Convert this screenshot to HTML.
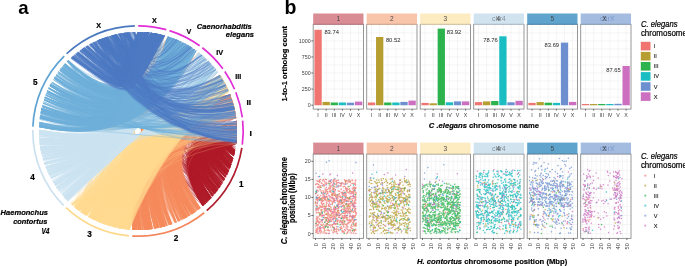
<!DOCTYPE html>
<html><head><meta charset="utf-8"><style>
html,body{margin:0;padding:0;background:#fff;width:685px;height:266px;overflow:hidden}
svg{display:block;font-family:"Liberation Sans", sans-serif;will-change:transform}
</style></head><body>
<svg xmlns="http://www.w3.org/2000/svg" width="685" height="266" viewBox="0 0 685 266" font-family='"Liberation Sans", sans-serif'><g fill="none" stroke-linecap="butt">
<path d="M231.2 164.4Q211.3 147.4 236.6 140.4M219.6 187Q175.7 141.2 236.7 123.7M234.1 154.8Q215 141.2 237 133M228.1 172Q196.9 144.1 237 132.2M233 158.8Q210 141.7 237 132M217.6 189.9Q181.4 146.6 236.9 136.2M234.9 151.1Q228.1 146.1 236.2 143.5M202.9 205.7Q159.9 140.6 237 128.4M209.9 199.1Q162.4 139.4 236.5 121.4M217.4 190.1Q137.9 131 216.9 71.2M219.4 187.4Q187.3 149.1 236.5 140.8M214.3 194.1Q125.3 132.3 199.3 53.3M234.7 152Q218.3 140.7 237 133.6M227.8 172.7Q199.7 146.5 236.8 136.7M222 183.5Q177.7 140.4 236.6 121.7M230 167.5Q201.1 143.3 237 131.7M223.7 180.5Q190.7 146.4 236.9 135.5M231.8 162.6Q211.8 146.1 236.7 138.7M234.4 153.7Q211.6 138.4 237 128M217 190.7Q178.3 145 237 132.9M228.6 171Q197.7 143.8 237 131.8M233.8 155.9Q188.5 130.5 233.3 104M208.7 200.3Q161.4 139.3 236.6 121.8M226.1 176.2Q194.8 145.9 236.9 135M206.9 202.1Q170.3 146.3 236.7 139.2M210.3 198.6Q139.2 131.1 224.4 82.6M203.3 205.4Q164.6 143.8 236.9 135.8M222.8 182.1Q190.8 147.7 236.8 137.9M216.6 191.2Q179.3 146 236.9 135.2M210.9 198Q163.9 139.7 236.6 122M231.8 162.6Q206.2 142.5 237 132M216.9 190.8Q184.7 149.7 236.3 142.3M230.6 166Q209.5 147.5 236.6 140.2M233.1 158.4Q212.7 142.9 236.9 134.6M215.3 192.9Q180.1 147.7 236.7 138.9M233 158.9Q131.4 134.1 177.3 40.1M222.1 183.2Q191.8 149.2 236.5 140.7M234.7 152.3Q166.6 125.6 220.2 75.8M211 197.9Q177.6 149.3 236.2 143.4M234.3 153.8Q218.3 142.3 236.9 135.6M220.1 186.3Q189.5 150 236.4 142.3M226.9 174.5Q191.9 142.9 237 129M231.1 164.6Q212.7 148.5 236.4 142.3M207.2 201.8Q168.6 144.8 236.9 135.9M235.1 150.2Q153.2 126.2 206.4 59.4M229.8 168.1Q206.3 147.2 236.7 139M214.2 194.2Q173.2 143.6 237 130.6M208.2 200.8Q169.6 144.9 236.9 135.7M221.4 184.3Q183 144 237 130.3M223.2 181.5Q190 146.7 236.9 135.9M210.2 198.8Q174.7 147.6 236.6 140.4M231.4 163.9Q205.1 142.9 237 132.3M213.1 195.5Q173.6 144.7 237 133.4M206.3 202.7Q123.3 131.2 203.9 57.1M234.8 151.9Q159.7 125.7 214.1 67.7M231.7 163.1Q145.9 129.1 206.6 59.6M212.3 196.4Q174.8 146.1 236.8 136.5M230.3 166.9Q206.4 146.2 236.8 137.5M219.5 187.2Q174 140.4 236.6 121.6M230.9 165.2Q198.3 140 236.8 125.5M232.7 160Q200.3 137.4 236.6 121.9M215.5 192.7Q179.4 147 236.8 137.5M203.5 205.2Q157 138.6 236.6 122.4M206.5 202.5Q166.7 143.7 237 133.9M233.8 156.2Q219 144.9 236.7 139.2M234.4 153.5Q217.3 141.4 237 134.1M219.3 187.4Q187.8 149.6 236.4 141.6M228 172.2Q199.5 145.9 236.9 135.7M212.8 195.8Q176.6 147.1 236.7 138.4M212.3 196.4Q169.6 142.4 237 128.4M220.1 186.3Q124.2 134.2 187.8 45.4M231.2 164.4Q203 142.1 237 130.3M234.1 154.7Q212.6 139.8 237 130.3M228.3 171.6Q202.2 147.3 236.7 138.4M208.4 200.6Q168.1 143.7 237 133M205.6 203.4Q115.5 136.7 162.7 35.1M234.6 152.6Q218.2 141.2 236.9 134.2M221.4 184.4Q189 148.1 236.7 138.7M224.7 178.8Q191.2 145.5 237 133.9M230.8 165.4Q122.3 140.3 152.1 33M229.8 168.1Q196.8 141.3 236.9 127.2M202.8 205.8Q162.4 142.4 237 132.8M213 195.6Q177.1 147.3 236.7 138.8M232.3 161.1Q214 146.1 236.6 139.4M227.4 173.5Q187 139.6 236.5 121.5M219.1 187.8Q179.2 143.7 237 129.9M233.8 155.9Q215.9 142.7 236.9 135.3M218.2 189.1Q184 147.9 236.7 138.7M216.5 191.4Q181.6 147.8 236.7 138.8M217.3 190.3Q178.6 144.9 237 132.7M226.9 174.6Q123 137.3 169.3 37.1M203.4 205.3Q167.6 146.2 236.5 140.7M231.2 164.3Q121.9 141.2 147.5 32.5M204.7 204.2Q158.7 139.2 236.7 123.6M221.2 184.6Q188.1 147.7 236.8 137.9M214.7 193.6Q176.4 145.5 236.9 134.6M206.6 202.4Q148 133.6 232.9 102.7M234.8 152Q162.7 125.5 216.9 71.2M207.2 201.8Q165.2 142.3 237 130.3M219.4 187.4Q176.2 141.7 236.8 125M206.6 202.4Q149.8 134.3 233.7 105.7M219.5 187.3Q177.9 142.6 236.9 127.2M222.1 183.2Q191.6 149.2 236.5 140.6M210.7 198.2Q174.9 147.3 236.6 139.7M212.8 195.9Q179.3 149.3 236.3 142.7M213.5 195.1Q176.3 146.4 236.8 136.8M229.6 168.7Q201 144.2 237 133.1M224.4 179.3Q189.8 145 237 132.7M233.1 158.7Q218.5 146.9 236.4 141.6M229.6 168.6Q200 143.5 237 131.8M214.9 193.4Q168 140 236.5 121.5M230 167.6Q201.4 143.6 237 132.3M212.9 195.7Q169.4 142 236.9 127.1M228.8 170.5Q206.7 149.6 236.3 142.6M222.7 182.2Q119.2 138.9 160.3 34.5M233.8 155.9Q212.1 140.4 237 131M228.1 172.1Q198.8 145.4 236.9 134.6M234.5 153Q221 143.2 236.8 137.8M230 167.6Q207.6 147.6 236.6 139.9M234.6 152.9Q147 127.9 200.5 54.2M223.8 180.5Q194.1 148.8 236.6 140M219.9 186.6Q188.1 149.2 236.5 140.8M204.7 204.1Q161.7 141.1 237 128.5M232.8 159.7Q208 141.2 237 130.6M215 193.3Q181 148.7 236.5 140.8M209.7 199.2Q162.4 139.4 236.6 121.7M224.7 178.8Q188.1 143.6 237 129.7M216.8 191Q178.9 145.5 237 134.1M206.8 202.1Q171.6 147.4 236.4 141.5M223.2 181.5Q140.6 130.8 213.6 67.1M234.3 154.1Q217.7 142.2 236.9 135.4M219.9 186.7Q184.7 146.7 236.9 136.1M220.7 185.4Q179.8 142.7 236.9 127.3M209.1 199.9Q170.6 145.1 236.9 135.8M220.5 185.7Q183.8 145.4 237 133.4M210.5 198.5Q177.1 149.3 236.2 143.6M221.9 183.6Q162.6 134.1 232.3 100.8M231 165Q206.7 144.8 236.9 135.5M219.8 186.7Q187.7 148.9 236.6 140.4M229.9 167.8Q201.2 143.6 237 132.3M213 195.6Q168.3 141.3 236.8 125.3M227.1 174.1Q199.8 147.7 236.7 138.7M230.1 167.3Q206.9 146.9 236.7 138.7M230.1 167.4Q204.4 145.2 236.9 135.6M232.7 159.8Q214.1 145 236.8 137.9M207.6 201.4Q173.1 148.1 236.3 142.4M228.4 171.5Q194.4 142.3 237 128.3M230.3 166.8Q207.7 147 236.7 139M228.6 170.9Q194 141.7 236.9 127.2M228.4 171.4Q197.1 143.8 237 131.6M216.1 191.8Q178 145.5 236.9 134.2M234.8 151.7Q219.6 141.2 236.9 134.7M220.5 185.8Q186 147 236.8 136.5M228 172.3Q139.4 130.7 204.9 58M228.4 171.3Q195.7 142.9 237 129.7M217.1 190.5Q161.6 135.9 234.3 107.9M231.9 162.2Q206.4 142.4 237 131.8M227.1 174.2Q195.3 144.8 237 133M228.4 171.3Q202.8 147.5 236.7 138.8M233.1 158.4Q216.7 145.5 236.6 139.4M217 190.6Q175.3 142.9 237 128.3M234.7 152.2Q227 146.4 236.2 143.5M234.8 151.9Q195.6 130.4 234.3 108.1M204 204.8Q157.2 138.5 236.6 122M214.6 193.7Q172.6 143 237 129M216.3 191.6Q180.4 147 236.8 137.4M212.9 195.7Q167.9 141.1 236.8 125M209.1 199.9Q174.7 148.4 236.3 142.5M210.5 198.4Q168.1 142.6 237 129.4M202.9 205.8Q162.6 142.5 237 133M229.7 168.4Q202.8 145.1 236.9 135M228.9 170.2Q199 144.1 237 132.7M227.7 172.9Q201.5 147.9 236.7 139.3M232.3 161.2Q208.9 143 237 133.5M229.5 168.8Q207.2 148.4 236.5 140.9M230.4 166.7Q198 140.9 236.9 127M207.6 201.4Q169.8 145.5 236.8 137.2M226.8 174.9Q196.7 146.2 236.9 135.7M227.2 174Q154.5 130.2 222.6 79.7M217.3 190.3Q116.9 140.4 146.8 32.4M212.6 196.1Q120.3 134 186.9 44.9M205.1 203.8Q168.8 146.1 236.6 139.7M203.7 205Q159.6 140.2 236.9 126.6M232.5 160.6Q203.7 139.6 236.9 126.6M216 192Q174.8 143.4 237 129.7M234.1 154.6Q220.9 144.7 236.6 139.6M230.2 167.2Q174.9 131.8 231.7 99M235 151Q221 141.4 236.9 135.5M208 201Q162.2 140 236.8 124.1M219.7 186.9Q174.1 140.3 236.5 121.4M204.7 204.1Q115.5 136.4 164.3 35.6M206.5 202.5Q164 141.9 237 129.5M231.3 164.1Q205.3 143.2 237 132.7M234.2 154.4Q213.4 140 237 130.8M228.4 171.3Q199 145 237 134.1M225.7 176.9Q195.9 147.3 236.8 137.5M204.8 204.1Q115.9 138.2 148.9 32.6M232.2 161.4Q210.3 144.1 236.9 135.5M206.6 202.4Q172.7 148.5 236.2 143.7M219 187.9Q124.6 133.7 190.8 47.3M230.8 165.6Q199.2 140.8 236.9 127.1M230.9 165.3Q181.8 133.1 233.7 105.6M230 167.5Q209.2 148.6 236.4 141.7M233.2 158.3Q209.4 140.9 237 130.6M222.7 182.2Q189.6 146.9 236.9 136.4M217.7 189.7Q175 142.2 236.9 126.5M230.5 166.2Q206.1 145.4 236.9 136.3M214.3 194Q176.9 146.1 236.9 135.9M235.4 148.5Q222.4 139.9 237 134.1M216 192Q179.4 146.6 236.8 136.5M217.4 190.1Q179.8 145.5 237 134M217.2 190.3Q142.7 131.2 222.2 79M213.1 195.5Q165.8 139.8 236.5 121.3M235 150.8Q217.9 139.4 237 131.8M209.3 199.7Q173.4 147.2 236.6 139.9M214.7 193.5Q179.3 147.6 236.7 138.8M208 201Q169 144.6 236.9 135.1M219.1 187.7Q175.8 141.6 236.8 124.9M209.8 199.1Q171.9 145.7 236.8 136.6M203.7 205.1Q163.7 142.9 237 133.6M213.5 195.1Q175.9 146 236.9 136.1M206.1 202.8Q169.4 146 236.7 139M230.8 165.5Q194.4 138.3 236.5 121.2M234.6 152.5Q224.4 145 236.5 141M216.9 190.8Q183.5 148.8 236.5 140.7M230.4 166.7Q204.6 144.8 236.9 135M217.9 189.5Q180.2 145.5 237 133.9M227.1 174.2Q188.2 140.6 236.7 123.8M223.7 180.5Q195.3 149.7 236.4 141.7M219 187.9Q183.8 146.9 236.8 136.6M221.1 184.7Q184 144.9 237 132.3M226.2 175.9Q119.7 140.4 152.5 33.1M203.1 205.6Q164.1 143.5 236.9 135.2M233.2 158.2Q218.2 146.3 236.5 140.7M212.5 196.2Q171.9 143.9 237 131.8M204.6 204.2Q157.4 138.5 236.5 121.5M226.2 176Q200.7 150 236.3 142.4M221.1 184.8Q184 144.9 237 132.3M202.9 205.7Q161.1 141.4 237 130.4M214.4 194Q172.7 143.2 237 129.6M210.7 198.2Q167.6 142.1 237 128.3M234.3 153.8Q207.8 136.6 236.7 123.8M231.3 164.2Q201.9 141.3 237 128.8M233.8 155.9Q213 141 237 132.1M226.2 176Q194.6 145.7 236.9 134.5M208.2 200.8Q171.4 146.3 236.7 138.6M235 150.8Q209 134.9 236.6 121.9M205.1 203.8Q165.1 143.3 237 133.7M214.4 194Q178.2 147 236.8 137.8M234.2 154.3Q141.7 129.6 193.7 49.2M232.1 161.8Q204.2 140.7 237 128.6M226.6 175.2Q193.4 144.3 237 131.9M225.5 177.3Q163.6 132.5 230.3 95.1M228.9 170.2Q205.5 148.4 236.5 140.7M233.9 155.4Q217.2 143.1 236.9 136.3M216.9 190.8Q116.9 140.9 142.8 32.1M203.5 205.3Q166.7 145.4 236.7 139M233.2 158.3Q213.2 143.1 236.9 135M209.3 199.7Q171 145.3 236.9 136.1M210.2 198.7Q116.5 139.8 142.2 32.1M227.2 173.9Q188 140.3 236.7 123.2M225.6 177.2Q194.6 146.6 236.9 136.1M209.4 199.6Q161.8 139.3 236.5 121.3M231.4 163.9Q160.9 128.5 222 78.7M220.6 185.5Q184.8 146 236.9 134.5M230.6 166.1Q133.6 132.5 189.5 46.4M218.4 188.8Q176.2 142.4 236.9 127M224.5 179.1Q181.8 140.2 236.6 121.6M235 151Q227.5 145.5 236.3 142.7M216 192Q137.1 131 217.3 71.7M210.8 198.1Q173.8 146.4 236.8 137.8M234.5 153.1Q223.1 144.7 236.6 140.2M228.3 171.5Q197.2 144 237 132M233.9 155.5Q209.3 138.6 236.9 127.3M230.7 165.8Q183.1 133.8 234.2 107.8M232.8 159.4Q205.1 139.4 236.9 126.9M215.3 192.9Q173.8 143.3 237 129.5M217.7 189.7Q149.7 132.2 227.7 89M209.4 199.5Q167 142.4 237 129.5M227.2 174Q191.5 142.4 237 127.9M221.9 183.5Q187.8 146.6 236.9 135.8M221.1 184.9Q192 150.8 236.2 143.6M232.9 159.3Q210.1 142.2 237 132.8M234.1 154.7Q214.5 140.8 237 132.3M231.7 163Q197.2 137.9 236.6 121.6M222.2 183.1Q193.7 150.7 236.2 143.4M208.5 200.5Q168.8 144.2 237 134.1M235.5 148.4Q224.7 141.2 236.8 136.6M216.4 191.5Q183 148.9 236.5 140.9M223.9 180.3Q190.3 146 236.9 134.6M228.4 171.3Q191.8 140.7 236.8 124.9M208.6 200.4Q174.2 148.4 236.3 142.5M215.4 192.7Q154.5 134 232 100M234.9 151.4Q185.8 127.5 230.8 96.6M228.8 170.3Q120.9 140.7 150.8 32.8M215.7 192.4Q119.5 135.6 178.3 40.6M215.3 192.8Q173.6 143.1 237 129M210.7 198.2Q167.8 142.3 237 128.7M234.8 151.8Q226.5 145.7 236.3 142.5M210.7 198.2Q168.1 142.5 237 129.1M222.3 183Q148.5 131.1 222.9 80M224.5 179.2Q198.2 150.9 236.2 143.7M231.3 164.1Q201.7 141.1 237 128.3M219.3 187.4Q187.3 149.2 236.5 140.9M228.9 170.3Q197.2 143.1 237 130.4M216.5 191.3Q183.5 149.2 236.4 141.4M232 162Q202.2 139.9 236.9 126.6M221.1 184.9Q187.9 147.7 236.8 137.9M207.7 201.3Q172.3 147.4 236.5 141M235.2 149.9Q209.6 134.4 236.5 121.5M216.8 191Q182.9 148.5 236.6 140.1M224.6 179Q195.1 148.4 236.6 139.3M231.7 163Q206 142.7 237 132.2M215.2 192.9Q169.9 140.9 236.7 123.7M226.2 175.9Q196.2 146.7 236.8 136.5M232.5 160.4Q200.7 137.9 236.7 122.9M231.3 164.1Q205.6 143.4 237 133.1M234.3 154.1Q201.6 134 236 117M206.7 202.3Q168.4 145 236.8 136.5M234.2 154.6Q219 143.4 236.8 137.3M233.2 158.2Q208.7 140.4 237 129.7M230.4 166.6Q198.9 141.4 237 128M217.3 190.2Q176 143.1 237 128.8M217.9 189.5Q177.4 143.6 237 129.7M234.1 154.8Q206.1 136.5 236.7 122.9M221.1 184.8Q177.8 141.2 236.7 123.7M230.6 165.9Q209.2 147.2 236.6 139.7M225.2 177.9Q197.3 149.1 236.5 140.7M223.7 180.5Q193.7 148.6 236.6 139.6M229.8 168.2Q205 146.4 236.8 137.5M228.1 172Q202 147.6 236.7 138.8M232.6 160.3Q215.4 146.3 236.6 140M228.8 170.6Q197.9 143.7 237 131.7M235.2 150Q215.8 137.6 237 128.6M222.3 182.9Q189.8 147.6 236.8 137.6M203 205.6Q160.7 141.1 237 129.5M207 202Q168.5 144.8 236.9 136.1M216.5 191.4Q173.6 142.3 236.9 127M219.5 187.3Q118.2 138.5 161.6 34.9M229.9 167.8Q158.5 129.3 222.4 79.2M207.7 201.3Q171.8 147 236.6 140.2M234.7 152.2Q223.1 143.8 236.7 139.1M213.5 195.1Q178.4 147.9 236.6 139.9M232.7 160Q205.5 140.1 237 128.1M227.4 173.6Q193.7 143.4 237 130.3M210.6 198.3Q140.7 131.4 225.5 84.7M228.5 171.1Q182.7 136.3 235.4 113.1M205.6 203.4Q159.1 139.2 236.7 123M202.8 205.8Q168.1 146.9 236.3 142.4M230.9 165.1Q208.4 146 236.8 137.7M206.4 202.6Q167.2 144.2 236.9 135M204.8 204.1Q168.5 146.1 236.6 139.8M215.9 192.1Q170.2 140.7 236.7 122.9M222.6 182.4Q186.6 145 237 132.6M234.8 151.8Q223.1 143.5 236.7 138.8M202.7 205.9Q168.1 147 236.3 142.6M233 158.9Q219.7 148.1 236.2 143.4M210.7 198.2Q163.6 139.7 236.6 121.9M234.4 153.6Q125.7 139.3 152.3 33M216.2 191.7Q182.7 148.8 236.5 140.9M221.4 184.3Q117.8 140.7 149 32.6M224.4 179.4Q195.9 149.2 236.5 140.8M203.9 204.9Q159 139.7 236.8 125.4M231 165Q121.5 141.6 145.6 32.3M227.8 172.7Q194.7 143.3 237 130.3M234.7 152.3Q223.4 144.1 236.6 139.6M215.6 192.5Q178.2 146 236.9 135.4M221.9 183.6Q187.6 146.5 236.9 135.6M227.6 173.1Q198.7 146.2 236.9 136M219.2 187.7Q120.2 136.3 174.8 39.1M232.7 159.8Q209.5 142.2 237 132.6M234.8 151.8Q215.7 139 237 130.4M229.9 167.9Q209.6 149.3 236.3 142.7M224.6 178.9Q192.3 146.3 236.9 135.4M217 190.6Q178.7 145.2 237 133.3M225.6 177.1Q189.8 143.5 237 129.7M234.2 154.4Q127.5 137.4 160.7 34.6M229.6 168.6Q200.8 144 237 132.8M204.8 204.1Q165.3 143.6 236.9 134.6M228.4 171.4Q194.2 142.1 237 128M221 185Q169.9 137.3 235.3 112.9M233 158.8Q203.8 138.3 236.8 124.8M225.7 176.9Q196.8 147.8 236.7 138.5M228.6 170.8Q177.6 134.2 233.9 106.4M234.7 152.1Q179.2 126.6 228 89.9M226.9 174.6Q187.1 140.3 236.7 122.9M214.8 193.5Q167.7 139.9 236.5 121.3M221.8 183.8Q182.5 143.4 237 128.9M215.1 193.1Q171.6 142 236.9 126.5M226.1 176.2Q154.9 130.7 224.1 82.2M233.8 156Q221.1 146.1 236.4 141.4M234.2 154.4Q208.6 137.4 236.8 125.3M233.2 158.2Q204.9 138.4 236.8 125.4M219.6 187Q165 136.1 234.4 108.4M209.2 199.7Q150 133.9 232.7 102.3M234.8 151.9Q212.8 137.6 236.9 127.3M224.1 179.9Q192.2 147 236.8 136.6M228.8 170.4Q127.6 135 179.6 41.2M234 155Q211.2 139.2 237 128.9M226.1 176.2Q189.4 142.5 237 127.9M227.1 174.1Q198.8 147 236.8 137.3M202.8 205.8Q156 138.2 236.6 121.7M224.1 179.8Q131.7 132.3 198.6 52.7M216.2 191.7Q176.7 144.5 237 132.1M219.8 186.8Q178.1 142.5 236.9 126.9M208.3 200.7Q115.7 137.8 157.5 33.9M209.4 199.6Q170.4 144.8 236.9 134.9M218.4 188.8Q175.9 142.3 236.9 126.6M219.5 187.2Q182.4 145.5 237 133.6M224.6 179Q121.6 137.4 169.1 37M231.1 164.7Q123 139.7 155 33.5M203.8 205Q161.5 141.4 237 129.8M214.5 193.8Q179.1 147.6 236.7 138.9M234.9 151.2Q218 139.8 237 132.3M234.2 154.4Q221.2 144.7 236.6 139.7M229.7 168.3Q203.3 145.3 236.9 135.4M222 183.4Q190.1 148.2 236.7 138.8M215.6 192.5Q116.7 139 155.6 33.6M234.8 152Q212.5 137.5 236.9 127M234.5 153.2Q225.8 146.6 236.2 143.4M219.5 187.2Q170.1 138.4 235.9 116.1M210.8 198.1Q126.7 131.3 206.5 59.5M233.8 155.9Q217.6 143.8 236.8 137.3M203.8 205Q161.6 141.4 237 129.9M228.2 171.8Q202.1 147.4 236.7 138.5M233.9 155.4Q214.3 141.3 237 133M228.3 171.5Q202.3 147.3 236.7 138.4M226.7 175Q128.7 133.8 187.6 45.3M233.2 158.3Q218.8 146.8 236.4 141.6M234.8 151.5Q224.7 144.2 236.6 140.2M232.3 161.2Q217.4 148.7 236.2 143.6M204.9 203.9Q168.8 146.3 236.6 140.1M230 167.7Q203.8 145.1 236.9 135.2M215.6 192.5Q169.1 140.2 236.6 121.9M223.2 181.4Q163 133.6 231.7 98.9M226.9 174.6Q186.2 139.9 236.6 121.9M233.9 155.5Q217.5 143.4 236.8 136.8M203.2 205.5Q160.8 141.1 237 129.5M234.1 154.7Q216.9 142.2 236.9 135.1M218.4 188.8Q127.4 132.5 198.7 52.8M217.5 190.1Q177.4 144 237 130.6M232.7 160Q135.1 132.1 187 45M228.2 171.8Q121.6 139.4 158.2 34.1M223.1 181.5Q189.7 146.5 236.9 135.6M210.9 198Q175.7 147.9 236.5 140.7M228.5 171.2Q196.3 143.1 237 130.3M230.1 167.2Q202.7 144 237 133.3M232.2 161.4Q122.7 141 147.8 32.5M213.1 195.5Q177.2 147.3 236.7 138.8M206 202.9Q147.3 133.5 232.7 102.3M234.9 151.2Q221 141.5 236.9 135.7M203 205.7Q164.2 143.7 236.9 135.6M219 187.9Q186.8 149.1 236.5 140.9M221.3 184.5Q186.4 146.3 236.9 135.2M233.2 158.3Q180.3 129.5 230.9 96.8M222.1 183.3Q185.9 145.2 237 132.8M233.1 158.4Q151.8 127.7 210.4 63.4M220.1 186.3Q187.7 148.6 236.6 139.8M203.4 205.3Q162.3 142.1 237 131.8M228.2 171.8Q200.2 146 236.9 136M204.8 204.1Q162.3 141.5 237 129.6M206.7 202.2Q171.4 147.3 236.5 141.3M234.7 152.1Q220.5 142.1 236.9 136.2M219.2 187.6Q175 141.1 236.7 123.6M212.7 195.9Q171.4 143.4 237 130.7M218.3 188.9Q183.3 147.3 236.8 137.4M207.2 201.8Q170.4 146.2 236.7 138.9M234.4 153.6Q199.4 132.8 235.5 114.1M233.1 158.6Q126.9 137.3 163.5 35.3M230.8 165.4Q206 144.7 236.9 135.2M217.3 190.3Q172.1 140.9 236.7 123.2M234.4 153.4Q212.4 138.6 237 128.5M219.4 187.4Q118.4 138.2 163.6 35.4M226.9 174.6Q194.3 144.4 237 132.2M232.8 159.6Q206.4 140.3 237 128.7M220.9 185.1Q186.5 146.8 236.9 136.2M233 158.8Q217.2 146.2 236.6 140.4M232.2 161.4Q211.8 145 236.8 137.1M209.5 199.5Q166.1 141.8 237 128M234.3 153.9Q213 139.3 237 129.8M216.6 191.2Q180.3 146.7 236.8 136.6M212.4 196.4Q176.3 147.2 236.7 138.8M220.1 186.3Q177.2 141.6 236.8 124.9M232.7 160Q212.7 144.3 236.8 136.5M228.8 170.4Q195.4 142.1 237 128.3M226.7 174.9Q186 139.9 236.6 121.9M223.6 180.8Q190.5 146.5 236.9 135.6M218.2 189Q186.6 149.9 236.3 142.4M219.5 187.2Q186.6 148.5 236.6 139.6M230.8 165.6Q210.9 148.1 236.5 141.4M207 202Q168.9 145.1 236.8 136.7M232 162.1Q198.1 137.8 236.6 121.7M230.6 166Q203.9 143.8 237 133.3M225.6 177.1Q185.2 140.8 236.7 123.6M221.3 184.6Q182.3 143.7 237 129.7M221.8 183.8Q178.8 141.2 236.7 123.7M233.1 158.6Q206.8 139.8 237 128.1M227.5 173.3Q196.9 145.1 237 133.9M227 174.4Q200.2 148.2 236.6 139.6M225.6 177.1Q189.4 143.1 237 129M228.7 170.7Q196.3 142.9 237 129.9M217.4 190.2Q124.7 133.2 193.6 49.1M218.2 189Q178.7 144.1 237 130.9M231.8 162.8Q207.5 143.4 237 133.7M208.7 200.3Q165.4 141.7 237 128.2M209.1 199.9Q163.2 140.2 236.7 123.9M204.7 204.1Q164.8 143.2 237 133.7M228.1 172.1Q203.1 148.4 236.6 140.2M221.9 183.5Q125.4 134.1 188.3 45.7M207.2 201.8Q163.9 141.5 237 128.3M216.4 191.5Q123.5 133.5 191.8 47.9M212.6 196.1Q169.8 142.5 237 128.4M224.3 179.5Q189.3 144.7 237 132.2M234.4 153.5Q224.5 146 236.4 142.3M217.6 189.8Q121 135.2 181.3 42M213 195.6Q179.4 149.1 236.4 142.3M229.9 167.9Q207.1 147.6 236.6 139.7M224.6 178.9Q188.7 144 237 130.7M235.2 150Q168.8 124.9 220.6 76.4M230 167.6Q202.3 144.1 237 133.4M223.7 180.5Q190.7 146.4 236.9 135.5M219.3 187.5Q186.4 148.6 236.6 139.7M212.5 196.2Q172 144 237 132M212.6 196.1Q174.1 145.3 236.9 134.9M202.9 205.7Q160.6 141.1 237 129.5M234.1 154.9Q214.9 141.3 237 133.1M232.5 160.6Q211.8 144.3 236.9 136.3M219.6 187.1Q187.6 149.2 236.5 140.8M228.1 172.1Q169.2 132.2 231 97M228.8 170.3Q203 146.8 236.8 137.7M210 198.9Q174.5 147.6 236.6 140.4M230 167.6Q195.3 140.1 236.8 124.8M223.7 180.6Q195 149.6 236.4 141.5M231.9 162.3Q121.4 142.9 138.3 32M230.6 166Q199.5 141.3 237 128M209.2 199.8Q172.4 146.5 236.7 138.6M209.8 199.2Q171.8 145.6 236.9 136.4M234.6 152.5Q222.2 143.5 236.7 138.5M229.9 167.9Q146.6 129.4 211 64.2M211.3 197.6Q171.9 144.7 237 134M234.6 152.8Q123.7 142.3 139 32M234.2 154.4Q208.5 137.4 236.8 125.2M225.6 177Q197.1 148.2 236.7 139.2M231.2 164.3Q148.8 128.8 211 64.1M204.2 204.7Q160.4 140.5 236.9 127.2M204.1 204.7Q158.4 139.3 236.8 124.1M230.4 166.6Q195.5 139.5 236.7 123.8M228.7 170.8Q202.4 146.7 236.8 137.5M229.5 168.9Q203.5 145.9 236.8 136.4M203.8 205Q162 141.7 237 130.6M215.8 192.2Q178.5 146.1 236.9 135.6M234.9 151.4Q135.7 132.2 179.9 41.3M220 186.5Q138.8 131 215.3 69.1M210.8 198.1Q176 148.2 236.5 141.3M206.6 202.4Q162.6 140.9 236.9 127.2M210.2 198.7Q163.4 139.8 236.6 122.4M233.1 158.6Q207 139.8 237 128.2M225.2 177.9Q119.3 140.4 152.4 33.1M231.8 162.7Q202 140.2 236.9 127M227.1 174.1Q199.2 147.3 236.8 137.9M230.6 166Q195.9 139.4 236.7 123.7M207.1 201.9Q170.9 146.7 236.6 139.9M207.9 201.1Q170.1 145.6 236.8 137.2M219.1 187.8Q186.1 148.6 236.6 139.8M219.3 187.5Q185.6 147.9 236.7 138.6M221 184.9Q190.1 149.4 236.5 141.1M233.8 155.8Q208.7 138.5 236.9 127M234 155.4Q210.1 139 237 128.1M234.3 153.9Q212.3 138.9 237 128.9M221.2 184.6Q183.8 144.7 237 131.8M209.1 199.9Q172.3 146.5 236.7 138.6M207.9 201.1Q165.9 142.4 237 130.3M209.5 199.5Q171.1 145.3 236.9 136M233.9 155.6Q204.3 136.3 236.6 121.8M230 167.7Q209.8 149.2 236.3 142.7M206.8 202.2Q163.7 141.6 237 128.6M234.1 154.6Q125.9 139 154.4 33.4M227.5 173.2Q197.1 145.2 237 134.1M212.6 196.1Q169.9 142.5 237 128.6M216.6 191.2Q174.5 142.8 237 128M228.6 170.9Q192.6 140.9 236.8 125.4M232.7 160Q208.9 142 237 132M234.2 154.3Q210.1 138.1 236.9 126.9M220.5 185.8Q190.3 150.2 236.3 142.6M234.5 153.3Q208.5 136.5 236.8 124M233.1 158.4Q186.4 131.1 233.2 104M205.4 203.5Q162.4 141.3 237 128.7M204.2 204.6Q138.8 131.2 227.9 89.5M229.9 167.8Q201 143.5 237 132M227.5 173.3Q200.8 147.8 236.7 139M209.1 199.9Q167.5 142.9 237 130.8M229.7 168.3Q204.7 146.2 236.8 137.2M231 164.9Q213.3 149.3 236.2 143.4M209.3 199.7Q163.9 140.5 236.8 124.8M204.1 204.7Q161.8 141.4 237 129.7M230.1 167.3Q201.6 143.4 237 132.1M227.6 173.1Q192.6 142.3 237 128.1M233.2 158.3Q214.3 143.9 236.9 136.4M234.5 153.3Q221.7 144 236.7 139M232.1 161.8Q214.3 147 236.5 140.7M228.1 171.9Q191.2 140.8 236.8 124.9M227 174.4Q187.4 140.3 236.7 123M234.4 153.6Q212 138.5 237 128.3M227.2 174Q195.4 144.7 237 132.9M231.8 162.7Q166.1 128.6 225.1 84M225.5 177.3Q188.7 142.9 237 128.5M233.9 155.8Q206.2 137.2 236.8 124.1M209.5 199.4Q165.3 141.3 236.9 126.6M217.7 189.8Q176.7 143.3 237 129.1M233.2 158.3Q219.5 147.2 236.4 142.3M223.6 180.7Q180.1 140.1 236.5 121.3M234.9 151.5Q134.7 132.7 177.8 40.3M206.6 202.4Q168.5 145.1 236.8 136.8M232.3 161Q211.2 144.3 236.9 136M235.1 150.2Q224.8 143 236.7 138.8M222 183.4Q191.9 149.5 236.5 141.3M209.9 199.1Q116.8 140.1 138.3 32M234.6 152.6Q219.5 141.9 236.9 135.5M211.4 197.4Q171.4 144.3 237 133M215.5 192.5Q179.8 147.2 236.8 137.9M235.5 148.4Q216 136.4 236.9 127.1M232.3 161.2Q125.5 138 161.5 34.8M214.3 194Q173.3 143.6 237 130.6M235.3 149.3Q218.2 138.3 237 130.5M209.1 199.9Q166.9 142.5 237 129.9M203.1 205.6Q162.6 142.4 237 132.7M227 174.3Q190.8 142.1 236.9 127.3M234.8 151.8Q224.3 144.2 236.6 140.1M218.4 188.7Q183.7 147.5 236.8 137.8M224.2 179.7Q181 140.1 236.5 121.4M230.8 165.6Q210.6 147.9 236.5 141M234.1 154.7Q209.9 138.3 236.9 127.1M219.3 187.6Q176 141.7 236.8 124.9M207.8 201.2Q115.7 138 154.7 33.4M234.9 151.5Q221.3 142 236.9 136.3M213 195.6Q174.6 145.4 236.9 135M210.6 198.3Q176.6 148.8 236.3 142.5M228.2 171.7Q205.4 149.7 236.3 142.5M224.2 179.7Q190.5 145.7 236.9 134.2M204.9 203.9Q168.2 145.8 236.7 139.1M219.9 186.6Q183.4 145.7 237 134.1M231 164.9Q210.3 147.1 236.6 139.8M206.3 202.7Q164.5 142.3 237 130.6M234.5 153Q213 138.6 237 128.8M231.3 164.1Q209.2 145.7 236.8 137.5M228.5 171.2Q204.2 148.4 236.6 140.4M204.1 204.7Q157.8 138.9 236.7 122.9M224.7 178.8Q195.2 148.2 236.7 139.1M205.2 203.7Q167 144.7 236.8 136.7M225.8 176.8Q193.2 145.4 237 133.8M232 161.9Q207.5 142.8 237 132.7M227.3 173.8Q201.2 148.4 236.6 140.1M216.2 191.8Q145.4 131.7 225.6 84.9M234.7 152.4Q223.9 144.6 236.6 140.4M209.6 199.4Q171.9 145.9 236.8 137.2M235.7 146.9Q194.7 127.2 232.7 102.2M215.5 192.6Q146.9 132 227.2 88.1M216.2 191.7Q135.8 131 215.5 69.4M210.1 198.9Q173.9 147 236.7 139.3M229.8 168.1Q199.6 142.8 237 130.6M230.5 166.2Q210.4 148.4 236.4 141.6M233.1 158.5Q206.3 139.4 236.9 127.3M232.7 159.8Q151.2 128 210.6 63.7M221.5 184.2Q177.9 140.9 236.7 123M215.5 192.5Q174.2 143.3 237 129.6M229.9 167.8Q196.7 141 236.9 126.7M225.5 177.3Q196.6 148 236.7 138.9M203.5 205.2Q167.8 146.3 236.5 140.9M231 164.9Q147 129.1 209.4 62.4M202.9 205.8Q155.8 138.1 236.5 121.4M226.7 175Q187.2 140.6 236.7 123.6M204.2 204.6Q168.5 146.5 236.5 140.8M217 190.7Q181.5 147.2 236.8 137.6M228.4 171.4Q204.7 148.9 236.5 141.3M226.7 175Q200.7 149.1 236.5 141M227.3 173.8Q178.2 135.8 234.8 110.4M210 198.9Q162.8 139.5 236.6 121.8M211 197.9Q133.5 130.8 217.3 71.8M219.5 187.2Q118.3 138.4 162.3 35M210.3 198.6Q174.2 147 236.7 139.3M233.2 158.2Q201.7 136.8 236.6 121.6M211 197.9Q116.5 139.9 142.2 32.1M232.1 161.8Q206 141.8 237 130.8M228.9 170.3Q125.2 136.5 172.2 38.1M227.1 174.3Q137.6 131.1 203.9 57.1M203.8 205Q164.9 143.8 236.9 135.4M209.1 199.9Q123.8 131.7 202.1 55.6M215.4 192.7Q170.2 141 236.7 123.9M204.7 204.2Q160.6 140.4 236.9 126.8M208.7 200.3Q171.4 146 236.8 137.9M219.7 186.9Q182.3 145.2 237 133M207.9 201.1Q164.8 141.7 237 128.5M211.2 197.6Q174.9 146.9 236.7 138.7M227.1 174.1Q200.6 148.3 236.6 139.7M230.9 165.1Q212.4 148.8 236.3 142.6M232 162Q200.8 139.1 236.8 124.9M216.5 191.3Q180.5 146.9 236.8 137.1M234.5 153.1Q211.1 137.7 236.9 126.7M225.8 176.7Q192.7 145 237 133M205.1 203.8Q162.4 141.4 237 129.1M224.5 179.2Q189.5 144.7 237 132M221.2 184.6Q181 143 237 128M219 187.9Q184.3 147.3 236.8 137.4M204.8 204.1Q161.7 141.1 237 128.6M224.5 179.1Q188.5 144 237 130.7M227.8 172.6Q201.6 147.8 236.7 139M209.3 199.6Q175.2 148.6 236.3 142.7M230.2 167.2Q203.3 144.4 237 134.1M235.1 150.2Q227.3 144.6 236.4 141.6M212.7 195.9Q172.4 144 237 132M210.6 198.3Q176.7 148.9 236.3 142.7M230.5 166.2Q194.4 138.7 236.6 121.9M232.8 159.4Q212.4 143.6 236.9 135.5M230.4 166.4Q202.9 143.5 237 132.6M231.8 162.6Q154.5 128.1 215.8 69.8M227.2 174Q190.7 141.9 236.9 126.8M219.2 187.6Q187.2 149.2 236.5 141M230.7 165.8Q203.1 143.2 237 132.1M234.4 153.3Q224.7 146 236.3 142.4M224.3 179.6Q193.5 147.6 236.8 137.9M234.3 153.8Q221.4 144.2 236.7 139.1M219.1 187.8Q188.9 150.7 236.2 143.7M217.1 190.5Q173.3 141.7 236.8 125.3M234.4 153.5Q202.6 134 236.1 117.6M217.9 189.4Q182.6 147.1 236.8 137.2M232.8 159.4Q210.2 142.3 237 132.9M234.1 154.7Q210.9 138.8 237 128.3M210.3 198.7Q165.1 140.8 236.8 125.1M228.5 171Q140.9 130.4 206.1 59.1M219 187.9Q117.1 140.9 144.8 32.2M225.6 177.2Q196.4 147.8 236.7 138.5M231.3 164Q207.6 144.5 236.9 135.3M219 187.9Q180.7 144.8 237 132.2M232.8 159.4Q204.9 139.3 236.9 126.6M225.7 176.8Q200 150.2 236.3 142.7M233.8 155.8Q208.4 138.4 236.9 126.7M232.3 161Q216.5 147.8 236.4 142.3M227.4 173.6Q201.9 148.8 236.5 140.7M230 167.6Q203.6 145 236.9 135M216.4 191.5Q178.9 145.9 236.9 135M220.6 185.5Q185.6 146.5 236.9 135.6M214.3 194Q180.7 149 236.4 141.8M215.5 192.6Q177.1 145.3 237 134M228.3 171.6Q188.7 139.3 236.5 121.3M210.6 198.4Q172.8 145.9 236.8 136.7M208.3 200.7Q171.9 146.7 236.7 139.3M210.3 198.6Q174 147 236.7 139.1M214.4 193.9Q173.7 143.8 237 130.9M209.4 199.5Q143.3 131.9 228.4 90.7M232.4 160.7Q202.2 138.9 236.8 125M217.5 190Q176 143 237 128.4M204.6 204.2Q133.3 130.3 222.1 78.8M209.6 199.4Q176 149.1 236.2 143.5M234.9 151.4Q213.8 137.7 237 127.9M231.9 162.3Q214.7 147.7 236.4 141.7M225.7 177Q192.4 145 237 133M214.9 193.3Q169.5 140.9 236.7 123.8M230.4 166.5Q203.6 144 237 133.6M205.1 203.8Q164.6 143 237 132.9M225.7 176.9Q198.5 149.1 236.5 140.9M231.8 162.8Q123 140.3 151.7 33M228.7 170.7Q158.8 129.9 224.1 82.1M203.9 204.9Q160.7 140.8 237 128.2M230.2 167.1Q200.8 142.8 237 130.9M205.5 203.5Q166.8 144.4 236.9 135.9M226.1 176.1Q194.5 145.7 236.9 134.5M205.4 203.5Q160.4 140 236.8 125.4M233.8 156Q217.2 143.6 236.8 137M228 172.2Q189.6 140.1 236.7 123.2M234.3 153.8Q219.5 143 236.8 137M205.4 203.5Q169.4 146.5 236.6 140.3M217.6 189.9Q181.4 146.6 236.9 136.1M228.8 170.5Q203.6 147.3 236.7 138.7M233 158.8Q211.6 142.6 237 133.8M224 180Q182.8 141.2 236.8 124.1M227.3 173.8Q119.8 141.1 148.6 32.6M224.5 179.1Q188.8 144.2 237 131M227 174.4Q186.2 139.7 236.5 121.5M203.9 204.9Q167.2 145.6 236.7 139.2M227 174.4Q190.6 142.1 236.9 127.2M231.3 164.2Q150.8 128.6 213.1 66.5M218.9 188Q185 147.9 236.7 138.5M215.6 192.5Q181.6 148.5 236.6 140.4M214.2 194.2Q177.1 146.4 236.8 136.5M205.6 203.4Q171 147.7 236.3 142.6M229.9 167.7Q203.1 144.7 236.9 134.5M232.6 160.3Q211.5 143.8 236.9 135.5M207.9 201.1Q171.3 146.4 236.7 139.1M221.2 184.7Q191.5 150.3 236.3 142.7M230.1 167.4Q125.1 137.1 168 36.7M231.3 164.1Q148.8 128.8 210.9 64M219.2 187.6Q184.5 147.3 236.8 137.2M207.2 201.8Q166.9 143.5 237 133M227.4 173.5Q198.4 146.2 236.9 136M216 192Q169.7 140.3 236.6 122M221.1 184.8Q180.3 142.6 236.9 127.2M213.5 195Q173.9 144.6 237 133M207.2 201.8Q164.2 141.7 237 128.8M234 155Q222.3 146 236.4 141.6M230.7 165.9Q204.2 144 237 133.6M206.7 202.3Q163.4 141.4 237 128.2M216.3 191.6Q174 142.7 237 127.9M205.6 203.3Q164.7 142.8 237 132.2M225.8 176.8Q198.2 148.8 236.6 140.3M206.4 202.6Q167.3 144.3 236.9 135.1M209.9 199.1Q172.3 145.9 236.8 137.1M223.8 180.4Q185.8 143.2 237 128.7M225.5 177.3Q190.4 143.9 237 130.7M226.8 174.8Q190.9 142.5 237 128M210 198.9Q175.9 148.7 236.3 142.6M222.8 182.1Q195 150.8 236.2 143.5M233.9 155.7Q219.7 145 236.6 139.5M234.1 154.6Q219.3 143.7 236.8 137.8M205.3 203.6Q158.8 139.1 236.7 123M221 184.9Q183.6 144.7 237 131.9M203 205.7Q160.3 140.8 237 128.9M209 200Q171.7 146 236.8 137.8M234.9 151.5Q213 137.3 236.9 127M232.2 161.5Q165.9 128.3 224.4 82.7M229.6 168.6Q201.4 144.4 237 133.6M230 167.4Q201.4 143.4 237 132M234.8 151.9Q223.2 143.5 236.7 138.9M210.9 197.9Q170 143.6 237 131.7M221.1 184.8Q117.9 140.1 152.7 33.1M220.6 185.5Q181.4 143.8 237 129.8M227.1 174.1Q197.5 146.1 236.9 135.7M228.7 170.7Q203.3 147.3 236.7 138.6M224.3 179.6Q182 140.5 236.6 122.5M230.8 165.6Q197.8 140.1 236.8 125.4M232.3 161.3Q204.3 140.4 237 128.1M214.3 194Q175.7 145.2 236.9 134.1M231.3 164Q212.7 148 236.4 141.6M212.7 196Q171.3 143.4 237 130.5M232.9 159.4Q215.9 145.8 236.6 139.5M229.7 168.4Q194.8 140.4 236.8 125.1M234.9 151.3Q214.2 137.9 237 128.3M211.4 197.4Q118.1 135.2 178.4 40.6M223.6 180.7Q188.4 145 237 132.7M206.5 202.5Q162.3 140.7 236.9 126.7M204 204.8Q159.8 140.2 236.9 126.6M233.1 158.6Q204 138.3 236.8 124.7M231.8 162.7Q180.2 131.4 232.3 101M213.4 195.1Q179.9 149.2 236.4 142.3M205.2 203.7Q167 144.7 236.8 136.7M234.1 154.8Q206.2 136.5 236.7 122.9M217.9 189.5Q175.5 142.4 236.9 126.9M205.1 203.8Q162 141.2 237 128.5M206.9 202.1Q115.7 138.1 152.8 33.1M212.3 196.4Q176.2 147.1 236.7 138.7M235.1 150.1Q216.5 138 237 129.5M226.1 176.1Q191 143.5 237 129.9M222.7 182.3Q188.7 146.4 236.9 135.4M211.1 197.7Q173.1 145.7 236.9 136.2M219.4 187.4Q185.9 148.1 236.7 138.8M206.9 202Q128 130.6 212.7 66.1M207.8 201.2Q161.3 139.6 236.7 123.1M227.4 173.6Q195 144.1 237 131.8M230.5 166.3Q196 139.6 236.8 124M230.9 165.2Q154.3 128.6 217.3 71.7M230.6 166Q205.8 145 236.9 135.6M229.5 168.7Q197.6 142.2 237 129M234.4 153.7Q218.2 142.2 236.9 135.5M235.7 146.8Q224.4 139.5 236.9 134.6M210.4 198.5Q168.6 142.9 237 130.3M207.6 201.4Q120.2 132.7 193.3 48.9M215.1 193.1Q158.9 135.6 234.1 107.2M208.2 200.8Q151.7 134.7 233.9 106.6M230.2 167.1Q201.9 143.5 237 132.3M203.3 205.4Q165.8 144.7 236.8 137.7M228.3 171.5Q188.8 139.3 236.5 121.4M230.1 167.3Q203.5 144.7 236.9 134.6M211.2 197.7Q169.8 143.3 237 130.9M228.3 171.5Q195.9 143.2 237 130.3M203.2 205.5Q116 134.4 177.3 40.1M232.4 160.9Q216.7 147.9 236.3 142.4M226.7 175Q196.4 146.1 236.9 135.6M216.1 191.9Q116.9 139 156.5 33.7M232 162Q210.5 144.7 236.9 136.4M229.4 169Q202.7 145.5 236.9 135.7M217.6 189.8Q184.7 149 236.5 140.9M234.4 153.6Q218.2 142 236.9 135.3M205.3 203.6Q165.3 143.3 237 133.6M224.2 179.7Q195 148.8 236.6 140.1M227.1 174.1Q202.6 149.8 236.4 142.3M203.7 205.1Q159.6 140.2 236.9 126.7M219.9 186.7Q176 141.2 236.7 123.8M228.8 170.4Q121.3 140.1 154 33.3M219.9 186.6Q183 145.5 237 133.5M224.2 179.7Q181 140.1 236.5 121.5M215.3 192.8Q181.6 148.8 236.5 141M209.1 199.9Q169.4 144.2 237 133.9M214.9 193.3Q179.6 147.6 236.7 138.9M227.8 172.6Q160.1 130.5 226 85.7M224.6 179Q165.5 133.5 231.9 99.6M212.8 195.8Q169.3 142 236.9 127.1M207.7 201.3Q115.7 137.9 155.4 33.5M232.6 160.3Q202.6 138.8 236.8 125M226.1 176.2Q156.9 130.9 225.6 84.9M221.1 184.9Q178.6 141.7 236.8 124.9M231.1 164.6Q198.4 139.7 236.8 125M234.4 153.6Q222.6 144.9 236.6 140.3M207.1 201.9Q164.7 142.1 237 129.7M218.4 188.8Q187 150 236.3 142.6M235 151Q216.5 138.8 237 130.5M231.3 164.1Q165.3 128.9 225.3 84.3M221.9 183.5Q183.2 143.6 237 129.4M221.9 183.5Q190.6 148.6 236.6 139.6M213.4 195.1Q170 142.1 236.9 127.2M218.3 188.9Q187 150 236.3 142.6M217.5 190Q180.8 146.2 236.9 135.4M210.6 198.3Q165.4 140.8 236.8 124.9M228.1 171.9Q195.5 143.2 237 130.3M211.2 197.6Q174.1 146.4 236.8 137.6M230.8 165.6Q208.8 146.7 236.7 138.8M231.8 162.7Q179.3 131.2 232 100M208.8 200.2Q155.1 136 235 111.2M227.3 173.7Q198.5 146.5 236.8 136.5M205.4 203.5Q146.1 133.1 232.4 101.1M230.3 166.9Q204.8 145.1 236.9 135.5M214.5 193.9Q168.6 140.6 236.7 123.1M234.3 154.1Q126.2 138.7 155.1 33.5M205 203.8Q169.1 146.4 236.6 140.4M215.4 192.7Q177.1 145.4 237 134.1M234 155Q212.5 140 237 130.5M206.8 202.2Q167.5 144.2 236.9 134.9M219.3 187.5Q176.1 141.7 236.8 125.1M234.8 151.6Q222.3 142.7 236.8 137.6M219.5 187.3Q186.7 148.6 236.6 139.7M208.1 200.9Q140.3 131.4 226.8 87.3M203.6 205.1Q167.5 145.9 236.6 140.1M219.6 187Q186.1 147.9 236.7 138.5M224.4 179.4Q186.9 143.2 237 128.9M215.4 192.7Q176.6 145 237 133.5M229.4 169.1Q195.7 141.4 236.9 127.1M230.4 166.6Q122.1 140.3 152.7 33.1M227.2 174Q196.1 145.1 237 133.7M229.7 168.3Q156.8 129.2 221.3 77.4M205.2 203.7Q164.1 142.6 237 131.9M230 167.7Q208.3 148.2 236.5 140.9M232.5 160.6Q209.5 142.9 237 133.6M223.6 180.7Q149 130.8 221.9 78.5M203 205.6Q117.3 133.1 186.9 44.9M224.1 179.8Q195 148.9 236.6 140.2M228.9 170.3Q197.3 143.2 237 130.6M224.3 179.5Q186.8 143.2 237 128.8M202.8 205.9Q163.5 143.2 236.9 134.6M228.3 171.5Q201.6 146.8 236.8 137.5M213.5 195Q169.8 141.9 236.9 126.8M206.4 202.6Q122.3 131.6 201.2 54.8M222 183.4Q189 147.4 236.8 137.3M231.7 163Q200 139.4 236.8 125M212.9 195.8Q176 146.6 236.8 137.4M234.3 154.1Q222.5 145.2 236.5 140.7M230.3 166.8Q204.5 144.9 236.9 135.2M226.6 175.2Q189.9 142.2 236.9 127.3M231.4 163.9Q209.1 145.4 236.8 137.1M221 184.9Q186.3 146.5 236.9 135.7M234.5 153Q223.1 144.6 236.6 140.2M205 203.8Q161.8 141 237 128.2M224 180Q190.2 145.7 237 134.1M231.7 163.1Q205.7 142.6 237 132M230.9 165.1Q122.3 140.5 151.2 32.9M215.8 192.2Q181.8 148.5 236.6 140.3M203.9 204.9Q136.1 130.7 225.6 85M203.4 205.3Q163.7 143.1 237 134.1M207.6 201.4Q167.6 143.9 237 133.7M232 162Q209.5 144.1 236.9 135.3M209.8 199.1Q174.5 147.6 236.5 140.6M217.8 189.6Q175.2 142.3 236.9 126.7M231.9 162.2Q202.2 140 236.9 126.8M210.3 198.6Q174.4 147.3 236.6 139.7M223.7 180.6Q148.3 130.8 221.2 77.4M232.8 159.7Q135.3 132.1 187 44.9M225.2 177.9Q191.4 145 237 132.9M234.7 152.1Q218.2 140.7 237 133.6M221.4 184.3Q192.6 150.8 236.2 143.6M207.9 201.1Q161.5 139.7 236.7 123.1M233.1 158.5Q216.4 145.4 236.7 139M230.2 167.1Q207.2 146.9 236.7 138.8M233.1 158.4Q219.3 147.2 236.4 142.3M228.4 171.4Q205.8 149.7 236.3 142.7M223.6 180.7Q189.4 145.7 237 134M230.3 166.9Q205 145.3 236.9 135.9M224.1 179.8Q182 140.7 236.7 122.9M233.1 158.4Q206.9 139.6 237 127.9M227.6 173.1Q130.6 133.2 189.9 46.7M215.6 192.4Q180.6 147.8 236.7 139M210.7 198.2Q167.5 142 237 128.1M227.1 174.1Q197 145.8 236.9 135.1M213.5 195Q179.1 148.4 236.5 140.8M206.7 202.3Q168.3 144.9 236.9 136.3M210.6 198.3Q174.9 147.4 236.6 139.9M205.2 203.7Q171.2 148.1 236.2 143.6M219.9 186.6Q175.6 140.9 236.7 123M209.7 199.3Q174.3 147.6 236.5 140.7M205.2 203.7Q166.6 144.3 236.9 135.9M232.1 161.8Q214.9 147.4 236.5 141.3M208.2 200.8Q171.4 146.3 236.7 138.7M230.1 167.4Q194.1 139.3 236.7 123M229.8 168.1Q204.1 145.6 236.9 136.1M228.5 171.1Q196.8 143.4 237 130.9M230.5 166.2Q206.9 145.9 236.8 137.3M229.3 169.2Q201.2 144.7 237 134.1M232.4 160.7Q168.7 128.3 225.8 85.3M232.6 160.3Q211.3 143.7 236.9 135.2M230.5 166.3Q207 146.1 236.8 137.6M234.8 151.6Q208.1 135 236.6 121.7M230.7 165.9Q210 147.7 236.5 140.6M230.6 165.9Q207 145.8 236.8 137M232.6 160.3Q205.3 140.2 237 128.1M226.8 174.7Q199.4 147.9 236.7 139M204.7 204.2Q169.9 147.4 236.3 142.4M230.1 167.4Q201.2 143.3 237 131.8M213 195.6Q174.1 145 237 134.1M213 195.7Q174.2 145.2 236.9 134.5M214.8 193.5Q181.7 149.4 236.3 142.4M215.4 192.8Q138.9 131 220 75.5M206.4 202.6Q163.3 141.5 237 128.6M227.3 173.7Q186.6 139.5 236.5 121.2M220.6 185.6Q183.6 145.2 237 132.9M209.5 199.5Q174.1 147.6 236.5 140.7M210.1 198.8Q173.8 146.9 236.7 139M223.9 180.3Q185.6 143 237 128.2M226.1 176.1Q185.8 140.5 236.7 123.1M231.3 164.2Q211.9 147.6 236.5 140.9M221.3 184.4Q182.4 143.7 237 129.6M226.8 174.8Q195.5 145.3 237 134.1M224.6 179Q194.1 147.6 236.8 137.9M230.5 166.3Q200.4 142 237 129.5M212.6 196.1Q171.4 143.5 237 130.9M235.1 150.1Q222.8 141.5 236.9 136.3M220.1 186.3Q187.5 148.4 236.6 139.4M231.2 164.4Q135 132 190.7 47.2M219.5 187.2Q183.4 146.1 236.9 134.9M205.6 203.4Q158.2 138.7 236.5 121.4M227.5 173.2Q193.5 143 237 129.4M227.3 173.6Q126.3 135.2 179.4 41.1M212.4 196.3Q173.4 145 236.9 134.2M230.8 165.4Q206.5 145 236.9 135.7M205.2 203.7Q165.4 143.5 237 134M233.1 158.5Q201.7 137 236.6 121.9M208.6 200.4Q115.9 136.9 164.5 35.6M230.5 166.3Q209.7 147.9 236.5 140.8M220.1 186.3Q181.4 144.2 237 130.8M217.3 190.2Q182.9 148 236.7 138.9M203.8 204.9Q163.2 142.6 237 132.6M204.6 204.2Q164.2 142.9 237 132.9M231.9 162.3Q198.1 137.9 236.6 121.9M233.2 158.2Q189.6 132 234.2 107.5M224.4 179.3Q193.4 147.3 236.8 137.3M228.9 170.3Q187 137.7 236.1 117.5M220.6 185.6Q181.7 144 237 130.3M216.3 191.6Q181.8 148.1 236.6 139.3M230.6 166.1Q197 140 236.8 125M220.6 185.5Q183.7 145.2 237 133M208.8 200.2Q170.5 145.2 236.9 136.2M206.4 202.6Q163.5 141.6 237 128.9M230.7 165.8Q194.4 138.5 236.5 121.5M210.8 198.1Q120.5 133.4 190.2 46.9M234.3 153.8Q224.4 146.3 236.3 142.6M232.1 161.7Q205.1 141.2 237 129.6M227.8 172.8Q120.3 140.7 151 32.9M224.3 179.6Q183 141.1 236.7 123.9M233 158.8Q211.5 142.6 237 133.7M230.8 165.4Q208.7 146.4 236.7 138.4M231.3 164Q210.4 146.4 236.7 138.7M226.6 175.1Q191.8 143.3 237 129.7M207.7 201.3Q168.1 144.1 237 134.1M208.1 200.9Q171.1 146.1 236.7 138.4M216.6 191.2Q173.8 142.3 236.9 126.9M210 199Q172.4 145.9 236.8 137.1M234.9 151.2Q227 145.4 236.3 142.4M229.3 169.3Q202.7 145.7 236.9 136M227.3 173.7Q198 146.1 236.9 135.7M212.7 195.9Q173.4 144.8 237 133.6M206.3 202.7Q164.4 142.2 237 130.4M211 197.9Q166.2 141.1 236.9 125.6M232.9 159.3Q211.7 143.1 236.9 134.6M229.9 167.7Q206.9 147.2 236.7 139.1M223.7 180.5Q187.3 144.2 237 131M225.6 177.1Q192.1 144.8 237 132.6M229.5 168.7Q191.3 138.8 236.5 121.2M203.7 205Q158 139.1 236.7 123.8M235 150.9Q128.6 137 160.3 34.6M231.3 164Q201.8 141.1 237 128.4M229.5 168.8Q197.7 142.2 237 129.1M230.9 165.3Q208.4 146.1 236.8 137.9M228.6 170.8Q196.2 142.8 237 129.8M226.7 174.9Q129.7 133.4 189.7 46.6M234.5 152.9Q193.5 130.3 234 106.7M218.4 188.7Q176.4 142.5 236.9 127.1M234.7 152.2Q147.6 127.7 200.9 54.5M220.5 185.7Q179.3 142.5 236.9 127M208.7 200.3Q163.5 140.6 236.8 125.2M235 150.9Q224.8 143.6 236.6 139.6M227.7 172.9Q201.7 148 236.6 139.5M231 165Q197.2 139.3 236.7 124M224.1 179.8Q119.8 139 160.3 34.5M216.1 191.8Q116.8 140.8 142.3 32.1M224.6 179Q192.9 146.8 236.9 136.3M207.7 201.3Q164.6 141.7 237 128.5M220.6 185.5Q185.6 146.5 236.9 135.7M203.6 205.1Q162.5 142.1 237 131.7M214.6 193.7Q165.1 138.7 236.1 117.7M232.7 160Q205.9 140.3 237 128.6M227.8 172.7Q198.7 145.8 236.9 135.3M214.9 193.3Q177.2 145.9 236.9 135.3M234.6 152.8Q210.3 137 236.8 125.5M224.1 179.9Q191 146.2 236.9 135.1M208.5 200.5Q170.1 145.1 236.9 136.1M230.4 166.7Q210.9 149.1 236.3 142.7M203.6 205.2Q159.8 140.3 236.9 127.2M231.2 164.5Q207.7 145 236.9 136.1M227.3 173.8Q186.9 139.7 236.6 121.6M215.2 193Q116.6 139.2 153.8 33.3M230 167.7Q139.2 130.7 200.8 54.5M214.2 194.2Q180.1 148.6 236.5 141M234.5 153.1Q138.9 130.6 187.9 45.5M220.5 185.7Q189.3 149.3 236.5 141M222.1 183.2Q191.8 149.3 236.5 140.8M228.3 171.6Q121.9 139.1 159.4 34.3M226.6 175.3Q196.8 146.6 236.9 136.4M217 190.7Q179.9 146.1 236.9 135.2M205.5 203.4Q165.6 143.4 237 133.8M227 174.4Q195.6 145.1 237 133.7M216.6 191.1Q179.9 146.4 236.9 135.9M228.1 172Q199.9 146 236.9 135.9M219.1 187.7Q173.4 140.3 236.5 121.4M225.8 176.8Q184.2 140.1 236.6 121.9M207 202Q166.6 143.4 237 132.9M219.4 187.4Q180.1 144 237 130.5M221 185Q184.1 145.2 237 132.8M206.8 202.2Q166.2 143.3 237 132.7M217.4 190.2Q175.6 142.9 237 128.1M230.8 165.4Q176.3 131.5 231.7 99M222.3 183Q193.5 150.3 236.3 142.7M213.5 195.1Q174.3 144.9 237 133.6M232 162.2Q207.9 143.2 237 133.5M217 190.6Q172.1 141 236.7 123.6M209.9 199Q166.1 141.6 236.9 127.2M227.8 172.7Q196.2 144.2 237 132.2M211.4 197.5Q169.8 143.1 237 130.5M231 165Q164.6 129.1 225.3 84.2M230.9 165.2Q203.8 143.2 237 132.3M225.6 177.2Q195.7 147.4 236.8 137.6M205.4 203.6Q169.3 146.5 236.6 140.3M228.6 171Q195 142.2 237 128.5M231.1 164.6Q205.9 144 237 134.1M220.4 185.9Q184.2 145.8 236.9 134.2M234.9 151.1Q210.6 135.9 236.8 124M235.7 146.9Q151.8 126 202.4 55.8M230.5 166.4Q209.3 147.7 236.6 140.3M231.1 164.6Q212.7 148.5 236.4 142.2M227.3 173.6Q195.7 144.6 237 132.8M234.8 151.5Q147.6 127.6 200.4 54.1M212.4 196.3Q131.8 130.9 213.7 67.2M231.2 164.3Q189.6 135.4 235.5 114.1M217.7 189.7Q174.3 141.8 236.9 125.6M219.8 186.8Q185.1 147.1 236.8 136.8M220.5 185.7Q162.4 134.7 233 103.1M219.4 187.3Q184.6 147.1 236.8 136.8M223.9 180.2Q183.2 141.5 236.8 124.8M214.7 193.6Q168.9 140.6 236.7 123.1M234.7 152.3Q214.6 138.8 237 129.8M202.9 205.8Q164.5 144 236.9 136.3M213.5 195.1Q166.4 139.9 236.5 121.5M233.8 155.9Q216.5 143.1 236.9 136.1M205.2 203.7Q162.5 141.4 237 129.1M230.6 165.9Q209.2 147.3 236.6 139.7M232.6 160.1Q205.8 140.3 237 128.5M234.7 152.1Q216.6 139.8 237 131.8M209 200Q161.7 139.3 236.6 121.7M217.6 189.9Q181.4 146.6 236.9 136.2M219.1 187.7Q183.1 146.3 236.9 135.3M205.3 203.6Q162 141.1 237 128.2M233.9 155.4Q213.3 140.7 237 131.8M214.7 193.6Q180.3 148.4 236.5 140.4M217.4 190.1Q117.4 138.5 160.4 34.6M234.7 152Q148.4 127.5 201.8 55.3M219.3 187.5Q178.8 143.3 237 128.8M234.8 151.8Q214 138.1 237 128.5M215.2 193Q172.2 142.3 236.9 127.2M211.1 197.8Q171.3 144.4 237 133.4M210.9 198Q165 140.4 236.7 123.9M231 165Q151.6 128.7 214.5 68.1M230 167.5Q207.4 147.3 236.6 139.4M234.3 154.1Q206.9 136.4 236.7 123.1M211.4 197.4Q164.3 139.8 236.6 121.9M234.8 151.6Q212.7 137.3 236.9 127M229.9 167.9Q202.3 144.4 237 133.9M220.1 186.3Q188.6 149.2 236.5 140.9M203.5 205.3Q148.3 134.2 234.2 107.4M220.3 186Q188.5 149 236.6 140.4M228.2 171.8Q188.4 139.3 236.5 121.2M228.2 171.9Q192.7 141.6 236.9 126.7M209.8 199.1Q174.2 147.4 236.6 140.2M227.3 173.7Q191.3 142 236.9 127.2M233 158.8Q167.8 127.6 224.3 82.5M206.9 202.1Q157.2 137.6 236.1 117.7M215.9 192.1Q145.5 131.7 225.8 85.3M225.8 176.8Q196.1 147.3 236.8 137.6M217.3 190.3Q173.2 141.5 236.8 124.8M229.9 167.8Q121.9 140.1 153.6 33.2M230.9 165.3Q205.9 144.5 236.9 134.9M203.7 205.1Q162.7 142.3 237 132M233.9 155.7Q215 142 237 134.1M233.8 155.9Q210.7 139.7 237 129.5M204.1 204.7Q161.3 141.1 237 129M224.6 179Q195.4 148.5 236.6 139.6M217.4 190.2Q183.2 148.1 236.7 139.2M205.6 203.4Q159.1 139.2 236.7 122.9M226.8 174.7Q171.4 133.8 232.9 102.7M215.7 192.4Q179.4 146.8 236.8 137.1M206.8 202.2Q160.8 139.7 236.7 123.7M219.5 187.2Q181 144.6 237 131.7M222.6 182.3Q191.8 148.6 236.6 139.6M217.7 189.7Q171.9 140.4 236.6 122M205 203.9Q169.8 147.1 236.4 141.6M218.9 188.1Q181.6 145.5 237 133.7M234.7 152.4Q209.2 136.2 236.7 123.9M217.9 189.4Q177.5 143.6 237 129.7M234.5 152.9Q215 139.6 237 130.9M229.3 169.3Q202.4 145.5 236.9 135.6M233.9 155.4Q217.6 143.3 236.8 136.7M229.8 168Q206 146.8 236.7 138.4M232.7 159.9Q216.3 146.6 236.5 140.6M227 174.3Q199.4 147.6 236.7 138.5M230.1 167.4Q209.3 148.6 236.4 141.6M234.5 153.3Q220.3 143 236.8 137.3M215 193.2Q121.8 133.9 188.7 45.9M229.9 167.8Q206.5 147 236.7 138.8M222.3 183Q186.4 145.3 237 133.1M206.5 202.5Q171.9 147.9 236.3 142.6M219.4 187.4Q185 147.5 236.8 137.6M232.2 161.4Q212.1 145.1 236.8 137.5M203.9 204.9Q121.5 131.2 201.7 55.2M217 190.6Q183.9 149 236.5 140.9M216.2 191.7Q182 148.3 236.6 139.9M216.6 191.2Q174 142.4 236.9 127.3M213.5 195.1Q173.1 144 237 131.8M222.1 183.3Q180.1 141.6 236.8 124.8M220.6 185.6Q185.1 146.2 236.9 134.9M235.2 150Q224.2 142.4 236.8 137.9M227.3 173.8Q186.7 139.6 236.5 121.4M229.4 169Q202.2 145.2 236.9 135M226.2 176Q189.5 142.5 237 127.9M217.8 189.6Q177.9 144 237 130.7M216 191.9Q181.1 147.8 236.7 138.9M230.5 166.4Q185.6 135 235 111.4M203.8 204.9Q125 130.4 209.9 63M227.1 174.2Q193.4 143.6 237 130.5M220.1 186.3Q117.4 141.7 140.3 32M214.3 194.1Q175.7 145.2 236.9 134.2M219.5 187.1Q173.9 140.3 236.5 121.4M223.7 180.6Q187 144 237 130.5M203.9 204.8Q166.2 144.7 236.8 137.3M213.5 195.1Q175.8 146 236.9 136M205.3 203.7Q149.3 134.4 234 106.7M226.9 174.6Q192.8 143.6 237 130.4M234.7 152.3Q213.8 138.4 237 128.9M218.9 188Q178.4 143.4 237 129.1M203.5 205.2Q168.2 146.5 236.5 141.4M216.3 191.6Q182.6 148.7 236.5 140.6M217.4 190.2Q168.2 138.7 236 117.2M230.5 166.2Q210.3 148.2 236.5 141.4M232.3 161.2Q204.4 140.4 237 128.2M235.2 149.9Q222.2 141 236.9 135.5M216.5 191.4Q173.7 142.4 236.9 127.1M217.4 190.1Q185.6 149.9 236.3 142.5M217.4 190.2Q176.2 143.3 237 129.1M225.7 177Q188 142.3 236.9 127.2M232.6 160.1Q206.7 140.8 237 129.6M212.4 196.3Q121.3 133.4 190.9 47.3M235.4 148.6Q182.7 125.6 228.4 90.6M216.1 191.8Q174.9 143.4 237 129.5M231.8 162.6Q212.3 146.4 236.7 139.2M209.9 199Q175.2 148.2 236.4 141.7M219.9 186.5Q187 148.3 236.7 139.1M209.5 199.5Q174.8 148.2 236.4 141.8M227.2 174Q158.7 130.7 225.7 85.1M204.8 204.1Q131.7 130.3 220 75.5M233.8 155.9Q218.8 144.5 236.7 138.7M210.4 198.5Q167.4 142.1 237 128.4M224.3 179.5Q191.6 146.3 236.9 135.2M234.5 153Q193.2 130.3 233.9 106.4M222.2 183Q178.2 140.4 236.6 121.8M227.2 173.9Q190.8 141.9 236.9 126.8M214.6 193.8Q180.5 148.7 236.5 141M231.2 164.5Q200.4 140.7 236.9 127.3M216.6 191.2Q181.8 147.8 236.7 138.8M204 204.8Q164.1 143.1 237 133.8M231 165.1Q185.5 134.2 234.7 109.9M230.7 165.8Q206 145 236.9 135.6M226.7 175Q189.7 142 236.9 126.8M229.8 168Q195.3 140.4 236.8 125.3M233.9 155.7Q214.8 141.9 237 133.9M207.6 201.4Q171.6 146.9 236.6 140M231.1 164.8Q207.9 145.4 236.8 136.7M228.2 171.9Q198.2 144.8 237 133.6M232.3 161.2Q135.3 132 188.4 45.8M222.7 182.3Q192.5 149 236.6 140.4M211.4 197.4Q168.8 142.5 237 128.9M219.2 187.7Q120.8 135.9 177.5 40.2M210.6 198.3Q176.1 148.4 236.4 141.7M216.8 190.9Q182.2 147.8 236.7 138.8M235.2 149.9Q227.7 144.5 236.4 141.6M225.7 177Q189 142.9 237 128.5M228.5 171.2Q204.1 148.3 236.6 140.3M214.1 194.3Q178.8 147.7 236.7 139.2M206.5 202.5Q160.5 139.6 236.7 123.8M234.5 153.2Q206.2 135.4 236.5 121.3M227.4 173.6Q196.8 145.3 236.9 134.1M202.9 205.7Q165.5 144.7 236.8 137.9M231.2 164.5Q210.3 146.7 236.7 139.2M225.7 176.9Q197.7 148.5 236.6 139.8M227.9 172.5Q193.7 142.6 237 128.8M212.9 195.7Q170.1 142.5 237 128.3M227.5 173.2Q201.2 147.9 236.7 139.2M229.9 167.8Q207.2 147.6 236.6 139.8M225.6 177.2Q194.9 146.8 236.8 136.5M229.3 169.2Q162.1 130 225.7 85M232 162.1Q162.2 128.1 222 78.7M224.3 179.5Q186.2 142.8 237 128M219.9 186.6Q181.1 144.2 237 130.8M227.1 174.2Q198.9 147.2 236.8 137.7M218.9 188.1Q183.6 146.9 236.8 136.6M234.9 151.4Q226.6 145.4 236.4 142.2M222 183.4Q184.4 144.3 237 130.9M203.7 205.1Q132.1 130.2 221.3 77.5M225.7 177Q186.7 141.6 236.8 125.5M231.7 163Q197 137.9 236.5 121.6M222.1 183.3Q181.9 142.7 236.9 127.3M226.1 176.2Q197.9 148.1 236.7 139M219.7 186.9Q187.4 148.9 236.6 140.3M222.2 183.1Q181.8 142.5 236.9 126.9M232.7 159.7Q204.5 139.4 236.9 126.6M227.2 174Q202.8 149.9 236.3 142.5M211.1 197.8Q175.4 147.4 236.6 139.7M211.1 197.8Q165.9 140.9 236.8 125M225.6 177.1Q192.2 144.9 237 132.8M209.4 199.6Q167.8 143 237 130.9M216.6 191.2Q183.1 148.8 236.5 140.7M225.6 177.1Q194.6 146.5 236.9 135.9M203.7 205Q158 139.2 236.7 123.9M229.6 168.5Q196 141.1 236.9 126.7M203 205.7Q163.1 142.9 237 133.7M203.4 205.3Q160.3 140.7 237 128.2M234.7 152.3Q220.4 142.2 236.9 136.2M231.3 164.1Q121.4 142.2 142.1 32.1M214.5 193.9Q163.9 138.1 235.9 116M203.5 205.2Q115.5 137.2 156.3 33.7M208.2 200.8Q164.9 141.7 237 128.3M231.7 163Q203.7 141.4 237 129.5M209.7 199.3Q117.9 134.8 180.2 41.5M209.9 199Q170 144.2 237 133.4M230 167.6Q193.5 139.2 236.6 122.5M227.6 173.1Q194.7 143.6 237 130.9M233.2 158.3Q172.8 128 227.1 87.9M234.6 152.7Q223 144.2 236.6 139.7M234.9 151.2Q222.9 142.7 236.8 137.8M218.9 188.1Q119.4 136.8 171.9 38M232.6 160.2Q207.7 141.5 237 130.9M208.5 200.5Q171.8 146.4 236.7 138.8M202.8 205.8Q158.9 140 236.9 126.8M211.3 197.6Q168.5 142.4 237 128.7M208.2 200.8Q165.4 142 237 129M219.4 187.3Q178.8 143.2 237 128.6M216.8 190.9Q179 145.5 236.9 134.2M215.5 192.5Q170.5 141.1 236.8 124.1M227.1 174.1Q190.7 142 236.9 127M227.6 173Q199.3 146.5 236.8 136.6M212.4 196.3Q171.8 143.9 237 131.8M225.5 177.4Q197.6 148.8 236.6 140.3M210.8 198.1Q176.7 148.7 236.3 142.4M224.7 178.8Q183.6 140.9 236.7 123.6M219.7 187Q175.2 140.9 236.7 123M206.1 202.9Q166.6 143.9 236.9 134.5M228.5 171Q191.1 140.2 236.7 123.7M230.5 166.2Q207.4 146.3 236.8 137.9M226.7 175Q200 148.6 236.6 140.2M227.8 172.7Q122.3 138.4 163.4 35.3M208.2 200.8Q164.9 141.6 237 128.1M222.1 183.2Q188.2 146.7 236.9 135.9M231.4 163.9Q200.8 140.5 236.9 127.1M203.5 205.3Q166 144.8 236.8 137.9M216.1 191.9Q176.5 144.4 237 131.9M215.1 193.1Q134.4 131 214.7 68.4M221.7 183.8Q188.1 147 236.8 136.5M234.6 152.8Q223 144.3 236.6 139.7M211 197.8Q142.8 131.7 227.1 87.8M204.1 204.7Q166.4 144.8 236.8 137.6M232.1 161.8Q199.6 138.3 236.7 123.2M235.2 150Q219 139.3 237 132.1M215 193.2Q172.9 142.9 237 128.7M209.1 199.8Q174.2 147.9 236.4 141.5M232.2 161.6Q206.1 141.7 237 130.6M234.9 151.1Q224.9 143.9 236.6 139.9M234.8 152Q141.8 129.4 192 48M231.7 162.8Q148.4 128.7 209.5 62.6M222.3 183Q155.8 132.2 228.3 90.5M228.2 171.7Q200.7 146.4 236.8 136.7M223.2 181.4Q193.4 149 236.6 140.4M224.2 179.6Q181.4 140.3 236.6 121.8" stroke="#B11A2C" stroke-width="0.22" stroke-opacity="1.00"/>
<path d="M184.7 218.3Q136.7 130.4 234.2 107.8M192.5 213.6Q136.5 130.5 231.6 98.8M194.5 212.3Q116 136.1 152.8 33.1M186.1 217.5Q132.5 128.9 231 97M135 230Q125.1 119.5 236 116.9M150.5 229.2Q121.6 121.3 230.1 94.7M132.8 229.9Q124.8 119 236 116.8M150.4 229.2Q125.8 122.4 234.7 109.9M141.1 230Q121.9 119.6 232.3 100.9M193.8 212.8Q139.2 131.4 232.8 102.6M195.6 211.5Q143.7 133.2 234.6 109.4M158.6 227.8Q123 122.9 230.1 94.8M135.5 230Q123.7 119.1 235 111M199.2 208.8Q145.6 133.7 234.4 108.3M188.7 216.1Q139.8 131.8 234.7 109.8M181.4 220Q131.7 128.4 232 100M199.9 208.3Q151.4 136.4 236.1 118M158.3 227.9Q129.3 125 235.6 114.6M168.9 225Q130.1 126.6 234.2 107.8M194.3 212.4Q141 132.1 233.7 105.8M198.4 209.4Q141.9 132.2 232.8 102.4M183.7 218.8Q136.1 130.1 234.2 107.5M166.5 225.8Q125.5 124.7 230.9 96.9M144.8 229.8Q129.3 123.3 236.8 125.2M165.2 226.2Q132.4 127.4 236 117.2M197.8 209.9Q115 134.4 172.2 38.1M135.9 230Q123.2 119 234.5 108.7M148.8 229.4Q124.8 121.7 234.2 107.5M192.7 213.5Q121.3 129 211 64.1M143.3 229.9Q124.8 120.8 235 111.1M158.7 227.8Q127.7 124.4 234.7 109.7M182.2 219.6Q132.6 128.7 232.4 101.1M193.3 213.1Q121.2 129.1 210.4 63.5M182.4 219.5Q137.9 130.9 235.3 112.8M199 209Q149.6 135.6 235.9 116M152 229Q128.3 123.8 236 116.9M186.8 217.1Q151.1 139 236.9 135M160.3 227.5Q131 126.2 236.1 118M189.6 215.5Q135.5 130.1 231.9 99.8M141 230Q121.9 119.6 232.3 100.7M189.3 215.7Q117.2 135.6 149 32.6M195.4 211.7Q140.1 131.7 232.8 102.6M162.5 226.9Q124.5 123.9 230.9 96.9M187.7 216.6Q132.2 129 230.1 94.7M163.2 226.7Q125.1 124.1 231.4 98.2M170.6 224.5Q130.5 127 234.1 107.3M169.2 225Q119.8 132.1 157.1 33.9M159.1 227.7Q130.6 125.8 236.1 117.7M171.9 224Q132.4 127.9 234.9 110.8M194.6 212.2Q139.6 131.6 232.8 102.6M150 229.3Q122.7 121.4 231.7 99.1M200.2 208Q142 132.2 232.1 100.3M193.7 212.8Q115.3 135.2 160.5 34.6M140.9 230Q125.4 120.6 235.6 114.5M176 222.4Q133.7 128.7 234.7 109.9M135.4 230Q123 118.8 234.3 108.1M135.8 230Q130.6 123 236.9 136.3M132.8 229.9Q122.7 118.3 234.2 107.8M157.8 228Q128.9 124.8 235.5 113.8M152.3 229Q125 122.4 233.7 105.7M162.2 227Q126.9 124.6 233.4 104.5M160.7 227.4Q126.8 124.3 233.7 105.5M167.9 225.4Q131.8 127.2 235.3 113M157.7 228Q125.6 123.4 233.2 103.8M147.2 229.6Q127.5 122.6 236.1 117.7M133.3 229.9Q118.8 118.5 226.4 86.5M148.5 229.4Q121.3 120.9 230.1 94.7M199.2 208.8Q147.6 134.5 235.1 111.9M171.5 224.1Q126.1 125.6 230.1 94.6M166.5 225.8Q127.4 125.3 232.8 102.4M199.8 208.3Q142.9 132.5 232.8 102.5M194.1 212.5Q137.7 130.9 231.8 99.4M175.9 222.4Q134.3 129 235 111.4M199.9 208.2Q163.4 144.5 236.7 139M198.5 209.3Q142 132.3 232.8 102.4M189.5 215.5Q141.6 132.6 235.3 112.7M186.5 217.3Q142 133 236 117.1M194.2 212.5Q144.5 133.7 235.3 112.7M198.5 209.4Q149.8 135.8 236 117M134.5 229.9Q123.7 118.9 235.1 111.5M185.2 218Q139.8 131.9 235.5 114M139.9 230Q123.7 119.8 234.4 108.7M137.9 230Q120.7 119 230.9 96.8M141.1 230Q133.8 126.4 236.3 142.5M200.2 208Q143.1 132.6 232.8 102.4M166.5 225.8Q115.1 126.5 200.4 54.2M148.3 229.5Q116.1 124.4 201 54.6M175.3 222.7Q135 129.3 235.5 113.8M176.1 222.4Q134.1 128.9 234.9 110.9M139.5 230Q120.9 119.2 231 96.9M149.6 229.3Q126.9 122.7 235.5 113.9M146.9 229.6Q124 121.2 233.7 105.7M139.8 230Q122.8 119.6 233.5 105.1M170.8 224.4Q129.4 126.5 233.3 104.1M179.4 221Q135.3 129.7 234.8 110.4M179.3 221Q136.9 130.4 235.5 114M179 221.1Q129.4 127.4 230.9 96.8M185.8 217.7Q140.2 132.1 235.6 114.2M197.7 209.9Q138 131 230.5 95.7M158.6 227.8Q127.5 124.3 234.5 109.1M158.8 227.8Q124.2 123.2 231.6 98.8M186.7 217.2Q140.9 132.4 235.6 114.5M161.3 227.2Q124.6 123.7 231.4 98.2M175.5 222.6Q130.5 127.4 232.8 102.5M144.6 229.8Q122.9 120.5 232.9 102.9M192.5 213.6Q127.1 128.6 221.9 78.5M181.5 219.9Q138.2 131.1 235.6 114.5M164.8 226.3Q128.8 125.6 234.2 107.8M147.6 229.5Q123.6 121.2 233.2 103.9M167.8 225.4Q132.4 127.6 235.7 114.8M178.4 221.4Q135.6 129.8 235.2 112.1M146.1 229.7Q116.3 124 202.3 55.7M193.6 212.9Q144.4 133.7 235.4 113.2M179 221.1Q130 127.6 231.4 98.2M163.5 226.7Q128 125.1 233.9 106.5M166.4 225.8Q116.3 129.9 175.8 39.5M155.6 228.4Q129.6 124.9 236.1 117.9M164.7 226.3Q128 125.3 233.7 105.7M150.6 229.2Q125.4 122.3 234.4 108.5M185.6 217.8Q134.1 129.4 232.4 101M138 230Q122.4 119.2 233.3 104.3M186.2 217.5Q133.7 129.3 231.9 99.6M192.5 213.6Q134.6 129.9 230.2 94.9M181.4 220Q124.9 126.9 224.7 83.2M165.3 226.2Q128.8 125.7 234.2 107.5M200.1 208.1Q116.1 137.5 148.3 32.5M145 229.8Q123.7 120.7 233.7 105.8M170.3 224.6Q127.3 125.8 231.7 99M139 230Q123.1 119.5 234 106.8M160.5 227.4Q123.5 123.3 230.3 95.1M138.1 230Q125.6 120.2 236 117M184.2 218.6Q138.3 131.1 235.1 111.8M166.5 225.8Q132.4 127.5 235.9 116M185.6 217.8Q154.1 141.8 236.3 142.7M147.8 229.5Q125.6 121.9 235 111.1M159 227.7Q118.6 129.8 170.5 37.5M198.8 209.1Q144.9 133.4 234.2 107.5M152.5 228.9Q126.6 123 235 111M178.3 221.4Q130.5 127.7 232.1 100.2M198 209.7Q145.9 133.9 234.8 110.4M170.4 224.6Q134.3 128.8 236 117.2M169.4 224.9Q129.9 126.6 234 106.7M193.5 213Q139.7 131.6 233.2 104M198.1 209.7Q144.2 133.2 234.1 107.1M148.3 229.5Q118.7 127.6 181.3 42M159.3 227.7Q126.5 124 233.7 105.5M144.5 229.8Q116.3 122.5 209.9 62.9M169 225Q130.2 126.6 234.2 107.8M199.5 208.6Q144.3 133.1 233.7 105.6M200.2 208Q143.2 132.6 232.8 102.6M178.7 221.2Q135.6 129.8 235.1 111.6M147.5 229.5Q124.1 121.3 233.7 105.8M198.6 209.3Q148.4 135.1 235.6 114.4M136 230Q121.3 118.6 232 100M135.2 230Q138.9 131.1 152.8 33.1M133.1 229.9Q122 118.2 233.4 104.5M133.6 229.9Q129.8 129.3 172.5 38.2M140.9 230Q120.5 119.5 230.1 94.7M198.1 209.7Q145.9 133.9 234.8 110.3M146.6 229.6Q124.4 121.3 234.2 107.6M139 230Q133.4 130.5 160.2 34.5M137 230Q120.4 118.8 230.4 95.5M198.1 209.7Q149.4 135.6 236 116.7M194 212.6Q116.1 136.1 152.3 33M154.9 228.5Q129.1 124.5 236 116.7M139.6 230Q122.1 119.4 232.7 102.2M149.8 229.3Q124.7 121.9 233.9 106.5M148 229.5Q124.6 121.5 234.1 107.3M146.4 229.6Q124.8 121.4 234.5 109M155.4 228.5Q125.1 122.9 233.3 104.1M195.9 211.3Q148.4 135.5 236.1 117.9M155.8 228.4Q128.5 124.3 235.6 114.3M148.3 229.5Q122.9 121.1 232.4 101.1M151.4 229.1Q125 122.3 234 106.6M171.7 224.1Q120.1 125.1 220.5 76.3M199.6 208.5Q148.9 135.1 235.5 113.7M154.5 228.6Q127.2 123.6 235 111.3M160.9 227.3Q123.1 131.1 158.9 34.2M186.8 217.1Q142.4 133.2 236.1 117.6M164.2 226.5Q130 126.1 235.1 111.5M186.6 217.3Q139.4 131.6 235.1 111.5M193.1 213.3Q142.3 132.7 234.7 109.7M189.5 215.6Q141.1 132.4 235.1 111.7M188.5 216.2Q139.5 131.7 234.7 109.6M148.3 229.5Q125.9 122.1 235.1 111.7M148.3 229.5Q116.1 122.9 210 63M179.1 221.1Q135.7 129.8 235.1 111.7M191.6 214.3Q135.7 130.2 231.4 98.2M191.5 214.3Q141.4 132.4 234.7 109.9M169.4 224.9Q125.6 125.2 230.2 95M169.6 224.8Q127.1 125.6 231.7 99.1M189 215.8Q139.6 131.7 234.5 109M163.3 226.7Q127.9 125.1 233.9 106.4M147.2 229.6Q131.9 130.8 154.9 33.5M185.5 217.9Q117.7 135 149.1 32.6M196.8 210.6Q146.4 134.3 235.3 112.8M140.7 230Q121.3 119.5 231.4 98.3M170.8 224.4Q117.9 131.9 162.3 35M196.3 211Q136.8 130.7 230.3 95.1M148 229.5Q122.9 121.1 232.4 101.1M179.3 221Q138.7 131.4 236.1 118.1M186.1 217.5Q139.8 131.8 235.3 112.8M171.7 224.1Q127.7 126.1 231.6 98.7M164.5 226.4Q119.5 131.2 162.6 35.1M162.8 226.8Q125.5 124.2 232 99.8M200 208.2Q145.6 133.6 234.1 107.2M140.9 230Q123.5 120 234.2 107.5M161.6 227.1Q127.3 124.6 233.8 106.2M170.6 224.5Q130.1 126.8 233.8 106.2M149.7 229.3Q122.8 121.3 231.9 99.7M137 230Q123.5 119.3 234.6 109.3M195.3 211.8Q138.1 131 231.6 98.8M148.4 229.5Q121.3 120.9 230.2 94.8M169.2 225Q129.8 126.5 234 106.7M196.9 210.6Q148.8 135.5 236 117.3M192 214Q136.5 130.5 231.8 99.3M184.2 218.6Q133.5 129.1 232.4 101.2M197.7 210Q141.6 132.2 232.9 102.8M148.6 229.4Q124.2 121.5 233.7 105.7M160.5 227.4Q127.5 124.6 234.2 107.7M164.4 226.4Q129.6 125.9 234.8 110.3M187 217Q140.3 132.1 235.3 112.9M149.7 229.3Q124.5 121.8 233.8 105.9M200.1 208.1Q141.5 132 231.9 99.7M137 230Q123.6 119.3 234.7 109.8M160.6 227.4Q128.2 124.9 234.7 109.6M158.4 227.9Q127.8 124.4 234.8 110.3M194.2 212.5Q144.5 133.7 235.3 112.6M158.6 227.8Q126 123.7 233.4 104.4M147 229.6Q130.8 124.6 237 128.3M140.2 230Q120.5 119.4 230.2 95M133.5 229.9Q126.3 119.8 236.6 122.4M184.7 218.3Q133.6 129.2 232.4 101.1M161.2 227.2Q129.1 125.3 235.1 111.7M136.9 230Q124.8 119.7 235.6 114.6M154.8 228.6Q128.4 124.2 235.7 114.9M150.7 229.2Q125.3 122.2 234.3 108M187 217Q134.1 129.5 231.9 99.6M133.9 229.9Q123.1 118.6 234.6 109.3M162.5 226.9Q126.3 124.4 232.8 102.3M175.9 222.5Q133.1 128.5 234.4 108.6M194.6 212.3Q141.3 132.2 233.8 105.9M200.2 208Q148.7 134.9 235.3 112.6M135.9 230Q125.4 119.8 236.1 117.6M148.2 229.5Q121.8 120.9 230.9 96.7M150.6 229.2Q123.6 121.7 232.7 102.3M198.7 209.2Q143.6 132.9 233.6 105.3M176.2 222.3Q116.9 126.8 208.5 61.5M138.3 230Q121.4 119.1 231.9 99.5M191.6 214.2Q114.8 132.9 177.1 40.1M192.5 213.7Q136.5 130.5 231.6 98.8M165.3 226.1Q131.3 126.8 235.6 114.2M142.3 229.9Q122.1 119.9 232.4 101M141.1 230Q122.8 119.8 233.3 104.3M185.5 217.9Q132.2 128.8 231 97M151.3 229.1Q127.5 123.2 235.6 114.6M155.8 228.4Q129.6 124.9 236.1 117.6M196.9 210.6Q146.6 134.4 235.4 113.1M134.3 229.9Q123.8 118.9 235.1 111.9M195.8 211.4Q142.9 132.8 234.2 107.6M133 229.9Q124.9 119.1 236 117.3M138.3 230Q125.9 120.4 236.1 118M150.9 229.2Q132.1 131 150.8 32.8M139 230Q123.4 119.6 234.3 107.9M182.4 219.5Q130.1 128 230.3 95.2M155.6 228.4Q135.9 129.1 236.9 135.6M186.2 217.5Q142.1 133 236.1 117.5M190.3 215.1Q135.7 130.2 231.8 99.5M164.1 226.5Q128.6 125.5 234.3 107.9M176.4 222.2Q115.9 127.4 203.3 56.6M195.4 211.6Q143.9 133.3 234.7 109.9M170.5 224.5Q116.8 131.2 168.4 36.8M144.7 229.8Q117.2 125.3 194.3 49.6M192 214Q138.8 131.3 233.2 103.9M171.3 224.2Q129.5 126.6 233.2 103.9M176.7 222.1Q133.6 128.7 234.5 109M154.6 228.6Q125.6 122.9 233.8 106.1M188.8 215.9Q138.1 131 233.8 106.2M151.1 229.1Q128 123.4 235.9 116.3M134.5 229.9Q119.8 125.3 191.4 47.7M178.4 221.4Q133.2 128.7 233.9 106.5M135.5 230Q120.5 118.5 230.8 96.5M200.3 208Q144.7 133.2 233.6 105.3M143.4 229.9Q125.7 121.2 235.6 114.3M171.9 224Q133.1 128.2 235.3 112.6M135.2 230Q142.6 131.2 145.7 32.3M160.4 227.4Q118.1 129.8 171.7 37.9M175.9 222.4Q130.9 127.6 233.1 103.3M154.5 228.6Q126.1 123.1 234.3 107.8M138.5 230Q122.4 119.3 233.2 104M184.6 218.3Q133.6 129.2 232.4 101.1M187.5 216.7Q134.6 129.7 232.1 100.2M186.1 217.5Q139.8 131.9 235.3 113M140.3 230Q120.5 119.4 230.2 94.9M145.2 229.7Q121.9 120.4 231.6 98.7M145 229.8Q123.7 120.8 233.8 106M170.6 224.5Q128.7 126.3 232.8 102.6M138.9 230Q123.7 119.7 234.6 109.1M138.9 230Q128.8 129.6 169.2 37M184.1 218.6Q137.8 130.9 234.9 110.9M140.3 230Q126.1 120.9 236.1 117.6M155.5 228.4Q115.8 123.8 209.3 62.3M191.6 214.2Q137 130.6 232.3 100.8M190.2 215.1Q139.4 131.6 234.1 107.3M185.8 217.7Q133.7 129.3 232 100M184.7 218.3Q138.2 131.1 234.9 110.9M157.5 228.1Q127.9 124.3 235 111.1M158.5 227.9Q127.4 124.2 234.5 108.9M164.8 226.3Q125.5 124.5 231.5 98.4M135.7 230Q122.5 118.8 233.7 105.8M135.7 230Q124.8 119.5 235.7 115.2M163.4 226.7Q125.6 124.3 231.9 99.7M165.1 226.2Q124.4 124.3 230.2 94.8M194.5 212.3Q143 133 234.6 109.5M152.3 229Q116.6 126.7 189.4 46.4M133.5 229.9Q124.4 118.9 235.7 114.7M155.6 228.4Q128.7 124.4 235.7 115.1M170.3 224.6Q129.9 126.6 233.8 105.8M164.2 226.5Q118.8 123.8 220.4 76.1M159.2 227.7Q130.6 125.8 236.1 117.6M163 226.8Q128.1 125.1 234.1 107.3M165.1 226.2Q131.9 127.1 235.8 115.9M176.2 222.3Q136.9 130.4 236 117.2M137.9 230Q123.1 119.3 234.1 107.3M191.7 214.2Q142.9 133.1 235.3 112.7M147 229.6Q133.3 126.5 236.9 136.2M169.5 224.8Q129.7 126.5 233.8 106.2M176.5 222.2Q115.8 127.5 202.5 55.9M148.1 229.5Q127.5 122.8 236 117.2M183.8 218.8Q140.7 132.4 236 117.3M186.7 217.2Q134.5 129.6 232.3 100.8M140 230Q125.4 120.5 235.7 115.1M152.1 229Q128.6 123.9 236.1 117.7M145.8 229.7Q125 121.3 234.8 110.3M181.5 220Q135.9 130 234.6 109.4M133.8 229.9Q122.5 118.4 234 106.7M154.7 228.6Q123.9 122.5 232.2 100.7M169.5 224.9Q140.5 132.8 237 132.9M184.3 218.5Q136.3 130.2 234.1 107.3M186.1 217.6Q139 131.5 235 111.3M194 212.6Q135.5 130.2 230.2 94.9M163 226.8Q128.8 125.4 234.6 109.3M145 229.8Q124.8 121.1 234.7 109.9M192.4 213.7Q141.7 132.5 234.6 109.3M192.3 213.8Q140.9 132.1 234.3 107.8M135 230Q129.1 121.8 237 131.8M133.2 229.9Q124.4 118.9 235.7 115M194.7 212.2Q138.8 131.3 232.3 100.9M162.7 226.9Q131.9 126.9 236.1 118M171.4 224.2Q128.1 126.2 232.1 100.3M170.7 224.4Q133.3 128.2 235.6 114.3M147.9 229.5Q121.4 120.8 230.4 95.5M151 229.1Q127.5 123.2 235.7 114.9M135.7 230Q123.2 118.9 234.5 108.7M160.3 227.4Q133.6 131.5 138.4 32M189.1 215.8Q141.1 132.4 235.2 112.1M159.2 227.7Q115.8 127.5 188.2 45.7M192.8 213.4Q141 132.2 234.2 107.5M178.5 221.3Q143.8 134.8 237 130.4M161.2 227.2Q125.1 123.8 232 99.8M194.4 212.4Q141.6 132.3 234 106.8M198.8 209.1Q145.1 133.5 234.3 107.9M136.8 230Q124.3 119.5 235.3 112.8M158 228Q126.2 123.7 233.7 105.6M171.2 224.3Q135 129.2 236.1 117.9M182.4 219.5Q133.3 129 232.9 102.6M145.2 229.7Q126.1 121.7 235.6 114.4M149.8 229.3Q134.7 127.8 236.8 137.6M148.3 229.5Q125 121.7 234.4 108.4M140.3 230Q124.9 120.3 235.4 113.2M134.1 229.9Q124.8 119.2 235.9 116M200.1 208.1Q139.5 131.4 230.5 95.7M164.7 226.3Q130.6 126.4 235.3 112.7M195.7 211.4Q137.2 130.8 230.8 96.5M154.9 228.5Q125 122.8 233.2 103.9M167 225.7Q132.3 127.4 235.7 115.2M200.1 208.1Q141.7 132.1 232 100M189.5 215.5Q139.7 131.7 234.5 108.8M139.3 230Q124.2 119.9 235 111.1M181.3 220Q131.2 128.2 231.7 98.9M195.7 211.4Q138.5 131.2 231.7 99.1M193.3 213.1Q137.5 130.8 232 99.8M157.8 228Q129.6 125.1 235.8 115.9M184.6 218.3Q139 131.5 235.3 112.8M192.6 213.6Q144.6 133.9 235.7 114.9M192.9 213.4Q115.3 135 161.6 34.8M170.4 224.5Q138.3 131.2 236.9 126.8M158.6 227.8Q126.3 123.8 233.6 105.4M134.6 229.9Q122.8 118.6 234.1 107.4M199.7 208.5Q131.6 129.8 223.4 81M157.2 228.1Q124.6 123.1 232.4 101.2M142.3 229.9Q126.4 121.4 236.1 117.5M134.7 229.9Q121 118.4 231.7 99.2M199.9 208.3Q143.2 132.6 232.9 102.9M150.5 229.2Q122.8 121.5 231.8 99.4M194.6 212.2Q137.4 130.8 231.4 98.2M150.7 229.2Q123.2 121.6 232.3 100.7M171.1 224.3Q131.9 127.6 234.8 110.3M189.2 215.8Q143.9 133.8 236.1 117.7M195.5 211.6Q143.7 133.2 234.6 109.4M193 213.3Q115.4 132 185.4 44.1M148.7 229.4Q124.3 121.5 233.7 105.7M179.5 220.9Q137 130.5 235.5 114.1M145 229.8Q123.8 120.8 233.9 106.2M194 212.6Q145 134 235.5 113.8M186.8 217.2Q114.8 131.2 185.5 44.1M163.1 226.8Q126.6 124.6 233 103.1M179.4 220.9Q132 128.3 232.8 102.6M185.9 217.6Q133.8 129.4 232.1 100.2M162.7 226.9Q116.4 124.4 211.8 65M192.7 213.5Q143.2 133.2 235.2 112M193.4 213Q139.4 131.5 233.1 103.6M176.8 222.1Q114.7 129.2 190.4 47M194.1 212.6Q138.5 131.2 232.3 101M155.7 228.4Q125.8 123.2 233.8 106.1M150.8 229.2Q126.5 122.7 235.1 111.9M133.6 229.9Q117.7 119.5 220.7 76.5M185 218.1Q134.6 129.6 232.9 102.9M155.1 228.5Q127.4 123.8 235.1 111.6M133.3 229.9Q123.1 118.5 234.6 109.3M142.5 229.9Q124.2 120.5 234.6 109.2M138.8 230Q125.1 128.4 176.6 39.8M147.6 229.5Q126.2 122.1 235.3 113M152.5 228.9Q126.8 123.1 235.1 111.5M192 214Q141.3 132.3 234.5 109M135.2 230Q117.7 123 203.3 56.6M191.8 214.1Q135.9 130.3 231.4 98.2M146.5 229.6Q124.2 121.2 234 107M134.7 229.9Q121.4 118.4 232.3 100.9M180.1 220.6Q136.7 130.4 235.3 112.9M198.9 209Q122.7 129.9 209.4 62.4M133.9 229.9Q120.8 118.2 231.5 98.4M138.7 230Q123.8 119.7 234.7 109.8M162.5 226.9Q131.4 126.6 236 116.9M134.9 230Q121.1 118.4 231.9 99.6M152 229Q124.4 122.2 233.3 104.1M138.8 230Q140.2 131.1 146.7 32.4M198.5 209.4Q128.2 129.4 219.7 75.1M198.2 209.6Q140.2 131.7 231.8 99.4M192.3 213.8Q138.4 131.1 232.9 102.8M178.3 221.4Q136.6 130.3 235.6 114.4M148.4 229.5Q122.4 121 231.7 98.9M152 229Q136 129.1 236.7 139.3M165 226.2Q128.1 125.4 233.7 105.7M146.4 229.6Q121.1 120.5 230.2 94.8M160.8 227.3Q131 126.2 236.1 117.4M195.3 211.7Q142 132.5 233.9 106.4M180.1 220.6Q117.7 127.3 209.2 62.2M199.6 208.5Q139.2 131.3 230.5 95.8M163.2 226.7Q129.6 125.8 235 111.4M197.7 210Q138 131 230.5 95.8M154.8 228.6Q127.7 123.8 235.3 112.7M161.3 227.2Q137.6 130.7 236.9 134.5M193.9 212.7Q145 134 235.5 114M144.5 229.8Q124.7 121 234.7 109.8M134.8 229.9Q121 118.4 231.8 99.3M199.7 208.4Q148.5 134.9 235.3 112.9M184.5 218.4Q138.6 131.3 235.2 112M139.8 230Q123.9 119.9 234.6 109.5M200 208.2Q149.4 135.3 235.5 114.1M199.3 208.8Q144.9 133.4 234 106.9M196.8 210.6Q140.9 132 232.8 102.5M136 230Q121.2 118.6 231.9 99.8M148.4 229.5Q124.9 121.7 234.3 108.1M191.6 214.3Q143.8 133.6 235.6 114.5M154.5 228.6Q123.5 122.3 231.7 99.2M155.4 228.5Q123.5 122.5 231.6 98.8M149.7 229.3Q124.8 121.9 234 106.8M133 229.9Q123.1 118.4 234.6 109.4M171.5 224.2Q130.4 127 233.8 106.2M188.5 216.1Q142.1 132.9 235.7 114.7M191.8 214.1Q135.3 130.1 231 96.9M166.6 225.8Q128.9 125.9 233.9 106.6M151 229.1Q127.8 123.3 235.8 115.9M175.4 222.7Q132.8 128.3 234.4 108.4M176.1 222.4Q116.9 126.8 208.3 61.3M181.3 220Q134.8 129.5 234.1 107.2M147.9 229.5Q126.2 122.2 235.3 112.9M199.9 208.3Q147.7 134.5 235 111.3M183.1 219.1Q137.5 130.8 235 111.3M162.6 226.9Q126.3 124.4 232.8 102.4M147 229.6Q124 121.2 233.7 105.7M132.9 229.9Q125.1 119.1 236.1 117.8M162.3 227Q115.9 124.7 209.2 62.2M169.4 224.9Q130.7 126.9 234.5 108.8M135.1 230Q132.3 130.9 138.3 32M193.1 213.3Q115.3 132.1 185.1 43.9M193.4 213Q114.9 134.3 168 36.7M166.7 225.7Q126.9 125.2 232.3 101M170.6 224.5Q116.8 125.7 210.6 63.7M186.3 217.4Q141.8 132.9 236 116.7M143 229.9Q123.3 120.3 233.7 105.5M136.5 230Q123.1 119.1 234.3 108.1M134.2 229.9Q124.4 119.1 235.6 114.6M150.4 229.2Q127.8 123.3 235.9 116.3M133.1 229.9Q131.9 130.8 141.1 32M184.4 218.4Q148.9 137.8 237 133.8M192.5 213.6Q144.1 133.6 235.5 114M191.5 214.3Q116.3 135.7 152.6 33.1M171.3 224.2Q128.8 126.4 232.7 102.1M200.2 208Q151 136.1 236 116.8M171.2 224.3Q127.9 126.1 231.9 99.7M136 230Q128.4 121.4 237 128.3M147.2 229.6Q122 120.7 231.4 98.3M171.6 224.1Q131.6 127.5 234.6 109.2M158.6 227.8Q128.7 124.8 235.3 112.6M136.9 230Q124.6 119.6 235.5 113.8M182.2 219.6Q132 128.5 231.9 99.8M198.5 209.3Q119.8 130.6 202.1 55.5M156.8 228.2Q125.1 123.1 233 103.1M165.1 226.2Q130.6 126.5 235.3 112.6M141.1 230Q123.1 119.9 233.7 105.7M189.6 215.5Q138.2 131.1 233.7 105.5M155 228.5Q124.5 122.7 232.7 102.2M198.8 209.1Q145.8 133.8 234.6 109.1M140.4 230Q122.2 119.6 232.8 102.4M175.5 222.6Q127.4 126.5 230.1 94.8M185.9 217.6Q139 131.5 235 111.4M188.7 216.1Q147.3 135.9 236.8 125.1M178.8 221.2Q131.8 128.2 232.9 102.8M143 229.9Q126.7 121.6 236.1 117.9M171.7 224.1Q128.5 126.3 232.4 101M148.7 229.4Q124.2 121.5 233.6 105.3M185 218.2Q140.3 132.1 235.7 115.2M163.4 226.7Q115.3 127.7 189.4 46.4M179.6 220.8Q133.6 128.9 233.8 106.1M135.3 230Q122.6 118.7 233.9 106.2M188.8 216Q143.6 133.7 236.1 117.5M155.2 228.5Q123.7 122.5 231.8 99.4M143.2 229.9Q123.5 120.4 233.9 106.3M132.8 229.9Q124.1 118.7 235.5 114M139.1 230Q122.5 119.4 233.3 104.2M192 214Q141.4 132.4 234.6 109.2M163.2 226.7Q125.2 124.2 231.6 98.7M147.4 229.6Q118.6 120.8 224.4 82.7M139.7 230Q121.8 119.4 232.3 100.8M150 229.3Q122 121.3 230.8 96.6M133.5 229.9Q121.6 118.2 232.8 102.5M191.8 214.1Q142.5 132.9 235.1 111.7M178.8 221.2Q148.3 138.3 236.6 139.8M191.5 214.3Q139.5 131.6 233.8 106M143 229.9Q127.8 122.2 236.6 121.8M189.5 215.6Q133.1 129.3 230.1 94.8M163.9 226.6Q128.2 125.3 234 106.9M167 225.7Q120.2 124.2 222.7 79.7M157.3 228.1Q115.7 124.2 208.1 61.1M135.8 230Q120.2 118.6 230.1 94.7M184.4 218.5Q132.7 128.9 231.7 99.1M146.7 229.6Q125.6 121.7 235.1 111.6M184.2 218.6Q115.3 129.7 193.6 49.1M198.6 209.3Q145.5 133.7 234.5 108.8M133.2 229.9Q120.1 118.2 230.2 94.9M162.3 227Q129.4 125.6 235.1 111.6M166.9 225.7Q131.3 126.9 235.3 112.7M145.8 229.7Q126.2 121.8 235.6 114.2M170.3 224.6Q133.8 128.5 235.8 115.9M160.7 227.4Q123.7 123.4 230.5 95.7M149.8 229.3Q125.5 122.2 234.6 109.2M194.1 212.6Q142.8 132.9 234.6 109.5M140.8 230Q125.3 120.6 235.6 114.3M192 214Q139.7 131.7 233.8 105.9M134.1 229.9Q120.9 118.3 231.7 99M171.9 224Q132 127.7 234.7 109.7M166.7 225.7Q129.4 126.1 234.2 107.7M135.4 230Q117.8 119.4 222.3 79M192.2 213.8Q145.8 134.5 236.1 117.6M176.3 222.3Q130.9 127.6 233 103M185.3 218Q131.2 128.5 230.2 95M171.2 224.3Q122.4 125 225.1 84M187.7 216.6Q135 129.8 232.3 100.8M176.2 222.3Q135.8 129.8 235.7 114.8M164.5 226.4Q124.5 124.2 230.5 95.6M160.5 227.4Q125.8 123.9 232.8 102.5M140.7 230Q120.7 119.5 230.5 95.6M144.6 229.8Q122.4 120.4 232.4 101.1M164.3 226.4Q131.6 126.9 235.8 115.9M192.5 213.6Q140.9 132.1 234.2 107.6M136.6 230Q121.2 118.7 231.8 99.5M200.1 208.1Q148.7 134.9 235.3 112.7M139.8 230Q122.8 119.6 233.6 105.3M143.2 229.9Q126.6 121.6 236.1 117.4M178.3 221.4Q135.8 129.8 235.3 112.5M171.2 224.3Q117.4 131.7 164.4 35.6M184.2 218.6Q134.1 129.4 232.8 102.5M194.5 212.3Q138.7 131.2 232.3 100.9M160.7 227.4Q127.7 124.6 234.3 108M138.4 230Q124.5 119.9 235.3 112.7M183.3 219Q132.7 128.8 232.1 100.3M171.9 224Q115.3 130.2 178.4 40.6M176 222.4Q135.6 129.7 235.6 114.5M158.1 227.9Q125.1 123.3 232.7 102.2M164.4 226.4Q140.1 132.7 236.8 137.5M132.8 229.9Q122.6 118.3 234.2 107.6M151.1 229.1Q123 121.6 231.9 99.6M158.2 227.9Q125.2 123.4 232.7 102.2M182.6 219.4Q133.6 129.1 233 103M184 218.7Q140.3 132.2 235.9 116.3M199.3 208.7Q115.2 134.6 172.5 38.2M162.9 226.8Q129.7 125.8 235.1 111.8M149.9 229.3Q127.6 123.1 235.9 116M139.9 230Q116.7 122.3 208.6 61.6M132.9 229.9Q123.5 118.5 235 111.1M133.1 229.9Q120.9 118.1 231.7 98.9M133.8 229.9Q120.2 118.2 230.2 94.9M185.7 217.8Q134.9 129.7 232.9 102.7M199.8 208.3Q140.6 131.8 231.5 98.3M180 220.6Q132.3 128.4 232.9 102.7M182.4 219.5Q133.8 129.2 233.2 103.9M140 230Q124.8 120.2 235.3 112.8M155.1 228.5Q126.1 123.2 234.1 107.3M134.6 229.9Q121.7 118.4 232.8 102.3M140.1 230Q123.3 119.8 234.1 107.1M152.1 229Q127.1 123.2 235.3 112.8M188.7 216Q135.6 130.1 232.3 100.9M195.3 211.7Q142.3 132.6 234 106.9M186.6 217.3Q139.3 131.6 235 111.3M146.4 229.6Q124.8 121.3 234.6 109.1M193.8 212.7Q139.8 131.6 233.2 103.8M170.7 224.4Q119.8 124.9 220.3 75.9M167 225.7Q126.7 125.1 232 99.9M170.6 224.5Q134.3 128.7 236 116.8M160.6 227.4Q127.3 124.5 234 106.8M133.5 229.9Q123.5 118.6 234.9 110.8M153.6 228.8Q118.7 121.9 223.4 81M192.4 213.7Q141.7 132.5 234.6 109.3M186.7 217.2Q139.2 131.5 234.9 110.9M150.6 229.2Q122.8 121.5 231.8 99.4M151 229.1Q125.1 122.2 234.1 107.2M180 220.7Q136.3 130.2 235.2 112M154.8 228.6Q122.5 122.2 230.5 95.7M192.7 213.5Q145.7 134.5 236 116.8M148.6 229.4Q124.5 121.6 234 106.6M154.8 228.6Q124.5 122.6 232.8 102.4M142.6 229.9Q123.7 120.3 234.1 107.4M192.4 213.7Q141.1 132.2 234.3 108.2M161.3 227.2Q128.5 125.1 234.7 109.9M146.4 229.6Q125.6 121.7 235.2 112.1M175.9 222.5Q134.5 129.1 235.2 112.1M151.2 229.1Q125.9 122.5 234.6 109.5M191.7 214.2Q115.5 135 159.3 34.3M176.6 222.2Q136 129.9 235.7 114.8M142.4 229.9Q125.2 120.8 235.3 112.9M144.5 229.8Q122.1 120.3 232 100.1M139.1 230Q119.3 126 188.7 45.9M189.6 215.5Q139.4 131.6 234.3 108M186.5 217.3Q131.6 128.7 230.1 94.7M173 223.6Q130.9 127.3 233.8 106.1M152.6 228.9Q126.9 123.2 235.1 111.9M175.1 222.8Q127.4 126.4 230.3 95.1M183.2 219.1Q140.3 132.2 236 117.2M147.3 229.6Q126.5 122.2 235.6 114.2M157.6 228Q123.2 130.7 162 35M152.2 229Q124.4 122.2 233.3 104.1M147 229.6Q122.5 120.8 232.1 100.1M156.7 228.2Q129.6 125 236 116.9M166.9 225.7Q131.9 127.2 235.6 114.2M141 230Q125 120.5 235.4 113.2M155.8 228.4Q125.7 123.2 233.7 105.6M171.4 224.2Q144.7 136.2 236.5 140.8M187.6 216.7Q141.1 132.4 235.5 113.8M136.9 230Q117.5 119.9 220.5 76.3M175.1 222.8Q131.5 127.8 233.7 105.6M183.9 218.7Q114.9 130.2 189.6 46.5M199 209Q144.3 133.1 233.8 106.2M156.9 228.2Q128.8 124.6 235.6 114.3M188.9 215.9Q143.8 133.8 236.1 117.7M192.3 213.8Q114.8 132.9 178.2 40.5M186.4 217.3Q139.4 131.7 235.1 111.7M160.6 227.4Q124.4 123.6 231.4 98.2M160.9 227.3Q128.3 124.9 234.7 109.7M185.6 217.8Q141 132.5 235.9 116M194.4 212.4Q139.3 131.5 232.7 102.3M146.5 229.6Q121.1 120.5 230.2 94.9M132.7 229.9Q140.8 131.3 151.7 33M147.6 229.5Q127.5 122.7 236.1 117.6M146.3 229.7Q122.2 120.6 231.8 99.3M145 229.8Q122 120.3 231.7 99.1M183.1 219.1Q142.9 133.7 236.7 122.9M164.3 226.4Q130 126.1 235.1 111.6M193.3 213.1Q140.4 131.9 233.7 105.8M193.7 212.8Q139.3 131.5 232.9 102.9M146.2 229.7Q124.9 121.3 234.6 109.5M134.8 229.9Q121.1 118.4 231.9 99.7M145 229.8Q125.9 121.6 235.5 113.8M139.9 230Q123.2 119.7 234 106.9M135.6 230Q124.5 119.4 235.6 114.2M197.9 209.8Q145.5 133.8 234.7 109.9M136.8 230Q124.6 119.6 235.5 114M180 220.6Q137.6 130.8 235.7 114.9M161.1 227.3Q125 123.8 231.9 99.5M193.9 212.7Q122.9 129 213.7 67.2M194.6 212.2Q137.7 130.9 231.6 98.7M198.9 209Q140.8 131.9 231.9 99.7M136.8 230Q125.1 119.8 235.9 116M164.9 226.3Q127.5 125.1 233.2 104M182.5 219.4Q116.5 133.7 159 34.2M195.3 211.7Q115.7 136.1 154.8 33.4M144.8 229.8Q124.4 121 234.5 108.8M176.3 222.3Q133.1 128.5 234.4 108.3M137 230Q128.5 121.7 237 128.2M171.6 224.1Q118 132.1 160.7 34.6M145.2 229.7Q116.4 124.1 201.1 54.7M180.1 220.6Q119.1 134.3 147.7 32.5M178.3 221.4Q128.4 127.1 230.2 94.9M138 230Q123.9 119.5 234.8 110.4M151.2 229.1Q126.4 122.8 235 111.3M142.6 229.9Q125.6 121 235.6 114.4M155.6 228.4Q120.2 122.1 226.4 86.5M151 229.1Q131 130.9 153 33.1M165.4 226.1Q125.1 124.5 230.9 96.7M190.3 215.1Q140.6 132.1 234.7 109.7M139.2 230Q131.1 130.1 164.4 35.6M163.9 226.6Q117 129.9 174 38.8M164.7 226.3Q131.4 126.8 235.7 115.1M136 230Q123.2 119 234.5 108.7M190.8 214.7Q145.1 134.3 236.1 118M134.9 230Q121.4 118.4 232.3 101M191.9 214Q136.9 130.6 232.1 100.2M183.1 219.1Q140.3 132.2 236.1 117.3M196.7 210.7Q146.9 134.6 235.5 113.9M156.8 228.2Q128.7 124.6 235.5 114.1M189.2 215.7Q153.3 140.2 236.9 136.2M138.3 230Q125.3 120.2 235.8 115.9M161.9 227.1Q127.2 124.6 233.7 105.5M166.9 225.7Q130.9 126.8 235.1 111.8M139.7 230Q122.9 119.6 233.7 105.7M187 217Q134.7 129.7 232.3 100.9M171.3 224.2Q127.9 126.1 231.9 99.6M146.7 229.6Q124.6 121.3 234.3 108.1M194.1 212.6Q139.9 131.7 233.2 103.7M198.1 209.6Q149.7 135.8 236 117.2M170.8 224.4Q120.2 124.9 221.2 77.3M199.2 208.8Q130.8 129.7 222.7 79.8M192.8 213.4Q138.6 131.2 232.9 102.7M198.6 209.3Q144 133 233.8 106M194.4 212.3Q147.2 135 236.1 117.5M193.4 213Q142.8 132.9 234.8 110.3M164.6 226.4Q126.1 124.6 232 100.1M158.7 227.8Q120.4 122.7 225.9 85.4M146.9 229.6Q121.1 120.6 230.1 94.7M149.5 229.3Q125 121.9 234.2 107.7M144.3 229.8Q132.1 125.3 236.9 134.6M185.3 218Q133.6 129.2 232.1 100.2M157.4 228.1Q129.9 125.2 236 117.1M192.7 213.5Q140.2 131.9 233.8 106.1M152.5 228.9Q127 123.2 235.2 112.1M190.8 214.7Q116.2 130.5 194.3 49.6M136.6 230Q121.4 118.8 232.1 100.2M171.9 224Q129.8 126.8 233.3 104.3M163.4 226.7Q130.1 126 235.3 112.6M162.5 226.9Q138.1 131.1 236.9 134.6M189.3 215.7Q140 131.8 234.6 109.5M189.4 215.6Q140.7 132.2 235 111M189.6 215.5Q138.9 131.4 234.1 107.1M190.3 215.1Q137.7 130.9 233.2 103.8M169.5 224.8Q114.9 127.7 194.6 49.8M133.4 229.9Q120.9 118.2 231.7 99M187.6 216.7Q141.2 132.5 235.5 114M157.4 228.1Q125.2 123.3 232.9 102.9M199.2 208.8Q149.4 135.5 235.7 115.3M150 229.3Q122.8 121.4 231.9 99.8M154.5 228.6Q124.3 122.6 232.7 102.1M187.7 216.6Q133.1 129.2 230.8 96.6M142.9 229.9Q116.9 124.3 199.3 53.3M192.5 213.7Q135.4 130.1 230.8 96.5M162.5 226.9Q117.1 129.6 174.7 39.1M162.5 226.9Q131.5 126.6 236 117.2M183 219.2Q136.6 130.4 234.6 109.5M196.9 210.6Q141.7 132.3 233.2 103.9M193.8 212.8Q139.4 131.5 233 103M197.6 210Q115.8 132.9 183.5 43.1M194.4 212.4Q114.8 134.1 171.1 37.7M147.8 229.5Q126.9 122.5 235.7 115.3M152.4 229Q126.1 122.8 234.6 109.4M184.3 218.5Q131.5 128.5 230.8 96.5M161.6 227.2Q125.3 124 232.1 100.2M184.6 218.4Q150.2 138.7 236.9 136.2M140.2 230Q125.6 120.6 235.8 115.9M200.2 208Q148.8 135 235.3 112.7M169.1 225Q127.2 125.6 231.9 99.6M162.3 227Q126.4 124.4 232.9 103M136.1 230Q121.9 118.7 232.9 102.7M162.9 226.8Q125.9 124.3 232.3 101M136.4 230Q120.6 118.7 230.9 96.7M135.9 230Q120.9 118.6 231.4 98.3M188.6 216.1Q138.6 131.3 234.2 107.6M145.3 229.7Q126.9 122 236 117M158 228Q130.6 131.4 146.7 32.4M158.2 227.9Q130.3 125.5 236.1 117.5M187 217Q137.5 130.8 234 106.8M134.5 229.9Q125 119.3 236 116.7M147 229.6Q122.4 120.8 232 99.9M167 225.6Q116.3 130 175.6 39.4M136.2 230Q127.8 129 173.9 38.8M161.3 227.2Q132.5 131.6 139.5 32M162.1 227Q130.4 126 235.6 114.6M175.3 222.7Q118.6 133.1 154.6 33.4M158.4 227.9Q128.2 124.5 235 111.3M162.2 227Q129.3 125.5 235 111.3M151.3 229.1Q126.3 122.7 234.9 110.8M186.2 217.5Q138.9 131.4 234.9 110.8M181.5 219.9Q137.5 130.8 235.4 113M176.8 222.1Q130.2 127.5 232.3 100.9M147.5 229.5Q124.3 121.4 233.9 106.4M146.7 229.6Q123.9 121.1 233.7 105.5M163.7 226.6Q130.2 126.1 235.3 112.7M168.8 225.1Q132 127.4 235.3 112.7M133.9 229.9Q130.2 122.4 236.9 136.3M175.2 222.7Q132.2 128 234.1 107.1M155.4 228.5Q115.6 124.4 205.7 58.8M161.4 227.2Q127.5 124.6 234 106.9M188.6 216.1Q135 129.9 232 100M161.4 227.2Q128 124.9 234.4 108.5M186.4 217.4Q135.6 130 233.1 103.6M149.9 229.3Q123.6 121.6 232.8 102.6M152.4 228.9Q127.7 123.5 235.6 114.5M164.6 226.4Q124.5 124.2 230.4 95.5M133.2 229.9Q120.1 118.2 230.2 94.9M166.9 225.7Q126.7 125.1 232.1 100.2M158.9 227.8Q126.6 124 233.8 106.2M192.5 213.6Q141 132.2 234.3 107.9M169.4 224.9Q128.7 126.1 233.1 103.6M175.4 222.7Q127.7 126.5 230.5 95.7M140.9 230Q122.3 119.7 232.8 102.6M169.1 225Q125.4 125.1 230.1 94.6M189.1 215.8Q138.8 131.3 234.1 107.2M133.7 229.9Q124.5 119 235.7 115.2M195.7 211.4Q141.2 132.1 233.4 104.4M152 229Q127.8 123.5 235.7 115.2M194.2 212.5Q121.2 129.3 209.6 62.6M189.3 215.7Q137.2 130.7 233.2 103.7M194.6 212.2Q141.8 132.4 234 106.9M161.3 227.2Q124.8 123.8 231.7 99M149.8 229.3Q135.1 128.2 236.7 138.9M138.4 230Q122.8 119.3 233.8 105.9M163.8 226.6Q131.9 127 236 117.1M165.4 226.1Q128.3 125.5 233.8 105.9M149.8 229.3Q125.8 130.1 164.5 35.6M182.4 219.5Q137 130.5 234.9 110.8M152.3 229Q122.4 121.7 230.9 96.9M198.9 209.1Q150.4 136.1 236.1 117.6M199.7 208.4Q146.4 134 234.5 109.1M143 229.9Q118.1 125.9 190.3 47M149.9 229.3Q128.1 123.4 236.1 117.8M141.2 229.9Q121.6 119.6 231.8 99.4M188 216.5Q114.8 133 172.3 38.1M146.1 229.7Q129.1 130.3 161.7 34.9M194.3 212.5Q136.6 130.5 230.9 96.9M138.6 230Q125.5 120.3 235.9 116.3M193.6 212.9Q115.9 131.5 189.4 46.4M140.8 230Q125.6 120.7 235.7 115.3M189.5 215.5Q140.2 131.9 234.7 109.7M192 213.9Q118 136.5 142 32.1M145.8 229.7Q121.9 120.5 231.5 98.3M176 222.4Q139.6 132 236.7 123.8M174.3 223.1Q127.1 126.2 230.3 95.1M194.2 212.5Q116.9 131 194.5 49.7M186.2 217.5Q115.8 134.1 160.7 34.6M146.1 229.7Q124.8 121.3 234.6 109.3M140.4 230Q119.5 119.5 227.9 89.5M134.4 229.9Q125.1 119.4 236 117.2M163.7 226.6Q130.9 126.5 235.6 114.5M160.4 227.4Q126.8 124.3 233.7 105.7M162 227.1Q126.3 124.3 232.9 102.8M189.2 215.7Q142.7 133.2 235.7 115.2M178.7 221.2Q133.7 128.9 234.1 107.2M184.6 218.4Q137.8 130.9 234.8 110.3M148.6 229.4Q121.5 120.9 230.4 95.5M192.4 213.7Q140.4 131.9 234 106.8M166.6 225.8Q115.3 128.7 184.9 43.8M141.3 229.9Q121.9 119.7 232.3 100.8M147.3 229.6Q124.2 121.3 233.9 106.3M193.6 212.9Q141.8 132.5 234.3 108.2M166.7 225.7Q131.2 126.9 235.3 112.7M199.4 208.6Q143.3 132.7 233.2 103.7M150.9 229.2Q125.6 122.4 234.5 108.9M138.9 230Q121.4 119.2 231.9 99.5M189.6 215.5Q116.5 135.3 152.9 33.1M161 227.3Q124.4 123.6 231.3 97.9M176.1 222.4Q144.7 135.7 236.9 135.1M162.2 227Q126.8 124.5 233.3 104.1M139.3 230Q123.6 128 179.2 41M144.6 229.8Q126.3 121.7 235.8 115.4M194.7 212.1Q142.7 132.8 234.4 108.4M178.4 221.4Q130.1 127.6 231.7 99M165 226.3Q115.6 128.8 183.1 42.9M189.4 215.6Q142.6 133.1 235.7 114.9M159.3 227.7Q124.2 123.3 231.4 98.3M161.4 227.2Q125.9 131.5 152.7 33.1M164.8 226.3Q116.5 124.7 212 65.2M138.9 230Q121.5 119.2 232.1 100.2M191.8 214.1Q138.9 131.3 233.4 104.4M170.9 224.4Q126 125.5 230.2 94.8M194.6 212.2Q142 132.5 234.1 107.4M149.6 229.3Q116.3 125.4 195.9 50.7M152.3 229Q123.3 121.9 232.1 100.2M142.6 229.9Q122.5 120 232.8 102.6M180.5 220.4Q129.6 127.6 230.5 95.7M193 213.3Q143.3 133.2 235.1 111.8M192.6 213.6Q139 131.4 233.2 103.8M196.9 210.5Q146 134.1 235.2 112.1M187.1 217Q135.5 130 232.9 102.6M191.8 214.1Q136.8 130.6 232.1 100.1M185.6 217.8Q133.7 129.3 232.1 100.3M179.6 220.8Q129.6 127.5 230.8 96.5M188.7 216Q135 129.9 232 99.8M164.9 226.3Q132.3 127.3 236 117.1M163.1 226.8Q121 123.5 225.6 85M134.3 229.9Q120.5 118.3 230.9 96.9M189.2 215.8Q135.3 130 232 100M151.5 229.1Q122.8 121.7 231.6 98.8M163.3 226.7Q125.8 124.3 232.1 100.4M167.1 225.6Q122.2 124.3 226.4 86.5M164 226.5Q127.7 125.1 233.7 105.5M157.4 228.1Q130.1 125.3 236.1 117.6M169.2 224.9Q126.9 125.5 231.6 98.8M188.6 216.1Q137.6 130.8 233.6 105.4M149.5 229.3Q134.1 131 148.3 32.5M187.9 216.5Q141.9 132.8 235.7 115.1M164.8 226.3Q128 125.3 233.7 105.6M143.1 229.9Q124.3 120.6 234.5 109.1M144.5 229.8Q122 120.3 231.9 99.7M146.5 229.6Q121.6 120.6 230.9 96.8M194 212.7Q142.7 132.8 234.6 109.4M200.3 207.9Q116.1 137.4 148.7 32.6M158.7 227.8Q130.3 125.6 236 117.2M184.3 218.5Q138.2 131.1 235.1 111.6M167 225.6Q128.1 125.6 233.2 104M192.7 213.5Q117.6 130.1 199.4 53.3M144.8 229.8Q124.7 121.1 234.7 109.8M176.3 222.3Q143.5 134.7 237 132.3M169.6 224.8Q129 126.2 233.3 104.2M139.9 230Q119.7 119.3 228.4 90.7M166.5 225.8Q132.9 127.7 236 117.3M183.1 219.1Q134.2 129.3 233.2 103.9M135.2 230Q121.3 118.5 232.1 100.4M186.1 217.5Q116.3 134.4 156.8 33.8M192.2 213.8Q137.4 130.8 232.3 100.9M150.7 229.2Q137.1 131 141 32M144.3 229.8Q124.2 120.8 234.3 108.1M179.3 221Q135.9 129.9 235.1 111.8M151.9 229Q125.3 122.5 234.1 107.2M191.8 214.1Q141.4 132.4 234.6 109.4M195.7 211.4Q136.8 130.6 230.5 95.7M134.7 229.9Q120.1 118.4 230.1 94.7M178.7 221.3Q132.4 128.4 233.4 104.4M151 229.1Q126.4 122.7 235.1 111.5M160.8 227.3Q122.2 123.2 228.4 90.7M185.5 217.8Q137.3 130.7 234.4 108.3M194.4 212.3Q145.3 134.1 235.5 113.9M180.1 220.6Q125.3 126.7 225.8 85.3M183.2 219.1Q135.5 129.8 234 106.7M148.8 229.4Q123.6 121.4 233 103.2M171.8 224Q130.3 127 233.7 105.7M151.4 229.1Q122.8 121.6 231.6 98.8M178.9 221.2Q130.6 127.8 231.9 99.7M146.3 229.6Q124.8 121.3 234.5 109.1M192.7 213.5Q141.4 132.3 234.4 108.3M183.2 219.1Q135 129.7 233.7 105.6M179.2 221Q135.7 129.8 235 111.3M136.6 230Q129.7 129.6 169.7 37.2M191.6 214.2Q134.3 129.8 230.3 95.1M178.6 221.3Q120 134 147.3 32.4M191.5 214.3Q145.3 134.4 236.1 117.5M134.6 229.9Q122.6 118.6 233.9 106.6M139 230Q124.6 120 235.3 112.9M183.3 219Q118.9 134.9 145.5 32.3M156.5 228.3Q124.4 122.9 232.4 101.1M161.5 227.2Q127.7 124.7 234.1 107.3M144.3 229.8Q122.2 120.3 232.1 100.3M135.8 230Q134.1 130.5 161.8 34.9M192.9 213.4Q118.3 129.9 201.8 55.3M184.3 218.5Q141.1 132.6 236.1 117.7M135.9 230Q136.2 130.8 157.7 34M135.2 230Q121 118.5 231.8 99.2M139.9 230Q131.8 130.3 162.4 35.1M191.6 214.3Q140.1 131.8 234.1 107.1M149.7 229.3Q122.6 121.3 231.7 99.1M198.7 209.2Q143.8 133 233.7 105.6M156.8 228.2Q125.3 123.2 233.2 103.7M179.5 220.9Q119.5 134.2 147.4 32.4M134.1 229.9Q122.8 118.5 234.2 107.6M200.1 208.1Q148.2 134.7 235.1 111.9M133.8 229.9Q124.5 119 235.7 115.2M179.1 221.1Q134.6 129.3 234.5 108.9M163.6 226.6Q130.3 126.1 235.4 113M194.7 212.1Q144.2 133.5 235.1 111.5M158.9 227.8Q126.9 124.1 234.1 107.1M155.7 228.4Q127.5 123.9 235 111.4M163.9 226.6Q131.5 126.7 235.8 115.9M185.8 217.7Q134.8 129.7 232.8 102.5M146.5 229.6Q122.3 120.7 231.9 99.5M169.4 224.9Q122.3 124.7 225.6 85M186.1 217.5Q135.6 130 233.2 103.9M138.5 230Q122.8 119.4 233.8 105.9M165.1 226.2Q115.1 126.5 198.8 52.9M149.4 229.3Q117.9 121.4 221.9 78.5M164.5 226.4Q128.3 125.4 234 106.6M137.9 230Q123.9 119.5 234.8 110.4M198.1 209.7Q144.8 133.4 234.3 108.2M198.4 209.5Q119.5 130.7 201 54.7M150.9 229.2Q125.1 122.2 234.1 107.3M199.1 208.9Q144.8 133.3 234 106.9M150.8 229.2Q115.9 123.4 208.6 61.6M141.2 229.9Q117.8 120.1 222.3 79M160.6 227.4Q126 124 233 103M192.7 213.5Q144.4 133.8 235.6 114.4M175.2 222.8Q132.9 128.4 234.5 109M161.2 227.2Q128.2 124.9 234.5 109M175.1 222.8Q129.1 126.9 231.9 99.6M141.1 230Q126 120.9 236 116.8M148.5 229.4Q122.4 121.1 231.6 98.9M167 225.7Q121.9 124.2 225.9 85.5M182.5 219.4Q135.7 129.9 234.3 108M189.6 215.5Q143.8 133.7 236 116.9M151.1 229.1Q115.8 124 205 58.1M190.8 214.8Q140.1 131.9 234.3 108.1M140.3 230Q123.7 119.9 234.4 108.4M147.9 229.5Q126.8 122.4 235.7 114.8M164.6 226.4Q130.7 126.4 235.4 113.2M168.9 225.1Q143.4 135.4 236.5 140.8M140.6 230Q121.7 119.5 232 100M171.6 224.1Q135.1 129.2 236.1 117.7M156.9 228.2Q116.7 123.2 215.2 69M157.6 228Q126.3 123.7 233.9 106.3M163.3 226.7Q131.7 131.8 139.3 32M169.3 224.9Q125.5 125.2 230.2 94.9M166.4 225.8Q126.1 124.9 231.6 98.9M198.8 209.1Q147 134.3 235 111.3M186.6 217.3Q135.5 130 233 103.2M178.3 221.4Q117.3 133.2 158.1 34.1M189.1 215.8Q120.9 128.3 212.5 65.8M191.7 214.2Q115.7 135.3 157.2 33.9M163.5 226.7Q126.8 124.7 233 103.3M187.1 217Q141.3 132.6 235.7 114.9M150 229.3Q125.6 122.2 234.6 109.5M191.5 214.3Q134.1 129.7 230.2 94.9M162.9 226.8Q125.9 124.3 232.3 100.9M140.4 230Q126.2 121 236.1 118M184.2 218.6Q137.9 131 235 111M156.8 228.2Q134.6 131.3 139.9 32M134.9 230Q124.6 119.3 235.7 114.8M199.5 208.5Q145.2 133.5 234.1 107.2M147.4 229.6Q121.7 120.7 230.9 96.7M195.8 211.4Q142.8 132.8 234.2 107.4M133.6 229.9Q120.1 118.2 230.2 94.9M187.5 216.7Q134.2 129.6 231.8 99.3M178.8 221.2Q138.1 131.1 236.1 117.4M147.1 229.6Q127.5 122.6 236.1 117.7M144.5 229.8Q123.6 120.6 233.8 106M164.7 226.3Q123 123.9 228.4 90.6M167.8 225.4Q131.6 127.2 235.3 112.6M186.9 217.1Q141.1 132.5 235.6 114.6M189.5 215.6Q136 130.3 232.4 101.2M162.9 226.8Q120 123.5 223.7 81.5M142.5 229.9Q123.4 120.2 233.8 106.1M132.8 229.9Q120.4 118.1 230.8 96.5M151.1 229.1Q123.8 121.8 232.9 102.7M146.7 229.6Q119.3 120.6 226.4 86.5M166.8 225.7Q127.8 125.5 233 103.3M176 222.4Q127.9 126.7 230.5 95.7M198.1 209.6Q146.8 134.3 235.1 111.9M198.5 209.3Q141.2 132 232.4 101M193.8 212.8Q142.4 132.7 234.5 109M188.6 216.1Q138.7 131.3 234.2 107.8M157.2 228.1Q129 124.8 235.6 114.7M193.4 213Q114.9 134.3 168.1 36.7M176.2 222.3Q132.2 128.1 233.8 106.2M183.1 219.1Q136.2 130.2 234.4 108.5M185.3 218Q135.2 129.8 233.2 103.8M133.3 229.9Q122.5 118.3 234 106.7M166.9 225.7Q133 127.8 236 117.1M195.3 211.7Q143 132.9 234.4 108.4M145.2 229.7Q123.6 120.7 233.6 105.3M155.1 228.5Q128.2 124.1 235.5 113.8M148.5 229.4Q122.9 121.2 232.3 101M135.2 230Q125.1 119.5 236 116.8M149.9 229.3Q123.5 121.5 232.7 102.3M134.3 229.9Q121 118.3 231.8 99.2M194 212.6Q138.4 131.1 232.3 100.8M155.8 228.4Q132.1 126.4 236.8 124.8M191.7 214.1Q137.9 131 232.8 102.5M147.2 229.6Q124.1 121.3 233.9 106.2M171.7 224.1Q126.5 125.8 230.5 95.6M185.4 217.9Q137.8 130.9 234.6 109.5M184.1 218.6Q134.1 129.3 232.8 102.6M192.6 213.6Q140.7 132.1 234.1 107.2M132.7 229.9Q123.5 118.5 235 111.3M135.1 230Q122.7 118.7 234 106.8M135.7 230Q121.7 118.6 232.7 102.2M175.5 222.6Q115.2 130.9 176.7 39.9M166.6 225.8Q126.9 125.2 232.3 100.8M157.3 228.1Q125.5 123.4 233.2 104M163.3 226.7Q129.3 125.6 234.8 110.3M186.6 217.2Q135.8 130.1 233.2 103.8M150.7 229.2Q136.2 131.1 142.8 32.1M155.6 228.4Q124.3 122.7 232.4 101.2M185.6 217.8Q137.2 130.6 234.3 107.9M133.1 229.9Q120.7 118.1 231.4 98.2M193.1 213.2Q130.7 129.1 226.1 85.9M139.1 230Q125.9 120.6 236.1 117.7M194.1 212.6Q144 133.5 235.1 111.9M142.4 229.9Q135.5 130.9 152.6 33.1M163 226.8Q116.9 129.6 175.7 39.4M155.2 228.5Q124.1 122.6 232.3 100.8M185.1 218.1Q131.2 128.5 230.2 95.1M192.3 213.8Q126.5 128.6 221.1 77.2M148.7 229.4Q126.6 122.5 235.5 113.8M196.7 210.7Q143.6 133.1 234.2 107.8M181.4 220Q135.5 129.8 234.4 108.6M157 228.2Q125.2 123.2 233 103.1M138.9 230Q117.2 123.5 201.9 55.3M137 230Q125.3 119.9 236 116.7M181.5 219.9Q131 128.1 231.4 98.2M183.9 218.7Q140.8 132.4 236.1 117.5M136.6 230Q118.3 119.2 224.4 82.7M158 228Q129.7 125.2 235.9 116M189.6 215.5Q136.8 130.5 232.9 102.7M163.1 226.8Q127.8 125 233.9 106.3M136.5 230Q125.1 119.7 235.8 115.9M184.8 218.2Q141.1 132.5 236 117M138.4 230Q124.8 120 235.5 113.9M162.7 226.9Q135.1 128.9 236.9 126.7M136.1 230Q132.3 124.5 236.4 141.7M163.6 226.6Q131.8 126.9 236 117.1M148.8 229.4Q125.2 121.9 234.5 108.9M162.1 227Q119.2 123.4 222.2 78.9M134.5 229.9Q121.4 118.4 232.3 100.9M147.9 229.5Q135.1 131 147.8 32.5M157.1 228.1Q125.4 123.3 233.2 103.7M133.4 229.9Q143.1 131.3 146.3 32.3M146.7 229.6Q126.2 122 235.5 113.8M160.3 227.5Q129.2 125.3 235.3 112.9M192.3 213.8Q119.1 129.4 205.2 58.3M149.8 229.3Q126.5 122.6 235.3 112.7M135.7 230Q121 118.6 231.6 98.9M148.3 229.5Q121.9 120.9 231 97M152.1 229Q122.4 121.7 230.9 96.9M195.8 211.4Q138.4 131.1 231.7 98.9M158.4 227.9Q124.4 123.2 231.9 99.7M161 227.3Q126.5 124.2 233.3 104.2M135.2 230Q118 119.3 222.9 80.1M171.4 224.2Q132 127.7 234.8 110.4M192.2 213.8Q140.3 131.9 234 106.8M162.7 226.9Q123.8 123.8 230.1 94.8M137 230Q121.2 118.8 231.8 99.3M193.5 213Q139.7 131.6 233.3 104M147 229.6Q123.6 121.1 233.3 104.2M146.9 229.6Q124 121.2 233.7 105.7M133.1 229.9Q132.4 130.8 140.1 32M195.3 211.8Q142.3 132.6 234.1 107.2M147 229.6Q125 121.5 234.6 109.5M186.1 217.5Q120.8 127.7 214.4 68.1M163.1 226.8Q129.7 125.8 235.1 111.6M178.9 221.2Q136.8 130.3 235.6 114.2M166.6 225.8Q133.1 127.8 236.1 117.6M135.1 230Q124.5 119.3 235.6 114.4M156.9 228.2Q126.5 123.6 234.1 107.3M187 217Q135.7 130.1 233 103M147.5 229.5Q125.4 121.8 234.8 110.4M197.7 210Q138.5 131.2 230.9 96.8M139.5 230Q123.6 119.7 234.4 108.4M164.4 226.4Q124.9 124.3 230.9 96.7M136.1 230Q122.5 118.9 233.7 105.8M193.6 212.9Q137.6 130.9 231.9 99.7M197 210.5Q140.1 131.7 232.3 100.7M181.3 220Q137.2 130.6 235.3 112.6M152 229Q126.7 123 235.1 111.8M145 229.8Q122.8 120.5 232.8 102.4M143.1 229.9Q124.2 120.6 234.5 108.8M170.8 224.4Q131.3 127.3 234.6 109.1M184.8 218.3Q139.2 131.6 235.4 113.2M140.7 230Q141.5 131 142.3 32.1M189.5 215.5Q137.5 130.8 233.3 104.1M158 228Q124.4 123.1 232 99.8M166.9 225.7Q129.7 126.2 234.4 108.4M199 208.9Q148.7 135.1 235.6 114.3M157.6 228Q119.3 129.8 169.8 37.3M151.3 229.1Q125.4 122.4 234.3 108M199.1 208.9Q149.4 135.5 235.8 115.4M184.4 218.5Q114.9 130.4 188.6 45.9M160.2 227.5Q118.6 123.1 221.3 77.5M144.8 229.8Q129.7 130.3 161.8 34.9M149.9 229.3Q124.6 121.9 233.9 106.3M133.2 229.9Q122.3 118.3 233.8 105.8M157.6 228Q127.7 131.3 152.9 33.1M199.7 208.4Q115.8 137.1 151.9 33M171.2 224.3Q133.8 128.5 235.7 115M132.7 229.9Q123.1 118.4 234.7 109.8M199.1 208.9Q142.8 132.5 233 103.2M136 230Q120.6 126.1 188.2 45.7M196.9 210.6Q147.5 134.8 235.7 114.8M134 229.9Q123 118.6 234.4 108.5M161.7 227.1Q125.2 123.9 231.9 99.8M158.4 227.9Q124.8 123.3 232.4 101.1M139.8 230Q124.1 120 234.8 110.4M200.3 208Q148.9 135 235.3 112.9M148.4 229.4Q127.7 122.9 236.1 117.4M151.2 229.1Q122.6 121.6 231.4 98.3M164.3 226.4Q124.9 124.3 230.9 96.8M184.1 218.6Q136.9 130.5 234.5 108.9M180.1 220.6Q135.4 129.7 234.7 109.8M134.8 229.9Q121.1 118.4 231.8 99.4M158 228Q119.3 122.6 223.7 81.5M160.8 227.3Q125.1 123.8 232.1 100.2M179.2 221Q136.4 130.2 235.4 113.2M181.4 220Q133 128.8 233 103M195.6 211.5Q147.7 135.1 236 116.9M191.7 214.2Q140 131.8 234 106.8M158.5 227.9Q129.4 131.4 148.6 32.6M163.2 226.7Q125.8 124.3 232.1 100.3M166.8 225.7Q139.2 131.9 237 132.8M148.4 229.5Q116 123.1 208.5 61.5M186.3 217.4Q137.5 130.8 234.3 107.9M166.6 225.8Q115.5 129 182.5 42.6M160.6 227.4Q128.9 125.1 235.1 111.6M161.8 227.1Q129.8 125.7 235.4 113M148.1 229.5Q124.6 121.6 234.1 107.2M197.9 209.9Q138.4 131.1 230.8 96.5M184.8 218.3Q140 132 235.7 114.9M135 230Q125.1 119.5 236 116.9M159.2 227.7Q127.4 124.3 234.4 108.3M171 224.3Q129.5 126.6 233.3 104.3M135.3 230Q121.2 118.5 232 100M181.4 220Q138.3 131.2 235.7 114.9M150.7 229.2Q127.2 123 235.5 114.1M161.2 227.3Q130.4 125.9 235.8 115.3M155 228.5Q126.8 123.5 234.7 109.6M184.4 218.5Q117.1 134.5 153.8 33.3M136.6 230Q120.4 118.7 230.4 95.6M134.7 229.9Q123.7 118.9 235 111.3M192.7 213.5Q141.4 132.3 234.4 108.3M138.9 230Q118.8 119.3 226.3 86.2M163.7 226.6Q128.4 131.9 145.4 32.3M178.7 221.2Q131.1 127.9 232.4 101.1M142.3 229.9Q125.5 121 235.6 114.2M154.8 228.6Q122.8 122.2 230.9 96.8M157.3 228.1Q127.8 124.2 234.9 110.9M138.8 230Q126 120.5 236.1 118M190.3 215Q138.9 131.4 233.8 106.2M164.8 226.3Q125.7 124.5 231.6 98.8M179.4 221Q128.8 127.3 230.1 94.8M148.2 229.5Q123.3 121.2 232.8 102.6M197.9 209.8Q125.2 129.4 215.3 69.1M133.6 229.9Q122.4 118.4 233.8 106.2M197.6 210Q148 135 235.7 114.7M132.7 229.9Q124.4 118.8 235.7 115.2M140.3 230Q123.1 119.8 233.8 106.2M183.2 219.1Q133.4 129.1 232.7 102.2M170.3 224.6Q127.2 125.8 231.6 98.8M148.1 229.5Q124.6 121.6 234.1 107.3M148.2 229.5Q122.7 121.1 232.1 100.3M138.3 230Q122.3 119.2 233.2 103.9M170.5 224.5Q134.6 128.9 236.1 117.7M199.3 208.7Q141.9 132.2 232.4 101.2M191.8 214.1Q143.2 133.2 235.4 113M189.4 215.6Q133.9 129.6 230.8 96.6M198.9 209.1Q140.7 131.8 231.9 99.6M148.6 229.4Q123.3 121.3 232.7 102.1M155.7 228.4Q126.2 123.4 234.2 107.5M198.3 209.5Q140.9 131.9 232.3 100.7M145 229.7Q121.9 120.4 231.7 99M163.2 226.7Q126 124.4 232.4 101.2M192.3 213.8Q156.9 142.2 236.7 138.8M139 230Q116.9 121 215.5 69.3M192.6 213.5Q141.2 132.3 234.3 108.1M166.5 225.8Q123 124.3 227.9 89.5M187.9 216.5Q140.8 132.3 235.3 112.8M157.2 228.1Q129.1 124.8 235.7 114.9M146.2 229.7Q124.7 121.3 234.5 108.9M182.7 219.4Q135.6 129.9 234.2 107.5M162.7 226.9Q127.7 124.9 233.9 106.5M143.2 229.9Q121.6 120 231.6 98.7M163.9 226.5Q130.3 126.2 235.3 112.7M146.3 229.7Q131.4 130.6 156.9 33.8M188.8 216Q143.3 133.5 236 116.9M164.3 226.4Q138.2 131.2 237 133M154.6 228.6Q123.8 122.4 232.1 100.2M181.5 219.9Q134.6 129.4 233.9 106.4M140.8 230Q126.1 121 236.1 117.3M165.3 226.2Q130.4 126.4 235.1 111.9M140.8 230Q121.6 119.5 231.9 99.7M181.4 220Q134.3 129.3 233.8 105.9M193.3 213.1Q117.9 130.1 200.1 53.9M162.6 226.9Q128.5 131.8 146.5 32.4M171 224.3Q130.1 126.8 233.7 105.7M151.6 229.1Q121.8 121.5 230.2 95M158.5 227.8Q128 124.5 234.9 110.8M189.2 215.7Q116.9 135.4 150.8 32.8M196.7 210.7Q144.4 133.4 234.6 109.4M188.9 215.9Q139.3 131.5 234.4 108.5M169.5 224.9Q132.7 127.9 235.5 114M195.2 211.8Q114.9 134.1 172 38M191.7 214.2Q118 136.4 142.2 32.1M196.7 210.7Q143.8 133.1 234.3 108.2M135.9 230Q123.3 119 234.5 109M134.9 230Q121.7 118.5 232.8 102.5M138.9 230Q122.1 119.3 232.9 102.7M133.2 229.9Q121.1 118.1 232.1 100.3M197.8 209.9Q141.5 132.1 232.8 102.4M137.2 230Q120.3 118.8 230.2 95M160.7 227.4Q129.3 125.4 235.3 112.8M191.7 214.2Q125.4 128.5 219.8 75.2M136.5 230Q137.3 130.9 154.9 33.5M195.8 211.3Q144.2 133.4 234.7 109.9M157.6 228Q127.3 124.1 234.6 109.4M178.8 221.2Q133.8 129 234.2 107.5M176.2 222.4Q118.7 133.3 153.3 33.2M186.3 217.4Q142.4 133.2 236.2 118.1M186.6 217.2Q141.2 132.5 235.7 115.1" stroke="#F68A5E" stroke-width="0.22" stroke-opacity="1.00"/>
<path d="M83.7 213.8Q105 110.1 189.5 46.4M72.5 205.3Q113.1 115.4 176.3 39.7M81 212Q145.4 139.1 223.8 81.6M92 218.7Q154.9 149 228.3 90.3M128.8 229.6Q153.7 140.9 223 80.2M103.8 223.9Q165.2 149.8 212.9 66.3M124.1 229Q150.3 139.8 226.4 86.5M74.1 206.6Q138.6 131.7 222.8 79.9M104.2 224.1Q139.9 132.5 221.2 77.4M75.6 207.8Q163.1 162.3 226.7 87M76.8 208.8Q146.1 141.1 227.1 87.9M114.1 227.1Q149.2 139.9 225.8 85.3M127.9 229.5Q121.1 119.9 224.4 82.6M119.8 228.3Q146.2 136.6 222.1 78.8M93 219.2Q150 143.5 228 89.8M76.8 208.8Q130.3 121.3 227.6 89M110.4 226.1Q160.8 148.9 223.8 81.5M115.3 227.4Q163.7 152.2 228.2 90.3M84.9 214.6Q159.4 154.3 225.9 85.5M82 212.6Q152.9 147.5 224.9 83.5M83 213.3Q152.4 145.5 220.7 76.6M78.4 210.1Q162.5 160.3 226.4 86.3M99.8 222.3Q140.1 132.7 221.3 77.4M90.9 218.1Q164.6 155.3 220.4 76.1M100.2 222.5Q159.1 150.4 226.2 86M84.8 214.5Q147.1 141.5 227.9 89.5M119.7 228.3Q153.3 142.7 227.1 87.9M77.9 209.7Q162.4 157 220.3 76M124 229Q133.4 128 220.8 76.7M103.3 223.7Q127.3 121.1 227.6 88.9M90.9 218.1Q141.6 134.4 223 80.2M89.5 217.3Q146.7 139.4 222.3 79.1M91.8 218.6Q129.7 122.6 226.1 85.8M121.7 228.6Q165.7 150.2 223.7 81.4M126.6 229.3Q139.1 131.6 212.5 65.8M94.9 220.1Q147.5 140.7 228.3 90.4M95 220.2Q123.9 118.3 222.3 79M78 209.7Q139.1 132.3 226 85.7M126.1 229.3Q135.6 129.5 222.2 78.8M126.6 229.3Q142.8 134 220.7 76.6M81.7 212.4Q129.3 122 221.5 77.8M94.3 219.8Q150.1 142 222.1 78.7M96.8 221Q134.4 127.4 227.9 89.5M77.1 209Q137.8 130.8 226.4 86.5M114.2 227.1Q140.7 133 222.4 79.2M110.9 226.2Q149.1 144.5 236.7 122.9M89.8 217.5Q138.9 131.8 220.5 76.3M91 218.1Q163.4 158.2 228 89.8M106.6 224.9Q130.5 129 157.7 34M76.8 208.8Q134.5 126.5 228.8 91.6M118.1 228Q149.9 139.7 224.1 82.1M112.7 226.7Q135 128.5 228 89.8M108.5 225.5Q136 129.9 203.3 56.6M104.7 224.2Q138.5 131.4 225.6 84.9M81.1 212Q154.5 149.9 226.1 85.9M123.8 229Q164.2 149 224.4 82.7M94 219.7Q135.8 129.3 211.9 65.2M96.7 221Q123.2 117.5 223.7 81.5M99.8 222.4Q156.2 146.8 223 80.3M126.3 229.3Q156.2 142.8 223 80.2M75.3 207.7Q152.2 148.1 224.9 83.6M82 212.7Q147.7 141.3 222.8 80M115.4 227.4Q186.1 143.1 163.5 35.3M119.4 228.2Q162.9 148.4 222.8 79.9M127.6 229.4Q156.6 143.7 225.8 85.3M80.9 211.9Q134.6 129.9 139.5 32M76.5 208.6Q111 115.9 171.9 38M102 223.2Q147.6 139.6 226 85.6M78.9 210.4Q149.7 144.7 225.7 85.1M83.3 213.5Q128.6 119.9 228.4 90.6M75.8 208Q134.4 127.1 219.9 75.4M94.6 220Q164.4 157.8 227.6 88.8M115.7 227.5Q133.7 128 221.3 77.5M115.4 227.4Q124.7 120.3 227.2 88M112.7 226.7Q138.6 131.5 220 75.6M108.8 225.6Q172.3 150.2 203.4 56.7M77.1 209.1Q157 153.3 224.7 83.2M114.3 227.1Q161.8 148.3 222.1 78.8M87 215.9Q141.3 134.4 225.3 84.2M108.6 225.5Q123.7 119.6 223.7 81.4M99.3 222.1Q143.4 139.6 236.9 135.5M108.8 225.6Q155.4 145.4 225.5 84.7M86.5 215.5Q128.3 121.1 223.6 81.3M99.1 222.1Q133.9 127.4 223.9 81.8M78.3 210Q131 117.5 237 128M127.5 229.4Q142.5 134.2 227.5 88.7M105.1 224.4Q144.6 137.1 228.5 90.8M121.1 228.5Q120.4 118.2 225.6 84.9M84.5 214.3Q130 115 236.8 137.5M121.3 228.6Q157.7 143.9 220.7 76.5M93.2 219.3Q136.9 129.9 227.2 88M102 223.2Q122.7 118.3 222 78.7M94.9 220.1Q149.4 141.3 222.3 79.1M96.8 221Q123.3 117.9 222.8 79.9M89.1 217.1Q129.1 115.3 237 132.8M104.5 224.1Q135.8 129.1 226.1 85.8M76.1 208.3Q156.5 149.2 214.3 68M113 226.8Q121.3 118.3 223.8 81.6M72.3 205.1Q148.6 143.6 222.1 78.7M76.7 208.8Q163.3 162.2 226.8 87.2M76.1 208.3Q164.6 160.6 221.4 77.6M125.6 229.2Q160.4 146.5 225.5 84.7M90.4 217.8Q135.8 128.9 223.1 80.4M123.8 229Q157.4 145.1 226.7 87.1M99.1 222Q130.7 129.4 139.5 32M86.5 215.6Q131.6 124.8 220.5 76.2M96.4 220.8Q169 147.6 189.5 46.5M75.8 208Q138.4 131.5 228 89.7M74.3 206.8Q143.2 137 222 78.6M84.7 214.4Q100 118.3 145.6 32.3M93.8 219.6Q166.4 157.7 223.7 81.4M98.5 221.8Q132.6 126 226.2 86M81.4 212.2Q102.4 109.5 183.7 43.2M126.5 229.3Q157.4 144.6 226.5 86.5M118.5 228.1Q180 140.4 161.8 34.9M109.2 225.7Q127.9 123 223.9 81.8M90.8 218Q132.6 125.4 226.3 86.2M90.3 217.7Q151.2 144.5 225.7 85.2M106.5 224.9Q147.5 138.5 222.2 79M82.8 213.2Q156.2 151.4 225.9 85.5M92.1 218.7Q138.6 131.5 220.3 76M112.8 226.7Q165.5 150.5 219.8 75.3M74.4 206.9Q146.1 149.1 236.9 134.2M85.1 214.7Q127.5 119.2 227.1 87.9M124.2 229Q154 141.1 220.4 76.2M119.9 228.3Q140.6 132.9 225.1 83.9M88.7 216.8Q135.8 128.7 225.7 85.1M129.2 229.6Q146.7 133.9 191 47.4M96.1 220.7Q137.4 130.4 224.7 83.1M93.1 219.2Q142.3 135 222.3 79.1M106.3 224.8Q166.3 153.5 222.2 79M92.8 219.1Q140.2 133 220.5 76.2M104.8 224.3Q151.1 142.3 225.2 84.2M126 229.3Q139.8 132.1 221 77.1M93.5 219.4Q153.3 145.3 223.1 80.4M93.2 219.3Q152.6 146.2 228 89.8M78 209.8Q134.7 127.3 223.8 81.7M100 222.4Q138.9 131.8 223.9 81.8M84.2 214.1Q131.7 124 226.4 86.5M78.4 210Q134.7 127.3 223.6 81.2M99.6 222.2Q163 154.1 225.9 85.5M104.1 224Q161.7 152.5 227.2 88.1M71.9 204.7Q171.2 169.1 219.9 75.4M85.8 215.1Q126.1 117.9 226.9 87.4M108.4 225.5Q151.7 141.8 222.9 80.1M121.7 228.6Q162 146.5 220.3 75.9M81.4 212.2Q147.1 142.1 228.8 91.7M98 221.6Q142.4 135.3 227.9 89.4M74.5 207Q133.5 126 219.9 75.4M113.5 226.9Q136.4 129.7 226.5 86.5M77.1 209Q149.5 143.5 220.5 76.2M85.1 214.7Q135.4 128.1 226.4 86.3M100 222.4Q125.5 114.8 236.1 117.6M126.7 229.4Q133.3 127.8 225.8 85.3M78.5 210.1Q141.2 135 228.5 90.8M107.4 225.1Q141.4 133.1 208.8 61.8M84.2 214.1Q136.7 129.5 226.1 85.9M91.2 218.3Q165.9 156.7 221.2 77.4M119.3 228.2Q135.1 128.8 225.8 85.2M122.2 228.7Q135.7 129.3 228.3 90.4M86.1 215.3Q167.8 160.3 221.3 77.5M96.3 220.8Q162.6 154.6 226.1 85.8M115.4 227.4Q153.6 142.7 224.2 82.3M96.7 221Q120 125.7 152.1 33M81.4 212.2Q129.1 125.9 179.1 41M119.9 228.3Q143.1 134.4 221.3 77.5M104 224Q143.6 135.7 223.9 81.8M83.3 213.5Q153.3 146.5 221 77M111.7 226.4Q165 152.9 226 85.7M75.5 207.8Q149.2 145.6 228.3 90.4M84.8 214.5Q130.5 123.7 219.7 75.1M119.7 228.3Q142 134.1 226.9 87.5M99.6 222.2Q128.7 121.8 228.4 90.7M81 211.9Q130.2 123.1 220.3 76M74.4 206.8Q135.4 127.8 226.4 86.4M91.1 218.2Q146.8 140 226.2 86.1M123.9 229Q147.8 143.2 236.7 138.7M99.5 222.2Q149.3 140.7 221.9 78.5M123.3 228.9Q137.1 130.4 223.6 81.3M117.4 227.8Q153.3 142.7 226.3 86.1M115.3 227.4Q95.7 121.1 160.5 34.6M91.9 218.6Q132.1 125.5 222 78.6M110 226Q159.3 147.2 222.1 78.7M94.3 219.8Q154.3 145.2 219.9 75.4M96.9 221.1Q130.6 123.9 226.1 85.9M85.2 214.7Q137.2 130.4 203.5 56.8M104.7 224.2Q165.9 153 221 77M100.5 222.6Q149.7 142.1 227.6 88.8M94.4 219.9Q154.4 145.9 222.3 79.1M95.9 220.6Q155.5 156 236.6 122M116.4 227.6Q148.7 138.9 223.8 81.5M78.5 210.1Q147.2 141.6 224.4 82.6M112.9 226.8Q160.1 147.6 223 80.2M119.2 228.2Q126.1 122.5 223.6 81.3M108.4 225.5Q142.8 137.5 237 129.6M88.5 216.7Q133.6 126.9 220.7 76.6M77.1 209.1Q161.6 160.1 226.9 87.4M86.4 215.5Q135.2 127.8 227.6 88.9M109.1 225.7Q165.5 152.2 222.2 78.9M96.1 220.7Q135.7 128.7 228 89.7M96 220.6Q154.2 145.2 221.5 77.8M119.8 228.3Q193.7 145 168 36.7M114.1 227.1Q157.8 146.4 225.1 84M90.1 217.6Q161.9 153.1 220.5 76.3M128.6 229.6Q161.8 146.2 223.6 81.2M80.7 211.7Q162.9 156.6 220.3 76M100.6 222.7Q134.5 127.8 226 85.7M123.4 228.9Q130.2 125.7 223.5 81M82.2 212.8Q101.5 106.7 191.8 47.9M115.5 227.4Q156.1 144 222.3 79M96.7 221Q167.2 146.3 188.5 45.8M96 220.7Q145.7 138.4 226.4 86.5M108.7 225.6Q168.3 144.1 186.6 44.8M108.5 225.5Q132.4 126.1 227.7 89.1M96.2 220.7Q148.1 140.1 222.9 80M128.5 229.5Q158.9 146 228.3 90.4M119.3 228.2Q136.1 129.5 228.1 89.9M115.4 227.4Q141 133.2 222.2 79M123 228.9Q155.4 142.5 222.2 78.9M105.1 224.4Q124.9 119.7 225.5 84.6M105.4 224.5Q129.8 123.4 228.4 90.6M129 229.6Q140 132.4 228.4 90.6M101.3 223Q150.6 142.1 224.6 83.1M124.1 229Q171.3 135.9 153 33.1M99.6 222.2Q161 153.2 228 89.7M126.1 229.3Q142.6 133.3 210.4 63.5M119.3 228.2Q153.1 141.1 220.4 76.1M83.1 213.4Q157.5 151.4 222.8 79.9M108.9 225.6Q145.9 136.9 220.5 76.2M84.9 214.6Q137 130 223.2 80.6M83.8 213.9Q162.1 156.7 224.2 82.3M83.5 213.6Q136.6 128.9 235.5 113.9M103.4 223.7Q113.1 126.2 140 32M81.3 212.2Q135.4 128.2 224.4 82.6M80.8 211.8Q166.9 162.9 224.1 82.2M129.4 229.6Q153.5 148.4 237 133.5M128.2 229.5Q142.3 132.5 190.3 46.9M83.5 213.7Q150.8 149 234 106.9M72 204.8Q142.1 136.6 228.3 90.4M94.4 219.9Q141.3 134.3 226.7 87.1M84 214Q151.8 145.1 222 78.6M90.8 218Q146 138.6 222.8 79.9M80.7 211.7Q130.6 123.4 220 75.5M89.5 217.3Q151.9 145.4 226.1 85.8M118.1 228Q137.5 130.7 219.7 75.1M129.4 229.6Q135 128.9 227.6 88.9M77 209Q129.4 120.2 227.7 89.1M112.8 226.7Q157.2 144.5 219.8 75.3M112.5 226.6Q135.7 129.1 227.5 88.7M115.6 227.4Q135 128.8 222.3 79.1M101.3 222.9Q133.5 127 224.5 82.9M104.8 224.3Q143.3 135.4 223.5 81M78.8 210.3Q160.5 157.6 226 85.7M122.7 228.8Q145.5 136.1 223.5 81.1M124.4 229.1Q126.8 122.7 227.7 89.1M98.7 221.9Q154.7 146.5 225.6 84.8M105.5 224.5Q165.2 154.4 225.5 84.7M121.8 228.7Q150.2 139.3 222.8 79.8M125.7 229.2Q154.9 143.1 227.2 88.1M110.7 226.2Q157.4 147.6 227.9 89.6M84.4 214.2Q163.6 158.2 224.4 82.6M106.4 224.8Q155.6 145.3 223.6 81.2M119.7 228.3Q137.8 130.9 224.1 82.2M76.3 208.4Q148.8 144.1 225.9 85.5M102 223.2Q160.1 151.4 227.1 87.8M81.6 212.4Q146.5 146.3 236.9 126.6M98.1 221.6Q157.9 149.7 226 85.6M120.1 228.4Q134.6 128.5 225.1 83.9M85.9 215.2Q139.5 132.7 227.5 88.6M84.1 214.1Q135.3 128.3 221.5 77.8M117.9 227.9Q163 147.9 220.5 76.3M121 228.5Q115.8 127.6 151.1 32.9M81.2 212.1Q118.5 122.5 159 34.3M121.4 228.6Q153.9 142.7 226.2 86.1M92.9 219.1Q159.2 149.9 220.4 76.1M115.8 227.5Q140.9 133 221.4 77.7M89.7 217.4Q168.4 158.8 219.7 75.1M74 206.6Q163.3 159.4 220.4 76.1M86.5 215.5Q131.9 124.2 228.1 89.9M104.2 224Q150.1 140.9 222.2 78.9M84.7 214.4Q170.6 162.9 220.2 75.8M112.8 226.7Q148.3 139.5 227.2 88.1M93.4 219.4Q165.8 155.4 219.8 75.2M93.3 219.3Q142 135.2 228.4 90.6M88.9 217Q137.9 130.9 226.4 86.5M74.3 206.8Q156.1 153.8 226.1 85.9M99.5 222.2Q154.1 144.4 220.7 76.6M109.3 225.7Q134.9 129.3 202.4 55.8M128 229.5Q126.2 122.8 226.9 87.3M103.2 223.7Q126.6 121.8 221.3 77.5M111.8 226.5Q121.5 119.1 220.2 75.8M79 210.5Q141.4 134.2 214.4 68.1M106.9 225Q148.6 138.7 217.5 72M83.3 213.5Q134.1 126.7 225.2 84M82.4 212.9Q142.4 136.2 227.6 88.8M81.1 212Q139.8 132.9 222.8 79.9M106.6 224.9Q120.9 115.7 227.7 89.1M120.7 228.5Q139.9 132.5 227.1 87.9M115.4 227.4Q140.7 133.1 225.6 84.9M78 209.7Q133.3 125.1 227.9 89.5M88.4 216.7Q142.5 135.3 220.4 76.1M94.4 219.9Q141 134.1 227.6 88.8M91.2 218.3Q142.5 135.7 227.5 88.6M93 219.2Q127.2 120.4 225.1 83.9M86.1 215.3Q136.5 129.3 228.3 90.4M98.9 222Q134.5 126.6 235.7 114.9M71.8 204.6Q164.5 165.1 225.7 85M100.1 222.4Q154.4 145.2 223 80.2M118.3 228Q150.9 141.4 228.4 90.7M124.6 229.1Q150.8 139.1 221.1 77.3M79.6 210.9Q164.8 160.1 222.4 79.2M88.6 216.8Q137.4 130.4 223 80.3M117.9 227.9Q129.4 124.8 224.1 82.2M81.6 212.4Q145.6 138.7 220 75.6M123.7 229Q129.7 122.7 236 117.1M86 215.3Q139 132 222.1 78.7M97.9 221.5Q146.3 138.8 225.7 85.1M83.7 213.8Q129.7 122.1 224.4 82.7M115 227.3Q130 124.8 225.6 84.8M96.2 220.7Q129.8 123.2 225.9 85.4M120.1 228.4Q159 145.7 223.2 80.5M85 214.6Q158.1 156.6 231.8 99.3M92.6 219Q155.6 149.3 227.8 89.4M94.7 220Q130.9 124.5 223 80.3M123.2 228.9Q158.6 145 223.6 81.3M81 211.9Q162.5 155.9 219.8 75.3M122.6 228.8Q131.4 126.5 223.6 81.2M121.3 228.6Q120.1 117.6 226.8 87.2M99.7 222.3Q124.8 119.5 223.1 80.4M126.4 229.3Q152.5 141.5 227.9 89.6M78.8 210.3Q147.6 141.9 223.9 81.8M126.1 229.3Q162.8 141.7 201.2 54.8M121.6 228.6Q121 118.6 225.8 85.3M116.4 227.6Q136.9 130.4 210.5 63.6M129.5 229.6Q151.8 139.6 222.7 79.7M108.6 225.5Q121.9 118.1 223.8 81.6M124.2 229Q145.4 136.3 225.8 85.3M100.1 222.4Q99.2 120.7 150.6 32.8M76.7 208.7Q138.1 131.1 226.1 85.8M74.1 206.6Q141.6 135.7 227.5 88.7M93.2 219.3Q156 147 220.5 76.3M90.7 218Q129.7 123.4 220.5 76.3M90.3 217.7Q143.3 136.1 223.1 80.5M89.3 217.2Q164.9 159.9 227.5 88.7M129.2 229.6Q153.7 141.1 224.2 82.2M96.3 220.8Q153.5 151.3 235.6 114.6M76.4 208.5Q130.6 122.4 223.7 81.4M107.2 225.1Q146.2 136.2 209.3 62.3M117.5 227.9Q127.6 124 219.9 75.4M82.5 213Q163.3 159.2 225.5 84.7M94.7 220Q162.9 156 227.2 88M91.2 218.3Q148.8 133.8 139 32M128.4 229.5Q125.9 122.8 226.1 85.8M99.3 222.1Q123.3 118.3 222.7 79.8M115.6 227.4Q130.6 125 227.6 88.9M124.3 229.1Q153.8 139.4 211.8 65.1M94.4 219.9Q153.8 146.6 226.2 86.1M126.3 229.3Q124.8 122.9 220.6 76.4M74.3 206.8Q130.2 121.3 226 85.6M117.3 227.8Q151.4 141.1 225.3 84.3M71.9 204.7Q137.9 130.9 224.1 82.2M79.6 210.9Q165.4 160.7 222.4 79.2M110.5 226.1Q134.4 125.8 236.6 140M105.5 224.5Q134.2 127.5 227.6 88.9M80.8 211.8Q157.9 152.5 223.2 80.6M105.5 224.5Q128.4 122.4 227.6 89M123.7 229Q137.4 130.6 224.4 82.7M110.2 226Q146.7 136.9 215.8 69.8M76.6 208.7Q131.2 122.8 225.6 84.8M128.9 229.6Q131.7 126.8 224.9 83.6M85.8 215.1Q155.4 148.7 223.1 80.5M99.7 222.3Q149.3 143.7 233.1 103.6M101.9 223.2Q161.9 153.2 227.2 88.1M93.9 219.7Q157.8 148.3 220.2 75.8M88.5 216.7Q163.8 156.3 222.8 79.8M105.3 224.4Q127.7 122.7 222 78.6M123.2 228.9Q150.5 139.5 223.8 81.6M99.1 222Q135.4 128.5 226.7 87M84.3 214.1Q146 139.5 224.1 82.1M113 226.8Q127.1 122.3 225.7 85.1M113.3 226.9Q84.2 118.7 157.3 33.9M122.5 228.8Q162.4 148.3 225.3 84.3M89.3 217.2Q167.8 159.7 222.3 79M88.7 216.9Q167.6 154 209.1 62.1M93.5 219.4Q165 157.3 225.2 84.1M100.3 222.5Q166.5 155.9 223.6 81.3M81.4 212.2Q126 116.6 227.9 89.6M93.7 219.6Q88.6 107.3 179.4 41.1M74.3 206.8Q164.4 160.3 220 75.5M120.9 228.5Q120.3 117.6 227.1 87.9M99.7 222.3Q127.3 120.7 228 89.8M98.2 221.7Q130.8 122.1 234.8 110.4M105.3 224.5Q134.3 127.9 223.8 81.6M98.7 221.9Q135.5 128.7 224.6 83M76.2 208.3Q139.7 132.8 221.1 77.3M89.1 217.1Q147.5 140.9 226.4 86.4M79.4 210.8Q152.7 146.4 220.3 76M121.8 228.7Q130.1 125 227.5 88.7M117.5 227.9Q136 129.5 224.4 82.7M89.3 217.2Q143.9 136.6 221.1 77.2M78.2 209.9Q134.9 127.5 223.6 81.3M86 215.2Q170.5 153.6 198.8 52.9M106.7 224.9Q164.4 154.4 227.5 88.7M82.6 213.1Q132.1 125 221.1 77.1M102.3 223.3Q144.7 136.6 222.9 80.1M103 223.6Q142.3 135 228.3 90.3M122.1 228.7Q155.4 144.2 228 89.8M102.6 223.4Q167.5 143.4 179.6 41.1M79.4 210.8Q157.7 154 226 85.6M93.1 219.2Q163.5 156.3 225.9 85.4M121 228.5Q150.6 139.3 221.3 77.4M110.5 226.1Q154.5 144.6 226 85.6M112.6 226.7Q141.5 133.5 220.5 76.3M117.3 227.8Q130.8 125.5 226 85.7M86.1 215.3Q140.9 136.1 237 129.5M74.3 206.8Q102.5 103.8 194.5 49.7M128.6 229.6Q125.1 123.2 221.1 77.1M98.9 222Q152.9 157 236.2 143.4M81.7 212.4Q129.4 128.2 141.4 32.1M101.9 223.2Q136.7 129.9 225.9 85.5M115.2 227.3Q163.9 149.1 220.5 76.3M122.6 228.8Q154 149.5 237 129.7M99.5 222.2Q148.9 141.3 227.1 87.8M82.6 213Q146 140.1 226.4 86.5M107 225Q159.1 148.4 224.4 82.7M78.3 210Q161.9 160.5 227.6 88.9M129 229.6Q135.5 129.2 227.8 89.4M88.6 216.8Q141.8 132.1 142.8 32.1M78.6 210.2Q136.5 129.2 226 85.7M96.8 221Q151.3 142.5 221 77.1M86.1 215.3Q97 117.1 148.3 32.5M108.9 225.6Q146.6 144.3 236.2 143.5M117.3 227.8Q125.9 122.7 220.6 76.4M94.6 220Q175.1 152.7 194.3 49.6M107.5 225.2Q157.3 147.1 225.1 83.9M84.5 214.3Q141.4 134.6 224.3 82.6M82.4 212.9Q161.2 158.4 228 89.7M104.7 224.2Q139 131.8 222 78.5M95.2 220.3Q163.4 152.9 219.9 75.4M78.6 210.2Q150.5 144.6 221.9 78.5M76 208.2Q158.2 154.8 224.1 82.1M110.3 226Q159 148.2 225.8 85.2M114 227.1Q194.7 147.5 169.3 37.1M79 210.5Q160.2 154.4 220.3 76M86.4 215.5Q148.5 142.2 225.3 84.3M117.5 227.8Q120.6 117.4 227.2 88M108.5 225.5Q164.2 150.4 219.8 75.3M98.1 221.6Q149.5 141.9 226.4 86.4M71.9 204.7Q159.4 159.7 227.6 88.9M107.5 225.2Q135 127.6 235.4 113.2M92.7 219Q162.7 154.2 223 80.3M96.4 220.8Q135.4 128.4 228.7 91.3M122.9 228.8Q151.9 136.3 191.6 47.8M74.4 206.9Q108.5 109.5 190.7 47.2M86 215.2Q117.7 124.4 145.3 32.3M89.2 217.1Q132.8 126.1 221.4 77.6M76.5 208.6Q120.3 119 187.8 45.4M123.4 228.9Q120.9 118.9 225.7 85.1M84.5 214.3Q136.3 129.3 221.2 77.3M123 228.9Q140.4 132.6 223.5 81.1M115.4 227.4Q135.1 128.8 224.3 82.5M102.5 223.4Q162.9 153.7 226.7 87.1M103.1 223.6Q177.5 147 177.3 40.1M126.5 229.3Q137 130.3 226.3 86.1M121.9 228.7Q173.9 144.3 189.5 46.4M75.7 207.9Q147.9 143.3 226.7 87.1M80.8 211.8Q163.5 162.5 228.8 91.6M119.6 228.3Q158.5 145.1 222.4 79.2M85.8 215.1Q139.4 132.4 224.6 83.1M106.4 224.8Q131.1 125.7 220.4 76.2M94.5 219.9Q148 140.1 222.3 79.2M81.3 212.1Q148.6 142.5 223.8 81.6M102.3 223.3Q167.9 154.7 219.7 75.1M76.7 208.7Q144.6 139.2 227.1 87.8M83 213.3Q128.8 121.5 222.2 78.9M124.2 229Q152.3 140.1 221.3 77.5M90.1 217.6Q129.3 122.2 225.2 84M83.8 213.8Q155.5 151.6 228.5 90.8M81.8 212.5Q163.7 160 225.5 84.7M104.1 224Q142 134.3 222.1 78.8M118.3 228Q161.3 147.7 223.5 81.2M117.3 227.8Q172.7 147.5 200.1 53.9M123.2 228.9Q133.4 126 236.7 123.1M103.4 223.8Q156.6 146.6 223.2 80.5M126 229.3Q166.2 149.2 222.8 79.8M82.8 213.2Q141.2 134.7 227.7 89.1M98.1 221.6Q167.3 155.7 220.6 76.5M79.6 210.9Q143.1 137 226.5 86.6M99.1 222Q167.1 155.6 221.3 77.5M89.4 217.3Q151.2 143.1 219.8 75.3M74.4 206.9Q156.9 155.8 227.9 89.5M123.3 228.9Q157.2 143.3 221.1 77.1M75.7 207.9Q148.9 144.4 226.1 85.8M93.3 219.3Q149.3 140.9 220 75.5M94.6 220Q146.5 138.4 220.4 76.2M110.4 226.1Q127.9 122.5 227.1 87.9M123.1 228.9Q158.5 144.7 222.7 79.7M128.1 229.5Q120.5 120.3 221.4 77.6M93.6 219.5Q156.2 148.7 225.2 84M97.8 221.5Q147.7 140.6 228.3 90.4M93.3 219.3Q147.6 139.5 220.7 76.6M77.3 209.2Q129.3 120.7 225.2 84.1M90.2 217.7Q166.8 159.4 224.1 82.2M126.5 229.3Q161.2 147.8 227.9 89.6M119.2 228.2Q123.6 121.1 222.1 78.8M83.6 213.7Q144.5 137.6 221.2 77.4M123.6 228.9Q156.1 143.8 225.5 84.8M126.5 229.3Q151.6 139.3 220.3 76M112.9 226.8Q152.5 142.3 224.7 83.2M93.6 219.5Q152.3 144.3 222.9 80.1M111.1 226.3Q137.5 130.6 223.5 81.2M77.2 209.2Q141.7 135.7 228.3 90.5M90.8 218Q163.2 157 226.4 86.5M122 228.7Q129.5 124.9 225.6 84.8M119.4 228.2Q163.1 149.7 225.8 85.3M85.9 215.2Q158.6 154.1 227.6 89M92 218.7Q149.4 142.1 224.4 82.6M89.1 217.1Q134.9 127.8 226 85.7M96.8 221Q146.5 141.3 234.2 107.8M118.5 228.1Q139.1 131.8 225.5 84.8M107.2 225.1Q121.2 117.6 222.9 80M96.4 220.8Q125.3 119.3 223.8 81.7M79.3 210.7Q138.8 132 227.5 88.8M111.1 226.3Q125 120.2 226.5 86.6M84 214Q128 119.7 227.2 88M119.7 228.3Q147.8 138.4 226.4 86.4M74.5 207Q147.7 143.3 226.7 87M70.9 203.8Q147.5 150.3 236.6 122.4M99.9 222.4Q129.1 122.8 225.6 85M90.2 217.7Q105.5 113.3 185 43.9M102.4 223.4Q161.3 152.2 226.7 87.1M70.9 203.8Q116 118 169.1 37M125.6 229.2Q123.6 120.7 227.1 87.8M122.3 228.8Q153.8 141 219.8 75.3M104.2 224.1Q146.3 137.6 220.5 76.3M119.2 228.2Q152.6 141.9 225.8 85.2M99.1 222Q122.9 117.4 224.6 83M107.5 225.2Q164.3 150.7 219.7 75.1M92 218.7Q154 146.8 225.1 84M100.2 222.5Q151.4 147.8 235.6 114.7M84.6 214.3Q143.6 137.4 228.3 90.4M98.2 221.7Q132.1 125.8 222.9 80.1M113.2 226.8Q129.1 123.5 228.4 90.6M84.1 214.1Q131.9 123.9 227.9 89.5M119.8 228.3Q129.6 125.4 220.6 76.4M72.5 205.3Q121.4 123.4 151.6 32.9M98.9 222Q150.1 146.2 235.3 113M123.8 229Q143 134.4 224.4 82.7M108.4 225.5Q133.6 127.1 228 89.7M108.7 225.6Q127.1 129.2 139.9 32M78.4 210Q146.4 140.3 222.2 79M100.5 222.6Q133.9 127.4 223.6 81.3M110.2 226Q154.2 144.7 226.9 87.4M123.3 228.9Q155.5 143.6 226.2 86M113.8 227Q164.5 151.8 225.6 84.9M128.8 229.6Q136.4 129.4 236.7 123.8M104.9 224.3Q148.5 140 225.5 84.6M97 221.1Q122.7 116.1 227.1 87.8M128.3 229.5Q148 137 220.2 75.9M88 216.5Q153.9 147.6 225.5 84.7M93.3 219.4Q154.2 146 222.4 79.2M90.2 217.7Q138.2 131.2 224.3 82.6M106.8 225Q167.1 145.9 195.9 50.7M109.2 225.7Q163.1 149.8 220.6 76.5M82.5 213Q150.2 143.9 222.7 79.8M99.1 222.1Q131.4 125.2 223 80.3M90.9 218.1Q136.7 129.9 219.9 75.4M115.1 227.3Q127.6 123.5 222.1 78.8M126.6 229.3Q148.4 138.2 226.3 86.2M108.9 225.6Q131.3 125.5 224.7 83.1M100.2 222.5Q124.2 118.3 225.8 85.3M76.7 208.8Q171.7 167.2 219.8 75.3M85.7 215.1Q141.8 135.3 227.9 89.5M97 221.1Q162.5 154.4 226.1 85.8M98.2 221.7Q155.5 146.4 223.1 80.3M75.7 207.9Q142.1 135.7 222 78.6M104.4 224.1Q147.2 139.5 228 89.8M103.6 223.8Q144.8 140.2 236.8 125M83.6 213.7Q102.5 118.7 146.6 32.4M110.3 226Q121.4 116.9 227.5 88.6M128.2 229.5Q126.1 122.9 226 85.6M88.6 216.8Q147.5 141 226 85.6M108.8 225.6Q138 131 180.2 41.4M86.2 215.4Q154.9 149 225.6 84.9M115.8 227.5Q141.5 133.4 220.7 76.5M81.4 212.2Q138.2 131.2 228.3 90.4M110.6 226.1Q140.5 132.8 221.2 77.4M78.1 209.8Q140.8 134.5 228.4 90.7M93 219.2Q127.8 112.4 236.6 140.3M128.4 229.5Q148.6 138.4 227.2 88M118.4 228Q137.5 130.6 225.8 85.2M99.7 222.3Q140.8 133.3 220.7 76.6M72.3 205.1Q132 123.2 226.4 86.5M92 218.7Q142.9 135.4 219.8 75.3M106.8 225Q129.6 124.4 222.4 79.2M115.4 227.4Q146.8 137.7 224.7 83.2M72 204.8Q166.3 164.7 222.1 78.7M128 229.5Q147.6 137.1 223.1 80.4M105.3 224.4Q136.3 129.5 226.5 86.6M81 212Q149.6 140 201.8 55.3M92 218.7Q131 124.1 225.1 84M121.7 228.7Q147.2 137 221.4 77.6M81.8 212.5Q122.2 123.1 169.2 37.1M128 229.5Q142.3 133.6 220.5 76.2M80.8 211.8Q150.5 144.2 222 78.6M89.7 217.4Q157.6 150.1 223 80.3M97.9 221.5Q136.9 129.9 227.6 88.9M113.9 227Q146.8 137.5 223.1 80.4M102.7 223.5Q84.6 114.6 160.8 34.7M119.3 228.2Q152.9 142.8 228.4 90.6M96.7 221Q112.2 121.9 162.7 35.1M99 222Q149.6 141.4 224.2 82.3M98.3 221.7Q123.5 118.8 220.7 76.6M105.1 224.4Q127.6 122.6 222.3 79M103.8 223.9Q152.9 143.9 224.9 83.5M122.5 228.8Q159.4 145.7 223.7 81.4M89.2 217.2Q151 144.4 225.7 85.1M78 209.7Q145.8 145.7 236.8 125.1M121.3 228.6Q144.9 135.2 217.4 71.9M129 229.6Q127.6 124 225.9 85.5M76.6 208.6Q156.9 151.5 220.3 76M122 228.7Q160.2 145.6 221.3 77.4M123.5 228.9Q136.1 129.6 227.2 88.1M89.3 217.2Q140 133 222.3 79M124.5 229.1Q118.9 118.4 223 80.2M89.5 217.3Q167.7 159.5 222.3 79.1M82.4 212.9Q135.9 128.8 222.1 78.7M117.7 227.9Q144 135.9 228.3 90.4M123.2 228.9Q162.7 147 221.3 77.6M102.2 223.3Q124.6 119.9 222 78.5M118 228Q158 145.7 224.5 82.9M121.2 228.6Q153.8 142.4 225.1 84M100 222.4Q141.4 134.2 226.8 87.2M98.4 221.7Q155.8 147.5 225.3 84.2M119.2 228.2Q128.7 118.8 236.7 138.8M74.6 207Q130.9 122 226.7 87M91.3 218.3Q145.3 138.9 228.3 90.3M78.5 210.1Q148.9 144.6 228 89.8M103.3 223.7Q154.6 144.4 221.4 77.6M113.9 227Q121.2 118.9 221.4 77.7M93.1 219.2Q139.9 132.7 221.4 77.7M115.5 227.4Q145.8 137.1 225.8 85.3M119.3 228.2Q125.6 122.4 222.8 79.9M84.5 214.3Q143.4 136.7 223.8 81.6M96.6 220.9Q165.2 155.9 223.9 81.8M117.7 227.9Q151.7 140.6 222.3 79.1M115.8 227.5Q139.3 132 227.1 87.9M124.5 229.1Q137.1 130.3 228.8 91.6M118.4 228Q121 118.7 224.2 82.3M103.2 223.7Q150.9 141.3 220.7 76.6M125.5 229.2Q144.6 135.8 227.7 89.1M104.6 224.2Q125.3 119.5 227.7 89.1M71.8 204.6Q136.2 128.8 221.3 77.6M118.1 228Q162.1 148.7 224.6 83M98.7 221.8Q131.8 124.8 228.3 90.5M75.4 207.7Q134.5 127 222.9 80M98.8 221.9Q127.3 120.5 228.3 90.4M89.2 217.1Q153.9 146.5 222.8 79.9M112.7 226.7Q145.3 136.4 222.1 78.7M81.2 212.1Q147.1 141.7 227.2 88M83.8 213.8Q150.2 144.4 225.6 84.8M108.5 225.5Q110.1 122.8 164.3 35.6M101.3 223Q107.2 119.9 168.3 36.8M83 213.3Q140.6 134.1 228.3 90.4M115.4 227.4Q123.6 119.2 228.1 89.9M129.5 229.6Q136.1 129.9 221.2 77.4M96.1 220.7Q145.1 137.6 224.9 83.6M89 217Q155.5 147.5 221.1 77.1M75.3 207.6Q141.6 135.7 228.3 90.3M84.7 214.4Q147.7 140.9 222.2 79M84.7 214.4Q131.9 125 220.2 75.8M72.1 204.9Q134.4 126.2 227.9 89.6M126.6 229.3Q154.1 142.1 226 85.6M81.9 212.5Q141.9 135.3 225.5 84.7M105.1 224.4Q149.7 140.5 222.9 80M98.2 221.7Q145.7 137.6 221 77M76.8 208.8Q128.8 119.8 226.5 86.5M75.8 208Q137.9 130.9 225.2 84.1M107.6 225.2Q140.8 133.2 222.1 78.8M103.7 223.9Q147.3 138.7 223 80.2M105 224.3Q129.4 123.6 225.5 84.7M125.5 229.2Q145.6 135.1 213 66.4M79.3 210.7Q162.3 158.2 223.9 81.8M102.1 223.3Q156 146.4 223.5 81M110.8 226.2Q162.6 152.1 227.9 89.6M99.3 222.1Q97.4 117 163.5 35.4M102.4 223.4Q150 141.6 225.3 84.3M81.7 212.4Q135.5 128.4 220.2 75.9M77.1 209Q132.4 124.6 223 80.3M78.3 210Q132.2 126.9 191.4 47.7M91.1 218.2Q152.5 145.8 226.1 85.9M79.6 210.9Q161.6 159.2 226.9 87.4M117.5 227.9Q132.4 126.5 227.9 89.6M98 221.5Q131.6 128.2 176.2 39.7M107.7 225.2Q121.1 118.2 220.5 76.2M85 214.6Q100 111.3 175.6 39.4M78.8 210.3Q131.5 123.8 222.7 79.8M84.4 214.2Q163.2 156.2 221.2 77.3M129.5 229.6Q145.5 136.4 228.5 90.8M71.8 204.6Q163.6 160.6 220.4 76.1M128.5 229.5Q132.3 127.1 226.7 87.1M75.4 207.7Q139.1 132.4 226.4 86.3M84.5 214.3Q164.4 157.7 221.9 78.5M96.2 220.7Q156.6 147.1 220.7 76.7M72.4 205.2Q143.1 137.9 228.4 90.7M82.1 212.7Q137.3 130.8 142 32.1M120.7 228.5Q153.6 143.2 228.3 90.5M108.9 225.6Q143 134.8 220.6 76.4M102 223.2Q125 119.2 226.4 86.4M90.7 218Q125.6 117.7 228.1 89.9M129.4 229.6Q139.2 131.8 226.4 86.4M83.8 213.9Q164.6 159.3 224.2 82.3M114.1 227.1Q148.4 139.8 228.5 90.8M105.1 224.4Q145.9 137.5 222.7 79.8M114.2 227.1Q165.8 140.3 176.9 40M109.4 225.8Q151 140.5 219.8 75.3M101.1 222.9Q156.5 146.8 223 80.3M99.6 222.2Q124.4 119 223.8 81.5M93.2 219.3Q160.1 151.8 223.4 81M82.1 212.7Q100.5 111 174.7 39.1M98.5 221.8Q161.1 153.4 227.7 89M103.6 223.8Q157.6 147.5 223.6 81.3M123.5 228.9Q129.5 125.3 222.8 80M113.9 227Q121.8 119 223 80.2M71.8 204.6Q166.7 164.4 220.7 76.6M99.4 222.2Q139.7 132.7 227.6 88.9M75.5 207.8Q161.2 160.1 226.8 87.2M123.9 229Q119.2 118.5 223 80.3M126.3 229.3Q120.1 118.2 227.1 87.9M104.1 224Q142.9 132.1 148.4 32.5M129.4 229.6Q128.8 125.5 221.1 77.2M89.7 217.4Q127.4 119.3 228.5 90.8M98.8 221.9Q128.5 123.2 219.7 75.1M72.5 205.3Q138.1 131.2 223 80.2M78.1 209.8Q151.2 145.1 220.6 76.4M81.3 212.2Q166.7 161.2 221.9 78.5M113 226.8Q147.7 138.4 223.8 81.5M93.7 219.6Q146.2 138.6 222.8 80M121.9 228.7Q138 131 223.8 81.6M71.8 204.6Q130.8 121.1 228.5 90.8M119.3 228.2Q158.1 146.2 226.3 86.3M105.4 224.5Q165.8 153.5 222.7 79.8M92.1 218.7Q148.6 142.3 228.4 90.6M94 219.7Q138 131 226.7 87M79 210.5Q151.6 146 222.8 80M96.2 220.7Q131.6 125.4 222.2 78.9M127.6 229.5Q163.7 147.2 222.4 79.2M105.4 224.5Q137.8 131 150.9 32.8M121.9 228.7Q148.1 137.6 220.6 76.4M77.2 209.1Q164.2 160 222 78.6M76.9 208.9Q143.4 137.1 222.4 79.2M94.2 219.8Q136.7 129.8 226.1 85.8M100.1 222.5Q127.4 121.9 222.7 79.7M89.6 217.3Q170.9 150.7 191.3 47.6M112.7 226.7Q151.3 141.4 224.9 83.6M119.3 228.2Q161.6 146.7 220.4 76.1M104.2 224.1Q124.8 118.7 228.3 90.3M111.8 226.5Q129.5 124.8 221 77.1M89.1 217.1Q164.2 156.7 223.1 80.4M79.6 210.9Q144 137.5 222.7 79.7M76.9 208.9Q148.4 140.6 210.6 63.7M72.4 205.2Q151.7 147.2 222.2 78.9M94.1 219.7Q139 132 224.4 82.7M112.5 226.7Q121.1 117.4 225.9 85.4M124.2 229Q123.8 120.4 227.9 89.5M95.9 220.6Q124.7 118.3 225.6 84.9M96 220.6Q127.6 118.1 234.5 109M91.8 218.6Q140.7 133.5 221 77.1M78 209.7Q165.1 156.1 211.8 65M75.3 207.6Q119.9 117.5 193.5 49M119.2 228.2Q123.3 120.7 223 80.2M71.8 204.6Q137.4 130.2 223.9 81.7M117.7 227.9Q152.4 140.7 220.5 76.3M96.4 220.8Q159.9 151.4 224.5 82.9M122 228.7Q166.9 145.2 205.7 58.8M93.5 219.4Q149.9 142.3 224.2 82.2M109 225.7Q163.3 151.8 225.2 84.1M123.5 228.9Q148.5 138.4 225.8 85.2M93 219.2Q167.7 157.3 220 75.6M86.5 215.6Q127.3 111.6 237 132.8M110.2 226Q136.7 129.9 226.8 87.2M106.2 224.8Q126.2 121.5 223 80.2M82.8 213.2Q138.5 131.5 224.1 82.2M118.3 228Q146.4 137.5 227.1 87.9M91.1 218.2Q130.8 124.4 220.3 75.9M118.3 228Q140.8 133 222.7 79.7M72.1 204.9Q166 167.9 226.8 87.3M110.4 226.1Q128.1 122.5 227.7 89M112.9 226.8Q127.1 122.9 222.6 79.6M83.6 213.7Q134.5 126 234.4 108.7M76.6 208.7Q145.8 140.6 227.1 87.8M103.9 223.9Q162.8 154.2 228.4 90.6M88 216.5Q108.6 119.9 157 33.8M78.9 210.4Q130 121.7 225.5 84.8M100.6 222.7Q145 137.7 227.9 89.5M115 227.3Q125.1 124.5 202.2 55.6M108.9 225.6Q158.4 149 228.3 90.5M106.7 224.9Q164.2 151.9 222.6 79.6M128.1 229.5Q148.1 137.6 223.8 81.7M99.8 222.3Q135.4 128.5 228.3 90.4M108.9 225.6Q130.7 126.1 214.3 67.9M91 218.1Q164 155 221 77.1M89.5 217.3Q156.9 149.3 222.9 80.1M127.6 229.4Q123.7 121 226.8 87.2M91.1 218.2Q145.3 142 236.5 121.5M80.7 211.7Q158.5 155.7 227.9 89.6M80.9 211.9Q142.8 135.6 216.9 71.2M121.5 228.6Q124 121.8 221.2 77.4M123.2 228.9Q155.8 144.3 227.8 89.4M92 218.6Q136.7 129.4 233.7 105.7M103.6 223.8Q149.6 146.4 236.7 123.9M86.2 215.4Q141.3 134.2 220.3 76M77.2 209.1Q129.6 121.2 224.6 83.1M121.1 228.6Q148.8 138.9 225.7 85M77.1 209.1Q113 120.1 153.6 33.2M75.7 208Q165.7 162.5 222.3 79.1M78.1 209.8Q155.6 151.8 225.7 85.2M94.2 219.8Q147.1 147.2 236.6 139.6M115.5 227.4Q138.8 131.6 228.1 89.9M110.1 226Q171 142.9 177 40M88.4 216.7Q147.2 140.1 223.1 80.4M75.7 207.9Q147.8 142.1 222.3 79.1M119.6 228.3Q159.6 147.3 226.5 86.6M97 221.1Q155.9 146.4 221.2 77.3M75.6 207.9Q171.2 167.3 220 75.6M83.6 213.7Q134 126.4 227.5 88.8M115 227.3Q130.5 125.4 223.9 81.7M94 219.7Q109.1 123.6 142.4 32.1M118.3 228Q123.9 121.4 220.7 76.6M128.8 229.6Q149.7 139.4 228.4 90.6M107.6 225.2Q131.4 125.9 221.4 77.7M75.9 208.1Q136.1 129.1 217.7 72.2M113.5 226.9Q154.6 143.5 223.5 81.1M110.2 226Q156.8 141.2 202.6 56M100.5 222.6Q144.6 136.4 220.3 75.9M104 224Q149.1 140.8 226.2 86M108.4 225.5Q147.1 137.8 220.6 76.4M75.2 207.5Q157.2 155.8 227.8 89.4M94.8 220.1Q154 145.1 221 77.1M128.8 229.6Q156.7 144.4 228.3 90.4M92.8 219.1Q163.7 154 220.5 76.3M108.4 225.5Q154.4 143.5 221.2 77.3M82.2 212.8Q128.6 121.2 222.3 79M81.7 212.5Q137.3 130.2 225.5 84.7M78.3 210Q151.3 147.5 227.9 89.5M74 206.5Q133 124.9 224.4 82.6M106.8 224.9Q135.8 129 228.8 91.7M81.5 212.3Q99.2 108.2 181.4 42M124.5 229.1Q128.9 124.8 224.1 82.2M99.8 222.3Q130.2 124.6 219.8 75.2M110.4 226.1Q136.7 129.6 235.6 114.1M89.7 217.4Q176.5 152.8 187.5 45.2M112.7 226.7Q143.5 135.1 223 80.2M116.3 227.6Q154.3 143.7 226.5 86.5M94 219.7Q142 135 227.1 87.8M77 208.9Q147.6 143.1 227.9 89.6M117.8 227.9Q146.9 134.6 191.4 47.6M108.5 225.5Q137.8 130.8 233.4 104.4M113.9 227Q133.7 127.8 223.7 81.4M76.9 208.9Q142 135.4 221.9 78.5M120.7 228.5Q123.3 119.7 227.7 89.1M82.7 213.1Q163 158.3 224.6 83.1M83.2 213.5Q153.8 149.7 228.4 90.7M123.7 229Q150.6 140.3 227.2 88.1M72.1 204.8Q148.6 145.4 228 89.7M102.3 223.3Q126 119.9 227.2 88.1M104.7 224.2Q149.7 141.2 225.8 85.3M111.8 226.5Q145.3 137.3 228.3 90.4M109.2 225.7Q152.2 142.3 223.9 81.8M115.2 227.3Q158.8 147.2 225.8 85.2M112.7 226.7Q146.9 138.4 227.2 88M75.9 208.1Q120.2 117.7 194.4 49.7M81.4 212.2Q142.4 135.7 222.7 79.8M82.8 213.2Q133.9 126.4 225.9 85.5M109.4 225.8Q128.8 123.5 224.9 83.6M93.7 219.5Q145.8 137.8 219.9 75.4M82.2 212.8Q131.2 123.9 222.2 78.9M99.8 222.3Q165.4 154.2 221.9 78.5M84.7 214.4Q133.4 126 225.1 83.9M101.2 222.9Q148.2 141.8 231.8 99.4M123.6 228.9Q127.8 123.7 226.3 86.2M110.5 226.1Q121 118.3 221.3 77.5M123.1 228.9Q124.3 121.2 225.9 85.4M115.3 227.4Q153.9 143.9 227.6 88.9M109.1 225.7Q171.1 145.9 190 46.8M82.7 213.1Q126.2 117.7 226.2 86M84.5 214.3Q135.8 128.9 219.8 75.2M90 217.6Q143.1 132.9 156.8 33.8M102.3 223.3Q138.5 131.4 223.2 80.5M91.9 218.6Q154.5 148.1 227.1 87.8M101.2 222.9Q146.3 136.5 208.2 61.2M127.8 229.5Q145.2 135.5 222.1 78.8M95 220.2Q151.4 144.8 228.4 90.6M81 211.9Q130.4 122.1 226.8 87.3M129.2 229.6Q131.1 130.4 146.6 32.4M80.7 211.8Q138 131 221.2 77.3M92.7 219Q134.1 127.7 217.3 71.7M114 227Q141.7 134.1 228 89.8M88.6 216.8Q142 133.4 191.4 47.6M117.6 227.9Q164.7 149.2 220.6 76.5M74 206.6Q135.6 128.2 222 78.7M76.8 208.8Q139.6 131.9 177.9 40.4M96.6 220.9Q156.6 147.9 223.6 81.3M127.8 229.5Q132.4 127.1 226.9 87.4M89.1 217.1Q132.8 126.2 220.3 76M102.8 223.5Q126.3 120.7 225.1 84M78.6 210.2Q155.7 144.9 200.9 54.5M106.9 225Q131.4 125.8 221.9 78.5M110.2 226Q179 152.2 199.4 53.3M74.5 206.9Q163.6 163.6 226.8 87.3M82.4 212.9Q161.1 154.5 220.8 76.7M98.8 221.9Q146.3 138.2 222.7 79.7M72.5 205.3Q165.8 163.7 221.9 78.5M90.1 217.6Q141.6 134.7 226.2 86.1M123.6 228.9Q187.3 138.9 154.8 33.4M75.8 208Q136.4 129.2 222 78.5M78.3 210Q138.7 131.9 225.2 84.1M94.3 219.8Q161 151.9 222.2 78.9M83 213.3Q140.6 133.9 225.2 84M76.8 208.8Q164.1 163.9 227.7 89M71.8 204.6Q150.4 147.3 226.5 86.5M96.8 221Q149.8 140.1 214.7 68.4M100.5 222.6Q130.9 124.4 226.8 87.2M103.2 223.7Q149.6 140.6 222.9 80.1M96.7 221Q167.3 157.5 223.5 81.1M125.7 229.2Q157.1 145.2 228.3 90.4M129.4 229.6Q162.3 147.7 227.1 87.8M78.6 210.2Q156.4 152.2 224.9 83.6M124.4 229.1Q159.6 146.4 226.3 86.3M86.5 215.6Q131 128.1 160.2 34.5M98.5 221.8Q135.9 129.2 223.4 81M114.2 227.1Q164.3 150.4 222.7 79.8M94.1 219.7Q133.3 126.6 223 80.3M112.7 226.7Q165.3 151.8 223.6 81.3M77 208.9Q143.6 137.2 222.1 78.7M76 208.1Q155.8 151.5 222.9 80.1M85 214.6Q126.1 118.4 224.4 82.6M94.2 219.8Q164.5 154.7 221.3 77.6M123.5 228.9Q141.7 133.4 221 77M118.4 228Q153.9 143.1 226.3 86.3M85.2 214.8Q162.6 156.3 223.1 80.3M115.6 227.4Q119.9 116.3 227.7 89.1M74.2 206.7Q141 134.9 228.1 89.9M77.3 209.2Q147.7 142.7 226.4 86.4M88.3 216.6Q160.1 153 223.5 81.2M128.9 229.6Q158.5 145.5 227.9 89.5M115.6 227.4Q132.2 126.9 222.3 79.1M112.8 226.7Q138.2 131.1 223.9 81.8M93.7 219.5Q134.7 128.1 219.8 75.3M95 220.2Q128 122.4 219.8 75.3M76.3 208.4Q141.1 134.6 223.7 81.5M99.1 222Q161.9 152.1 223.5 81.1M123.2 228.9Q157.8 144.6 223.8 81.6M121.4 228.6Q163.8 149.9 226 85.6M117.3 227.8Q130.9 127.5 202.4 55.8M98.8 221.9Q158.4 150.6 227.2 88.1M84.2 214.1Q126.9 118.2 228 89.8M75.4 207.7Q135.6 127.9 228 89.6M104.8 224.3Q159.3 150 226.8 87.3M127.5 229.4Q135.8 129.4 228.3 90.4M83.2 213.5Q148.8 143.7 228 89.7M90.2 217.7Q135.3 128.4 223.1 80.5M123.1 228.9Q120.7 118.8 225.3 84.3M102.4 223.4Q147.1 138.3 220.5 76.3M102.7 223.5Q152.6 143 222 78.6M113.4 226.9Q163.9 151.8 226.4 86.5M89 217Q133.8 126.4 227.7 89.1M98.6 221.8Q147 139.5 226.4 86.4M86.3 215.4Q148.8 148.9 236.8 124.9M84.4 214.2Q138.8 131.8 223.5 81M127.8 229.5Q163.5 147.6 223.9 81.8M91 218.1Q146.5 139.5 225.2 84.1M93.3 219.3Q135.9 129.4 208.3 61.3M86.1 215.3Q132.2 121.1 236.9 126.6M104.8 224.3Q133.3 124.5 237 128.9M103.8 223.9Q160.7 149.2 221.3 77.4M118.3 228Q153.7 143.3 227.6 88.9M94.4 219.9Q161.1 144.8 195.9 50.7M70.9 203.8Q165.4 166.7 225.6 84.9M94.1 219.7Q123.1 116.4 225.9 85.5M117.6 227.9Q121.9 119.7 221.9 78.5M75.4 207.7Q155.2 150.6 222.4 79.2M118.1 228Q127 123.6 220.5 76.4M123.8 229Q162.4 149.2 227.8 89.4M98 221.5Q156.7 149.3 227.7 89.1M118 228Q145.3 136.2 223 80.2M118.1 228Q150.8 140.4 224.7 83.2M106.4 224.8Q151.3 143 227.9 89.5M83.7 213.8Q133.7 129.2 157.2 33.9M84.7 214.4Q158.8 152.2 222.3 79.1M124.4 229.1Q154.1 142.3 225.8 85.3M112.8 226.8Q125.9 122.1 221.9 78.5M94 219.7Q137.4 130.5 219.8 75.3M123.1 228.9Q162.8 148.2 224.4 82.6M129 229.6Q139 131.6 223.7 81.4M108.4 225.5Q160.8 149.5 224.3 82.6M110.4 226.1Q145.3 137 225.7 85.1M104 224Q157 147.6 225.5 84.7M109.2 225.7Q162.1 150.9 225.5 84.7M89.6 217.4Q155 149.6 228.4 90.5M125.9 229.3Q164.4 147.9 222.1 78.7M110.6 226.1Q121.5 117.4 226.1 85.8M85.1 214.7Q145 139 228.3 90.3M106.8 225Q146.5 132.4 138.4 32M114.2 227.1Q126 122 223.5 81M122.9 228.8Q156.2 143.2 222.8 79.9M75.2 207.5Q154.7 149.6 220.5 76.3M102.7 223.5Q153.8 144.8 224.9 83.5M85 214.6Q142.5 132.6 148 32.5M119.3 228.2Q130.6 125 228.9 91.7M124.6 229.1Q126.1 122.1 228 89.7M84.7 214.4Q163.7 159.3 226.1 85.9M104.7 224.2Q124.6 120 223 80.3M100.5 222.6Q144.7 136.9 223.7 81.4M82.6 213.1Q164.5 160.8 225.9 85.5M128.1 229.5Q120.7 119.1 226.3 86.1M128.5 229.5Q156.9 144.4 227.9 89.5M99.5 222.2Q154.6 147.2 228.3 90.4M113.6 226.9Q158.5 148.3 228.4 90.7M79.3 210.7Q150.9 144.8 221.2 77.3M100.5 222.6Q147.7 136.1 191.8 47.9M120.7 228.5Q153.4 141.5 222.3 79.2M100.6 222.7Q153.6 146.1 228.5 90.8M105.5 224.5Q151.3 141.2 219.7 75.2M129.1 229.6Q162.9 146.8 223.6 81.2M113.4 226.9Q142 134.1 225.1 83.9M93.2 219.3Q161.4 151.9 220.6 76.5M124.5 229.1Q125.7 126.1 195.9 50.7M104.6 224.2Q138.5 131.4 226.8 87.3M94.7 220Q134.7 127.7 226 85.6M122.2 228.7Q139 131.7 225.8 85.3M75.8 208Q137.2 130.2 220.4 76.1M104.5 224.2Q158.5 149.9 228.2 90.3M76.3 208.5Q141 135.4 232 100.1M81.8 212.5Q92.7 101.1 191 47.4M98.4 221.7Q133.1 126.5 225.8 85.4M113.5 226.9Q164.8 151.9 225.1 84M90.8 218Q147.4 133.6 142.7 32.1M113.1 226.8Q172.4 151.3 209.8 62.8M86.3 215.4Q145.5 139.1 225.8 85.2M113.2 226.8Q122.4 117.7 228.9 91.7M127.8 229.5Q135.2 129.2 222.3 79.1M129.1 229.6Q123.5 121.7 223.6 81.3M106.6 224.9Q131.3 124.9 228.9 91.7M78.6 210.2Q154.6 151.1 227.1 87.9M90 217.6Q134.2 127.4 221.3 77.6M119.5 228.2Q161 147.7 224.9 83.6M72.3 205.1Q141.3 135.2 225.8 85.2M128.1 229.5Q131.8 127.3 220.3 76M105.3 224.4Q144 136.2 226 85.6M124.2 229Q140.5 132.9 227.1 87.9M83.7 213.8Q155.9 136.8 142.5 32.1M90.1 217.7Q136.4 130.2 176.5 39.8M114.1 227.1Q135 128.7 224.5 82.9M83.6 213.7Q156.8 152.7 227.6 89M82.8 213.2Q141.1 134.2 221.2 77.3M78.1 209.8Q137.1 129.6 235.9 116.1M76.3 208.4Q128.1 123.7 193.9 49.3M81.2 212.1Q141.2 134.5 223.8 81.6M97 221.1Q163.1 154.9 226 85.7M128.9 229.6Q119.1 118.9 223.5 81.2M90.7 218Q142.7 135.6 224.1 82.1M116.5 227.6Q159.3 145.5 220 75.5M72.4 205.2Q166.8 163.7 219.8 75.3M89.4 217.3Q128 121 224.7 83.1M83.8 213.8Q130.7 122.7 227.2 88M98.1 221.6Q162.3 154.6 227.5 88.7M104.1 224Q132.8 125.2 234.1 107.1M97.7 221.4Q130 124.2 220.7 76.5M117.9 227.9Q126.7 122.4 226.3 86.2M90 217.6Q156 150.5 228.4 90.6M71.9 204.7Q141.2 134.8 221.2 77.4M75.2 207.5Q143 137.2 226.2 86M118 228Q153.6 142.5 224.6 83.1M89.8 217.5Q146.7 139.4 222.7 79.8M110.1 226Q138.1 131 223.5 81.1M83.3 213.5Q134 126.8 222.3 79.1M119.3 228.2Q137.7 130.8 223.2 80.5M83.6 213.7Q133.4 126.1 223.8 81.7M77.4 209.3Q157.9 152.5 220.7 76.5M126 229.3Q124.8 122.9 220.2 75.8M129.4 229.6Q162.2 147.2 226 85.7M79.4 210.8Q156 151 223.4 81M103.9 223.9Q124.6 120.4 220.5 76.3M89.9 217.5Q144 136.5 220 75.5M94.3 219.8Q127.9 122 221.3 77.4M111.8 226.5Q141.8 133.8 221 77M83.8 213.9Q138.6 131.7 228 89.7M93.3 219.3Q130.3 123.5 225.1 83.9M100 222.4Q149.2 141.6 227.2 88.1M96 220.6Q130.6 124.6 220.6 76.4M94.6 220Q124.4 117.7 225.9 85.4M96.9 221.1Q150.2 141.9 223 80.2M104.9 224.3Q162.4 150.1 220.7 76.6M103.1 223.6Q130.4 123.1 232 99.9M121.5 228.6Q132 126.4 228.3 90.4M81.7 212.4Q108.1 113.1 183.1 42.9M76 208.2Q165.1 162.3 223.2 80.6M82.5 213Q158.1 154.3 227.2 88M126.5 229.3Q145.2 136 226.3 86.2M81.5 212.3Q152.2 147 225.6 85M109.1 225.7Q126.1 120.8 227.2 88M92.8 219.1Q147.5 139.6 221.5 77.7M99.9 222.4Q143.9 136.5 226.2 86.1M107.3 225.1Q145.9 137.7 226 85.7M83.9 213.9Q169.5 162.1 220.3 76M83 213.3Q152.2 146.1 223.6 81.2M112.8 226.7Q141 133.3 224.7 83.2M106.8 224.9Q156.6 145.1 219.8 75.2M93.9 219.6Q142.7 135.9 228.4 90.6M98.4 221.7Q145 141.3 237 128.1M115.5 227.4Q137.5 130.7 222.2 79M107.2 225.1Q161.5 151.8 227.6 89M120.8 228.5Q136.8 130.2 220 75.6M103 223.6Q153.4 145.5 228.4 90.7M104.9 224.3Q149.4 140.2 222.4 79.2M103.7 223.9Q125.4 119.8 226.2 86M94.2 219.8Q160.4 151.7 223.2 80.5M81.3 212.2Q170.1 164 220.6 76.5M110.7 226.2Q123.3 120.3 220.2 75.9M112.8 226.7Q164.6 150.9 222.7 79.8M117.4 227.8Q124.1 121 223.5 81.1M85.8 215.1Q147.4 134.7 157.4 33.9M103.9 224Q153.4 143.1 220 75.5M121.8 228.7Q151.5 140.2 222.8 79.9M110.1 226Q139.9 132.5 224.9 83.5M91.3 218.3Q135 128.3 220.7 76.6M128.1 229.5Q160 146.2 226.7 87.1M96.9 221.1Q165.6 154.6 220.5 76.3M101.4 223Q135.5 128.7 226.3 86.1M117.9 227.9Q148.2 138 221.4 77.7M97.9 221.5Q149.1 140.4 220.3 76M123.1 228.9Q151.3 139.6 221.1 77.3M82.9 213.2Q156.2 151.2 225.5 84.8M99.1 222Q138.8 131.8 227.7 89.1M122.5 228.8Q129.2 125.2 221.9 78.5M92.7 219Q109.7 121.6 154.2 33.3M110.4 226.1Q130.4 124.5 228 89.7M126.4 229.3Q134.1 128.5 222.2 79M71.9 204.7Q165.5 164.8 223.7 81.4M89.7 217.4Q160.2 155.2 228.3 90.3M128.1 229.5Q141.7 133.4 223.9 81.8M83.8 213.9Q146.4 139.5 221.4 77.6M80.7 211.7Q130.7 127.7 159.4 34.3M75.9 208.1Q156.5 152.2 222.9 80M99.9 222.4Q122.1 117.3 222.9 80.1M89.1 217.1Q131.9 125 223.4 81M96.8 221Q163.9 156.8 227.9 89.6M85 214.6Q131.9 124.9 221.5 77.8M119.6 228.3Q152.3 140.6 221.2 77.4M109.2 225.7Q147 138 222.7 79.8M83.5 213.7Q136.5 130.5 142.9 32.1M96.9 221.1Q164.8 157 226.9 87.4M113 226.8Q143.4 134.9 221.3 77.4M81.9 212.6Q139.8 133.1 227.2 88.1M121.5 228.6Q151.8 137.1 199.5 53.5M84.9 214.6Q133.9 123.7 237 130.4M123.8 229Q154.6 141.5 220.4 76.2M94 219.7Q93.8 117 152.9 33.1M78.9 210.4Q147.7 142.6 226.7 87M95.2 220.3Q138.3 131.3 223.8 81.6M126.4 229.3Q154.6 143.1 228 89.9M92.9 219.1Q130.9 129.1 142.6 32.1M123.8 229Q156.4 144.1 226 85.7M84.1 214Q130.9 122.7 228.4 90.6M81.1 212Q137.3 130.1 228.7 91.3M119.8 228.3Q146.1 133.1 169.3 37.1M94.1 219.7Q134.7 127.7 227.1 87.9M112.8 226.7Q124.9 119.8 228.5 90.8M70.3 203.2Q157 153.5 220.4 76.2M75.3 207.7Q159.1 155.1 222.2 78.9M101.9 223.2Q117.6 125.3 154.8 33.4M78.2 209.9Q129.9 121.6 224.9 83.5M82.3 212.9Q142.9 136.8 228 89.8M94.4 219.9Q123.2 116.6 225.6 85M104.4 224.1Q142.4 134.9 226.4 86.4M78.6 210.2Q144.6 137.9 220 75.6M102.5 223.4Q141.9 134.6 227.2 88M92.6 219Q163.1 156 225.7 85.2M115.3 227.4Q139.4 131.7 203.5 56.7M88.5 216.7Q134.1 126.9 225.3 84.2M74.4 206.8Q153.2 148.3 221.4 77.6M90.9 218.1Q158.4 149.5 219.8 75.3M109.4 225.8Q155.9 144.5 221.3 77.5M75.3 207.6Q151.4 148 227.1 87.8M93.8 219.6Q101.9 114.8 174.7 39.1M80.7 211.7Q153.5 147.6 222.3 79.1M107.5 225.2Q121.9 117.3 226.2 86M113.9 227Q146.4 137.8 226.9 87.4M119.2 228.2Q129.8 127.9 188 45.6M96.2 220.7Q129.9 123.3 225.3 84.3M117.5 227.8Q135.5 129 227.1 87.9M77.8 209.6Q140.4 133.7 222.9 80.1M125.5 229.2Q124.5 121 228.5 90.8M81.2 212.1Q158.4 152 220.7 76.6M75.6 207.9Q161.5 158.1 223 80.3M77 209Q140.1 133.2 220 75.6M79.5 210.9Q154.8 151.9 228.4 90.7M105.1 224.4Q133 127.2 220 75.5M74.3 206.8Q132.8 125.1 221.3 77.5M110.5 226.1Q140.2 132.8 225.5 84.8M78 209.7Q140.8 134.4 227.5 88.8M96.4 220.8Q128.1 121 228.2 90.3M110.7 226.2Q154.2 143.6 223.6 81.2M103.8 223.9Q124.9 119.5 225.8 85.3M95.3 220.3Q142.8 135.7 226.5 86.6M115.4 227.4Q154.3 145.7 231.5 98.3M78.5 210.2Q146.6 150.1 236.7 138.5M122.6 228.8Q119.4 117.2 227.1 87.8M81.3 212.2Q150.6 144.5 222.8 79.9M85.1 214.7Q166.1 158.9 221.3 77.5M106.7 224.9Q121.6 117.8 223 80.3M72 204.8Q165.3 166.1 225.7 85M112.6 226.7Q166.6 151.2 219.8 75.2M121 228.5Q136.2 130.8 144.7 32.2M75.6 207.9Q165.7 161.1 219.9 75.3M95.2 220.3Q137.8 130.8 225.6 85M120.8 228.5Q146.4 137.3 226.8 87.1M70.9 203.8Q161.6 160.2 223.2 80.5M98.1 221.6Q159.9 150 222.1 78.7M128.5 229.5Q127.8 124.3 224.4 82.6M102.2 223.3Q143.4 135.6 223.5 81M86.3 215.4Q107.7 120.9 147.3 32.4M77.2 209.1Q155.1 152.9 228.4 90.7M83.4 213.6Q176.5 163.4 210 63M122.1 228.7Q114.1 127.4 151.5 32.9M78 209.7Q142.9 137.2 228.4 90.7M76.6 208.7Q151.6 146.9 224.4 82.7M119.2 228.2Q148.6 138.9 226 85.6M85 214.6Q144.9 138.5 225.8 85.2M102.1 223.3Q136.2 129.3 228.4 90.7M110.6 226.1Q155.2 144.1 222.3 79.1M122.4 228.8Q136.3 129.8 226.8 87.2M121.5 228.6Q126.7 122.9 225.2 84.1M75.9 208.1Q160 154.8 219.7 75.1M113.6 227Q134.2 128 225.9 85.4M106.6 224.9Q128.9 123.2 225.6 84.9M81.5 212.3Q138.1 131.2 227.5 88.8M108.7 225.6Q155.5 146 226.8 87.2M87 215.8Q166.9 160 222.9 80.1M89.8 217.5Q137.6 130.6 221.1 77.1M127.9 229.5Q137.5 130.7 222.1 78.8M117.9 227.9Q165.3 149.7 221 77.1M78.4 210Q166.5 162.7 222.8 79.9M87 215.9Q134.7 127.5 225.8 85.3M98.5 221.8Q137.6 130.7 221 77.1M96.2 220.7Q138.5 131.5 225.5 84.7M122 228.7Q119.4 117.5 225.8 85.3M106.3 224.8Q164.5 151.6 221.1 77.2M96.6 220.9Q140.2 133.1 225.3 84.3M110.6 226.1Q130 124.7 223.7 81.4M91.9 218.6Q160.1 150.7 219.7 75.1M108.9 225.6Q142.9 135.1 226.4 86.4M103 223.6Q159.8 151.3 228 89.7M121.4 228.6Q161.1 148.7 228.1 89.9M113.7 227Q149.4 139.2 221.4 77.6M91.9 218.6Q144.7 137.7 225.2 84.1M98.3 221.7Q163.2 155.8 228 89.7M126 229.3Q162.2 145.8 220 75.5M104 224Q150.9 136.2 178 40.4M97 221.1Q163.1 154.9 226 85.7M72.1 204.9Q135.6 126.7 235.7 115.1M97 221.1Q157 147.7 222.2 78.9M99.7 222.3Q124.6 118.1 227.7 89.1M81.5 212.3Q134.8 126.3 234.4 108.4M75.7 207.9Q137.5 130.4 221 77M84.1 214Q163.4 159.4 226.5 86.6M111.7 226.5Q138.6 131.5 228.3 90.4M113.4 226.9Q124.8 120.4 226.1 85.8M93.5 219.4Q140.3 133.2 223.6 81.3M84.7 214.4Q133.7 126.5 223.5 81.1M76.4 208.5Q161.3 151.3 206.5 59.5M112.6 226.7Q143.6 135.1 221.3 77.5M95.8 220.6Q163.3 152.6 219.8 75.2M119.2 228.2Q120.4 119.3 220.5 76.3M125.9 229.3Q142.3 134.3 230.5 95.6M121.1 228.5Q161.4 147.5 224.1 82.1M93.3 219.3Q159.7 153.7 228.4 90.5M84.3 214.2Q94.9 109.3 172.8 38.3M76.9 208.9Q149.8 149.4 234.2 107.7M78.4 210.1Q124.1 126 142.4 32.1M84.4 214.2Q126.1 117.1 228.4 90.7M92.7 219Q148.1 140.5 223 80.2M114.3 227.1Q146.6 137.7 225.8 85.2M98.2 221.7Q136 129.1 226.2 86M85.9 215.2Q134 123.6 237 133M97 221.1Q141.3 134.1 225.7 85.1M76.9 208.9Q163.2 162.3 227.1 87.9M106.4 224.8Q147.5 138.3 220 75.5M88.9 217Q159.2 153.9 227.6 88.9M96.7 221Q146.2 138.4 223.5 81M84.2 214.1Q155.2 150 225.9 85.4M75.9 208.1Q171.2 167.4 220.4 76.1M126.4 229.3Q162.1 146.8 223.5 81.1M89.9 217.5Q155.2 147.8 223.5 81.1M94.2 219.8Q154.9 145.8 220.4 76.1M103 223.6Q156.3 147 225.1 84M97.9 221.5Q164.1 155.8 226.3 86.3M84.4 214.3Q152.5 146 222.9 80.1M85 214.6Q129.8 122.5 223.6 81.2M119.3 228.2Q148.9 138.8 224.1 82.1M89.8 217.5Q161.6 153.2 221.4 77.7M129.4 229.6Q160.2 144.4 221.4 77.6M123.4 228.9Q156.6 142.9 220.5 76.3M103.8 223.9Q125.7 121.3 220.6 76.4M103.7 223.9Q130.4 124.9 221 77.1M85.1 214.7Q135.2 128 224.9 83.6M82.1 212.7Q150.6 145.2 225.5 84.7M83.9 213.9Q129.5 121.4 226.7 87M126.2 229.3Q129.4 125.6 221.4 77.7M124.2 229Q157.4 133.9 153.4 33.2M127.9 229.5Q151 139.1 222 78.7M74.5 206.9Q150.9 146.9 225.6 85M76.8 208.8Q131.9 123.3 228 89.7M90.7 218Q114.9 123.3 152.6 33.1M103.8 223.9Q160.2 139.2 172.8 38.3M86.2 215.4Q164.3 157.5 222.7 79.7M90 217.6Q152.5 146.5 227.6 88.8M121.8 228.7Q120.4 119.4 221.3 77.5M81.1 212Q157.1 154.2 228.4 90.7M106.7 224.9Q131.9 125.7 226.4 86.4M96.8 221Q122.9 117.5 222.6 79.6M76.6 208.7Q155.3 152.5 227.1 87.8M124 229Q173 148.1 206.5 59.6M89.8 217.5Q132.5 125.5 224.4 82.7M98.9 221.9Q140.1 132.9 224.1 82.1M74.2 206.7Q144.5 139.7 228.3 90.4M111 226.3Q122.3 117.9 226.9 87.4M88.7 216.8Q163.6 159 228 89.7M74.5 207Q129.2 119.6 227.6 88.9M112.7 226.7Q182.3 148.4 184.7 43.7M71.8 204.6Q154.1 149.9 221.3 77.5M119.8 228.3Q140.6 133 225.9 85.4M128.3 229.5Q144.8 135.4 223.7 81.4M76.9 208.9Q167.2 163.1 221.3 77.5M124.2 229Q124.7 122 223.9 81.8M113.4 226.9Q139.8 132.4 225.3 84.3M99.2 222.1Q129 123.6 219.8 75.3M76.9 208.9Q130.5 121.3 228.4 90.8M96.7 221Q134.8 126.9 235.4 113.1M88.8 216.9Q159.3 152.2 223.7 81.5M76.9 208.9Q149.5 135.7 148.9 32.6M90.9 218.1Q129.2 121.9 226.3 86.2M91.3 218.3Q153.2 147.3 228.5 90.8M103.1 223.7Q137.9 130.9 226.7 87M107.1 225.1Q146.3 138.2 227.1 87.9M75.8 208Q131.3 123.3 222.9 80M127.5 229.4Q148.6 137.4 220.6 76.4M81.4 212.2Q144.6 138.9 228.4 90.7M88.9 217Q146.6 140.1 226.8 87.3M94.8 220.1Q148.4 141.1 225.8 85.3M97 221.1Q123.1 117.7 223 80.3M76.9 208.9Q138.7 131.9 228.2 90.3M126.1 229.3Q144.5 135.8 228.7 91.3M92.9 219.1Q113.2 122.7 154.8 33.4M77 208.9Q156 153.2 226.7 87.1M94 219.7Q161.1 152.7 223.9 81.7M125.7 229.2Q146.8 137.1 225.6 84.8M76.2 208.3Q177.5 165.3 205.8 58.9M98.3 221.7Q134.5 127.8 224.7 83.1M74.2 206.7Q132.7 124.6 224.9 83.6M75.3 207.7Q148.2 142.7 222.6 79.6M124.6 229.1Q149.8 138.7 222.3 79M115.7 227.5Q128.1 123.7 223.4 81M93.1 219.2Q129.7 122.3 228.3 90.4M97.9 221.5Q158.6 149.3 223.2 80.5M81 211.9Q160.1 157.5 227.8 89.4M78.7 210.3Q158.1 153.7 223.8 81.6M123.9 229Q143.2 134.8 226.9 87.4M86.4 215.5Q129.7 126.7 176.7 39.9M110.1 226Q123 128 148.4 32.6M82.7 213.1Q149.5 143.4 223.9 81.7M102.9 223.6Q130.6 124.1 227.9 89.6M120.9 228.5Q128.2 124.1 224.4 82.6M128.3 229.5Q149.9 138.4 222.4 79.3M115.5 227.4Q128.3 118.5 237 133.3M101.2 222.9Q158.3 149.3 225.7 85.1M126.5 229.3Q141 133.1 226 85.6M92 218.7Q147.2 139.4 221.2 77.4M90.3 217.8Q161.9 144.5 187.5 45.3M72.1 204.9Q143.7 138.9 228.3 90.5M108.9 225.6Q142.2 134.7 228.4 90.6M103.4 223.8Q141.4 136.2 236.9 136.3M112.7 226.7Q123.9 119.2 227.5 88.7M86 215.3Q127.9 119.9 226.8 87.3M85.9 215.2Q140.8 133.9 224.5 82.9M128.9 229.6Q147.7 137.7 227.2 88.1M93.5 219.4Q130.8 123.6 227.9 89.5M94.4 219.9Q134.1 127.3 224.2 82.2M85.9 215.2Q128 119.6 228.3 90.3M89.6 217.4Q157.6 149 220 75.5M76.3 208.4Q137.1 130 221 77.1M71.8 204.6Q153.5 149.9 223 80.3M91.8 218.6Q157 150.9 227.6 89M82.2 212.8Q151.2 144.8 222.1 78.7M74.1 206.6Q162.2 157.8 219.7 75.1M76.5 208.6Q121.3 124.8 142.3 32.1M123.2 228.9Q129.3 125 224.4 82.6M124.6 229.1Q121.7 118.9 228 89.7M90.9 218.1Q155.3 149 227.1 87.8M90.1 217.7Q142.8 136.2 227.9 89.6M115.6 227.4Q129.1 124.7 221.1 77.1M85.2 214.7Q130.4 119.8 235.3 112.8M119.7 228.3Q139.2 131.8 220.3 75.9M119.7 228.3Q158.8 135 157.2 33.9M104.4 224.1Q155.4 145.2 222.8 79.9M117.4 227.8Q150.8 141 227.1 87.8M118.3 228Q158.9 146.8 226.1 85.8M122.4 228.8Q144 135.3 225.2 84.1M96.9 221.1Q160.9 152.4 225.1 84M88.7 216.8Q143.6 136.4 222 78.6M119.7 228.3Q123.7 121.1 222.8 79.9M72.4 205.2Q135.1 127.3 225.6 84.8M119.3 228.2Q153.9 141.9 221.9 78.5M80.9 211.9Q146.9 141.7 227.9 89.5M114.2 227.1Q135.9 129.5 221.5 77.8M89.2 217.1Q144.3 137.5 225.8 85.2M72.1 204.9Q145.2 139.8 223.7 81.4M105.2 224.4Q166.3 153.3 221.1 77.2M120 228.4Q126 122.2 225.6 84.8" stroke="#FDDB91" stroke-width="0.22" stroke-opacity="1.00"/>
<path d="M67.6 200.6Q135.7 128.9 202.8 56.1M44.4 163.4Q145 142.6 210.4 63.5M67.5 200.5Q136 129.1 202.4 55.8M39 130.3Q145.7 151.8 212.7 66M39.9 144.3Q147.1 149.9 209.3 62.3M41.1 151.5Q149.2 149.5 200.7 54.4M39 130.2Q149.8 149.8 180.5 41.6M39 133.7Q144.8 150.5 217.4 71.8M49 174.4Q139.4 133.3 216.8 71.1M41.5 153.2Q143.7 143.2 217.2 71.7M48.7 173.7Q138.1 131.1 220.2 75.9M47.4 170.8Q144 139.9 208.8 61.8M47.4 170.8Q147.3 143.4 201.6 55.2M47.5 171.1Q143.8 139.5 209.2 62.2M39 131.4Q144.6 150.9 217.6 72.1M60.6 192.8Q131 115.7 235.3 112.6M40.5 148.1Q147.5 149.3 208.3 61.3M61.8 194.2Q136.1 128.9 208.5 61.5M67.4 200.4Q140.3 133.5 213.5 66.9M39.3 138.4Q148.7 151.4 200.2 54M44.3 163.1Q148.8 146.8 202.1 55.6M54.2 183.7Q144 137.7 200.6 54.3M44.4 163.3Q155.3 146.2 158.2 34.1M41.2 151.9Q148.1 148.8 205.8 58.9M40.4 147.9Q148.9 150 201.9 55.4M56.7 187.5Q137 129.7 212.6 65.9M54.8 184.7Q139.4 132.8 209.6 62.6M43 158.9Q144.2 142.6 214 67.5M39.7 142.7Q145.7 149.2 214.7 68.4M50.9 178.1Q137.9 130.9 217.7 72.3M39.2 137.9Q148.6 151.5 200.6 54.3M41.2 151.9Q144.5 144.8 215.9 69.9M39.1 136.2Q145.8 150.7 213.7 67.2M64.5 197.3Q134.7 126.2 226.1 85.9M64.5 197.3Q145.1 136.6 186.4 44.7M54.2 183.8Q139.4 132.8 210.4 63.5M41.6 153.3Q148.1 148.5 205.8 58.9M40.3 146.8Q147.3 149.5 208.6 61.6M66.6 199.6Q133.4 126.2 208.8 61.8M48.7 173.8Q143.3 138.5 208.7 61.7M66 198.9Q141.4 134.8 212.6 66M39.7 142.5Q148.7 150.8 201.9 55.4M39.8 143.7Q146.3 149.4 212.7 66M44.7 164Q145.7 143.3 208.6 61.6M44.7 164.2Q148.5 146.3 202.2 55.7M63.9 196.7Q142.3 135.9 212.8 66.1M54.1 183.5Q144.8 138.6 198.9 53M41.6 153.5Q144.2 144 216 70M57.4 188.6Q138 131 209.6 62.6M48.9 174.2Q142.1 137.1 210.9 64M40.9 150.2Q144.1 144.6 217.3 71.7M60.7 192.8Q136.3 129.1 209.5 62.5M39 131.7Q147.9 152 201.5 55M39.8 143.2Q146 149.3 213.8 67.3M39.4 140Q137.4 124.1 236.6 121.9M46.2 168Q147 143.8 203.7 56.9M41.3 152.2Q148.4 148.9 204.6 57.8M44.2 162.7Q144.4 142 212 65.2M53.4 182.4Q157.7 143.5 148.7 32.6M67.7 200.7Q138.9 132.1 215.7 69.7M63.1 195.7Q133.4 125.7 212.9 66.3M43.2 159.4Q143.9 142 214.5 68.2M39.1 136.3Q146.8 151.3 209.4 62.4M39.5 141.2Q145.5 149.4 215.4 69.3M55 185Q142.6 136.2 202.6 56M42.1 155.5Q139.5 135 225.9 85.4M64.7 197.5Q129.8 115.6 234.2 107.6M54.8 184.6Q140.8 134.4 206.7 59.7M62 194.5Q141.9 135.8 215 68.8M49.5 175.3Q143.1 138.1 208.1 61.1M58.5 190Q136.1 128.7 212.5 65.8M51 178.2Q143.8 138.5 204.7 57.9M49.1 174.6Q136.3 127.8 223.8 81.6M67.9 200.9Q139.4 132.6 214.7 68.4M43.1 159.2Q146.7 145.7 208.4 61.4M54.2 183.8Q148.9 141.8 190 46.7M49 174.3Q143.1 138.3 208.7 61.7M45.6 166.7Q138.9 132.9 222.3 79.1M67.3 200.3Q137.7 130.8 198.8 52.9M40.4 147.6Q142.9 143.5 220.6 76.5M64.8 197.6Q136.7 129.7 203.9 57.1M39.1 134.9Q138.1 136.3 237 130.5M55.2 185.2Q141.6 135.2 204.6 57.8M40.4 147.5Q139.2 137.9 235.6 114.5M43 159Q146.2 145.1 209.6 62.6M58.4 189.8Q136.5 129.2 211.8 65M48.4 173.2Q144.6 140.2 206.1 59.1M43.6 160.7Q142.2 139.3 217.6 72.1M47.6 171.3Q137.6 130.3 222.7 79.8M58.6 190.1Q131.6 115.8 235.7 115.1M39 133.6Q146.4 151.6 210.6 63.7M66.7 199.6Q139.4 132.6 215.7 69.7M42.3 156.4Q144.5 143.6 214.4 68M64.9 197.8Q137.2 130.2 202.6 56M67 200Q128.7 113 235.4 113.1M39.9 144Q146.3 149.4 212.5 65.9M65.1 197.9Q133.9 126.7 209.5 62.5M39.4 139.5Q150.5 143.9 149.2 32.6M41.6 153.4Q147.4 148.1 208.3 61.3M54.2 183.7Q157.2 143.9 155.4 33.5M42.4 156.7Q146.8 146.6 209 62M49.1 174.6Q147.7 142.9 198.7 52.8M50.8 177.9Q141.3 135.6 210.4 63.5M39.3 138.4Q146.5 150.7 211.1 64.2M56.5 187.1Q138.9 132.1 208.8 61.8M45.7 166.9Q135.8 115.8 236.6 139.4M62.1 194.6Q138.3 131.3 203.6 56.8M41.7 153.9Q143.4 142.6 217.6 72.1M47.4 171Q140 134.5 217.5 72M62.9 195.5Q140.3 133.9 217.2 71.6M42.9 158.5Q148.5 147.7 203.8 57M39 134Q147.4 151.8 205.8 58.9M44.3 163Q148.9 146.9 201.7 55.2M49.2 174.7Q146.5 141.8 201.2 54.8M48.9 174.2Q145.9 141.3 202.7 56.1M40.6 148.6Q152 143.3 142.8 32.1M43.1 159.3Q154.8 145.4 151.6 32.9M42 155.3Q145.4 145.1 212.7 66M54.1 183.6Q139.3 132.7 210.7 63.8M40.9 150.2Q146.2 147.7 212.5 65.8M58.3 189.7Q131.2 112.7 236.7 123M39.9 144.1Q148.7 150.6 202.1 55.6M59.6 191.4Q141.1 134.2 200.5 54.2M39.4 139.4Q147.8 151.1 205.2 58.3M54.8 184.7Q138.9 132.6 226.3 86.2M50.8 177.8Q141.1 136.8 225.6 84.9M43.2 159.6Q142.6 140.1 217.3 71.7M59.6 191.4Q137.3 130.2 208.6 61.6M41.7 153.8Q149.7 149.2 198.6 52.7M45.7 166.7Q148.2 145.3 201.8 55.3M50.7 177.8Q142.1 136.6 208.8 61.8M39.7 143.1Q146.2 149.5 212.8 66.1M62.9 195.5Q131.1 109.1 236.5 141M55.3 185.4Q150.9 142.8 184.6 43.7M41.2 151.9Q148.1 148.8 205.7 58.8M54 183.5Q138.6 131.8 212.5 65.8M64.9 197.8Q134.5 127.3 208.5 61.5M66 198.9Q141.2 134.6 212.9 66.3M57.5 188.6Q147.7 139.9 188.7 46M58.7 190.3Q142.3 135.4 198.9 52.9M65.5 198.5Q129.2 114.4 234.5 109M40.2 146.6Q148.1 150 205.2 58.3M39 134Q148 151.9 202.3 55.8M53.1 182Q145.1 139.1 199.4 53.3M53.3 182.2Q139.9 133.5 210.4 63.5M56.9 187.7Q134.9 126.7 217.2 71.6M40.5 148.2Q145 146.6 215.8 69.8M56.7 187.5Q138.5 131.6 209.5 62.5M46.2 167.9Q143.9 140.3 210.6 63.6M47.4 170.9Q143 138.6 211 64.1M40.9 150.4Q145.7 147 213.5 67M43.3 159.8Q148.9 147.6 202.2 55.6M45.6 166.6Q139.4 133.8 221.1 77.3M41.2 151.6Q145.4 146.1 214 67.5M41.2 151.9Q146.2 147.2 212 65.2M43.4 160.1Q146.4 145.1 208.6 61.6M49.1 174.6Q143.1 138.2 208.6 61.6M52.3 180.6Q144.6 138.9 201.4 55M43.1 159.1Q136.9 122.4 237 133.9M55.3 185.5Q135.5 127.5 217.6 72.1M49.1 174.6Q140.3 134.6 214.7 68.4M43.3 159.9Q145.6 144.2 210.5 63.6M43.2 159.5Q147.7 146.8 206 59M43 158.8Q146.5 145.5 209 62M43.2 159.4Q144.7 143.2 212.7 66M40.9 150.4Q148.3 149.3 204.9 58.1M42 155.3Q148.9 148.5 202.5 55.9M46.9 169.6Q141.2 136.4 215.5 69.4M56.8 187.6Q142.5 135.9 200.7 54.4M40.9 150.3Q140.7 138.5 224.9 83.5M64.4 197.2Q134.9 126.6 225.8 85.2M67.8 200.8Q141.7 134.8 210.5 63.6M40.5 148.2Q146 148 213.6 67.1M55.5 185.7Q139 132.3 209.8 62.8M49.9 176.2Q142 136.7 209.9 63M44.8 164.5Q146.8 144.4 205.9 58.9M39 133.6Q149.8 144.9 156.4 33.7M67.5 200.5Q138.1 131.1 217.4 71.8M39.8 143.7Q145.5 148.8 215.5 69.5M66.6 199.6Q133.5 126.4 208.5 61.5M45.6 166.6Q144.1 140.8 210.8 63.9M66.3 199.3Q139.7 132.9 215.5 69.4M59.5 191.3Q137.3 130.2 208.7 61.7M39.8 143.7Q148.3 150.6 203.9 57.1M39.7 142.8Q147 150.1 209.8 62.8M62.2 194.7Q139.4 132.3 201.2 54.8M39.5 141.3Q143.4 146.2 221 77.1M62 194.5Q134.9 126.2 227.6 88.9M58.7 190.3Q136.3 128.9 211.9 65.1M51 178.2Q140.3 134.3 212.3 65.6M40 144.9Q147.9 150.2 205.9 59M40.3 147.1Q149.1 150.2 201 54.6M54.9 184.8Q143.2 136.9 201.4 54.9M40.9 150.3Q147.1 148.5 209.7 62.8M41.6 153.5Q148.9 148.9 202.4 55.8M62 194.5Q134.9 127.5 210.9 64M56.7 187.5Q133.6 121.3 234 106.7M62.9 195.5Q135.5 128.3 208.6 61.6M67.3 200.3Q156.4 140.7 155.2 33.5M47.6 171.4Q143.5 139.1 209.6 62.7M39.1 134.2Q146.6 151.6 209.7 62.7M39.9 144Q147.8 150.3 206.4 59.5M41.5 153Q149.2 149.2 200.9 54.5M39 133Q148.5 151.9 198.8 52.8M54.2 183.7Q137.1 129.7 215.5 69.5M47.6 171.3Q153 146.7 182.3 42.5M66.3 199.2Q137.1 130.2 201.3 54.9M41.6 153.7Q143.7 143.2 216.9 71.2M44.2 162.8Q147.6 145.7 205 58.1M39.2 138Q148.1 151.4 203.5 56.7M44.4 163.3Q143.9 141.2 212.9 66.2M59.4 191.2Q136.8 129.6 209.9 62.9M63.9 196.7Q139.6 132.5 198.6 52.7M57.4 188.6Q141.5 134.8 202.1 55.5M42.1 155.4Q154.1 145.8 154.1 33.3M53.3 182.2Q139.7 133.2 211 64.1M57.4 188.5Q136.7 129.4 212.4 65.6M66.6 199.6Q134.7 126.5 224.4 82.6M66 199Q140.8 134.2 213.6 67.1M39 133.8Q144.8 150.5 217.2 71.6M44.3 162.9Q148.5 146.7 202.8 56.2M54 183.5Q138 131.1 213.6 67.1M39.8 143.7Q144.7 147.6 217.5 72.1M40 144.8Q148.9 150.5 201.3 54.9M56.4 187Q136.8 129.5 213.5 66.9M64.5 197.3Q136.3 129.3 205 58.1M40.7 149.4Q144.9 146.1 215.7 69.6M66 199Q139.8 133.1 215.6 69.5M40.9 150.2Q144.9 146 215.4 69.2M41.6 153.4Q149.4 149.2 200.1 53.9M42.9 158.6Q148.2 147.4 205.1 58.2M53.2 182Q140.7 134.5 208.8 61.8M41.5 153Q147.3 148 208.9 61.9M50.8 178Q144.6 139.3 203.3 56.6M54.2 183.7Q135.8 126.4 232.1 100.3M43.1 159.2Q154.7 146.7 160.6 34.6M53.3 182.2Q138.8 132.1 213 66.3M44.8 164.5Q142.5 139.1 215.2 69.1M40.7 149.3Q148.5 149.6 203.7 57M55.2 185.2Q140.2 133.7 207.6 60.6M44.3 162.9Q145.6 143.5 209.2 62.2M41 150.6Q138.3 132.9 236.5 121.4M55 185Q138.1 131.1 212.3 65.6M39.1 135Q146 151.1 212.8 66.2M41.5 153.3Q153.2 148.7 175.1 39.2M54.1 183.5Q137 129.5 216 70M40.5 148Q147.9 149.6 206.4 59.4M47.9 171.9Q141.3 136.3 214 67.6M39.9 144.1Q147.1 149.9 209.4 62.4M60.6 192.8Q136.2 128.9 209.8 62.8M40.9 150.4Q148.1 149.1 205.8 58.9M54.8 184.7Q139.8 133.2 208.9 62M67.9 200.9Q135 128.2 203.9 57.1M51.3 178.9Q143.5 138 204.9 58.1M57.7 188.9Q137.5 130.3 210.5 63.6M46.9 169.8Q141 136.1 215.9 69.9M39.4 140.1Q148.2 151.1 203.7 56.9M40.8 149.9Q145 146.1 215.4 69.3M47.6 171.5Q142.4 137.8 211.9 65.2M40.7 149.3Q146.4 148.2 212.4 65.7M44.2 162.6Q149.6 147.4 198.8 52.9M43.1 159.2Q143.5 141.6 215.3 69.2M40.8 149.9Q147.8 149.1 206.8 59.8M44.2 162.6Q143.5 140.9 213.9 67.4M40.6 148.8Q144.9 146.2 215.9 69.9M57 188Q136.8 129.4 212.8 66.1M48.5 173.3Q144.8 140.3 205.7 58.8M63 195.7Q134.6 127.2 210.5 63.6M39.3 138.4Q147.7 151.2 205.8 58.8M65.2 198Q139.1 132.3 217.6 72.1M44.3 162.9Q145.6 143.5 209.2 62.2M48.3 172.9Q143.8 139.2 208.2 61.1M41.3 152.3Q148.3 148.9 205 58.1M48.7 173.8Q140.2 134.5 215.5 69.4M39.9 144.4Q145.5 148.6 215.4 69.3M49.2 174.7Q143.2 138.3 208.2 61.2M60.7 192.9Q155.9 142.5 161.8 34.9M40.7 149.1Q152.6 149.1 176.7 39.9M40.3 147.1Q150.9 150.3 190 46.8M55.2 185.2Q142.8 136.4 201.9 55.4M39.7 143Q138 126.6 236.4 141.7M43.1 159.3Q144.2 142.5 213.8 67.4M64.8 197.6Q140.3 133.8 215.6 69.5M39 133.7Q147.7 151.9 203.6 56.9M40.3 147.2Q137 125.5 235.2 112M42.3 156.5Q145.1 144.4 212.9 66.2M42.3 156.2Q145.3 144.8 212.5 65.8M39.7 142.3Q144.8 148.2 217.7 72.3M48.6 173.5Q144.6 140 206 59.1M39 130.4Q142.3 148.2 224.9 83.6M44.8 164.5Q137.6 129.6 235.5 113.8M48.8 174Q138.1 131.2 220 75.5M42.3 156.3Q149.1 148.4 201.7 55.2M46.9 169.8Q138 130.9 233.7 105.6M55 185Q137.3 130.1 214 67.6M39.4 139.5Q145.7 149.9 214.5 68.2M44.4 163.3Q148.6 146.6 202.4 55.8M54.8 184.6Q142.2 135.9 203.7 57M39.3 138.2Q147.6 151.2 205.9 58.9M66.9 199.9Q138.4 131.4 217.4 71.9M41.6 153.7Q145.2 145.2 213.8 67.3M39.3 138.3Q145.3 149.9 215.9 69.9M58.4 189.8Q141.9 135.1 200.1 53.9M39 133.5Q145.5 151.1 214.4 68.1M42.2 155.9Q146.7 146.6 209.6 62.7M39.8 143.9Q144.7 147.5 217.5 72.1M40.4 147.8Q149 150.1 201.3 54.9M61.9 194.3Q142.2 136.1 214.6 68.3M40.3 146.9Q148.5 150.1 203.4 56.7M40.6 148.8Q146.8 148.7 210.7 63.8M41.6 153.5Q145.2 145.4 213.7 67.2M53.4 182.5Q138.3 131.5 213.7 67.2M49 174.5Q147.4 142.6 199.4 53.4M59.6 191.4Q139.7 132.8 203.5 56.8M49 174.4Q157 143.9 145.4 32.3M60.6 192.7Q133.2 122.3 231.7 99M54.2 183.8Q137.7 130.7 214 67.6M45.7 166.7Q145.2 142.1 208.4 61.3M39.4 139.8Q147.9 151.1 205.1 58.2M40.7 149.4Q147.2 148.8 209.2 62.2M40.6 148.8Q145.6 147.2 214.3 68M39.4 140Q140.5 140.5 227.9 89.5M40.5 148.2Q149.1 150 201 54.7M39.9 144.2Q147.5 150.1 207.6 60.6M39 132.9Q148.7 142.5 147.5 32.5M60.7 192.9Q154.4 142.4 169.1 37M40.2 146.6Q143.3 144.5 219.9 75.4M61.9 194.3Q130.1 113.2 236 117M56.8 187.7Q142.5 135.9 200.6 54.3M66.4 199.4Q142.8 136 209.6 62.7M46.9 169.8Q137.1 129.2 224.7 83.2M60.5 192.6Q136.2 128.9 210 63M39.5 141Q148.8 151.1 200.5 54.2M66.6 199.6Q135.1 128.1 205.2 58.3M40.6 148.8Q144.4 145.6 216.9 71.2M39.3 138.1Q145.8 150.3 213.8 67.3M66.8 199.7Q128.8 114.2 234.4 108.3M44.3 162.9Q141.9 138.4 217.5 72M44.7 164Q147.4 145.2 204.9 58M46.1 167.9Q144.3 140.8 209.7 62.7M45.8 167Q142.6 138.8 213.8 67.3M50.6 177.5Q140.5 134.7 212.3 65.6M58.3 189.7Q158.1 142.4 147.5 32.5M39 131.3Q147.4 152.1 204.6 57.8M45.6 166.7Q144.1 140.8 210.8 63.9M42.8 158.3Q148.8 147.9 202.6 56M46.1 167.7Q144.7 141.3 208.8 61.9M40.9 150.1Q146.5 148.1 211.8 65M39.5 141Q150.9 150.4 185.5 44.1M59.4 191.2Q138.3 131.3 206.6 59.6M40.7 149.5Q147 148.7 210 63M39.1 136.4Q146.7 151.2 209.9 62.9M43 158.9Q144.3 142.8 213.7 67.2M43.6 160.8Q148.9 147.4 202 55.4M44.7 164.2Q139.9 134.9 221.2 77.4M39.5 141.1Q148.3 151 203.3 56.6M56.4 187Q139.9 133.3 206.7 59.7M67.8 200.8Q139.1 132.2 215.3 69.2M41.5 152.9Q145.2 145.6 213.8 67.4M48.5 173.4Q145.8 141.4 203.4 56.7M39.1 134.8Q145.6 150.9 214.1 67.7M62 194.4Q135.8 127.7 226.1 85.8M39.7 142.7Q145.3 148.9 216.1 70.1M39 131.8Q146.2 151.8 210.7 63.8M45.6 166.6Q144.6 141.4 209.7 62.7M41.5 153Q145 145.2 214.3 68M43.4 160.1Q146.5 145.2 208.4 61.4M42.9 158.6Q149.6 148.2 199.4 53.3M40 145Q147.7 150.1 206.9 59.9M59.5 191.3Q139.5 132.6 204 57.3M55 185Q143.5 137.1 200.7 54.3M47.6 171.4Q136.8 127.4 235 111.2M49.1 174.6Q146.3 141.6 201.6 55.1M46.8 169.6Q145.3 141.6 206.7 59.7M47.9 172Q137.9 130.8 233.1 103.6M39.9 144.5Q147.1 149.8 209.5 62.5M54.8 184.7Q143.6 137.3 200.6 54.3M64.6 197.4Q138.3 131.3 200.7 54.4M42.3 156.2Q154 147.9 168.4 36.8M40.8 150Q146.2 147.7 212.7 66M50.8 177.9Q142 136.4 209 62M58.5 190.1Q137.7 130.7 208.9 62M40.3 147.1Q151.5 150.1 185.5 44.1M56.6 187.4Q137.7 130.6 211.2 64.4M49.4 175.2Q143.8 138.9 206.7 59.7M63.8 196.5Q141.6 135.2 214.1 67.7M41.5 153.2Q148.5 148.8 204.1 57.3M40.5 148.1Q146.7 148.7 211.2 64.3M39 131.5Q147 152.1 206.8 59.8M39 133.5Q144.7 150.5 217.8 72.3M53.4 182.4Q137.4 130.1 215.9 69.9M41.6 153.3Q136.5 124.7 234.2 107.6M50.8 178Q156.6 145 159 34.3M43.1 159.1Q147.9 147.1 205.7 58.8M47.8 171.8Q145.4 141.3 205.2 58.3M51.4 178.9Q143.1 137.5 205.9 59M50.9 178.1Q144.4 139.1 203.5 56.8M40.3 146.7Q147.2 149.4 209.1 62.1M39.3 139.1Q147 150.9 208.9 61.9M47.7 171.6Q143.4 139.1 209.6 62.7M49.4 175.2Q144.1 139.2 206.1 59.1M40.7 149.2Q147.5 149 208.2 61.2M52.3 180.6Q141.5 135.6 208.1 61.1M44.5 163.4Q147.6 145.5 204.7 57.8M40.9 150.4Q136.7 125 234.7 109.9M56.8 187.7Q136.8 129.4 213.1 66.5M59.5 191.3Q135.8 128.4 211.9 65.2M40.8 149.6Q147.2 148.8 209.3 62.3M66.1 199.1Q142.1 135.4 211.1 64.3M47.9 171.9Q147 142.8 201.7 55.3M65.1 198Q138.3 131.3 200.1 53.9M43.1 159.2Q148.6 147.5 203.5 56.8M44.4 163.2Q144.1 141.4 212.5 65.8M39.8 143.9Q147.8 150.3 206.4 59.4M47.8 171.9Q147.2 143.1 201.2 54.8M46.9 169.7Q138.7 132.3 221.2 77.4M39.4 139.8Q148.4 151.2 202.2 55.6M39.5 141Q148.4 151 202.6 56M63.1 195.7Q134.1 124.9 228.2 90.3M50.9 178.1Q138.9 132.4 215.6 69.5M57.5 188.7Q131.9 110.3 236.9 136.2M40.4 147.7Q148.7 150 202.7 56.1M55.3 185.4Q138.6 131.8 210.9 64.1M55.3 185.4Q139.3 132.6 209.5 62.5M46.4 168.6Q145.9 142.5 205.9 58.9M46.4 168.5Q149.3 145.8 198.6 52.7M39.5 141.3Q148.5 151 202.4 55.8M65.5 198.4Q148.7 138.6 177.6 40.3M47.7 171.7Q142.4 137.7 211.9 65.1M57.4 188.5Q134.4 126 217.6 72.2M39.9 144.1Q145.4 148.5 215.9 69.9M42 155.3Q137.3 124.9 237 132.8M39.9 144.2Q146.5 149.5 211.8 65M42.9 158.7Q146.7 145.8 208.6 61.6M48.4 173.1Q143.4 138.8 208.8 61.9M40.6 148.5Q146.8 148.7 210.8 63.9M40.7 149.3Q148.5 149.6 203.9 57.1M44.4 163.2Q144.1 141.5 212.5 65.8M57.4 188.5Q140.6 133.9 204.1 57.3M40.5 147.9Q145.7 147.7 214.3 67.9M54.2 183.8Q140.1 133.6 209 62M48.7 173.7Q147.1 142.5 200.5 54.2M47.4 171Q154.1 146.8 176.7 39.9M42.1 155.5Q144.5 143.9 214.6 68.3M47 170Q135.9 122.8 236.6 121.9M39.1 136.3Q147 151.3 208.5 61.5M64.7 197.6Q136.1 129.1 205.2 58.3M45.8 166.9Q137.1 127.7 235.7 115.2M48.4 173.1Q144.4 139.9 206.7 59.7M47.8 171.8Q146.3 142.2 203.3 56.6M47.6 171.3Q148.5 144.4 198.9 52.9M39 130.3Q145.3 151.6 214.6 68.3M50.6 177.5Q139.2 132.8 215.4 69.3M39 133.5Q144.8 150.6 217.3 71.8M40.6 148.8Q144.1 145.1 217.6 72.1M40.7 149.2Q149.6 150 198.9 52.9M44.9 164.6Q144.4 141.5 211.2 64.3M60.6 192.7Q136.2 128.2 226.5 86.6M39 131.6Q145.8 151.7 212.5 65.7M39 133.1Q145.8 151.4 212.9 66.2M39.7 142.8Q148.3 150.7 203.6 56.9M67.9 200.9Q128.6 112 236.1 117.4M53.3 182.2Q154.9 144.8 171.1 37.7M39 131.9Q148 152 200.9 54.5M56.4 187.1Q140.8 134.2 204.8 58M48.7 173.8Q156 145.8 162.8 35.2M53.4 182.3Q145.4 139.3 198.6 52.7M62.9 195.5Q137.4 130.3 204.7 57.8M39 131.3Q147.8 152.1 202.4 55.8M58.4 189.8Q140.2 133.4 203.8 57M39.2 137.9Q146.3 150.7 211.8 65M54.8 184.7Q138.1 131.2 212.5 65.8M43.1 159.2Q149 147.8 201.9 55.4M44.9 164.6Q149 146.6 201 54.6M53.4 182.4Q144.4 138.3 200.7 54.4M40.5 148.4Q152.8 148.5 171.5 37.8M41.5 153.3Q137.5 125.6 237 133.5M56.9 187.8Q137.6 130.5 211.2 64.3M47 169.9Q141.2 136.4 215.4 69.3M42.4 156.7Q145.1 144.4 212.8 66.2M40.7 149.4Q145.6 147.2 214 67.6M53.4 182.5Q142 135.9 205.7 58.8M46.2 168.1Q145.7 142.3 206.6 59.6M39 133.8Q147.7 151.9 204.2 57.4M67 199.9Q140.8 134 212.9 66.3M50 176.4Q142.4 137.2 208.9 61.9M39.7 142.9Q147.8 150.5 206 59M39.5 141.2Q145.5 149.4 215.4 69.3M46.3 168.4Q147.7 144.4 201.9 55.4M39 134.1Q146 151.3 212.6 66M48.6 173.4Q147.2 142.7 200.5 54.2M40.9 150.2Q153.3 146.8 160 34.5M50.7 177.6Q157.2 144.3 151 32.9M40.3 147Q152.5 145.5 154 33.3M40.4 147.8Q149.4 150.2 199.5 53.5M48.6 173.6Q140.6 135.2 214.6 68.2M54.2 183.7Q141.6 135.3 205.8 58.9M39 130.3Q146.9 152.2 206.9 59.9M42.8 158.1Q144.9 143.7 212.8 66.2M40.4 147.5Q146.5 148.7 211.9 65.1M62.2 194.6Q141.7 135.5 215.4 69.3M55.2 185.3Q134.2 125.3 220.6 76.4M66.6 199.6Q142 135.3 210.9 64M44.3 163Q148.9 146.9 201.7 55.2M56.4 187.1Q156.9 143.5 157.6 33.9M64 196.8Q136.1 129.1 206 59.1M44.7 164Q145.8 143.5 208.2 61.2M50.9 178Q138.7 132.1 216.1 70.1M48.7 173.6Q136.3 125.9 235.1 111.9M58.4 189.9Q136.9 129.7 210.8 63.9M49 174.3Q140.9 135.5 213.5 66.9M39.3 139Q138.4 136.9 236.8 125.2M65.2 198.1Q139.5 132.7 216.8 71.1M45.6 166.6Q147.4 144.5 203.6 56.9M64.3 197.1Q141.1 134.6 214.6 68.3M53.4 182.3Q139.7 133.3 210.9 64M39 133.1Q148.1 151.9 201.3 54.9M48.8 173.9Q142.9 138 209.5 62.6M51 178.3Q140.6 134.7 211.7 64.9M39.5 141.3Q150 142.3 141.9 32.1M39 132.9Q146.2 151.6 211.2 64.4M65.6 198.5Q133.5 126.2 209.8 62.8M42.3 156.2Q148.3 148 204.8 58M66.5 199.4Q140.5 133.8 213.9 67.4M64.8 197.6Q148.3 138.5 179.4 41.1M41.5 153Q144.5 144.5 215.5 69.4M66.5 199.5Q133.3 126.2 209.1 62.1M63 195.6Q133.9 126.3 212 65.2M43.1 159.1Q144.5 143 213.1 66.5M43.6 160.7Q148.1 146.9 204.6 57.8M56.6 187.3Q138.1 131.2 210.4 63.4M58.3 189.8Q134.2 125.9 216.9 71.2M39.7 142.9Q146.3 149.6 212.6 65.9M40.4 147.8Q148.2 149.7 205.2 58.3M62 194.5Q133.6 125.8 213.8 67.3M41.6 153.4Q153.7 145.3 151.7 32.9M53.4 182.4Q139.2 132.7 211.8 65M41.4 152.9Q144.3 144.3 215.9 69.9M41.1 151.4Q145.1 145.9 214.5 68.2M39 133Q146.2 151.6 211.1 64.3M64.4 197.2Q130.3 116.7 233.7 105.8M40.4 147.3Q147.3 149.3 208.9 61.9M39 131.1Q146.5 152 209.1 62.1M66.7 199.7Q140.6 133.9 213.5 66.9M50.1 176.6Q141.7 136.2 210.4 63.5M56.6 187.3Q136.5 129 214 67.5M46.4 168.6Q135.8 120.5 237 128M39.4 139.9Q144.8 149.1 217.8 72.3M41.2 152Q146 146.9 212.4 65.7M55.4 185.5Q139.7 133.1 208.5 61.5M50.2 176.8Q136 127.4 223 80.2M56.5 187.2Q141 135.5 221.3 77.5M43.1 159Q145.5 144.3 211.1 64.2M67.6 200.6Q141.5 134.7 211.1 64.2M40.6 148.7Q147.9 149.4 206.5 59.5M45.8 166.9Q148.6 145.6 200.9 54.6M39.3 139.2Q150.4 143.7 148.6 32.6M40.6 148.7Q148.8 149.8 202.5 55.9M58.4 189.9Q137.4 130.3 209.8 62.9M39.4 140.1Q145.4 149.5 215.7 69.6M40.3 147Q146.4 148.8 212.3 65.6M45.8 167Q145.9 142.9 206.6 59.6M39.8 143.8Q145.4 148.6 215.9 69.9M39.3 138.1Q147.1 151.1 208.4 61.4M41.5 153.2Q149.7 149.3 198.6 52.7M39.9 144.4Q147.3 150 208.4 61.4M61.9 194.3Q137.8 130.7 205 58.1M39.3 138.1Q147.5 151.2 206.4 59.5M63 195.6Q133.1 122.9 230.1 94.7M40.3 147.1Q145.4 147.6 215.1 68.9M39.5 141Q148.9 151.1 200.2 54M44.5 163.5Q149 146.9 201.2 54.8M40.5 148.1Q148.9 150 202 55.4M66.4 199.4Q140.1 133.4 214.6 68.3M39 133.2Q149.9 150.6 185.5 44.1M39.4 139.5Q148.8 151.3 200.2 54M45.8 167Q148.6 145.6 200.9 54.6M65.5 198.4Q133.2 125.9 210.4 63.5M56.8 187.6Q158.2 142.7 146.5 32.4M62.1 194.6Q132.5 121.1 231.8 99.4M43.1 159.1Q144.6 143.1 212.9 66.3M47.6 171.3Q143.9 139.7 208.8 61.8M50.9 178.1Q134 111 236.5 141M65.5 198.5Q137 130 202.4 55.8M58.6 190.1Q135.9 128.4 212.7 66.1M65 197.9Q139.1 132.3 217.7 72.3M39 133Q141.9 146.2 225.7 85M65.7 198.6Q134.9 127.8 206.7 59.7M39.4 140.2Q146.7 150.5 210.6 63.7M42.9 158.3Q144.9 143.7 212.6 65.9M44.3 162.9Q136.9 125.4 236.8 124M56.9 187.8Q142.7 136 200.1 53.9M39 130.2Q149.9 148.9 175.7 39.4M45.8 167Q146.8 143.8 204.6 57.8M42 155.4Q144.2 143.5 215.3 69.1M40 144.9Q137.2 126.2 235.3 112.9M40.4 147.3Q146 148.4 213.6 67.1M43.4 160.1Q137 125.4 236.9 127M55.4 185.5Q136.6 129.1 215.1 69M57.1 188.1Q136.1 128.6 214.1 67.7M42.1 155.5Q145.8 145.6 211.8 65M40.6 149Q148.4 149.6 204.1 57.3M41.7 153.8Q147.9 148.3 206.5 59.5M42.2 155.9Q148.9 148.4 202.5 55.9M50.1 176.6Q147.1 141.9 198.8 52.9M57.5 188.7Q156.9 143.2 157.4 33.9M39.7 142.3Q147.9 150.6 205.7 58.8M53.4 182.4Q139.9 133.5 210.4 63.5M47.8 171.7Q146.5 142.4 202.8 56.2M42.3 156.3Q154.3 145.6 152.7 33.1M46.2 168.1Q147.1 143.8 203.6 56.8M39 134Q140.9 143.4 227.9 89.6M39.9 144.1Q148.6 150.6 202.7 56.1M39 133.7Q144.8 150.5 217.3 71.8M39.9 144.1Q147.1 149.9 209.5 62.5M39.7 142.5Q148.9 150.9 200.8 54.4M57.5 188.7Q132.2 109.7 236.6 139.9M50.1 176.5Q140.8 135.1 212.5 65.8M40.4 147.3Q147.5 149.4 208.2 61.2M49.5 175.4Q143.8 138.8 206.7 59.7M65.4 198.3Q129.9 109.9 237 132.3M39.8 143.3Q148.6 150.7 202.3 55.7M62.1 194.6Q150.1 140.2 178.4 40.6M39.1 134.4Q146.9 151.6 208.2 61.2M39.4 140.3Q149 151.2 199.4 53.3M43 158.8Q145.8 144.7 210.5 63.6M58.4 189.9Q134.9 127 215.2 69M39.7 142.4Q137.3 125.9 235.8 115.9M40.8 149.6Q137.7 124.4 236.6 139.6M66.3 199.3Q130.4 109.1 236.6 139.9M40.7 149.2Q146.7 148.5 211.1 64.3M57.6 188.7Q135.7 128 214.5 68.2M54.8 184.7Q139 132.2 210.7 63.8M54.2 183.7Q137.6 130.4 214.5 68.2M49.1 174.6Q156.7 145 154.3 33.4M62 194.4Q136.3 128.5 225.3 84.3M39.1 135Q147.8 151.7 203.8 57M57 187.9Q140.8 134.2 204.1 57.3M41.7 153.9Q148.3 148.6 204.7 57.9M40.9 150.4Q147.1 148.5 209.6 62.6M66.5 199.5Q128.9 113.9 234.7 109.6M65.2 198.1Q139.4 132.7 216.9 71.2M39.1 134.4Q145.1 150.7 216 70.1M39 131.8Q140.8 143.9 228.4 90.6M41.6 153.7Q145.4 145.6 213.1 66.5M67.5 200.5Q134.7 127.8 205.1 58.2M40.7 149.4Q147.2 148.8 209.4 62.4M47.7 171.5Q140.7 135.5 215.7 69.6M42.8 158.2Q139.2 135.6 234.3 108.2M40.5 148.1Q149.3 150.1 200.1 53.9M46.1 167.8Q146.7 143.5 204.6 57.8M67.2 200.2Q136.3 129.4 202 55.4M66.1 199Q133.2 125.9 209.9 62.9M56.9 187.7Q157.1 143.3 156.4 33.7M43.1 159Q142.7 140.3 217.3 71.8M39.1 136.2Q146.7 151.2 209.9 62.9M56.6 187.3Q143.6 136.9 198.7 52.8M40.4 147.5Q147.8 149.6 206.8 59.8M39 133.7Q146.4 151.5 210.6 63.7M44.6 163.8Q149.2 146.9 200.6 54.3M39 132.9Q145.3 151.1 215.1 68.8M66.3 199.2Q135.9 129 203.8 57.1M39.1 135Q149.9 144.4 153.7 33.2M53.5 182.5Q158.1 142.6 139.9 32M40.7 149.4Q148.3 149.5 204.9 58M63 195.6Q142 135.7 214.1 67.6M43 158.8Q148.9 147.8 202.1 55.6M44.7 164.1Q144.8 142.2 210.4 63.5M62.1 194.6Q142.2 136.1 214.4 68M64.2 197Q133.6 126.2 211.2 64.3M49 174.4Q144.5 139.8 205.7 58.8M55.8 186.1Q135.6 127.6 216.9 71.2M62.9 195.5Q135.3 128 209.1 62.1M47.7 171.7Q143.8 139.5 208.8 61.8M55.5 185.7Q157.9 143.1 148.3 32.5M55.3 185.4Q138.8 132 210.5 63.6M44.1 162.4Q136.4 119.4 236.8 136.6M44.4 163.3Q147.5 145.5 204.8 58M42.9 158.6Q149.3 148.1 200.6 54.3M64.8 197.7Q133.6 126.2 210.6 63.7M39.1 134.2Q145.5 150.9 214.7 68.4M63.2 195.9Q139.6 132.5 199.5 53.4M49.2 174.8Q140.8 135.3 213.5 67M56.8 187.6Q134.7 126.4 217.7 72.3M40.2 146.7Q148.3 150 204.7 57.8M39.1 134.4Q144.8 150.3 217.5 72M39.1 135Q145.7 150.9 213.8 67.3M65.3 198.2Q141.2 134.6 213.6 67.1M43.1 159.2Q140.5 136.5 222.2 78.9M57.5 188.6Q135 127 216.1 70.1M43 158.7Q144.7 143.4 212.9 66.2M39.5 141.3Q148.6 151 201.6 55.1M63.8 196.5Q137.4 130.4 203.5 56.7M65.4 198.3Q133.5 126.2 209.9 63M40.6 148.6Q149 149.9 201.3 54.9M53.4 182.5Q144.2 138.1 201 54.6M39.4 140.2Q146.8 150.5 210.4 63.5M56.9 187.7Q150 141.6 184.7 43.7M41.3 152.3Q147 148 209.8 62.9M39.1 134.6Q149.6 151.3 191.3 47.6M64.1 196.9Q134.6 127.3 209.2 62.2M39 133.3Q146.8 151.8 208.4 61.4M65.3 198.2Q133.3 125.9 210.6 63.7M49.9 176.2Q142.8 137.6 208.2 61.2M39.6 142.2Q145.8 149.4 214.4 68M43.1 159.1Q147.4 146.5 206.8 59.8M41.5 153Q142.2 140.9 220.5 76.3M58.6 190.1Q147.3 139.4 188.4 45.8M44.6 163.7Q141.6 137.9 217.6 72.2M44.4 163.4Q145.9 143.7 208.4 61.4M39.7 142.7Q146 149.5 213.5 67M39.9 144.2Q144.6 147.4 217.6 72.1M55.4 185.5Q156.6 143.9 160.1 34.5M39.4 139.4Q149 151.3 198.8 52.9M56.7 187.5Q138.4 131.5 209.6 62.7M39.6 142.2Q148.3 150.8 203.8 57.1M40.5 148.1Q145.9 147.9 213.8 67.3M66.4 199.4Q134.4 127.4 206.9 59.9M39.9 144.3Q147.3 150 208.4 61.4M44.4 163.3Q146.8 144.7 206.5 59.5M64.7 197.5Q157.3 141.2 152 33M46.5 168.7Q147.3 143.9 202.7 56.1M67.7 200.7Q140.4 133.6 212.9 66.3M48.3 173Q143.6 139 208.4 61.4M44.9 164.6Q146.6 144.1 206.4 59.4M39 130.1Q145.7 151.9 212.7 66M40.5 147.9Q147.4 149.3 208.3 61.3M61.9 194.4Q133.6 125.7 214 67.6M55.2 185.3Q137.8 130.8 212.7 66M40.5 148.4Q143.2 143.7 219.8 75.2M42.9 158.4Q144.9 143.7 212.6 65.9M39.1 134.4Q150.6 148.3 171.5 37.8M55.8 186.1Q153.2 143.7 177.8 40.4M39 133.5Q146.8 151.7 208.7 61.7M65 197.9Q129.7 110.5 237 128.5M48.8 173.8Q145 140.5 204.9 58M42.2 156Q137.4 126.7 237 128.5M46.2 168Q148.2 145 201.2 54.8M65.7 198.6Q139.7 133 216 70M65.9 198.8Q133.4 126.1 209.7 62.7M46.2 168Q148.3 145.1 201 54.6M46.4 168.6Q147.7 144.4 201.9 55.3M60.7 192.9Q136.5 128.7 225.9 85.4M39.9 144.4Q145.6 148.7 215.2 69M52.3 180.6Q139.2 132.7 213.2 66.6M40.5 148Q147.1 149.1 209.6 62.6M39 131.4Q149.9 146.4 163.6 35.4M42.9 158.6Q139 133.6 225.8 85.2M56.8 187.7Q138.2 131.2 210 63M42.8 158.2Q144.9 143.7 212.7 66.1M39.9 144.6Q152.2 148.8 172.9 38.4M43.2 159.7Q146.1 144.9 209.5 62.5M63.1 195.7Q141.8 135.5 214.4 68M39 134Q146.4 151.5 210.6 63.6M39 134Q148.2 151.8 201.2 54.8M39 133.4Q146.7 151.7 209 62M67.2 200.2Q139.1 132 195.9 50.7M60.5 192.6Q134.4 126.5 213.9 67.4M67.2 200.2Q134.1 127.1 206.7 59.7M66.7 199.7Q139.4 132.7 215.7 69.6M47.5 171.1Q156.4 145.3 154.4 33.4M48.3 173Q148.1 143.6 198.8 52.9M39.7 142.4Q147.1 150.2 209.3 62.3M40.4 147.7Q151.4 150.1 186.9 44.9M40.3 147Q140.3 138.3 226.7 87.1M56.3 187Q157.7 143.2 151.5 32.9M44.6 163.9Q145.8 143.4 208.4 61.4M66.2 199.2Q136.7 129.8 202.2 55.6M49.1 174.5Q146.6 141.9 201.1 54.7M46.1 167.8Q144.7 141.2 208.9 61.9M57.4 188.5Q138.6 131.7 208.4 61.4M66 198.9Q136.7 129.8 202.5 55.9M54.1 183.5Q141.4 135.1 206.4 59.4M57.1 188Q142.4 135.7 200.6 54.3M44.5 163.6Q143.7 140.9 213.1 66.5M39.1 136.3Q148.8 151.6 198.7 52.8M39.1 134.8Q147.8 151.8 204 57.2M40.3 147Q146.9 149.1 210.4 63.5M64.5 197.3Q137.9 130.9 201.6 55.2M44.4 163.2Q136.4 116.1 236.3 142.5M53.2 182.1Q134.8 123.3 234.4 108.3M46.4 168.5Q144.3 140.7 209.4 62.4M39.5 141Q147.8 150.8 205.8 58.9M39.8 143.7Q147 149.9 209.8 62.8M43.1 159.3Q143.5 141.5 215.4 69.2M63.9 196.6Q136.7 129.7 204.9 58M41.3 152.2Q150.7 149.7 193.6 49.1M39.3 138.4Q138.3 132.7 233.9 106.5M41.5 152.9Q146.1 146.8 211.9 65.1M42.8 158.2Q148.8 147.9 202.7 56M67.8 200.8Q134.1 127.2 205.8 58.9M55 184.9Q150.8 142.8 185.2 44M48.8 174Q145 140.4 204.8 57.9M62 194.4Q141.6 135.4 215.7 69.6M50.8 177.8Q143.1 137.7 206.6 59.6M39.8 143.3Q145.4 148.8 215.9 69.9M58.3 189.7Q141.3 134.5 201.5 55M66.8 199.8Q141.8 135 211.2 64.3M65.1 197.9Q137.8 130.8 201.3 54.9M46.9 169.8Q147.1 143.4 202.7 56.1M41.7 153.8Q147.2 147.8 209.2 62.2M44.7 164.1Q155.5 144.7 147.7 32.5M55.3 185.4Q142.1 135.7 203.4 56.6M62.1 194.6Q133.8 126.1 213.1 66.5M55.1 185.1Q158.3 142.5 142 32.1M40.3 147.1Q149.1 150.2 200.6 54.3M58.6 190.1Q141.4 134.6 200.9 54.6M40.7 149.3Q141.7 140.8 222.9 80M67.3 200.3Q134.9 128 204.8 58M44.7 164.1Q149.1 146.8 200.6 54.3M45.8 167Q145.9 142.9 206.7 59.7M57 187.9Q139.6 132.9 206.7 59.8M46.4 168.5Q142.6 138.6 213.1 66.5M39.1 134.3Q146.3 151.4 211.2 64.4M43.1 159.2Q146.5 145.5 208.8 61.8M44.1 162.4Q142.8 139.8 215.7 69.6M39 133.4Q146.4 151.6 210.4 63.4M42.4 156.6Q147.1 146.9 208.5 61.5M40.8 149.7Q152.7 144.4 147.6 32.5M65.5 198.5Q137.3 130.4 201.7 55.2M40.5 148.4Q148.9 149.9 201.8 55.3M39 130.3Q146.3 152.1 209.7 62.8M68 201Q130.3 119 230.9 96.9M42.3 156.2Q138.2 132.2 236 117.2M42 155.3Q148.4 148.3 204.6 57.8M39.3 138.2Q148.4 151.4 202.1 55.6M50.2 176.7Q141.1 135.4 211.7 64.9M41.7 153.9Q144.9 144.8 214.3 68M42.2 156.1Q146.7 146.6 209.5 62.6M39.3 138.3Q147.8 151.3 204.9 58M51 178.3Q143.6 138.2 205.2 58.3M65.4 198.3Q136 129 204.6 57.7M41.3 152.2Q149 149.2 202 55.4M40.3 146.8Q147.8 149.8 206.5 59.6M65.9 198.9Q134.8 127.8 206.6 59.6M40.4 147.6Q148.6 149.9 203.4 56.7M39 131.5Q145.6 151.6 213.5 67M41.2 151.6Q148.9 149.3 202.4 55.8M39.7 142.6Q144.7 148.1 217.7 72.2M39 131.9Q142.4 147.8 224.5 82.9M57 187.9Q133.3 120.6 234.2 107.6M40 144.7Q144.7 147.3 217.2 71.6M48.8 173.9Q140.6 135.1 214.5 68.2M42.4 156.6Q142.9 141.2 217.7 72.3M44.9 164.6Q142.3 138.7 215.7 69.7M39.3 138.2Q146.9 151 209.1 62.2M64.6 197.4Q135.6 128.5 206.5 59.5M44.9 164.6Q144 141.1 211.9 65.1M55.3 185.5Q138.5 131.6 211.1 64.2M64.9 197.7Q139.6 132.9 216.8 71.1M54.2 183.7Q140.1 133.6 209 62M50.1 176.5Q139.9 133.9 214.4 68M40.9 150.4Q144.8 145.6 215.7 69.6M64.5 197.3Q141.1 134.6 214.4 68M43.3 159.9Q145.9 144.6 209.7 62.8M44.5 163.4Q146 143.8 208.1 61.1M39 133.1Q145.6 151.2 213.9 67.5M54.8 184.6Q132.5 114.7 236.7 123.2M42.3 156.5Q147.1 146.9 208.5 61.5M42.1 155.4Q147 147.1 209.2 62.2M39 133.2Q147.9 151.9 202.7 56.1M40.7 149.5Q145.1 146.4 215.2 69M58.3 189.7Q141.4 134.6 201.4 55M67.5 200.5Q139.3 132.4 215.2 69.1M50.1 176.5Q138.5 131.8 217.5 72M67.4 200.4Q136.7 129.9 200.8 54.5M48.4 173.2Q145 140.6 205.2 58.3M39 133.6Q147.7 151.9 204.1 57.3M55 184.9Q137.8 130.8 213 66.4M66 198.9Q136.3 128.8 222 78.6M39.1 134.4Q148.3 151.8 200.5 54.2M65.2 198.1Q137.8 130.8 201.1 54.7M41.6 153.7Q145 145 214.1 67.7M48.8 174Q145.9 141.4 202.8 56.2M42.2 155.8Q148.3 148.1 204.8 57.9M57.4 188.4Q136.6 129.3 212.7 66M46.1 167.8Q143.1 139.3 212.4 65.7M54 183.4Q154.7 144.5 171.7 37.9M67.9 200.9Q128.5 113.2 235.1 111.6M41.5 153.2Q147.9 148.4 206.7 59.7M47.4 171Q141.6 136.9 213.9 67.4M40.9 150.5Q143.9 144.4 217.5 72M43 158.8Q154.7 145.3 151.3 32.9M57.5 188.7Q132.9 119.6 234.5 108.9M39.1 136.4Q150.7 145.9 159.4 34.3M40.7 149.4Q148.5 149.6 203.9 57.1M42.2 155.8Q147.1 147.1 208.7 61.7M55 185Q136.5 128.9 215.9 69.9M44.9 164.6Q144.9 142.2 210 63.1M50.1 176.5Q141.7 136.3 210.4 63.5M64.5 197.4Q129.4 113.2 235.6 114.6M39.3 139.1Q145.6 150 214.7 68.4M49.5 175.4Q142.9 137.9 208.5 61.5M44.4 163.3Q153.8 147.9 176.3 39.7M40.6 148.5Q149.4 150.1 199.5 53.4M63.9 196.6Q159 140.6 139.3 32M42.4 156.7Q148.8 148.2 202.8 56.2M39.4 140Q138.8 135 232.1 100.3M42.9 158.4Q138 130.8 236.1 117.8M39.9 144.4Q148.7 150.6 202.2 55.6M47.7 171.6Q141.2 136.2 214.4 68.1M40.4 147.8Q145 146.7 215.9 69.9M44.7 164.1Q153.4 147.9 179.8 41.3M53.3 182.3Q138.4 131.5 213.8 67.3M53.3 182.2Q143.9 138 201.7 55.2M39 131.2Q146.5 152 209.3 62.3M40.3 147.3Q142 141.8 222.9 80M64.5 197.3Q137.9 130.9 201.5 55.1M42.8 158.1Q149.6 148.3 199.4 53.4M39.3 139.3Q146.9 150.8 209.5 62.5M44.2 162.7Q144 141.5 212.9 66.2M39.9 144.2Q145.6 148.7 215.3 69.2M39 134Q148.5 151.8 199.4 53.3M48.5 173.3Q143.2 138.5 209.2 62.2M58.5 189.9Q135.5 127.9 213.8 67.3M54.8 184.7Q143.4 137.1 201 54.6M49.2 174.7Q144.8 140.1 204.9 58M50.8 178Q144.8 139.5 202.8 56.2M53.2 182Q132.9 113.5 237 128.5M65.8 198.7Q141.4 134.8 212.8 66.1M39 130.2Q146.4 152.1 209.6 62.6M40.3 146.8Q146.2 148.6 213.1 66.5M41.2 151.9Q147.1 148.2 209.5 62.6M39.3 139.2Q145.9 150.1 213.9 67.4M47.9 172Q138.4 132 232.4 101.1M39.4 139.7Q146.7 150.6 210.3 63.4M40.3 146.9Q145.4 147.7 215.2 69M55.4 185.6Q132.6 110.2 236.7 138.8M39.8 143.2Q148.9 150.8 201 54.6M40.6 148.5Q147.1 148.9 209.8 62.8M67.5 200.5Q141 134.2 212 65.3M58.6 190.1Q138.8 131.9 206.5 59.5M39.4 139.7Q138.3 135.6 236.9 127.1M62.9 195.5Q139.1 132 201 54.7M41.6 153.7Q143.4 142.7 217.7 72.2M46.8 169.6Q135.4 115.4 236.8 137.4M65.4 198.3Q142.5 135.9 211 64.1M52.4 180.7Q140.8 134.7 209.7 62.7M39.9 144.6Q148.4 150.4 203.8 57M39 133.5Q146.6 151.6 209.7 62.7M41 150.6Q149 149.6 201.5 55.1M39.4 139.4Q146.6 150.6 210.8 63.9M53.4 182.5Q140.4 135.2 224.7 83.2M40.8 149.8Q149 149.7 201.8 55.3M67.7 200.7Q156.6 140.6 153.8 33.3M39 133.1Q137.9 134.1 236.8 136.7M39.3 139.3Q138 131.3 236.9 136.1M40 144.8Q138.2 133.2 236.9 126.8M61.9 194.3Q139.4 132.4 201.4 55M63.8 196.5Q137.7 130.7 202.9 56.2M44.1 162.5Q149.3 147.2 200.4 54.1M41 150.6Q149.6 149.8 198.8 52.9M41.2 151.8Q146.3 147.3 211.8 65M39.8 143.4Q148.9 150.8 200.9 54.5M41.6 153.5Q144.4 144.2 215.5 69.4M39.3 139.1Q146.1 150.3 212.8 66.2M65.5 198.4Q136.3 129.3 204 57.2M39.4 139.4Q146.1 150.2 213 66.4M39 131.8Q147.3 152.1 205 58.1M41.6 153.4Q138.5 133.6 236 117.3M40 144.7Q140.8 140 226.2 86M40.4 147.7Q145.8 148 214.1 67.7M39.1 134.8Q150.5 149.9 180.7 41.7M39 130.3Q146.1 152 211.1 64.2M46.4 168.5Q148.3 144.9 200.8 54.4M64.2 197Q137.4 130.3 221.4 77.6M41.2 151.7Q147.3 148.4 208.8 61.8M48.9 174.2Q139.1 132.9 217.6 72.1M39.4 139.9Q148.6 151.2 201.6 55.1M39 133Q145.8 151.4 212.9 66.3M67.9 200.9Q135.7 128.9 202.4 55.8M67.8 200.8Q135.7 128.8 202.6 56M64.7 197.6Q137.8 130.8 201.6 55.2M39 133.4Q148.1 151.9 201.6 55.2M41.5 153.3Q146.1 146.7 211.7 65M39.4 140Q147 150.7 209.4 62.4M44.4 163.3Q149 146.9 201.2 54.8M39.1 136.3Q145.8 150.7 213.6 67.1M57.4 188.6Q137.9 130.9 209.9 62.9M39 130.2Q147.1 152.2 205.9 59M56.9 187.8Q137.6 130.5 211.2 64.4M58.7 190.3Q139 132.1 206 59M40.7 149.2Q148.8 149.7 202.6 56M48.6 173.5Q146.2 141.7 202.6 55.9M40.8 150Q148.8 149.6 202.5 55.9M43 159Q146.1 145 209.8 62.8M42.3 156.3Q149.3 148.6 200.6 54.3M63.5 196.3Q139.1 132.1 200.1 53.9M46.1 167.9Q142.4 138.3 213.9 67.5M60.6 192.7Q142.3 136.4 215.6 69.6M50.9 178.1Q144.4 139 203.6 56.9M41 150.7Q147.3 148.6 208.8 61.8M65.9 198.9Q136.8 129.9 202.4 55.8M39.3 139Q140.7 141.3 227.6 88.9M39.6 142.2Q142 143.2 224.1 82.1M53.2 182Q155 144.8 170.4 37.4M65.1 197.9Q133.7 126.4 210 63M44.5 163.5Q143.2 140.2 214.3 67.9M43 158.9Q145.5 144.3 211.1 64.3M40.9 150.2Q144.7 145.6 215.9 69.9M46.2 168.1Q155.8 146.1 160.2 34.5M40.5 148.4Q144.2 145.4 217.5 72M59.4 191.1Q140.7 133.8 201.6 55.1M64.8 197.6Q156.7 141.3 155.1 33.5M44.3 163.1Q138.7 133.5 234.1 107.3M42.4 156.7Q149.7 148.7 198.9 52.9M56.8 187.6Q139.9 134 223 80.3M40.6 148.6Q141.5 140.6 223.5 81.2M54.8 184.7Q138.3 131.5 212 65.3M46.5 168.7Q141.6 137.1 215.2 69M65.1 198Q135.8 128 223.6 81.3M39.9 144.4Q146 149 213.8 67.3M49.1 174.6Q134.6 116.7 237 129.6M42.1 155.4Q147.4 147.6 208.3 61.3M63.8 196.5Q138.5 131.5 201 54.7M43.3 159.8Q146.1 144.8 209.4 62.5M67.6 200.6Q136 129.1 202.3 55.7M63.6 196.3Q139.7 132.6 198.9 52.9M42.8 158.2Q144.5 143.2 213.7 67.2M44.7 164.2Q140.2 135.4 220.6 76.4M59.4 191.2Q157.4 142.6 153.7 33.3M39.8 143.3Q139.9 137.9 228.7 91.3M39 131.7Q147.1 152.1 206.4 59.4M40 144.8Q148 150.2 205.8 58.9M39.1 136.3Q148.1 151.6 202.7 56M39.3 138.3Q147.8 151.3 204.9 58M44.7 164.1Q155.4 146.1 157.5 33.9M48.7 173.8Q143.5 138.8 208.1 61.1M39.8 143.2Q146.8 149.9 210.5 63.6M39.1 134.6Q146.6 151.5 209.6 62.7M47 169.9Q143.4 139.3 210.6 63.7M41.7 153.9Q143.4 142.7 217.5 72.1M52.3 180.6Q144.6 138.8 201.5 55M39 130.3Q145.7 151.8 212.7 66M39.1 136.2Q147.7 151.6 205.1 58.2M39.9 144.2Q148.3 150.5 203.9 57.2M40.4 147.7Q149.5 150.2 198.9 52.9M43.2 159.5Q144.2 142.4 213.9 67.4M47.5 171.2Q143.5 139.3 209.6 62.6M54 183.4Q142 135.8 205 58.2M41.1 151.4Q145.4 146.2 214 67.5M67.8 200.9Q138.9 132 215.6 69.6M63.7 196.4Q139.7 132.6 198.7 52.8M39.5 141Q147.3 150.6 208.3 61.3M54 183.4Q141.4 135.1 206.4 59.5M39.7 142.3Q146.2 149.7 212.8 66.1M39.1 136.2Q145.7 150.7 214.1 67.6M41.3 152.1Q147.4 148.3 208.5 61.5M64.3 197.1Q137.1 130.1 203.6 56.9M39.3 138.2Q147.4 151.2 206.8 59.8M62.8 195.4Q134 126.4 212 65.2M44.2 162.6Q142.9 140 215.3 69.2M42.3 156.5Q137.3 125.9 237 129.5M56.7 187.4Q142.4 135.8 201.1 54.7M39.3 139.2Q146.7 150.7 210.5 63.5M64.3 197.1Q137.9 130.9 202 55.5M48.6 173.4Q141 135.6 214 67.5M41.2 151.9Q148.6 149.1 203.5 56.7M43.1 159.2Q142.7 140.3 217.3 71.7M63.5 196.2Q141.1 134.7 215.2 69M47.7 171.6Q143.9 139.6 208.7 61.7M53.4 182.4Q132.8 113.1 237 128.8M65.1 198Q133.8 124.8 227.2 88M59.5 191.3Q134.2 126.2 215.4 69.3M59.3 191Q136.7 129.4 210.3 63.4M44.3 163.1Q145.9 143.8 208.4 61.4M39 133Q146.3 151.6 211 64.1M40.8 149.6Q149.2 149.8 200.8 54.5M46.3 168.3Q141.8 137.4 215.1 68.9M48.3 172.9Q145.9 141.6 203.4 56.7M40.8 149.8Q149 149.7 201.7 55.2M39 133.8Q144.8 150.5 217.3 71.7M53.3 182.3Q140.3 134 209.5 62.5M43 158.7Q149.7 148.3 198.7 52.8M40.7 149.3Q144.2 145.1 217.3 71.7M39.9 144.1Q149.4 150.7 198.6 52.7M40 145.1Q146 148.8 213.9 67.4M40.2 146.6Q140.8 139.4 225.9 85.4M57.4 188.4Q142.8 136 199.4 53.4M63.9 196.7Q141.6 134.2 194.4 49.6M39.9 144.7Q148.8 150.5 201.9 55.4M39.4 139.9Q146.8 150.6 210 63M63.8 196.5Q137.1 130.1 204.1 57.3M65.4 198.3Q138.7 131.7 198.8 52.9M44.9 164.6Q142.9 139.6 214.3 68M58.4 189.8Q134.3 123.9 231.6 98.7M47.5 171.1Q143.2 138.9 210.3 63.4M54 183.3Q139.5 132.9 210.6 63.7M40.7 149.5Q149.6 149.9 198.8 52.8M40.9 150.3Q151 150 191 47.4M60.6 192.7Q134.2 126.3 214.3 67.9M63.2 195.9Q136.3 129.2 206.5 59.5M58.4 189.9Q141.2 134.4 201.5 55M67.9 200.9Q137.1 130.2 199.3 53.3M55.4 185.5Q138.4 131.6 211.2 64.3M39.4 140.1Q145.9 150 213.7 67.2M41.2 152Q143.7 143.6 217.6 72.1M39 130.1Q147.9 152.1 200.6 54.3M67.7 200.7Q135.7 128.9 202.6 55.9M66.3 199.3Q134.7 126.5 224.6 83M39 130.2Q145.6 151.8 213 66.4M44.3 162.8Q144.8 142.5 211 64.1M42.1 155.6Q149.6 148.8 199.5 53.4M66.5 199.5Q139.6 132.8 215.6 69.5M41.2 151.6Q146.1 147.1 212.4 65.6M43.1 159.2Q154.8 145.8 154.3 33.3M41.6 153.7Q153.8 145.4 152 33M55 184.9Q158.3 142.6 142.3 32.1M66.1 199Q137.5 130.5 200.8 54.4M64.7 197.5Q155.3 141.4 162.4 35M65.4 198.3Q135.4 128.4 205.9 58.9M39.3 138.3Q145.5 150 215.2 69M46.3 168.4Q143.5 139.8 211.1 64.3M40.2 146.6Q137.8 130.1 233.1 103.6M41.5 153.1Q144.6 144.6 215.3 69.1M42.3 156.2Q148.6 148.2 203.4 56.7M64.7 197.5Q134 126.7 209.7 62.7M44.7 164.2Q138.9 133.9 233.6 105.4M53.4 182.4Q132.8 112.1 237 131.9M39.9 144Q148.3 150.5 203.8 57.1M49.5 175.4Q152.9 145.9 182.5 42.6M54 183.4Q156.3 144.3 162 34.9M39.7 142.9Q146.5 149.7 211.8 65M40.9 150.3Q146.9 148.4 210.3 63.4M39.7 142.6Q145.8 149.3 214.4 68M59.6 191.4Q141 134.1 200.6 54.3M40.9 150Q148 149.2 205.9 59M44.6 163.9Q137.9 130.7 226 85.7M56.9 187.8Q139.6 132.9 206.8 59.8M46.9 169.7Q135.8 121.6 236.8 124.8M56.8 187.7Q136.5 129.1 213.6 67.1M41 150.7Q137.3 127.9 233.2 103.8M50.2 176.7Q156.4 145.2 159.9 34.5M46.4 168.6Q155.8 146.1 160.1 34.5M44.8 164.4Q148.5 146.2 202.3 55.7M53.4 182.5Q145.2 139.1 198.8 52.9M40.8 150Q148.3 149.4 204.7 57.8M63.6 196.3Q134.6 127.3 209.8 62.8M48.8 173.9Q137 128.2 234 106.8M51 178.3Q144.9 139.5 202.4 55.8M39.1 136.3Q138.3 132.9 234.3 108.1M41.6 153.4Q147.3 148 208.8 61.8M42.8 158.1Q136.4 125.7 232.4 101M40.8 149.6Q145.7 147.2 213.8 67.3M64.3 197.1Q149.8 139.4 176.7 39.9M39.6 142.2Q137.5 127.4 235.4 113.1M66.4 199.3Q139.6 132.9 215.6 69.5M49.9 176.2Q142.6 137.3 208.8 61.8M59.5 191.3Q136.8 129.6 209.9 62.9M39.1 134.7Q148.3 151.8 201 54.6M55.1 185.2Q134.6 125.9 219.9 75.3M48.5 173.3Q141.6 136.5 212.6 66M59.6 191.4Q135.6 128.1 212.3 65.6M66.9 199.9Q136.1 129.2 202.8 56.1M48.7 173.7Q147.9 143.3 198.8 52.9M56.9 187.8Q137.8 130.7 210.8 63.9M63 195.7Q142.5 136.2 213.1 66.5M40.3 147.1Q148.9 150.2 201.5 55M44.2 162.8Q151.9 148.1 188.5 45.8M39.2 137.9Q145.9 150.4 213.7 67.3M58.5 190Q141.2 134.4 201.5 55M39 133.5Q145.8 151.3 213 66.4M39 131.6Q146.1 151.8 211.2 64.3M57.4 188.4Q136.6 129.2 212.9 66.2M43.4 160.1Q145.2 143.7 211.2 64.3M65.7 198.7Q141 134.4 213.6 67M45.8 166.9Q146.6 143.6 205.1 58.2M43 158.7Q136.9 120 236.7 139.2M39.4 139.4Q146.8 150.7 209.8 62.9M41.5 152.9Q149.6 149.3 199.3 53.3M42.1 155.4Q147.4 147.6 208.2 61.1M39.8 143.8Q138.7 134 231.6 98.7M39.3 138.4Q147 151 208.9 61.9M58.7 190.2Q142.1 135.2 199.4 53.3M52.3 180.5Q138.6 131.9 214.5 68.2M39 130.3Q147.7 152.2 202 55.5M66.4 199.4Q133.7 126.6 208.4 61.4M57.1 188.1Q156.7 143.4 159.3 34.3M40 144.9Q148.3 150.3 204.1 57.3M47.5 171.1Q139.9 134.3 217.6 72.1M48.7 173.7Q148 143.4 198.6 52.7M47.6 171.3Q135.1 117.1 237 132.2M40.9 150.4Q151.3 149.9 189.1 46.2M42.1 155.7Q144.1 143.2 215.4 69.3M48.4 173.1Q144.4 139.9 206.7 59.7M42 155.3Q147.4 147.6 208.1 61.1M44.4 163.3Q155.4 145.7 154 33.3M40.4 147.5Q149.4 150.2 199.5 53.4M44.2 162.7Q143.4 140.7 214.2 67.7M46.9 169.9Q138.4 132 233 103.3M45.6 166.6Q149.5 146.5 198.6 52.7M39.9 144.2Q138.3 134.1 236.8 125.4M43.3 159.8Q154.7 144.8 148.1 32.5M39 133.2Q148.2 151.9 200.5 54.2M40.4 147.6Q147.9 149.6 206.5 59.5M40.2 146.5Q149.1 150.3 200.4 54.1M41.3 152.2Q149.1 149.3 201.7 55.2M62 194.4Q139.2 132.2 201.7 55.2M39 131.2Q137.9 127.9 236.7 123.1M40.3 147.3Q149 150.2 201.4 54.9M39.9 144Q142 142.8 223.6 81.2M40.9 150.3Q152.2 143 141.1 32M42.9 158.7Q145.7 144.6 210.8 63.9M62.1 194.6Q139.7 132.7 200.5 54.2M54 183.3Q142.5 136.4 204 57.2M39.3 138.3Q139.7 138.5 230.2 95M60.5 192.6Q131.2 116.4 235 111.1M54 183.3Q145 138.8 198.6 52.7M43.2 159.5Q136.8 122.2 237 134M62.1 194.5Q137.6 130.6 205 58.1M40.7 149.2Q144.2 145.2 217.2 71.6M39.1 136.3Q149.5 151.3 193.3 48.9M50 176.3Q141.7 136.3 210.5 63.6M46.2 168.1Q148.1 144.9 201.3 54.9M57.7 188.9Q136 128.5 213.6 67.1M65.3 198.2Q134 126.8 209.1 62.1M59.3 191.1Q142.1 135.1 198.7 52.8M63.9 196.6Q135.9 128.8 206.7 59.7M39 130Q144.6 151.2 217.3 71.8M39 132.9Q146.7 151.8 208.8 61.8M40.5 147.9Q146.2 148.4 213.1 66.5M62.9 195.5Q137.9 130.9 203.5 56.8M46.9 169.7Q140.3 135.1 217.5 72.1M60.7 192.8Q141.4 134.3 198.6 52.7M65.2 198.1Q133.8 126.5 209.6 62.7M63.7 196.4Q136.8 129.8 204.9 58.1M47.8 171.7Q143.8 139.5 208.7 61.7M57.3 188.4Q138.2 131.2 209.4 62.4M66.5 199.5Q137.1 130.1 201.1 54.7M67.9 200.9Q138.2 131.3 216.9 71.1M48.7 173.7Q144.1 139.5 206.9 59.9M46.9 169.9Q148 144.3 200.6 54.3M53.4 182.5Q145.3 139.2 198.6 52.7M39.4 140.1Q143.9 147.6 220 75.5M39 131.2Q148.2 152 199.4 53.3M44.7 164.2Q145.8 143.4 208.1 61.1M63 195.6Q135.4 128.2 208.7 61.7M66.4 199.4Q133.6 126.5 208.5 61.5M63.9 196.7Q137.9 130.9 202.3 55.7M64.9 197.7Q137.9 130.9 201.2 54.8M57.4 188.5Q138.2 131.3 209.2 62.2M61.9 194.3Q136.2 128.3 225.5 84.7M39 131.7Q147.6 152.1 203.4 56.7M67.1 200.1Q136.1 129.2 202.5 55.9M41.6 153.3Q153.8 146.7 159.4 34.3M39.4 139.7Q147 150.7 209.4 62.4M56.9 187.8Q141.5 134.9 202.7 56.1M41.3 152.1Q150.2 149.6 196 50.8M41.6 153.5Q148.5 148.8 203.9 57.1M64.2 197Q135.8 128.7 206.6 59.6M39.7 143Q138.2 133.9 236.9 127.2M46.4 168.5Q156.1 144 144.1 32.2M42.8 158.2Q146.6 145.9 208.9 61.9M67.2 200.2Q136.6 129.7 201.2 54.8M44.9 164.6Q142.6 139.2 215.1 68.9M40.8 149.9Q152 142.8 140.3 32M56.3 186.9Q132.3 116 236.2 118.1M67.2 200.2Q139.4 132.6 215.2 69.1M58.5 190Q137.6 130.6 209.1 62.2M40.9 150.1Q153.1 145.5 152.9 33.1M43.2 159.5Q147.8 146.9 205.8 58.9M57.4 188.4Q141.8 135.1 201.5 55M67.5 200.5Q134.1 127.1 206.4 59.4M67 200Q140.3 133.5 213.8 67.4M39 134.1Q147.5 151.8 205 58.2M39.9 144Q146.5 149.5 211.9 65.1M39.3 138.2Q148.5 151.4 201.2 54.8M39.4 140.2Q147.5 150.9 206.9 59.9M51 178.3Q140.1 134 212.8 66.1M65.3 198.2Q136.1 129.1 204.5 57.7M67.5 200.6Q154.7 140.6 162.6 35.1M47.4 170.8Q143 138.6 211 64.2M43.3 159.8Q148.6 147.4 203.5 56.7M45.7 166.8Q147.2 144.3 203.8 57.1M40.9 150.1Q147.9 149.1 206.6 59.7M63.1 195.8Q138.3 131.3 202.3 55.7M53.2 182Q140.2 133.9 210 63M39.1 134.2Q146 151.3 212.3 65.6M42.9 158.4Q142.6 140.3 217.7 72.3M66.3 199.3Q137.6 130.6 200.2 53.9M40.7 149.3Q147.2 148.9 209.1 62.1M39 133.5Q146.8 151.7 208.6 61.6M39.8 143.8Q146 149.2 213.6 67.1M40.4 147.7Q149.1 150.1 200.9 54.5M42.3 156.3Q138.8 134.7 235.2 112M40.5 148Q149.1 150.1 200.9 54.6M39.5 141.3Q147 150.4 209.4 62.4M41.2 152Q137.5 126 237 134M54.9 184.9Q141 134.6 206 59.1M42.1 155.7Q144.5 143.8 214.5 68.2M67.1 200.1Q142 135.3 210.5 63.6M56.4 187.1Q138.1 131.1 210.6 63.7M55 184.9Q139.6 133 209.1 62.1M39.4 140.2Q145.4 149.5 215.7 69.6M53.4 182.5Q134.3 121.6 235 111.4M39 130.2Q147.2 152.2 205 58.1M39.5 141.1Q145.8 149.6 214.3 67.9M58.4 189.8Q140.8 134 202.5 55.9M51.4 178.9Q139.5 134 227.9 89.6M39 131.7Q145.4 151.4 214.3 68M39.5 141.3Q149.6 141.6 139.2 32M49.2 174.8Q141.3 135.9 212.5 65.8M39.7 142.8Q141.4 141.9 225.2 84.1M40.5 148.2Q145.2 147 215.3 69.1M48.7 173.7Q141 135.6 213.8 67.4M66.7 199.6Q130 109.4 236.9 136.4M39.1 134.5Q148.5 151.8 199.4 53.3M60.7 192.9Q158.1 141.9 148 32.5M47.7 171.6Q146.3 142.2 203.4 56.7M62.1 194.6Q135.1 127.7 210.4 63.5M50 176.3Q146 141 201.3 54.8M39.3 139.2Q149.2 141.5 140.2 32M39 131.3Q145.8 151.7 212.5 65.8M65.1 198Q153.6 140.9 167.9 36.6M60.6 192.7Q139 132 203.8 57M54.9 184.8Q136.7 129.2 215.6 69.5M39.1 136.3Q143.6 148.3 221.5 77.7M53.2 182.2Q138.5 131.7 213.6 67.1M43 159Q147.6 146.8 206.5 59.5M40.4 147.7Q147.4 149.3 208.6 61.6M43.6 160.7Q148.7 147.3 202.7 56M41.5 153.2Q140 136.4 225.6 84.9M48.8 174Q139.1 132.9 217.7 72.2M56.4 187.1Q138.6 131.8 209.5 62.5M39.8 143.5Q139 135.1 230.8 96.6M40.4 147.6Q147 149.1 210 63M39.9 144.2Q151.4 143.8 147 32.4M39 130.3Q139.3 139.6 232.2 100.7M46.3 168.4Q144.3 140.7 209.4 62.4M42.2 156Q144.1 143.1 215.4 69.3M54.1 183.5Q144.5 138.3 199.5 53.4M46.4 168.6Q156 145.8 157.4 33.9M39.3 139Q146.1 150.4 212.8 66.1M65 197.9Q141.6 135.1 213 66.4M42.9 158.6Q148.2 147.4 205.1 58.2M58.5 190Q137.3 130.1 209.9 63M44.3 163.1Q148.8 146.8 202.2 55.7M44.4 163.4Q146.6 144.5 206.9 59.9M50.8 177.9Q144.5 139.1 203.5 56.8M40.2 146.6Q137.9 130.5 232.9 102.8M39.9 144.1Q137.9 127.6 236.7 138.8M39 133.9Q146.3 151.5 211 64.2M39 131.8Q144.7 150.9 217.3 71.8M39.1 134.9Q145.3 150.6 215.6 69.5M65.3 198.2Q141.7 135.1 212.7 66M46.3 168.2Q142.9 139 212.6 65.9M65.1 198Q141.7 135.1 212.8 66.1M39.3 139.2Q147 150.8 209.2 62.2M43 158.9Q136.9 121.8 236.9 135.3M42.1 155.6Q149.1 148.6 201.6 55.1M52.4 180.7Q138.6 131.9 214.4 68M42.2 155.9Q140.4 136.8 223.7 81.4M46.3 168.3Q140.9 136.2 216.9 71.2M65.4 198.3Q135 127.9 206.8 59.8M43.3 160Q144.7 143 212.5 65.8M54.1 183.5Q137.7 130.6 214.3 67.9" stroke="#CCE1F0" stroke-width="0.22" stroke-opacity="1.00"/>
<path d="M59.8 70.3Q139.5 139.7 191.8 47.9M51.9 82.2Q141 140.8 182.5 42.6M49.8 85.9Q141 139 174.8 39.1M64.6 64.6Q138.2 132.2 183.5 43.1M67.6 61.4Q138.4 134.7 191.9 47.9M47.5 90.8Q136.6 153.1 232.7 102.3M43.4 101.8Q144.7 148.9 189.7 46.6M50 85.6Q141.9 145 190 46.8M41.5 108.9Q146.1 148.8 185.3 44M39.9 118Q138.6 142.1 234.3 107.9M63.5 65.8Q136.5 125.5 169.7 37.2M40.8 112.2Q146.6 147.1 176.6 39.9M40.5 113.9Q146.5 151.4 194.2 49.5M40.9 111.9Q146.6 149.6 186.5 44.7M48.6 88.6Q142.2 143.4 183.3 43M41.5 109Q146 150 189.7 46.6M68.2 60.8Q135.8 149.5 222.1 78.8M63.6 65.7Q138.4 132.9 183.3 43M39.9 118Q142.5 152.3 222.3 79M39.1 125.7Q149 147.7 171.9 38M40.2 115.6Q142.1 135.8 139 32M40 117.1Q147.4 146.7 172.2 38.1M61.1 68.6Q138.3 132.4 179 40.9M40.8 112Q146.5 147.1 176.8 39.9M48.8 88Q141.4 139.9 174.9 39.1M62.2 67.3Q139.1 138.2 191.8 47.9M40.3 114.9Q147.1 149.5 184.7 43.7M67.8 61.2Q138.3 134 190.7 47.2M59.8 70.3Q138.4 132.7 177.5 40.2M62.1 67.4Q138.6 134 183.5 43.1M40.8 112.2Q146.6 150.1 188.5 45.8M68.1 60.9Q137.9 130.4 184.6 43.7M41.2 110.2Q145.6 144.3 168.5 36.8M53.3 79.7Q139.7 135.9 174 38.8M54.7 77.5Q139.8 136.9 178.3 40.6M48.8 88.1Q142.3 147.3 194.5 49.7M51.2 83.3Q140.4 137.5 173.8 38.7M54.2 78.3Q140.6 141.7 188.3 45.7M48.9 87.9Q141.9 142 180.1 41.4M46.9 92.4Q143.1 146.3 188 45.6M39.9 117.9Q147.4 146.1 169.7 37.2M41.5 109Q146 146.8 177.8 40.4M44.9 97.4Q142.8 140.9 169.1 37M41.5 108.8Q145.9 146.6 177.3 40.1M40.9 111.9Q146.3 145.9 172.6 38.3M48.8 88Q141.9 142 180.2 41.4M40.8 112.2Q137.9 131.9 237 134M62.1 67.5Q137.4 128.9 173.7 38.7M39.1 126.5Q148.9 150.8 187.4 45.2M54.8 77.3Q140.6 143.7 193.8 49.3M40.6 113.2Q146.6 146.5 174 38.8M41.5 109Q145.9 146.1 175.5 39.4M67.4 61.6Q131.2 153.3 235.3 112.9M47.4 91.1Q142.5 143.3 180.7 41.7M45.7 95.2Q136 141.7 237 131.7M42.2 105.9Q145.1 145 173.8 38.7M39.1 126.3Q149.2 149.5 179.8 41.3M44.2 99.4Q144.2 145.4 180.1 41.4M40.2 115.7Q147.2 150.2 187.7 45.4M54.7 77.5Q139.8 149.8 209.7 62.7M41.3 109.6Q146.1 146.9 177.7 40.3M39.8 118.1Q147.5 150.6 188.5 45.8M57.8 72.9Q137.5 129.4 168.2 36.7M49.9 85.9Q141.4 140.5 178.3 40.6M43 103.3Q144.5 143.9 172.5 38.2M67.8 61.2Q138 130.8 184.9 43.8M61 68.7Q139 136.5 186.8 44.9M44.1 99.7Q144.2 150.2 196 50.8M44.2 99.4Q144.3 148.4 189.6 46.5M61.9 67.7Q138.7 134.8 184.8 43.8M44.9 97.5Q143.7 144.7 179.5 41.1M49.9 85.8Q141.2 139.7 176.5 39.8M54.2 78.4Q139.8 136.8 177.2 40.1M62 67.6Q136.8 151.2 221.3 77.5M51.8 82.2Q140.7 139.4 179.2 41M48.6 88.5Q134.7 150 236.5 121.3M51.9 82.1Q141 140.8 182.5 42.6M39.4 122.3Q148.5 148.8 178.1 40.5M55.1 76.9Q133.7 153.3 235.1 111.7M51.2 83.3Q141 140.3 180.3 41.5M63.7 65.5Q135.4 152.1 225.9 85.4M39.9 117.8Q147.1 151.7 194.5 49.7M39.1 125.6Q148.4 151.4 191.6 47.8M47.3 91.3Q141.2 153.2 213.9 67.5M39.1 126.3Q149 150.2 183.6 43.2M41.4 109.4Q145.8 145.2 172.3 38.1M50.8 84.2Q141 139.6 177.8 40.4M43.1 103Q144.5 144.2 173.8 38.7M41.4 109.4Q144 153.6 211 64.2M40.8 112.1Q146.6 149.1 184.5 43.6M48.8 88.1Q142.3 144.8 187.5 45.2M39.4 122.3Q148 151.4 191.6 47.7M41.2 110.5Q140.3 151.9 228 89.7M47.5 91Q137 153.4 231.9 99.6M65.1 64Q138.3 132.9 185.4 44.1M42.1 106.4Q145.4 150.7 194.3 49.6M45.6 95.4Q143.6 147.7 190 46.7M41.6 108.6Q141.3 153.3 223.8 81.6M67.7 61.3Q137.2 126.7 177.8 40.3M47.6 90.6Q142 140.8 174.8 39.1M54.1 78.4Q140.4 140.1 184.5 43.6M64.7 64.4Q138.7 135.7 190.2 46.9M45.9 94.6Q143 143.1 177.4 40.2M39.9 117.7Q147.3 151.2 191.9 48M49.9 85.8Q141.9 144.3 188 45.6M63.5 65.8Q138.4 132.9 183.2 42.9M44.9 97.3Q143.7 145 180.4 41.6M68.1 60.9Q133.5 152.4 230.3 95.2M61.9 67.7Q132.1 153.5 235.3 112.9M39.9 117.6Q147.5 150.4 187.5 45.3M55 77Q140.2 139.7 185.2 44M54.6 77.6Q140.3 139.8 184.6 43.7M39.2 125.5Q148.9 146.9 168.4 36.8M55 77.1Q140.4 141.2 188.4 45.8M40 117.3Q147.6 148.2 178.2 40.5M56.3 75.2Q140.2 141.7 191.4 47.6M54.8 77.4Q139.5 135.8 176 39.6M68.1 60.9Q137.3 127.2 179.1 40.9M49.9 85.9Q141.9 145 189.8 46.7M61.6 68Q135 153.3 228.4 90.7M47.6 90.6Q142.1 141.2 175.7 39.5M41.6 108.4Q145.8 150.1 190.7 47.2M55.9 75.6Q139.3 135.4 177.1 40.1M60.9 68.9Q138 131 176 39.6M59.8 70.2Q138.9 135.1 182.5 42.5M54.6 77.6Q140.5 141.5 188.6 45.9M51.3 83.3Q139.9 136 170.5 37.5M50.7 84.4Q141.7 146 193.7 49.2M41.2 110.3Q137.8 132.2 236.9 135.4M58.5 72Q138 131 172.3 38.1M40 116.8Q147.2 151 191.3 47.6M64.9 64.2Q138.7 135.9 190.7 47.2M46 94.6Q135.8 143.8 237 128M41.1 110.6Q146.2 146.3 174.9 39.1M50.1 85.5Q140.7 138 172.9 38.4M39.1 126.8Q148.9 150.8 187 45M42.1 106.6Q145.6 147 179.9 41.3M42.1 106.3Q145.5 150.1 191.8 47.9M51.2 83.3Q140.4 137.6 174 38.8M40.2 115.7Q147.3 149.6 184.9 43.8M58.5 72Q139.7 139.5 189.5 46.5M45 97.1Q140.6 154.2 221.2 77.3M59.9 70.1Q137.6 129.6 171.9 38M47.4 91.1Q141.9 140.2 172.9 38.4M39.9 117.7Q147.6 148.1 177.3 40.1M47.5 90.8Q141.8 140 172.5 38.2M44.7 97.9Q138.4 153.2 230.1 94.6M50.8 84.2Q134.6 152.2 235.6 114.2M41.6 108.5Q145.9 146.8 178.2 40.5M53.4 79.6Q139.3 152.1 215.9 69.9M41.4 109.4Q146.1 148.4 183.4 43M68.3 60.7Q138 131.3 186.4 44.7M55 77Q133.4 152.9 235.7 115M45 97.1Q143.9 147.3 187.5 45.3M39.7 119.4Q147.2 151.9 195.9 50.7M63.4 65.9Q138.8 136.6 190.3 46.9M46.5 93.2Q135.8 141.1 236.9 135M39.2 125Q138.1 128.1 237 128.8M61 68.7Q139.2 137.8 189.4 46.4M67.7 61.3Q138.3 133.4 189.6 46.5M62.8 66.6Q136.8 150.6 220.5 76.2M56.3 75.1Q139.9 139 185.3 44M56.5 74.8Q138 131.1 169.3 37.1M44.9 97.4Q143.5 143.3 175.5 39.4M64.9 64.2Q137.4 128.2 176.7 39.9M41.2 110.3Q146.3 149 184.9 43.8M44.7 97.9Q143.7 144.1 177.5 40.2M56.4 75Q140.2 141.8 191.7 47.8M50 85.7Q141.9 146.7 194.5 49.7M46.9 92.2Q143 148.2 193.9 49.3M50.6 84.6Q141.1 139.9 178.1 40.5M39.8 118.1Q147.7 147.6 175.1 39.2M44.8 97.7Q143.7 144.1 177.7 40.3M41.6 108.4Q145.9 147.1 179.2 41M48.5 88.7Q141.7 140.7 176.2 39.7M39.3 122.9Q148.2 151.2 190.2 46.9M63.3 66Q137.5 129 175.7 39.5M39.1 126.5Q149.2 148.6 175.7 39.4M40.1 116.6Q147.4 149.7 185 43.9M55.1 76.9Q130.5 117 139.2 32M40.8 112.1Q146 144.6 168.3 36.8M48.6 88.5Q141.3 139.2 172.7 38.3M46.4 93.4Q143.3 147.3 190.2 46.9M50 85.6Q141.8 143.9 187 45M68.5 60.5Q136.3 123.2 172.8 38.3M54.2 78.4Q140.7 143.1 191.6 47.8M65.1 64Q132.6 115.4 154.5 33.4M54.9 77.1Q137 153.9 225.6 84.9M39.9 118Q147.7 149.5 183.2 42.9M68.5 60.5Q133 114.2 157.7 34M67.8 61.2Q136.6 124.4 173.8 38.7M63.3 66Q136.6 125.7 169.7 37.2M67.5 61.5Q134.3 151.9 228 89.8M61.7 68Q139.1 137.6 190 46.8M60.6 69.3Q136.8 127 168 36.6M65 64.2Q138.6 135.4 190 46.7M50.3 85.2Q141.7 143.9 187.4 45.2M48.8 88.1Q141.3 139.4 173.7 38.7M50.7 84.3Q135.2 153.1 234.2 107.7M39.1 125.8Q148.5 151.3 190.7 47.2M43.4 101.7Q144.7 149.3 191.4 47.6M54.1 78.4Q140.7 144.9 195.9 50.7M64.4 64.8Q138.4 133.2 185.1 43.9M48.7 88.2Q141.3 139.4 173.5 38.6M40.2 115.8Q147 150.9 190.9 47.3M62.4 67Q138.7 134.4 184.7 43.7M40.9 111.9Q141.2 152.5 225.2 84.1M50.3 85Q141.8 145.1 190.6 47.1M50.7 84.3Q140.9 139.2 176.8 39.9M57.9 72.8Q139.8 141 192.1 48.1M39.1 126.2Q149.2 149.1 177.8 40.4M40.2 115.4Q146.8 145.6 169.4 37.1M41.6 108.3Q137.9 146.1 234.6 109.5M60.7 69.1Q138 131 175.7 39.5M64.9 64.2Q138.4 133.8 186.7 44.8M41.2 110.2Q146.1 146.5 176 39.6M59.8 70.2Q131.3 151.9 236.9 127.1M46.4 93.4Q139.3 154.3 224.7 83.2M39.4 122.4Q140.2 146.5 230.1 94.7M41.4 109.4Q145.8 145.4 172.9 38.3M64.9 64.2Q136.6 125.4 171.6 37.9M39.3 123.9Q148.8 148.5 176.2 39.7M50.8 84.2Q140.9 139.4 177.4 40.2M62.1 67.4Q138 131.1 178.1 40.5M54.1 78.4Q134.7 124 150.9 32.8M59.9 70.2Q138.5 133 178.3 40.6M67.4 61.6Q136.3 123.5 171.8 38M63.7 65.5Q138.8 137 191.3 47.6M46.5 93.3Q142.7 142.4 176.6 39.8M41.6 108.3Q145.9 149.5 188.3 45.7M40 117Q147.5 148.5 179.5 41.1M39.3 123Q148.6 148.5 176.5 39.8M42.3 105.8Q145.1 144.9 173.7 38.7M48.7 88.2Q138.5 154.4 225.2 84.1M56.3 75Q139 134.3 175.6 39.4M60.9 68.9Q139.3 138.9 191.6 47.8M50 85.7Q141.5 141.4 180.6 41.7M40.9 111.8Q146.6 148.8 183.5 43.1M39.4 122.5Q148.4 147.4 172.2 38.1M50 85.7Q141.8 143.9 187 45M40.5 114Q146.9 147.2 176.2 39.7M40.9 111.8Q144.3 140.3 155.1 33.5M41.4 109.4Q145.9 146.1 175 39.2M44.8 97.5Q143.3 142.7 173.9 38.7M44.2 99.4Q143.8 143.6 174.6 39M39.1 125.9Q148.3 151.7 193.6 49.1M39.9 117.4Q147.1 151.5 193.9 49.3M67.6 61.4Q138.4 134.2 190.8 47.2M50.3 85Q140.4 137 171 37.7M54.9 77.2Q139.6 136.1 177 40M39.4 122.6Q148.5 149.1 179.6 41.2M63.6 65.7Q136.6 125.8 170.3 37.4M43.5 101.6Q142.6 139.1 160.4 34.6M59.7 70.4Q138.2 131.8 175.8 39.5M56.3 75Q140 140 187.7 45.4M63.7 65.6Q137.4 128.3 175.1 39.2M42.1 106.4Q145.6 148.3 184.7 43.7M63.8 65.5Q138.3 132.9 183.6 43.1M40.1 116Q147.2 150.2 187.5 45.3M65.1 64.1Q138.4 133.5 186.5 44.7M44.7 97.9Q143.8 144.7 179.2 41M60.7 69.2Q138.5 133.2 180 41.4M50.5 84.6Q140.4 137.2 171.8 37.9M40.1 116.6Q147.3 146.7 172.7 38.3M63.6 65.7Q138.9 138.6 194.3 49.6M40.1 116Q146.9 151.4 193.6 49.1M45.7 95.1Q143.1 143.3 177.4 40.2M60.7 69.1Q139.1 136.7 186.9 44.9M47.5 90.9Q141.9 152 208.4 61.4M57.2 73.8Q131.6 149.9 236.9 135.1M41.1 110.7Q145.1 142.5 162.5 35.1M43 103.2Q144.8 145.8 178.4 40.6M48.9 87.9Q141 138.4 171.5 37.8M55 77.1Q134.3 153.8 233.8 106.2M40 116.7Q147.3 146.6 172.3 38.1M56.4 75Q138.1 131.2 169.4 37.1M39.9 117.4Q144.4 139.1 147 32.4M54.1 78.5Q139.7 136.2 175.8 39.5M60.7 69.1Q139.4 140 193.7 49.2M44.8 97.7Q142.8 140.8 168.4 36.8M67.5 61.5Q138.2 132.5 187.6 45.3M48.9 87.9Q137.1 154.1 230.2 94.8M62.4 67.1Q138.3 132.2 180.4 41.5M54.7 77.6Q139.6 150.2 211 64.1M39.2 125.5Q149.1 148.7 176.4 39.7M47.4 91Q142.3 141.9 177.2 40.1M62.1 67.5Q139.1 138.1 191.4 47.7M62.1 67.5Q139.2 139.9 195.1 50.2M60.7 69.1Q137.9 130.6 175 39.2M59.9 70.1Q132 153.1 236.1 117.5M40.2 115.8Q147.3 149.3 183.4 43M64.5 64.7Q137.7 129.4 178.2 40.5M41.5 108.7Q137.7 144.1 235.4 113.1M39.2 125.5Q149 149.4 180 41.3M42 106.7Q145.5 146.2 177.4 40.2M60.9 68.9Q137.4 129 172.3 38.1M40.2 115.5Q146 142.8 160.1 34.5M44.9 97.2Q143.7 144.5 179.2 41M59.8 70.3Q139.5 139.6 191.6 47.8M67.4 61.6Q138 131 184.8 43.8M67.5 61.5Q138.1 131.9 186.6 44.8M67.7 61.3Q137.3 146.4 214.7 68.4M58.5 72.1Q136.9 152.7 223.1 80.4M42.1 106.4Q145.4 150.6 193.9 49.3M44 99.9Q144.4 149 191.4 47.7M39.4 122.5Q148.5 148.4 176.3 39.7M51.9 82.2Q141.3 143.9 190.2 46.8M60.8 69Q138.1 131.5 177 40M41.1 110.6Q146.4 149 184.8 43.8M44.8 97.5Q136.5 138.2 236.9 136.3M40.8 112.1Q146.3 151.2 193.8 49.2M65.3 63.8Q138.7 137.3 193.9 49.3M48.8 88.1Q141.5 139.9 174.9 39.1M47.3 91.3Q141.9 140.1 172.4 38.2M57.9 72.8Q139.8 140.4 190.7 47.2M50.7 84.3Q140.8 138.9 176.2 39.7M41.6 108.5Q145.3 144.1 169.2 37M65.2 63.9Q137.6 129 178.4 40.6M54 78.5Q140.7 142.3 189.5 46.5M50.3 85.1Q141.7 144 187.7 45.4M47.2 91.4Q142.8 144.8 184.7 43.7M59.8 70.3Q139.4 138.9 190.1 46.8M68.4 60.5Q137.7 128.9 182.4 42.5M40.3 114.9Q147.2 148.5 180.7 41.7M45 97.1Q142.8 140.8 169.1 37M51.8 82.3Q141.1 141.3 183.7 43.2M40.6 113.1Q146.8 147.5 177.8 40.3M39.9 118Q147.7 147.9 176.7 39.9M41.1 110.6Q146.1 151 193.8 49.2M48.9 87.9Q142.2 143.8 184.8 43.7M46.5 93.1Q143.1 145.6 185.4 44.1M44.9 97.3Q138.3 153.2 230.2 95M61 68.8Q133.7 119.5 154.9 33.5M44.1 99.5Q144.3 147.9 187.8 45.4M65.3 63.8Q137.4 147.7 215.5 69.3M68.3 60.7Q136.2 122.8 171.9 38M63.4 65.9Q136.8 126.3 171.1 37.7M39.8 118.1Q147.5 150.6 188.7 46M44.7 97.9Q140.2 134.6 152.4 33.1M50.7 84.4Q140.4 137.5 172.7 38.3M50.6 84.5Q133.9 150.3 236.7 123.7M65.3 63.8Q137.4 128.3 177.3 40.1M39.1 125.6Q148.9 146.8 168 36.7M39.1 126.7Q148.9 150.8 187.5 45.3M45.8 95Q142.9 142.2 174.6 39M41.6 108.5Q145.6 145.2 172.6 38.2M39.9 117.8Q147.7 149.5 183.2 42.9M47.2 91.5Q142.8 144.9 185 43.9M41.7 108.2Q145.9 148.6 184.7 43.7M62.8 66.6Q138.8 135.7 187.7 45.4M42.2 106.1Q145.5 148.2 184.7 43.7M61.6 68.1Q136.6 126.2 168.1 36.7M39.4 122.6Q148.5 149.5 181.3 42M48.6 88.5Q141 138.2 170.5 37.5M48.7 88.3Q139.1 154.2 222.8 79.9M41.5 109Q145.8 145.6 173.7 38.7M60.8 69.1Q138.6 133.5 180.7 41.7M68.4 60.6Q138.1 131.9 187.7 45.4M63.8 65.5Q138.9 139.3 196 50.7M62 67.5Q139.1 138.1 191.5 47.7M67.8 61.2Q137.6 128.5 181 41.8M58.6 71.9Q139.7 141.4 193.8 49.2M39.2 125.1Q148.9 149.6 180.8 41.7M64.5 64.6Q135.1 121.1 163.5 35.4M68.2 60.8Q131.8 153.2 234.1 107.2M47.2 91.4Q141 153.4 215 68.8M40.6 113Q146.8 148.3 181 41.8M62.4 67.1Q138.8 135.8 187.4 45.2M62.1 67.4Q138.3 132.5 180.6 41.6M43.4 101.7Q143.9 142.8 170.6 37.5M54.7 77.5Q139 134.1 172.5 38.2M68.1 60.9Q138.4 135.9 194.6 49.8M61.1 68.6Q137.7 129.7 173.9 38.7M39.8 118.1Q147.4 146.1 169.4 37.1M68.3 60.7Q138.4 135.4 193.9 49.3M43.4 101.7Q144.6 145.7 179.2 41M39.1 125.6Q147 152.5 203.8 57M40 117.3Q140.7 150.4 228.4 90.7M40.3 115Q147 146.8 173.9 38.7M60.8 69Q137.9 130.5 174.9 39.1M41.4 109.5Q145.9 150.9 193.6 49.1M51.9 82.2Q141.2 143.2 188.3 45.7M40 117.3Q146.9 151.9 195.9 50.7M47.3 91.2Q135.2 146.2 236.9 126.7M48.7 88.3Q142.4 145.9 190.1 46.8M61.6 68Q136.3 152 223.7 81.5M42.2 105.9Q143.7 140.5 160.7 34.6M55 77Q140.3 140.6 187 45M57.9 72.9Q139.1 135.4 180.3 41.5M49.9 85.8Q141.9 146.5 193.9 49.3M64.4 64.8Q138.8 137.8 193.9 49.3M44.7 97.9Q137.1 151.2 233.9 106.6M61.6 68Q137.7 129.8 174.8 39.1M45 97Q143.9 148.1 190.2 46.9M39.1 126.7Q137.8 133.8 236.2 143.7M49.9 85.8Q141.8 143.9 186.9 44.9M58.5 72Q139.8 141.8 194.5 49.7M47.3 91.3Q142.8 145.5 186.7 44.8M40.9 111.8Q146.5 147.7 179.4 41M40 117Q147.1 151.4 193.3 48.9M65.2 63.9Q138.1 131.8 183.4 43M53.4 79.5Q140.3 138.9 180.7 41.7M63.6 65.7Q136.2 124.6 168.3 36.7M47.6 90.7Q142.6 144.1 183.2 42.9M64.4 64.8Q131.6 153.5 235.4 113.1M47.3 91.2Q141.8 140 172.1 38.1M45.8 95Q136 140.8 237 133.8M47.4 91Q142.2 141.6 176.6 39.8M44.9 97.2Q143.7 144.8 180 41.4M55.9 75.7Q138.6 132.9 171.9 38M50.3 85Q135.6 126.5 148 32.5M44 100.1Q142.8 140 164.3 35.6M39.1 125.6Q148.8 150.7 186.7 44.8M39.2 125Q148.6 150.8 187.6 45.3M41.6 108.4Q142.1 153.7 220.5 76.3M41.2 110.3Q146.2 150.2 190.2 46.9M45.9 94.6Q143.3 145.2 183.2 42.9M62.2 67.3Q137.2 127.9 172.2 38.1M67.6 61.4Q138.1 142.6 206.8 59.8M44 100Q144.3 149.7 193.9 49.3M54.3 78.2Q140.4 140.1 184.7 43.7M60.8 69.1Q137.2 151 219.8 75.2M53.4 79.5Q139.4 134.9 172 38M48.7 88.2Q141.1 138.7 171.7 37.9M62.1 67.4Q139.1 139.2 193.7 49.2M64.4 64.8Q133.3 117.2 156.5 33.7M41.5 109Q146 147.3 179.5 41.1M55 77Q139.4 135.4 175.8 39.5M48.6 88.5Q141.3 139 172.4 38.2M64.3 64.9Q137.4 128.5 176.2 39.7M39.1 126.7Q149 150.4 184.8 43.8M68 61Q136 122.3 170.6 37.5M40.2 115.9Q147.1 146.3 171.6 37.9M40.5 113.9Q146.6 145.6 170.4 37.4M67.7 61.3Q137.4 127.7 179.5 41.1M44.9 97.4Q143.2 142.1 172.2 38.1M63.3 66Q137.4 128.4 174.7 39.1M61.8 67.8Q130.6 151.7 237 130.3M48.8 88.1Q141.7 141 177.5 40.2M62.3 67.2Q137.6 129.3 174.9 39.1M40 116.9Q147.2 151 191.2 47.5M44.1 99.7Q144.2 150.2 195.9 50.7M64.8 64.3Q138.3 132.8 184.9 43.8M64.6 64.6Q137.3 127.9 175.5 39.4M39.1 126.8Q149.3 149.4 179.1 40.9M54.7 77.5Q140.3 139.8 184.9 43.8M64.4 64.7Q137.7 129.5 178.2 40.5M48.6 88.5Q142.4 147.1 193.5 49M58.4 72.1Q131.4 151 237 130.9M64.4 64.7Q138.6 134.6 187.6 45.3M50.1 85.4Q141.8 143.8 187 45M48.7 88.2Q142.3 146.5 192.1 48.1M62.4 67Q139.1 138.8 193.3 48.9M40.6 113.3Q146.5 145.8 171.6 37.9M39.9 117.4Q147.3 145.9 169.2 37M40.8 112.3Q146.6 147.4 177.7 40.3M39.3 122.7Q137.4 136.8 236.4 141.6M39.7 119.4Q147.6 151.1 190.8 47.3M65.3 63.8Q138.4 133.5 186.8 44.9M67.9 61.1Q138.5 136.8 196 50.8M40 117Q147.5 147.7 176.1 39.6M63.7 65.6Q137.4 128.6 175.6 39.4M59.9 70.2Q138.4 132.5 177.4 40.2M39.2 125.5Q148.7 150.9 188 45.5M44.8 97.5Q143.8 145.3 181.3 42M67.4 61.6Q132 153.3 234 106.6M53.3 79.7Q140.9 144.3 193.3 48.9M64.6 64.6Q137.3 128.1 175.9 39.5M39.1 126.2Q149.1 149.6 180.4 41.5M59.9 70.2Q139.5 141.6 196 50.8M56 75.5Q140.3 142.7 193.3 48.9M42.1 106.3Q145.2 145 173.9 38.7M44.8 97.6Q144 147.7 188.5 45.8M51.9 82.1Q140.4 150.9 209.8 62.8M54.8 77.4Q140.4 141.4 188.5 45.8M58.5 72Q139.5 138 186.4 44.7M50.1 85.4Q135.8 153.5 233 103M40.1 116.6Q147.2 146.6 172.1 38.1M60.8 69Q139.3 140 193.7 49.2M44.7 98Q143.3 142.4 172.4 38.2M39.2 125Q148.9 149.7 181.4 42M61.7 67.9Q138.4 132.7 180.5 41.6M47.5 91Q142.6 144.1 183.1 42.9M48.8 88.1Q142.3 147.3 194.5 49.7M45.7 95.3Q143.3 144.1 179.5 41.1M68.3 60.7Q138.2 132.9 189.5 46.4M50.7 84.4Q140.4 137.3 172.3 38.1M39.8 118.3Q147.5 151 190.3 46.9M48.8 88Q136.1 153.1 233.3 104.2M51.8 82.3Q139.9 136.1 171.8 37.9M40.8 112.1Q146.5 146.8 175.9 39.5M54.7 77.6Q140.3 139.8 184.8 43.8M45 97.1Q142 153.6 213.7 67.2M55.9 75.8Q140.2 140.6 188.3 45.8M39.8 118.2Q147.5 150.9 190.1 46.8M40.7 112.9Q146.5 145.9 171.9 38M50.7 84.3Q141.6 143.9 188.3 45.7M58.6 71.9Q137.2 128.7 167.9 36.6M62.9 66.4Q137.1 127.5 172.5 38.2M58.5 71.9Q138.4 132.6 175.5 39.4M54.2 78.3Q140.6 141.6 188.1 45.6M40.6 113Q146.6 150.5 190.1 46.8M63.7 65.6Q138 131 180 41.3M61.8 67.8Q137.5 129.1 173.9 38.7M50.2 85.3Q141.4 141 180.2 41.4M41.5 108.8Q145.7 151.1 194.7 49.8M41.6 108.7Q145.8 150.8 193.7 49.1M40.6 113.1Q146.8 148.3 180.7 41.7M45 97.1Q143.9 148.1 190.1 46.8M61.7 68Q133.6 119 155.3 33.5M59.9 70.1Q137 127.7 168.2 36.7M41.1 110.6Q146 145.4 172.2 38.1M47.3 91.4Q142.9 147.1 191.1 47.5M45.8 95Q143.5 146.5 186.7 44.8M42 106.7Q145 144 170.4 37.4M50 85.6Q141.9 145.3 190.7 47.2M59.9 70.1Q138.9 147.4 209.3 62.3M58.6 71.9Q139.7 141.6 194.3 49.6M44 100Q144.4 148.5 189.6 46.5M63.8 65.4Q137.8 147.5 213.5 67M44.9 97.2Q143.6 144 177.6 40.3M56.3 75.1Q139.8 138.1 183.5 43.1M40.9 111.7Q146.3 146.1 173.4 38.6M63.2 66.1Q138.1 131.5 180.3 41.5M57.1 73.9Q138.7 133.4 175 39.2M54 78.6Q132.6 149.9 237 130.8M39.1 126.8Q148.7 151.3 190.9 47.3M62.2 67.4Q136.7 126.4 169.3 37.1M62.9 66.5Q137.6 129.5 176.1 39.6M44.7 97.8Q143.9 149.5 194.6 49.8M58.5 72.1Q139.6 139 188.4 45.8M67.5 61.5Q138.4 134.1 190.6 47.1M60 70Q137.6 129.7 172.1 38.1M45.7 95.2Q143.5 145.9 184.6 43.7M40.6 113.1Q146.4 151.4 194.4 49.7M41.6 108.5Q142.3 137.1 148.8 32.6M64.6 64.5Q138.3 132.9 184.8 43.8M61.7 67.9Q138.1 131.3 177.7 40.3M44.8 97.7Q143.3 142.3 172.5 38.2M61.6 68.1Q138.8 135.3 185.3 44M50 85.7Q141.9 145.1 190.1 46.8M39.3 124Q148.8 149.4 180.5 41.6M40.2 115.7Q147 150.9 191 47.4M44.8 97.5Q143.9 149.2 193.8 49.2M54.9 77.3Q140.5 142.5 191.2 47.5M41.2 110.1Q146.2 147.7 180.4 41.5M62 67.6Q136.5 125.8 168 36.6M43 103.2Q145 148.3 186.7 44.8M67.6 61.4Q137.8 129.8 183.1 42.9M61.9 67.6Q136.5 151.5 222.4 79.2M54.8 77.3Q140.1 138.9 183.1 42.9M51.8 82.3Q141.2 142 185.4 44.1M48.5 88.6Q142 141.9 179.2 41M41.7 108.1Q138 146.8 234.3 108.2M42.2 106Q145.5 147.9 183.6 43.1M64.5 64.7Q138.3 133 184.7 43.7M47.4 91.1Q142.5 143 180 41.4M44 100Q143.9 143.7 174.6 39M46.9 92.3Q141.7 139.1 169 37M54.6 77.6Q140.6 144 194.5 49.7M56.2 75.2Q132.6 152.2 236.5 121.4M46.4 93.4Q142.9 143.4 179.1 41M39.4 122.4Q147.6 152 196 50.8M65 64.1Q137.1 127.1 174.8 39.1M47.3 91.4Q139.9 134.6 159.1 34.3M46.4 93.4Q143.3 147.3 190.2 46.9M46.9 92.2Q135.9 151.3 235.1 111.6M49.9 85.8Q140.1 153 215.7 69.7M50 85.7Q141.4 140.8 179.2 41M49.9 85.9Q141.6 142.2 182.5 42.5M41.7 108.1Q145.8 150.3 191.7 47.8M63.7 65.6Q138.7 135.3 188.1 45.6M39.2 124Q148.8 148.2 174.8 39.1M42.1 106.3Q137.8 132 236.6 139.8M45.7 95.3Q143.6 148 191.1 47.4M43 103.3Q145 148.2 186.5 44.7M43 103.2Q143.3 140.2 162 35M55.9 75.7Q140.1 140.3 187.7 45.4M55 77Q140.2 139.7 185 43.9M45.7 95.2Q143.5 146.1 185.3 44M57.2 73.9Q139.6 147.6 206.7 59.7M62.8 66.6Q138.2 131.9 180.5 41.6M68.3 60.7Q132 153.2 233.7 105.6M50.1 85.4Q141.9 146.3 193.7 49.2M41.5 108.8Q146 149.7 188.6 45.9M39.1 126.7Q149.2 149.7 180.8 41.7M54.3 78.2Q140.7 144.8 195.8 50.7M67.9 61.1Q137.3 126.9 178.4 40.6M64.8 64.4Q137.8 129.8 179.2 41M60.8 69Q138.5 133.4 180.5 41.6M41.7 108.2Q141.1 135.2 144 32.2M55.1 77Q136.7 127.8 160.1 34.5M40.7 113Q137.9 141.3 235.6 114.4M42.5 105.1Q145 145.1 174.9 39.1M62 67.6Q137.2 127.9 171.8 38M48.5 88.7Q141.8 141.2 177.6 40.2M41.4 109.2Q146 146.9 177.9 40.4M54.3 78.1Q140.4 140.2 185 43.9M56 75.6Q139.8 137.8 182.4 42.5M67.8 61.2Q138.1 131.7 186.7 44.8M63.4 65.9Q137.6 129.1 176.1 39.6M47.6 90.7Q142.8 147 191.5 47.7M39.9 117.4Q147.1 151.5 193.7 49.1M46.4 93.3Q138.8 132.3 151.6 32.9M39.4 122.6Q148.5 148.1 175.1 39.2M57.9 72.9Q139.8 140.9 191.9 48M39.4 122.5Q148.5 148.2 175.6 39.4M42.1 106.3Q145.6 147.7 182.6 42.6M48.8 88.1Q140.7 137.2 168.3 36.8M64.4 64.8Q138.4 133.1 184.8 43.7M48.9 87.9Q141.7 141.2 178.2 40.5M41.1 110.7Q146 145.3 171.6 37.9M39.2 125.3Q148.8 150.4 184.9 43.8M47.5 91Q142.7 144.8 185 43.9M59.8 70.3Q137.8 130.2 172.8 38.3M44.9 97.4Q136.8 129.3 140.1 32M56.3 75.1Q139.8 138 183.4 43M39.9 117.3Q147.2 145.6 168.2 36.7M39.2 125.3Q149 148.3 174.7 39M63.7 65.5Q130 151.5 237 133.1M50.5 84.6Q141.3 141 180.8 41.7M64.4 64.8Q129.6 150.4 236.6 139.7M41.2 110.2Q146.3 149.1 185.5 44.2M45 97.2Q143.9 148.7 192.1 48.1M45.9 94.6Q143.3 144.9 182.4 42.5M39.1 125.9Q148.8 150.7 186.6 44.7M46.9 92.2Q138.4 131.8 151.5 32.9M60.6 69.3Q139.2 137.7 188.7 45.9M44.1 99.7Q144.4 148.1 188.6 45.9M61.9 67.7Q138.3 132.3 179.9 41.3M40.2 115.4Q146.8 151.5 194.3 49.6M47.4 91Q142.8 147.2 191.9 47.9M44.8 97.5Q142.2 153.5 213.1 66.5M40.8 112.4Q146.3 151.4 194.6 49.8M68 61Q137.8 129.8 183.5 43.1M56.4 75Q140.1 145.1 199.3 53.3M39.2 125.4Q148.5 151.3 190.6 47.1M46.4 93.5Q142.6 141.7 174.6 39M39.9 117.4Q147.5 149.9 185.4 44.1M41.4 109.2Q145.4 143.9 168.2 36.7M58.5 72.1Q138.9 134.5 179.2 41M46.5 93.2Q143.2 147.4 190.7 47.2M60.7 69.2Q138.3 148.6 213.1 66.4M42.3 105.8Q137.5 146.1 235.2 112.1M39.1 125.6Q148.7 150.8 187.6 45.3M40.6 113.3Q146.8 149.9 187.1 45M40.2 115.8Q146.4 144 163.6 35.4M39.9 117.8Q147.6 149.5 183.3 43M62.8 66.6Q137.5 129 175.1 39.2M39.1 125.7Q149.1 149.3 179.3 41M57.9 72.8Q139.9 141.6 193.4 49M50.3 85.1Q140.9 139 175.6 39.4M40.8 112.3Q146.4 145.8 172.1 38.1M48.9 87.9Q142.3 145.2 188.6 45.9M41.1 110.7Q146.3 147.5 179.3 41M42.2 105.9Q144.4 152.7 204.7 57.8M42.2 106Q145.5 148.8 186.7 44.8M43 103.3Q144.6 144.7 175 39.2M61.8 67.8Q138.3 132.1 179.5 41.1M42.1 106.3Q145.3 145.4 175.1 39.2M41.5 109Q146 149.8 189.1 46.2M47.5 90.9Q142.4 142.6 179.3 41M39.1 126.7Q149.3 148.7 176 39.6M68.3 60.7Q131.5 111.2 152.5 33.1M44.8 97.6Q142.8 140.8 168.5 36.8M67.3 61.7Q135.8 122.1 169.2 37.1M40.8 112.2Q146.5 150.4 189.8 46.7M46.9 92.3Q142.7 143.2 179.4 41.1M45.7 95.3Q143.2 143.4 177.5 40.2M41.5 108.8Q145.7 145.5 173.4 38.6M46.4 93.4Q143.2 149 195.9 50.7M67.5 61.5Q129 151.2 236.8 137.4M44 99.8Q143.3 141.5 168.4 36.8M54.8 77.3Q140 138.2 181.3 42M55.1 77Q140.5 142.2 190.8 47.2M41.5 108.9Q145.9 150.5 192.2 48.1M42.2 106.1Q144.4 152.7 204.7 57.9M41.3 109.7Q146.2 149.3 186.8 44.9M50.7 84.4Q140.8 139 176.2 39.7M41.1 110.9Q146.4 149.1 185.1 43.9M65.3 63.8Q138.6 142.4 203.9 57.1M51.9 82.2Q140.2 137.1 174 38.8M39.2 125.5Q148.2 151.7 193.9 49.3M39.3 122.9Q148.5 150.2 184.9 43.8M68 61Q136.9 125.5 176 39.6M39.3 122.9Q148.5 147.4 172 38M47.3 91.2Q138.1 154.1 228.2 90.3M45.8 95.1Q136.7 151.7 234 106.9M40.9 111.9Q144.4 153.5 210.6 63.7M42.5 105.1Q145.4 148.9 187.7 45.4M40 116.7Q147.4 147.2 174.6 39M50.7 84.4Q140.8 138.7 175.6 39.4M68.4 60.6Q137.7 129.2 183 42.8M60.7 69.1Q137.4 128.9 171.8 38M39.4 122.6Q148 151.4 191.9 48M39.2 124.1Q148.7 147.2 170.4 37.4M56.4 75Q136.8 153.5 225.1 83.9M47.4 91.1Q142.8 147.7 193.4 48.9M45.7 95.2Q143.6 147.7 190.3 46.9M57.2 73.9Q139.7 138.4 185.4 44.1M40 116.6Q147.2 150.8 190.2 46.9M39.1 126.3Q148.6 151.3 190.7 47.2M40.2 115.6Q143.4 153.2 217.6 72.2M39.1 126.5Q149.2 149.7 180.7 41.7M39.1 125.6Q149 147.8 172.2 38.1M40 117.1Q147.5 149.9 185.3 44M55.1 76.9Q139.6 136.5 178.2 40.5M62.5 67Q139 137.9 191.7 47.8M46.9 92.2Q135.9 151.3 235 111.4M50.2 85.2Q134.6 125 144.7 32.2M44.1 99.7Q143.6 142.7 172 38M61.1 68.7Q139.2 138.6 191.3 47.6M64.8 64.3Q137.3 127.9 175.9 39.5M39.1 125.7Q149 149.9 182.5 42.6M63.2 66.1Q138.5 133.9 184.8 43.7M40.2 115.6Q143.8 138.4 146.5 32.4M39.9 117.9Q138.4 140.6 234.9 110.8M39.8 118.1Q147.2 151.5 193.5 49M54.2 78.2Q140.1 138.3 180.8 41.7M67.6 61.4Q135.6 150.2 223.5 81M39.1 126.6Q149.2 149.5 179.9 41.3M61.9 67.7Q139.1 137.6 190.3 46.9M47.4 91Q142.7 144.7 184.8 43.7M56 75.5Q140 139.7 186.5 44.7M49.9 85.9Q141.9 146.8 194.6 49.8M39.7 119.4Q138.2 128.3 237 133.9M50.1 85.4Q140.7 138 172.8 38.3M40.5 114.1Q147 148.4 180.5 41.6M41.3 109.6Q143.2 153.7 215.7 69.7M50 85.7Q141.9 145.3 190.8 47.3M44.1 99.8Q137.5 151.3 233.3 104.2M67.6 61.4Q136.8 125.2 175 39.2M40.5 114.1Q146.6 145.3 169.4 37.1M64.4 64.8Q137.9 130.7 180.4 41.5M41.7 108.1Q138 146.9 234.3 108.1M48.7 88.2Q140.6 137.1 168 36.7M64.6 64.5Q138.7 136.4 191.4 47.6M44.1 99.6Q144.1 144.8 178.1 40.5M60.5 69.4Q133 153.8 234.2 107.8M40.7 113Q146.3 151.7 196 50.8M43 103Q145 148.2 186.5 44.7M41.6 108.7Q145.4 144.1 169.1 37M67.8 61.2Q138.2 132.7 188.3 45.7M62 67.6Q137.1 127.8 171.6 37.9M47.3 91.2Q142.9 147.4 192.2 48.1M54.9 77.2Q139 134.1 172.8 38.3M68 61Q138.2 132.9 189.1 46.2M50.5 84.6Q132.4 121.6 138.3 32M50.6 84.6Q141.6 143.7 187.4 45.2M51.8 82.3Q140.7 139.1 178.4 40.6M41.4 109.2Q146.1 147.6 180.5 41.6M68.1 60.9Q131 153.3 235.5 113.9M61.6 68Q138.8 135 184.7 43.7M40.8 112.1Q146.3 145.7 172 38M56.5 74.8Q140.2 141.9 192.2 48.2M48.8 88.1Q142.3 145.7 189.8 46.6M44.7 97.8Q143.3 142.3 172.5 38.2M40 116.6Q147.3 150.3 187.6 45.3M43 103.2Q145 148.4 187 45M44.9 97.3Q143.9 148.3 190.9 47.3M45.8 95.1Q143.3 144.4 180.5 41.6M42.2 105.9Q145.3 150.6 193.9 49.3M42.2 106Q145.5 149.8 190.6 47.1M40.2 115.6Q147.3 147.9 177.9 40.4M42.3 105.8Q145.4 146.7 179.5 41.1M54.7 77.5Q140.5 142.2 190.4 47M63.3 66Q138.7 135 187.1 45M54.2 78.3Q140.6 141.7 188.5 45.8M42.1 106.4Q145.5 150.1 191.9 47.9M39.1 126.7Q149.1 150.2 183.5 43.1M60.8 69Q139.3 138.3 190.3 46.9M41.2 110.3Q146 145.9 173.7 38.7M63.8 65.5Q138.8 136.7 190.8 47.2M56.3 75.1Q139.5 136.6 180.4 41.5M44.1 99.6Q144.3 147 184.9 43.8M41.6 108.4Q145.4 144.4 170.3 37.4M50.6 84.5Q141.7 145 190.9 47.3M44.8 97.7Q136.7 136.8 236.7 139M55.9 75.7Q138.7 133.1 172.4 38.2M42.5 105Q145.3 149.9 191.5 47.7M49.8 85.9Q138.1 131.2 157 33.8M39.1 125.8Q148.8 150.7 186.8 44.9M68.1 60.9Q136 122.1 170.4 37.5M39.1 126.7Q138.5 137.1 234.6 109.2M63.6 65.7Q130.5 152.3 236.9 126.8M64.5 64.7Q137.2 127.5 174.8 39.1M68.2 60.8Q136 122.1 170.5 37.5M67.6 61.3Q138.4 134.7 191.9 47.9M39.2 124.1Q148.4 151.1 189.6 46.5M68.2 60.8Q135.8 121.7 169.8 37.2M40 116.9Q147.3 146.5 171.7 37.9M39.9 117.7Q147.5 150.2 186.6 44.8M48.7 88.4Q141.6 140.3 175.6 39.4M64.3 64.9Q133.5 153.4 231.6 98.7M64.7 64.4Q137.9 130.7 180.8 41.7M57.2 73.8Q140 141.1 191.2 47.5M40.2 115.8Q147.2 150.4 188.6 45.9M54.8 77.3Q138.8 133.3 171 37.7M65.3 63.8Q136.6 125.4 172.1 38.1M44.8 97.5Q143.4 142.8 174 38.8M44.8 97.6Q144 146.6 185.2 44M68.2 60.8Q138.1 131.7 187.1 45M68.3 60.7Q137.2 126.6 178.3 40.6M40 116.9Q146.2 152.7 202.2 55.6M49.9 85.8Q141.9 145.6 191.5 47.7M42.1 106.3Q144.8 143.6 169.3 37.1M50.6 84.5Q139.9 135.6 168.3 36.8M41.2 110.2Q146.3 149.4 186.7 44.8M64.8 64.4Q137.6 129.1 177.9 40.4M39.1 126.5Q149.1 146.9 168.1 36.7M41.3 109.6Q146 150.4 191.1 47.5M39.3 123.9Q148.8 149.2 179.4 41.1M48.9 87.9Q140.9 152.6 212.8 66.2M39.2 125.1Q148.9 147.3 170.6 37.5M55 77Q140.4 140.8 187.5 45.3M58 72.8Q139.3 136.4 182.4 42.5M50.8 84.2Q141.7 146 193.8 49.2M44 100Q144.1 144.5 176.9 40M60.7 69.2Q137.9 130.5 174.7 39.1M50.3 85Q140.3 136.7 170.4 37.4M41.6 108.3Q145.6 145.4 173.6 38.6M49.9 85.8Q134.2 146.5 237 131.7M57.8 72.9Q137.7 130.2 169.7 37.2M63.6 65.7Q138.9 138.2 193.5 49M44.8 97.7Q143.5 143.5 175.8 39.5M51.2 83.3Q140.7 138.6 176.4 39.8M49.9 85.9Q141.9 145.6 191.3 47.6M39.1 126.6Q149 150.5 185.5 44.1M50.2 85.2Q134.8 152.1 235.5 113.8M41.4 109.4Q146 150.1 190.1 46.8M64.7 64.5Q136.7 125.7 171.8 37.9M41.6 108.5Q145.9 149.6 188.5 45.8M43 103.1Q145 149.1 189.6 46.5M39.2 125.3Q149 148.8 177 40M54.2 78.3Q140.7 143.3 192.1 48.1M51.2 83.3Q139.9 136 170.4 37.4M50.4 85Q141.6 142.9 185.1 43.9M43 103.1Q144.1 142.7 169.3 37.1M50 85.6Q141.9 146.3 193.3 48.9M42.2 105.9Q143.1 153.8 214 67.6M41.2 110.2Q146.2 146.7 176.8 39.9M40.6 113.1Q146.8 148.2 180.3 41.5M60.6 69.3Q139.3 138.9 191.3 47.6M39.2 124Q148.3 151.2 190.1 46.8M42.1 106.3Q145.5 147.3 181.4 42M44.1 99.6Q144.1 144.8 178 40.5M42.2 106.1Q145.5 148.4 185.2 44M58.4 72.1Q137.6 129.7 169.7 37.2M41.5 109Q145.9 150.4 191.5 47.7M54.2 78.3Q140.3 139.4 183.1 42.9M39.1 126.6Q148.9 150.7 186.8 44.9M68 61Q136.7 124.7 174.6 39M64.7 64.5Q137.9 130.3 180 41.4M39.1 126.5Q149.2 148.9 177.2 40.1M39.9 117.4Q147.5 147.1 173.8 38.7M61.9 67.7Q138.8 135 185.2 44M39.9 118Q142.2 152 223.5 81M63.6 65.7Q137.2 127.8 174 38.8M47.4 91.2Q142.9 147.2 191.6 47.7M45.7 95.1Q142.3 140.2 169.1 37M60.8 69.1Q139 135.8 185.2 44M60.6 69.3Q138.2 131.9 177.4 40.2M56.5 74.8Q139.2 135.3 177.8 40.4M65.3 63.8Q136.8 125.8 172.8 38.3M50.4 84.9Q141.3 141.1 180.7 41.7M68.4 60.6Q137.5 127.9 180.7 41.7M41.7 108.1Q145.2 144 169.2 37M68.3 60.7Q137.6 128.4 181.4 42M67.5 61.5Q138.1 131.8 186.5 44.7M40 117.2Q147.6 148.4 179.1 40.9M65.3 63.8Q137 126.8 174.6 39M47.4 91.2Q142.8 144.9 185 43.9M50.6 84.5Q141.7 144.1 188.5 45.9M40 117.3Q146.9 151.9 195.9 50.7M64.6 64.5Q137.2 127.5 174.8 39.1M47.4 91.1Q142.2 141.6 176.4 39.8M68.1 60.9Q137.3 127.2 179.2 41M46.9 92.3Q143 146.4 188.4 45.8M59.8 70.3Q130.7 149.6 236.6 139.5M63.6 65.6Q138.1 131.6 181 41.8M60 70.1Q137.5 129.4 171.6 37.9M50.1 85.5Q134.1 147.1 237 130.7M61.6 68Q137.5 129.1 173.5 38.6M61.8 67.9Q138 131 177.3 40.1M58.5 72Q138.5 132.8 176 39.6M68.3 60.7Q138.4 136.6 196 50.8M57.9 72.8Q138.9 134.2 177.8 40.4M40.9 111.9Q146.3 151.1 193.6 49.1M51.8 82.3Q139.9 136.2 171.9 38M41.2 110.2Q137.6 141.2 236.1 117.5M64.7 64.5Q138.7 141.9 202.3 55.7M42.2 106.1Q145.3 150.7 194.3 49.6M67.4 61.6Q138.4 140.7 202.9 56.2M40.6 113.2Q146.7 150.4 189.7 46.6M39.2 125.2Q148.8 146.7 168 36.7M50.5 84.6Q141.1 139.8 178 40.4M60.7 69.1Q139.3 138.8 191.1 47.5M39.2 125.1Q148.9 149.7 181.3 42M57.8 72.9Q137.4 152.4 221.5 77.8M40 116.7Q147.4 149.7 184.8 43.8M67.7 61.3Q138.2 132.4 187.7 45.4M67.6 61.4Q138.4 134.4 191.2 47.5M42 106.7Q137.5 134.7 237 134.1M63.6 65.7Q137 127.1 172.7 38.3M41.5 108.8Q145.8 146.2 176.1 39.6M50.2 85.2Q141.8 144.8 189.8 46.6M59.8 70.3Q137.9 130.7 173.7 38.7M39.1 125.8Q148.9 146.8 168 36.7M60.9 68.9Q139.3 138.8 191.5 47.7M39.2 124.1Q148.8 148.6 176.4 39.7M48.5 88.6Q142.4 147.4 194.2 49.5M61 68.8Q136.4 152.2 223.5 81.1M42.1 106.3Q145.4 146.4 178.3 40.6M47.6 90.7Q142.7 144.7 185 43.9M67.7 61.3Q138.5 136.8 195.9 50.7M49.8 85.9Q141.6 141.6 180.9 41.8M42.2 105.9Q145.5 148.8 186.8 44.8M44 99.9Q143.3 141.4 168.3 36.8M40.8 112.4Q146.4 145.8 172 38M47.3 91.3Q134.7 125.9 139.2 32M40 117.1Q147.6 149 181.3 42M41.1 110.7Q146.3 147.5 179.1 40.9M40.2 115.6Q147.2 150.2 187.7 45.4M60.5 69.3Q139.3 138.8 190.9 47.3M62.5 67Q131.1 152.8 236.6 121.8M62.2 67.3Q136.9 126.9 170.4 37.5M44.1 99.6Q137.1 150.4 234.5 108.8M50.5 84.6Q141 139.3 176.8 39.9M63.8 65.5Q138.3 132.7 183.3 43M56.4 75Q139.9 138.6 184.8 43.7M50.4 85Q141.3 140.9 180.1 41.4M61.1 68.7Q134.2 120.6 157.1 33.9M68 61Q137.1 126.2 177.1 40.1M63.4 66Q138.8 135.9 188.8 46M40.9 111.9Q146.6 149.6 186.8 44.9M41.1 110.7Q145.9 145 170.5 37.5M41.2 110.2Q146.2 150.1 189.6 46.5M65 64.1Q134.3 118.9 160.4 34.6M39.1 125.8Q149.1 149.6 180.6 41.7M39.9 117.4Q147.6 149.4 183.3 43M62.3 67.1Q139.1 138.2 191.9 48M50.1 85.4Q141 151.3 209.2 62.2M39.2 124.1Q138 131.4 236.7 123M59.8 70.3Q133.9 154 232.3 100.8M44.8 97.6Q143.8 145.2 180.9 41.8M40.2 115.8Q146.3 143.6 162.3 35M40.1 116Q147.3 149.7 185 43.9M53.3 79.7Q140.9 144.7 194.3 49.6M68.5 60.5Q137.9 130.5 185.3 44M54.6 77.6Q132.6 120.3 144.5 32.2M39.1 126.7Q148.9 150.7 186.9 44.9M41.5 108.8Q145.6 145.1 172.3 38.1M41.4 109.2Q145.9 146.5 176.6 39.8M40.2 115.9Q147 151 191.2 47.5M39.1 126.5Q149.1 150.2 183.5 43.1M65.1 64Q137.5 128.4 177.2 40.1M51.9 82.1Q140.3 137.8 175.6 39.4M46.5 93.3Q142.1 140.3 171 37.7M67.9 61.1Q131.5 153.3 234.7 109.9M50 85.7Q141.7 142.9 184.6 43.6M44.9 97.4Q143.9 148.8 192.2 48.1M41.1 110.6Q146.2 150.3 190.2 46.9M39.1 126.7Q148.8 151 188.2 45.7M41.1 110.6Q146.2 150.3 190.2 46.9M39.2 124Q148.8 148.5 175.9 39.6M54.8 77.3Q140.2 139.1 183.4 43M39.1 126.7Q148.8 150.9 188.2 45.7M41.4 109.5Q137.8 144.2 235.2 112.1M39.3 124Q148.2 151.4 191.6 47.7M50.1 85.4Q138.6 154.2 223.5 81.2M49.9 85.8Q141.1 139.3 175.5 39.4M53.4 79.6Q140.1 137.6 177.8 40.4M64.9 64.3Q138.8 138.6 195.8 50.7M50.2 85.2Q134 149 236.9 127.2M44 99.8Q144.4 149 191.6 47.7M64.8 64.4Q137.4 128.4 176.8 39.9M42.1 106.3Q145.4 146 177 40M64.4 64.8Q138.7 135.8 189.9 46.7M39.4 122.3Q148 151.3 191.2 47.5M68.4 60.6Q138.3 133.3 190.1 46.8M67.9 61.1Q138.4 134.6 192 48M55.9 75.7Q139.6 136.7 179.9 41.3M39.9 117.4Q147.6 148 177.1 40.1M39.1 125.7Q148.9 150.4 185.2 44M67.7 61.3Q138.4 134.8 192.2 48.1M40.6 113.1Q146.6 146.2 172.9 38.4M45.7 95.2Q143 142.8 176.1 39.6M47.4 91.1Q140.3 135.7 161.9 34.9M39.3 123Q138.6 124.1 236.7 138.9M40.1 116Q147.1 146.4 171.7 37.9M67.6 61.4Q138.4 134.4 191.1 47.5M54.3 78.1Q139.1 134.1 171.8 38M54.9 77.2Q140.2 139.7 184.8 43.8M68.5 60.5Q137 125.5 176.8 39.9M45.8 95.1Q143.5 148 191.4 47.6M39.2 124Q148.7 147.7 172.5 38.2M42.1 106.5Q145.3 145.4 174.8 39.1M48.8 88.1Q141.5 139.9 174.9 39.1M65 64.1Q138.2 131.9 183.5 43.1M44.3 99Q142 153.9 215.4 69.3M63.8 65.5Q138 131.1 180.2 41.5M42.2 106Q141.2 153.7 223 80.2M44.8 97.6Q143.6 143.9 177.1 40M39.8 118.3Q147.4 145.7 167.9 36.6M50.7 84.2Q141.7 146.2 194.4 49.6M58.4 72.1Q139 134.9 180 41.4M60.8 69.1Q139.2 137.3 188.1 45.6M67.5 61.5Q138.3 133.9 190.1 46.8M39.8 118.1Q147.6 146.9 172.4 38.2M59.8 70.3Q137.3 151.5 220.2 75.9M55.8 75.8Q137.3 153.3 223.5 81M50.6 84.5Q141.4 142.1 183.5 43.1M41.4 109.3Q145.4 143.9 168.1 36.7M50.7 84.3Q141.2 140.9 180.8 41.7M46.5 93.2Q141.8 139.1 168.1 36.7M47.4 91.2Q141.9 140.2 172.7 38.3M50.6 84.6Q141.5 142.6 184.7 43.7M65 64.1Q137.5 128.8 177.8 40.4M64.4 64.8Q137 127 173.7 38.6M41.6 108.5Q145.3 144.1 169.1 37M59.2 71Q138 131 173.6 38.6M39.7 119.4Q138.3 138.9 235.3 112.8M60.6 69.3Q139.3 142.8 199.5 53.4M41.2 110.4Q141.9 153.3 222.2 78.9M39.8 118.1Q147.7 149.5 183.2 42.9M40 117Q147.5 147.6 175.7 39.5M42.2 106.2Q145.6 148.4 185.2 44M63.2 66.1Q133.1 153.7 232.8 102.6M44 100Q136.5 141.7 236.9 126.7M60.7 69.1Q136.8 127.1 168.5 36.8M41.5 108.8Q145.6 151.4 196 50.8M61.8 67.8Q138.1 131.5 178.3 40.6M41.6 108.3Q144.2 153.4 208.9 61.9M48.8 88.1Q141.2 139 172.6 38.2M54.9 77.2Q140.1 138.9 183.1 42.9M41.6 108.4Q146 148.3 183.6 43.1M39.1 126.6Q146.9 141.3 147.1 32.4M54.3 78.1Q140.1 138.1 180.5 41.6M62.3 67.2Q139 137.3 190.2 46.9M41.5 108.7Q145.9 146.7 177.6 40.3M48.8 88.1Q142 142.2 180.5 41.6M40 116.9Q147.3 150.5 188.6 45.9M45.9 94.6Q141.5 138.1 164.3 35.5M41.1 110.7Q145.9 145 170.5 37.5M43 103.1Q140.6 134.8 147.8 32.5M54.6 77.7Q140.4 140.2 185.5 44.2M64.9 64.3Q137.2 127.4 175 39.2M47.3 91.2Q141.9 140.1 172.5 38.2M47.4 91.1Q142.8 147.8 193.7 49.1M64.8 64.3Q138.6 135.5 189.8 46.6M58.6 71.9Q138.6 133.1 176.5 39.8M41.3 109.6Q146.1 150.1 190.1 46.8M50.6 84.6Q141.2 140.5 179.5 41.1M56.5 74.8Q140.1 141.5 191.2 47.5M39.1 126.3Q138.9 139.2 233.6 105.3M48.6 88.5Q142.4 146.1 190.7 47.2M54.9 77.1Q140.5 143.8 194.2 49.5M45 97.1Q143.6 144.2 178.3 40.6M62.8 66.6Q137.7 129.6 176.1 39.6M41.4 109.2Q145.7 151.4 196 50.8M45 97.1Q142.8 141 169.4 37.1M54.6 77.6Q140.6 142.3 190.3 46.9M58.5 72Q138.7 133.8 177.9 40.4M63.8 65.5Q136.2 124.6 168.5 36.8M61 68.8Q139 136.4 186.7 44.8M54.6 77.7Q140.2 138.8 182.5 42.6M65.3 63.8Q137.6 128.9 178.3 40.6M63.7 65.5Q134.8 120.7 161.6 34.9M63.7 65.5Q137.8 130.1 178.4 40.6M68.2 60.8Q132.1 153.1 233.4 104.5M44.7 97.9Q144 149.5 194.4 49.6M47.3 91.4Q136.9 129.2 146.5 32.4M39.2 125.5Q148.9 150.4 185 43.9M50.6 84.5Q141.7 144.2 188.7 46M39.8 118.2Q147.2 151.7 194.4 49.6M65.1 64Q136.9 126.3 173.4 38.6M67.8 61.2Q138.3 133.4 189.6 46.5M44.9 97.3Q144 147.4 187.8 45.5M67.5 61.5Q137.2 127 177.9 40.4M54.1 78.4Q137.9 153.4 222.3 79.2M60.5 69.4Q138.5 132.9 179.2 41M49.9 85.8Q140.9 138.6 173.9 38.7M41.6 108.5Q145.5 144.9 171.8 38M41.1 110.6Q146.3 150.2 190 46.8M56.4 74.9Q138.7 133.3 173.7 38.6M39.2 125.5Q149 149.3 179.1 40.9M45.8 95Q143.5 147.8 190.7 47.2M44 100Q144.4 148.6 189.7 46.6M50.3 85.2Q141.2 140.2 178.3 40.6M64.8 64.3Q136.1 123.7 168.4 36.8M45.8 95Q143.2 143.9 179.1 40.9M54.3 78.1Q138.4 152.8 219.8 75.2M64.8 64.4Q136.1 123.8 168.5 36.8M42.3 105.8Q145.3 150.5 193.6 49.1M40.2 115.7Q147.2 147.6 176.4 39.8M51.9 82.1Q141 141.2 183.4 43M44.3 99Q144.2 148.4 190 46.7M67.5 61.5Q136.8 125.1 174.7 39M41.1 110.6Q146.4 149 184.8 43.7M41.5 108.8Q146 147.3 179.5 41.1M42.3 105.8Q145.4 150 191.6 47.8M39.4 122.5Q147.8 144.6 161.6 34.9M67.6 61.4Q132.2 113.1 154.5 33.4M60.9 68.9Q138.2 131.9 177.8 40.3M54.3 78.1Q139.5 135.6 175.1 39.2M40.9 111.9Q146 144.5 168 36.7M43 103.1Q141.2 154 222 78.6M50.2 85.2Q141.7 143.1 185.3 44M64.5 64.6Q129.5 150.2 236.5 140.9M67.3 61.7Q138.1 131.9 186.5 44.7M39.1 126.5Q148.9 150.8 187 45M39.2 125.1Q143.5 151.4 220.6 76.4M55.9 75.6Q138.6 132.7 171.6 37.9M39.4 122.5Q147.8 151.7 193.7 49.2M54.6 77.7Q134.9 124.3 152.3 33M50.3 85Q141.8 145 190.4 47M39.3 123Q148.6 148.6 176.8 39.9M40 117Q147.5 149.5 183.7 43.2M41.1 110.6Q146 151.2 194.6 49.8M60.5 69.4Q136.4 152.3 223.7 81.5M64.9 64.3Q134.6 152.6 228.3 90.3M62.9 66.5Q138.1 131.6 180.1 41.4M48.9 87.9Q142.3 146.4 191.9 48M39.2 124Q148.6 150.3 184.9 43.8M68.4 60.6Q138.2 133.1 189.8 46.6M39.8 118.1Q147.7 149.1 181.4 42M39.9 117.8Q147.7 148.3 178.2 40.5M60.7 69.1Q138.6 133.5 180.5 41.6M60.7 69.2Q138 131.1 175.9 39.5M39.1 126.4Q148.3 144.1 157.1 33.9M44.2 99.3Q143.5 142.4 171.5 37.9M39.2 125Q148.9 147.8 172.6 38.2M39.2 125.1Q148.9 147.6 171.7 37.9M54.1 78.4Q140.7 142.8 190.7 47.2M40 117.2Q147.2 151 191.1 47.4M44.9 97.4Q144 147 186.6 44.7M39.2 124.1Q148.8 148.9 177.9 40.4M50 85.7Q140.5 137.1 170.5 37.5M39.1 125.8Q149.1 149 177.6 40.3M40.8 112Q146.4 150.6 191.2 47.5M41.6 108.3Q145.7 150.7 193.4 48.9M40.9 111.7Q146.4 150.6 191 47.4M41.7 108Q145.7 146.3 176.8 39.9M40.2 115.5Q147 150.9 191.2 47.5M46.5 93.3Q143.2 145.7 185.5 44.2M56.3 75.1Q139.9 139 185.4 44.1M67.7 61.3Q136.6 124.4 173.8 38.7M65.3 63.9Q138.6 135 189.5 46.4M68.3 60.7Q138.1 131.9 187.5 45.3M41.5 109Q145.9 146.4 176.5 39.8M39.3 122.9Q148.2 151 189.4 46.4M60 70Q138.3 132.1 176.8 39.9M57.2 73.8Q139.9 139.9 188.6 45.9M50.1 85.4Q141.7 143.2 185.4 44.1M43.4 101.8Q144.5 150.5 196 50.7M67.8 61.2Q135.8 121.8 169.4 37.1M41.4 109.2Q146.1 149.2 186.6 44.8M43.9 100.1Q139.4 133.1 146.6 32.4M54 78.6Q140.6 141.8 188.4 45.8M42.5 105.1Q141.2 153.7 222.9 80M40.8 112.3Q146.5 150.6 191.1 47.4M44 99.9Q144.2 144.9 178.1 40.5M39.2 124.1Q144.7 152.4 215.3 69.1M64.6 64.6Q137.9 130.3 179.9 41.3M41.4 109.3Q146.1 148.8 184.8 43.7M65.1 64Q138.2 132.4 184.5 43.6M42.1 106.2Q142.7 138.3 154.1 33.3M61.9 67.7Q134.5 120.8 158.9 34.2M55 77.1Q140.3 139.9 185.4 44.1M67.4 61.6Q138 130.9 184.8 43.8M49.9 85.8Q141.9 145.4 191 47.4M41.6 108.5Q145.8 146.1 175.8 39.5M67.4 61.5Q137.6 128.6 180.7 41.7M46.9 92.3Q141.9 139.7 170.4 37.5M41.2 110.4Q146.3 148.5 183.1 42.9M41.2 110.2Q146.3 148.9 184.9 43.8M60.6 69.3Q139.2 137.2 187.8 45.4M40 116.8Q147.1 145.8 169.3 37.1M41.5 108.9Q146 148.9 185.5 44.1M48.6 88.6Q141.9 141.8 179.1 41M60 70Q137.7 130 172.9 38.4M39.4 122.6Q148.5 148.7 177.4 40.2M64.8 64.4Q138.8 138.6 195.9 50.7M44.3 98.9Q140.2 134.5 151.1 32.9" stroke="#70B1DC" stroke-width="0.22" stroke-opacity="1.00"/>
<path d="M78.1 52.2C126.3 90.2 126.3 90.2 147.2 32.4M120.2 33.6Q137.6 131.5 236.6 140M83.7 48.2C123.7 81.2 123.7 81.2 140.1 32M115.6 34.6C135.1 62.5 135.1 62.5 152.1 33M90.3 44.2C129.3 83.1 129.3 83.1 152.3 33M115.5 34.6C131 55.3 131 55.3 142.5 32.1M129.3 32.4Q139.4 129.5 237 133.9M91.4 43.7Q137.4 132.2 235.7 115M71.1 58C128.5 99.3 128.5 99.3 153.5 33.2M127.8 32.5C137.3 48.2 137.3 48.2 146.6 32.4M123.4 33.1C132.7 46.7 132.7 46.7 140.2 32M85.8 46.9C127.1 84 127.1 84 147.8 32.5M73.2 56.2C128.6 97.9 128.6 97.9 154 33.3M94.1 42.3Q140.6 118.6 213.6 67.1M81.2 49.9C127.9 89.8 127.9 89.8 151.1 32.9M124 33C138.8 57.4 138.8 57.4 154.1 33.3M90.7 44C127.6 79.7 127.6 79.7 147.5 32.5M99.6 39.7C131.6 76.7 131.6 76.7 153.9 33.3M124.2 33C139.4 58.4 139.4 58.4 155.6 33.6M100.9 39.2Q136.6 86.1 169.2 37M71.6 57.6C128.6 99.1 128.6 99.1 153.9 33.3M125.4 32.8C139.6 56.9 139.6 56.9 155 33.5M97.8 40.5Q136.6 132.9 236.4 141.5M72 57.2C130.7 102.2 130.7 102.2 160.6 34.6M122 33.3C137.4 57.6 137.4 57.6 152.4 33.1M110.2 36C135 70 135 70 156.3 33.7M113.9 35C136.3 67.5 136.3 67.5 156.8 33.8M134.2 32.1C146 56.5 146 56.5 162.6 35.1M114.7 34.8Q140.9 126.1 233.4 104.5M127.7 32.5C135.2 44.3 135.2 44.3 142 32.1M124.1 33Q140.2 128.2 236.6 121.7M94 42.3Q137.1 132.6 236.7 123.1M80.1 50.7C129.8 93.8 129.8 93.8 156.7 33.8M119.8 33.7Q141.5 125.5 234 106.7M73.1 56.2C123.5 90.7 123.5 90.7 140.4 32M129.7 32.3Q142.2 125.7 235.8 115.9M103.2 38.3C129.7 69.1 129.7 69.1 147.2 32.4M82.4 49.1C131.2 94.3 131.2 94.3 160.6 34.6M125.7 32.8C141.5 60.9 141.5 60.9 160.1 34.5M101 39.2C135.2 82.6 135.2 82.6 164.2 35.5M122.2 33.3C139.4 61.5 139.4 61.5 157.6 34M113.6 35.1C132.1 59.7 132.1 59.7 146.2 32.3M94 42.3C133.2 86.4 133.2 86.4 162.1 35M84.4 47.7C126.8 84.9 126.8 84.9 147.5 32.5M97.9 40.5Q140.4 123.9 224.4 82.6M131.7 32.2C139.4 45.6 139.4 45.6 147.5 32.5M123.9 33Q142 125.2 234.5 109.1M110.9 35.8Q141.3 124.3 230.3 95.1M134.4 32.1Q151.7 96.4 208.5 61.5M100.8 39.3C132.1 76.3 132.1 76.3 154.8 33.4M114.2 34.9Q144 115.9 221.1 77.2M87 46.2C130.4 88.4 130.4 88.4 156.6 33.8M77 53C123 86.6 123 86.6 139.2 32M127.4 32.6C143 61.5 143 61.5 162.4 35.1M85.8 46.9C131.4 91.3 131.4 91.3 159.9 34.5M99.5 39.8Q136.6 132.9 236.4 141.4M119.7 33.7Q142.4 123.6 232.1 100.3M109.8 36.1C133.8 68.2 133.8 68.2 153.4 33.2M108.3 36.5C136.2 75.2 136.2 75.2 161.6 34.8M115.6 34.6Q143.2 120 226.8 87.2M74 55.5C130.3 100 130.3 100 159.3 34.3M106.2 37.2C131 67.5 131 67.5 148.5 32.6M82.3 49.2C129.5 91.3 129.5 91.3 155.2 33.5M128.8 32.4Q138.8 130.2 236.8 137.9M94.6 42Q140.6 118.7 214.1 67.7M122 33.3C138.8 60.6 138.8 60.6 156.2 33.7M103 38.4C135 79.6 135 79.6 162 35M115.6 34.6Q145.3 107.1 210.5 63.5M127.3 32.6Q146.5 115 225.6 84.9M94.1 42.3C129.9 80 129.9 80 152.2 33M130.6 32.3Q149.6 104.7 215.7 69.7M98 40.5Q139.4 127.5 230 94.6M91.7 43.5Q138 131 233.8 105.9M113.9 35C134 62.8 134 62.8 150.6 32.8M80.6 50.3C123.9 84.5 123.9 84.5 141.1 32M106.6 37.1C134.4 73.6 134.4 73.6 157.3 33.9M124.3 32.9C139.1 57.5 139.1 57.5 154.7 33.4M106.4 37.2Q142.9 104.7 201.1 54.7M120.9 33.5Q146.9 104 209.8 62.8M120.8 33.5Q141.8 125.2 233.9 106.5M105.7 37.4C131.9 69.9 131.9 69.9 151.2 32.9M83.2 48.6C129.6 90.7 129.6 90.7 155.4 33.5M91.1 43.8Q139.2 107.9 193.4 48.9M127.3 32.6C139 52.2 139 52.2 151.1 32.9M103.8 38.1C131.9 72.2 131.9 72.2 152.4 33.1M93.5 42.6C129.9 80.6 129.9 80.6 152.4 33.1M73.8 55.6C129.8 99.3 129.8 99.3 157.7 34M103.2 38.3Q137.1 132.3 237 130.7M122.8 33.2Q139.4 129.3 236.9 126.5M99.5 39.8Q138.5 129.9 234.1 107.2M97.4 40.7C127.4 72.2 127.4 72.2 144.6 32.2M77.4 52.7C129.1 95.1 129.1 95.1 155.2 33.5M105.5 37.5Q142.2 100.5 194.4 49.6M126.4 32.7Q138.2 130.8 236.6 140.3M87 46.1C132.3 92 132.3 92 162.7 35.1M94.9 41.9Q140.7 115 208.3 61.3M100.5 39.4C126.2 66.7 126.2 66.7 140.4 32M118.7 33.9C136.3 60.4 136.3 60.4 152.6 33.1M116.5 34.4Q140.8 126.5 234.2 107.8M87.5 45.9C128.5 84.6 128.5 84.6 151 32.9M114.2 34.9C130.7 56.6 130.7 56.6 142.8 32.1M75.7 54C130 98 130 98 158.2 34.1M116.8 34.3Q141 126.1 234 106.6M101.2 39.1C135.3 82.6 135.3 82.6 164.4 35.6M112 35.5C135.2 68 135.2 68 155.5 33.6M81.6 49.7C122.7 82 122.7 82 138.2 32M106.6 37.1C130.7 66.6 130.7 66.6 147.6 32.5M76.9 53.1C129.7 96.5 129.7 96.5 157 33.8M95.6 41.6Q137.3 132.3 236.5 121.3M83.1 48.6C128.4 88.8 128.4 88.8 152 33M98.1 40.4C127.3 71.3 127.3 71.3 144.1 32.2M109.7 36.1C131.7 64.3 131.7 64.3 148 32.5M117.1 34.2C133.3 57 133.3 57 146.5 32.4M124.9 32.9C134.3 47.1 134.3 47.1 142.3 32.1M85.8 46.9C130.2 89.1 130.2 89.1 156.3 33.7M105.2 37.6C134.1 74.9 134.1 74.9 157.7 34M124.7 32.9C136.5 51.6 136.5 51.6 147.6 32.5M125.2 32.8C137.3 52.3 137.3 52.3 149.1 32.6M107.5 36.8Q143.2 111.9 212 65.3M84 48C127.4 86.3 127.4 86.3 149.1 32.6M73.7 55.7C126.8 94.7 126.8 94.7 148.9 32.6M124 33C139.7 59.4 139.7 59.4 156.7 33.8M77 53C130.3 97.4 130.3 97.4 158.9 34.2M102.7 38.5C134.5 78.9 134.5 78.9 160.7 34.6M120.1 33.6Q141.4 125.7 234.3 107.9M97.8 40.5Q141.2 115.3 210.8 63.9M115.7 34.6Q140.9 126.2 233.7 105.8M124.6 32.9Q147.1 83.3 186.6 44.8M102.5 38.6Q137.3 85.8 170.5 37.5M101.1 39.1C132.2 76 132.2 76 154.8 33.4M107.8 36.7Q143.3 104.8 202.2 55.6M132.8 32.1C140.4 45.7 140.4 45.7 148.7 32.6M72.7 56.6C123.1 90.6 123.1 90.6 139.4 32M107.5 36.8Q139 129.3 235.1 111.9M133.1 32.1C145.2 56.6 145.2 56.6 161.7 34.9M105 37.7C130.1 67.5 130.1 67.5 147.1 32.4M74.4 55.2C126.4 93.5 126.4 93.5 147.5 32.5M86.2 46.6C129.3 87.1 129.3 87.1 153.5 33.2M111.8 35.5Q143.5 116.2 220.3 76M100.9 39.2C125.9 65.7 125.9 65.7 139.6 32M91.2 43.7C130 83.3 130 83.3 153.9 33.3M127.3 32.6Q142.8 124.2 234.4 108.5M73.9 55.5C125.9 93.2 125.9 93.2 146.3 32.3M101.7 38.9C129.5 70.5 129.5 70.5 147.4 32.5M73.2 56.2C129.5 99.4 129.5 99.4 156.8 33.8M90.8 44C130.4 84.4 130.4 84.4 155.1 33.5M113 35.2Q141.3 124.9 231.7 98.9M91 43.9C125.7 76.6 125.7 76.6 142.9 32.1M84.2 47.9C128.8 88.3 128.8 88.3 152.8 33.1M126 32.7C142.3 62.2 142.3 62.2 162 35M72.5 56.8C127.8 97.2 127.8 97.2 151.6 32.9M113.4 35.1Q144 115.3 219.9 75.4M115.7 34.6C136.9 66.2 136.9 66.2 157 33.8M77.6 52.6C128.1 93.3 128.1 93.3 152 33M81.3 49.8C127.8 89.4 127.8 89.4 150.6 32.8M126 32.7C134.8 46.4 134.8 46.4 142.7 32.1M77.9 52.4C130.3 96.8 130.3 96.8 158.8 34.2M112.4 35.4Q143.4 117.3 222 78.7M98.3 40.3C126.7 70 126.7 70 142.5 32.1M110.6 35.9Q144 103 201.8 55.3M95.5 41.6Q136.7 133 236.8 137.7M115.6 34.6C133.9 60.2 133.9 60.2 149.1 32.6M105.8 37.4Q142.2 118.5 220.3 76M84.7 47.5C127.1 85 127.1 85 148 32.5M83.4 48.4C123.8 81.6 123.8 81.6 140.4 32M120.5 33.6Q138.4 130.6 237 132.6M99.6 39.7Q138 131 235.5 113.9M118.1 34C137 62.8 137 62.8 155.1 33.5M112.7 35.3C135.3 67.2 135.3 67.2 155.2 33.5M107.7 36.7Q140.8 125.1 230.2 94.9M71.9 57.3C129 99.5 129 99.5 155.1 33.5M93.3 42.7C130.7 82.3 130.7 82.3 154.8 33.4M76.8 53.2C127.6 93.2 127.6 93.2 150.8 32.8M112.5 35.3C137.5 72.3 137.5 72.3 161.9 34.9M116 34.5Q144.1 116.9 223.1 80.5M128.9 32.4C134 40.4 134 40.4 138.5 32M77 53C126.3 91 126.3 91 147.2 32.4M83.3 48.5C131.1 93.3 131.1 93.3 160 34.5M124.3 33C132.9 45.7 132.9 45.7 140 32M124.8 32.9C138.2 54.8 138.2 54.8 151.8 33M77.9 52.3C131.4 98.6 131.4 98.6 162.4 35M127.2 32.6C137.5 49.4 137.5 49.4 147.6 32.5M113.6 35.1C137 69.5 137 69.5 159.2 34.3M102.4 38.6Q137 132.5 237 132.2M74.9 54.7C129.7 98.3 129.7 98.3 157.3 33.9M103.5 38.2C131.3 71.5 131.3 71.5 151 32.9M116.6 34.3Q141.9 124 231.7 99.1M77.9 52.3C128.6 93.8 128.6 93.8 153.5 33.2M100.1 39.6C133.5 79.9 133.5 79.9 159.2 34.3M128 32.5Q149.5 95.8 204.1 57.3M112.3 35.4C133.9 64.9 133.9 64.9 151.7 33M120 33.6Q137.4 131.6 236.5 141.3M134.2 32.1C138.1 38.8 138.1 38.8 142 32.1M98.3 40.3C128.7 73.1 128.7 73.1 147.1 32.4M127.4 32.6C138.1 50.3 138.1 50.3 148.9 32.6M86.2 46.7C125.6 81.5 125.6 81.5 144.1 32.2M126.6 32.7Q138.3 130.7 236.6 139.3M89.3 44.8C127.6 81.2 127.6 81.2 148.1 32.5M72.9 56.5C126.2 94.6 126.2 94.6 147.2 32.4M77.3 52.8C131.2 98.9 131.2 98.9 162 34.9M116.2 34.4Q140.1 127.8 235.3 112.8M127.6 32.6C138 49.9 138 49.9 148.5 32.6M103.1 38.4C126.5 64.2 126.5 64.2 140 32M72.3 56.9C124.2 92.3 124.2 92.3 142 32.1M80.3 50.6C131 95.8 131 95.8 160.4 34.6M72.8 56.5C131 102.3 131 102.3 161.9 34.9M119.1 33.8C132.2 52.1 132.2 52.1 142.4 32.1M99.7 39.7C126.3 67.9 126.3 67.9 141.1 32M129.2 32.4Q140.1 128.6 237 128.6M99.3 39.9C126.7 68.9 126.7 68.9 142 32.1M71.7 57.4C130.2 101.6 130.2 101.6 159 34.3M86.9 46.2C129.7 87.3 129.7 87.3 154.7 33.4M118.6 33.9C134.6 57.2 134.6 57.2 148.4 32.5M126.4 32.7C136.9 49.6 136.9 49.6 147 32.4M102.7 38.5C134.3 78.5 134.3 78.5 160 34.5M133.6 32.1C139.8 43.2 139.8 43.2 146.5 32.4M84 48C128.4 87.7 128.4 87.7 151.6 32.9M128.3 32.5C141.4 56 141.4 56 156.6 33.8M71.8 57.4C127.7 97.5 127.7 97.5 151.2 32.9M112.2 35.4Q141.4 83.8 177.1 40M89.6 44.6C124.8 76.8 124.8 76.8 141.4 32.1M121.9 33.3Q137.5 131.5 236.3 142.4M72.9 56.4C127.9 96.9 127.9 96.9 151.8 33M102.5 38.6C132.1 74.2 132.1 74.2 153.6 33.2M115.7 34.5C134.9 62.1 134.9 62.1 151.7 32.9M125 32.9C140.8 60.4 140.8 60.4 158.8 34.2M116.9 34.3Q138.6 130.3 236.9 126.8M116.1 34.5Q142.7 81.9 177.9 40.4M115.8 34.5C136.1 64.4 136.1 64.4 154.8 33.4M99.6 39.8C130.4 74.6 130.4 74.6 150.9 32.8M110.2 36Q137.3 131.9 237 133.4M72.1 57.1C128.1 98 128.1 98 152.6 33.1M104.1 38C133 73.9 133 73.9 155.1 33.5M120.1 33.6Q138.5 130.4 237 130.6M121.7 33.4C138.1 59.6 138.1 59.6 154.7 33.4M116.4 34.4C133.9 59.1 133.9 59.1 148.5 32.6M95 41.8Q136.8 132.9 237 132.3M93.4 42.6Q136.7 133 236.8 137.7M106.9 37C132.2 68.8 132.2 68.8 151.2 32.9M81.9 49.4C129.1 91 129.1 91 154.3 33.4M130.4 32.3Q149.9 83.7 191.4 47.6M72.1 57.1C124.2 92.5 124.2 92.5 142 32.1M86.3 46.6C126.6 82.8 126.6 82.8 146.5 32.4M107.4 36.9C133.5 70.7 133.5 70.7 154.2 33.3M83.5 48.4C129.1 89.5 129.1 89.5 153.8 33.3M101.5 39C133 77.1 133 77.1 156.8 33.8M71 58.1C125.3 94.8 125.3 94.8 144.6 32.2M102.3 38.7C129.4 69.8 129.4 69.8 147 32.4M135 32C136.7 35.1 136.7 35.1 138.4 32M126.9 32.6C139.3 53.6 139.3 53.6 152.4 33M113.4 35.1C134.5 64.5 134.5 64.5 152.4 33.1M77.4 52.7C122.9 86.1 122.9 86.1 139 32M95.7 41.5Q137 132.7 237 127.9M98.3 40.3Q139.4 127.5 230.3 95.1M90.4 44.2C124.3 75.2 124.3 75.2 140 32M91.8 43.4C132.9 88.1 132.9 88.1 162.3 35M86.8 46.3C124.4 79.1 124.4 79.1 141.1 32M71.6 57.5C129.4 100.3 129.4 100.3 156.3 33.7M113.8 35C135.6 66.1 135.6 66.1 154.9 33.5M119.3 33.8C137.5 61.9 137.5 61.9 155.2 33.5M109.8 36.1C136.6 74.1 136.6 74.1 161.5 34.8M80.1 50.7C123.6 84.6 123.6 84.6 140.4 32M128.9 32.4C140.5 52.8 140.5 52.8 153.4 33.2M93.2 42.7C132.2 85.2 132.2 85.2 159.2 34.3M98.4 40.2C128.5 72.7 128.5 72.7 146.6 32.4M110.1 36Q143.5 99 196 50.8M84.5 47.7C129.5 89.2 129.5 89.2 154.7 33.4M99 40Q137.8 92.1 176.2 39.7M113.6 35.1C131.2 58.1 131.2 58.1 144.1 32.2M97.8 40.5C128.5 73.4 128.5 73.4 147 32.4M100.6 39.4Q141.6 107.7 201.1 54.8M122.5 33.2Q147.5 96.9 201.9 55.4M115.9 34.5Q144.7 92.1 191.1 47.5M102.1 38.8C131.6 73.8 131.6 73.8 152.6 33.1M104.2 37.9C130.4 69 130.4 69 148.3 32.5M124.8 32.9C142.5 65.1 142.5 65.1 164.4 35.6M113.1 35.2Q138 130.9 237 127.9M119.1 33.8C134.8 56.8 134.8 56.8 148.4 32.6M126.1 32.7C142.3 62.2 142.3 62.2 162.1 35M114 35C134.7 64 134.7 64 152.3 33M84.8 47.5C128.9 87.9 128.9 87.9 152.9 33.1M101.8 38.9C134.1 79.1 134.1 79.1 160 34.5M107.5 36.8C134.5 72.7 134.5 72.7 157.1 33.9M93.8 42.4C125.4 73.2 125.4 73.2 141.4 32.1M114.9 34.7C132.1 57.9 132.1 57.9 145.3 32.3M128.6 32.4Q149.4 101.3 210.9 64M90.3 44.2C132.7 89.4 132.7 89.4 162.4 35M90.7 44C130.5 84.7 130.5 84.7 155.3 33.5M76.6 53.3C131.2 99.5 131.2 99.5 162.1 35M80.9 50.1C128.7 91.3 128.7 91.3 153.3 33.2M129.2 32.4Q138.2 130.8 236.3 142.7M75.6 54.2C130.3 98.6 130.3 98.6 159.1 34.3M81.6 49.6C128.1 89.6 128.1 89.6 151.4 32.9M95.2 41.7Q139.8 125.7 226 85.6M111.2 35.7C133.4 65.4 133.4 65.4 151.2 32.9M133.1 32.1C145.7 58.2 145.7 58.2 163.6 35.4M103.5 38.2C133 74.6 133 74.6 155.5 33.6M93 42.8C127.1 76.6 127.1 76.6 145.6 32.3M82.6 48.9C131.8 95.1 131.8 95.1 162.4 35.1M107.9 36.7Q139.5 84.6 174 38.8M109.6 36.2C131.1 63.3 131.1 63.3 146.6 32.4M115.9 34.5C136.2 64.3 136.2 64.3 154.7 33.4M82.7 48.9C122.8 81 122.8 81 138.2 32M75.5 54.2C125.9 91.9 125.9 91.9 146.4 32.4M119.4 33.8Q146.5 98.5 201.9 55.4M80.3 50.6C127.1 89.3 127.1 89.3 149 32.6M115.2 34.7Q140.3 127.3 234.7 109.8M76.9 53.1C126.8 91.9 126.8 91.9 148.6 32.6M125.8 32.8Q144.2 68.2 169.1 37M103 38.4Q138 130.9 236.1 117.3M77.9 52.4C129.6 95.6 129.6 95.6 156.6 33.8M129.9 32.3Q139.2 129.7 236.9 135.7M82.1 49.3C123.7 82.7 123.7 82.7 140.3 32M106.1 37.3C132.1 69.6 132.1 69.6 151.3 32.9M107.6 36.8Q139.3 128.7 234.5 108.8M113.5 35.1C135.4 66.2 135.4 66.2 154.8 33.4M72.3 57C128.9 99.1 128.9 99.1 155 33.5M70.8 58.3C131.2 104.1 131.2 104.1 162.6 35.1M77.9 52.3C131.7 99.2 131.7 99.2 163.4 35.3M80.8 50.2C123 83.1 123 83.1 139 32M122.7 33.2Q142.2 124.6 233.8 106.1M121.8 33.3C138.4 60.1 138.4 60.1 155.3 33.5M96.5 41.1C130.5 78.3 130.5 78.3 152.6 33.1M76.8 53.2C129.7 96.6 129.7 96.6 157.1 33.9M95.3 41.7Q136.6 133 236.6 139.6M124.4 32.9C139.8 59 139.8 59 156.6 33.8M87.2 46C132.3 91.7 132.3 91.7 162.4 35.1M133.3 32.1C139.9 43.9 139.9 43.9 147.1 32.4M114.4 34.8C136.4 66.9 136.4 66.9 156.6 33.8M114.4 34.9Q145 100.8 201.5 55.1M111.6 35.6C133.8 65.7 133.8 65.7 152 33M130.6 32.3Q138.6 130.4 236.5 140.8M128.8 32.4C144 62 144 62 164.2 35.5M125.3 32.8C141.5 61.4 141.5 61.4 160.3 34.6M128 32.5C142.7 59.7 142.7 59.7 160.8 34.7M121.4 33.4Q144.9 116.9 225.5 84.7M83.4 48.4C132.4 95.8 132.4 95.8 164.5 35.6M114 34.9Q143.5 118 223.7 81.4M87.2 46C128.8 85.3 128.8 85.3 151.9 33M93.5 42.6Q139.6 106.6 193.5 49M116.2 34.4C132.9 57.6 132.9 57.6 146.3 32.4M100.8 39.3C129.5 71.7 129.5 71.7 148 32.5M73.8 55.6C130.6 100.7 130.6 100.7 160.4 34.6M83.2 48.6C126.5 85.7 126.5 85.7 146.9 32.4M111.8 35.5C136.9 72 136.9 72 160.7 34.6M101.1 39.2C131.4 74.7 131.4 74.7 152.7 33.1M126.6 32.7C137.4 50.3 137.4 50.3 148 32.5M100.4 39.4C132.6 77.8 132.6 77.8 156.5 33.7M90.8 44C126.7 78.3 126.7 78.3 145.4 32.3M77.3 52.8C129.7 96.2 129.7 96.2 157.1 33.9M72.1 57.1C126.6 95.7 126.6 95.7 148.2 32.5M82.7 48.9C126.4 86 126.4 86 146.6 32.4M99 40Q140.3 124.6 226 85.7M119.7 33.7Q141.3 126 234.4 108.6M112 35.5Q143.5 116.5 220.7 76.6M100.8 39.3Q141 121.9 222.8 80M124.4 32.9C137.7 54.4 137.7 54.4 150.8 32.8M72.6 56.7C126.6 95.3 126.6 95.3 148.2 32.5M72.1 57.1C125.2 93.8 125.2 93.8 144.6 32.2M124.2 33Q142.1 125.1 234.5 109.1M91 43.9C125.5 76.3 125.5 76.3 142.5 32.1M102.7 38.5C129.9 70 129.9 70 147.9 32.5M132.9 32.1C143.2 52 143.2 52 156.2 33.7M74.7 54.9C124.3 90.3 124.3 90.3 142.2 32.1M79.9 50.9C126.2 88.4 126.2 88.4 146.8 32.4M95.1 41.8Q140.8 115.9 209.9 62.9M106.3 37.2Q137.8 131.3 236.7 123.9M130.9 32.3Q147.6 69.5 175 39.2M72.6 56.7C129.3 99.5 129.3 99.5 156.2 33.7M105.1 37.6C133.7 74.2 133.7 74.2 156.6 33.8M116 34.5C131.2 55 131.2 55 142.7 32.1M116.9 34.3Q140.9 126.3 234.1 107.2M118.6 33.9Q139.9 128.3 236 117.3M115.6 34.6C130.9 55.1 130.9 55.1 142.3 32.1M126.4 32.7Q146.9 112.8 222.9 80.1M75.5 54.2C129.2 96.8 129.2 96.8 155.6 33.6M82 49.4C132.3 96.8 132.3 96.8 164.5 35.6M107.9 36.7Q137.9 131.1 236.7 124M104.1 38C127.9 65 127.9 65 142.5 32.1M116.2 34.4C129.6 52 129.6 52 139 32M116.1 34.5C131 54.3 131 54.3 141.9 32.1M73.8 55.6C125.6 92.9 125.6 92.9 145.7 32.3M87.1 46.1C128.7 85.2 128.7 85.2 151.6 32.9M107.6 36.8Q137.1 132.2 237 134.1M135 32C144.6 51.2 144.6 51.2 157.2 33.9M76.2 53.7C124.2 88.9 124.2 88.9 142.1 32.1M124.3 32.9C140.7 61.1 140.7 61.1 159.1 34.3M72.9 56.4C128.4 97.7 128.4 97.7 153.4 33.2M119.9 33.7Q141.2 126.1 234.6 109.1M100.9 39.2Q138.7 129.6 234 106.9M99.5 39.8C134.2 82.3 134.2 82.3 162 35M101.4 39C132.8 76.9 132.8 76.9 156.4 33.7M129.2 32.4Q140.7 127.9 236.8 125M91.8 43.4Q139.1 127.6 227.6 88.9M99.9 39.6Q137.1 132.4 237 128.4M134.5 32.1Q149.5 109.8 223 80.3M118.8 33.9C132.3 52.7 132.3 52.7 142.8 32.1M79.8 50.9C124.3 85.7 124.3 85.7 142 32.1M91.2 43.8Q137.9 131.3 234.1 107.1M111.7 35.6Q142.3 88.6 183 42.8M114.1 34.9C135.7 66 135.7 66 155.1 33.5M122.5 33.2Q145.8 114.4 223 80.3M134 32.1Q146.9 117.3 230.1 94.7M95.3 41.7Q138.7 129.4 232.1 100.2M105.7 37.4Q142.8 113.1 212.7 66M99.8 39.7C129.1 72.2 129.1 72.2 147.6 32.5M107.2 36.9C133.3 70.5 133.3 70.5 153.8 33.3M114 35C133.1 61 133.1 61 148.4 32.5M116 34.5C131.1 54.6 131.1 54.6 142.3 32.1M90.9 43.9C127.5 79.4 127.5 79.4 147.3 32.4M75.9 53.9C127.6 94.1 127.6 94.1 151 32.9M80.3 50.6C128.9 92.1 128.9 92.1 153.9 33.3M93.9 42.4Q136.8 132.9 237 131.8M118.3 34Q138.1 130.9 237 132.6M114.5 34.8Q138.3 130.6 236.9 126.8M74.4 55.1C122.6 88.5 122.6 88.5 138.2 32M100.8 39.2Q138.9 129.1 233.3 104.3M100.7 39.3C129.6 71.9 129.6 71.9 148.3 32.5M105.3 37.5C129.6 66.3 129.6 66.3 145.7 32.3M124.5 32.9Q145.1 118.1 227.9 89.6M118.3 34C133.6 55.8 133.6 55.8 146.3 32.3M112.1 35.5Q140.1 127.4 234.1 107.1M86.3 46.6C128.7 86.1 128.7 86.1 151.9 33M101.9 38.8C128.1 68 128.1 68 144.1 32.2M93.2 42.7Q139.9 124.1 222.3 79M109.5 36.2Q139.2 129 235.2 112.1M113.2 35.2C135.4 66.8 135.4 66.8 155.1 33.5M105.3 37.6C127.5 63 127.5 63 141.1 32M96.5 41.1C133 83.2 133 83.2 160 34.5M103.1 38.3C128.6 67.3 128.6 67.3 144.6 32.2M100.8 39.3Q136.8 132.7 237 133.9M126.7 32.6C133.5 42.8 133.5 42.8 139.1 32M91.8 43.4Q137.6 131.9 235.4 113M99.4 39.8C134.4 82.8 134.4 82.8 162.8 35.1M87.2 46C127.2 82.8 127.2 82.8 147.7 32.5M91.2 43.8C129.3 82 129.3 82 151.8 33M91 43.8Q138.6 129.5 230.8 96.5M97.5 40.7C128.4 73.7 128.4 73.7 147 32.4M134.2 32.1C145.4 54.9 145.4 54.9 160.8 34.7M112.6 35.3Q136.9 132.3 236.5 141.3M111.9 35.5C133.6 64.7 133.6 64.7 151.1 32.9M127.8 32.5C139 51.5 139 51.5 150.8 32.8M127.5 32.6C139.7 53.6 139.7 53.6 152.9 33.1M87.2 46C124 78.2 124 78.2 140.2 32M92.1 43.3C130.5 83.2 130.5 83.2 154.8 33.4M100.3 39.5Q138 131 235.7 115M76 53.8C129.1 96.3 129.1 96.3 155.2 33.5M105.8 37.4Q141.8 121 223.9 81.8M77.9 52.3C123.1 85.9 123.1 85.9 139.3 32M124.4 32.9Q143 123.3 233.1 103.3M120.7 33.5Q143.3 121.5 230.3 95.1M83.2 48.5C129 89.5 129 89.5 153.5 33.2M116.2 34.4C138.8 69.9 138.8 69.9 162.4 35M124.3 32.9Q145.3 75.1 176.4 39.7M83.6 48.3C129.7 90.4 129.7 90.4 155.6 33.6M123.1 33.1C138.9 59 138.9 59 155.3 33.5M89.2 44.8C124.2 76.3 124.2 76.3 140.1 32M102.7 38.5Q138.7 129.7 234.5 109.1M99.6 39.7Q139.3 128.1 231.6 98.7M122.9 33.2Q138.2 130.7 236.9 136.3M105.8 37.4C126.3 60.5 126.3 60.5 138.2 32M126.7 32.6C137.4 50 137.4 50 147.8 32.5M122.2 33.3C137.5 57.4 137.5 57.4 152.4 33.1M113.2 35.1C130.3 57.1 130.3 57.1 142.4 32.1M101.7 38.9C125.5 64.3 125.5 64.3 138.5 32M110.2 36C133 66 133 66 151 32.9M97.8 40.5C132.6 81 132.6 81 158.1 34.1M114 35Q141 125.7 232.8 102.5M92.2 43.2C130.7 83.5 130.7 83.5 155.3 33.5M111.8 35.5C130 58.6 130 58.6 142.7 32.1M109.4 36.2C137.4 76.5 137.4 76.5 164.4 35.6M71.8 57.4C122.7 90.9 122.7 90.9 138.4 32M115.7 34.5Q140.8 126.4 234 106.7M100.5 39.4C125.6 65.8 125.6 65.8 139.2 32M93.1 42.8C132.9 86.8 132.9 86.8 161.7 34.9M130.6 32.3Q138.5 130.5 236.4 141.7M71.5 57.6C126.4 95.9 126.4 95.9 147.6 32.5M101.9 38.8C132.5 75.8 132.5 75.8 155.3 33.5M125.7 32.8C137.3 51.3 137.3 51.3 148.4 32.6M80.1 50.7C130.9 95.9 130.9 95.9 160.4 34.6M128.2 32.5Q141.7 126.3 236 116.8M115.2 34.7C137.7 68.8 137.7 68.8 159.9 34.5M72 57.2C123 91 123 91 139 32M71.8 57.4C126.2 95.4 126.2 95.4 147 32.4M105 37.7C131.7 70.3 131.7 70.3 151 32.9M121.4 33.4Q146.5 88.7 191 47.4M107.5 36.8Q141.7 122 226.1 85.8M71.9 57.3C130.5 102 130.5 102 160.2 34.5M121.3 33.4Q139.2 129.6 236.9 126.6M75.6 54.2C126.6 92.7 126.6 92.7 148.1 32.5M124.5 32.9Q142.9 123.5 233.3 104.2M96.5 41.1Q139.9 125.3 226 85.6M99 40Q136.7 132.9 236.8 137.8M99.6 39.8Q140.3 124.9 226.8 87.2M96.5 41.1Q141 117.6 213.6 67M88.4 45.3C127.7 82.4 127.7 82.4 148.7 32.6M89.7 44.6C129.4 83.7 129.4 83.7 152.6 33.1M113.2 35.2Q138.4 130.4 236.8 124M118.9 33.9C134.6 56.8 134.6 56.8 148.2 32.5M103.6 38.2C131.9 72.5 131.9 72.5 152.6 33.1M100.2 39.5C125.5 66.1 125.5 66.1 139.2 32M72.5 56.8C126.3 95 126.3 95 147.4 32.4M121.5 33.4C141.3 67.6 141.3 67.6 164.5 35.6M87.6 45.8C123.2 76.6 123.2 76.6 138.3 32M124 33C136.5 52.5 136.5 52.5 148.2 32.5M113.5 35.1C136.4 68.2 136.4 68.2 157.4 33.9M93.1 42.8C131.5 84 131.5 84 157.3 33.9M80.4 50.5C132.1 97.8 132.1 97.8 164.2 35.5M112.7 35.3C131.2 59.4 131.2 59.4 144.7 32.2M105.6 37.5C133.9 73.9 133.9 73.9 156.8 33.8M81.4 49.8C128.3 90.2 128.3 90.2 152.1 33M104.3 37.9C130.6 69.4 130.6 69.4 148.9 32.6M118.8 33.9C138.7 65.5 138.7 65.5 159.3 34.3M83 48.7C122.8 80.8 122.8 80.8 138.3 32M77.2 52.9C124.6 88.5 124.6 88.5 142.9 32.1M95.3 41.7Q140.4 122 219.9 75.4M75.7 54.1C125.6 91.2 125.6 91.2 145.5 32.3M84.7 47.6C124.2 80.9 124.2 80.9 141.1 32M99.8 39.7C132.9 79.1 132.9 79.1 157.6 34M83.5 48.3C126.9 85.9 126.9 85.9 147.7 32.5M86.3 46.5C130.4 88.9 130.4 88.9 156.7 33.8M82.1 49.3C124.7 84.2 124.7 84.2 142.8 32.1M105.7 37.4C132.2 70.5 132.2 70.5 152 33M113.7 35Q142.1 83.8 178.3 40.6M103.2 38.3C130.5 70.5 130.5 70.5 149.2 32.6M97.9 40.5Q139.2 128.1 230.9 96.9M93.2 42.7C132 85 132 85 158.9 34.2M74.6 54.9C126.4 93.4 126.4 93.4 147.8 32.5M110.1 36C133.5 67.2 133.5 67.2 152.4 33.1M76.8 53.2C124.2 88.3 124.2 88.3 141.9 32.1M112.5 35.4C134.3 65.3 134.3 65.3 152.5 33.1M85.8 46.9C129.4 87.7 129.4 87.7 154 33.3M82.5 49.1C132.4 96.5 132.4 96.5 164.5 35.6M71.8 57.4C127.7 97.6 127.7 97.6 151.3 32.9M72.1 57.1C128.2 98.1 128.2 98.1 152.8 33.1M115.3 34.6Q137 132.1 236.3 142.4M72 57.2C131.2 103.1 131.2 103.1 162.4 35M118.7 33.9C138.1 64.3 138.1 64.3 157.6 34M89.3 44.8C125 77.5 125 77.5 141.9 32.1M87.1 46.1C129.2 86.1 129.2 86.1 152.9 33.1M78.9 51.6C129.2 93.8 129.2 93.8 155 33.5M99.6 39.7C130.5 74.7 130.5 74.7 151 32.9M86.6 46.4C128.9 86.2 128.9 86.2 152.4 33.1M113.2 35.2C134.3 64.5 134.3 64.5 152.1 33M132.8 32.1C136.5 38.2 136.5 38.2 139.9 32M93.2 42.7Q137.6 98.6 180.4 41.5M96.6 41.1C128.5 74.8 128.5 74.8 147.5 32.5M125.1 32.8C139.1 56.3 139.1 56.3 153.9 33.3M100 39.6C133.5 80 133.5 80 159.3 34.3M100.1 39.5C129.5 72.5 129.5 72.5 148.3 32.5M132 32.2Q150.9 95.1 205.7 58.8M118.5 33.9C134.4 57 134.4 57 148 32.5M98.3 40.3C131.5 78.1 131.5 78.1 154.5 33.4M114 35C132.5 60 132.5 60 147.1 32.4M99.9 39.6C130.6 74.6 130.6 74.6 151.3 32.9M113.7 35C137.5 70.5 137.5 70.5 160.6 34.6M100.9 39.2Q136.6 132.9 236.5 141M113.4 35.1Q143.2 119 224.7 83.2M87.1 46.1C124.9 79.4 124.9 79.4 142.1 32.1M108.5 36.5C131.5 65.4 131.5 65.4 148.2 32.5M99.3 39.9C124.9 66.2 124.9 66.2 138.2 32M90.3 44.3C126.1 78 126.1 78 144.2 32.2M77.9 52.3C128.9 94.3 128.9 94.3 154.4 33.4M112.7 35.3C132.9 62.4 132.9 62.4 148.9 32.6M112.3 35.4Q143.2 118.1 223 80.2M85.8 46.9C128.6 86.4 128.6 86.4 151.8 33M120.6 33.5Q137.5 131.5 236.5 140.8M115.2 34.7C137.9 69.2 137.9 69.2 160.5 34.6M102.4 38.6Q142.1 111.9 208.7 61.7M72 57.2C131.2 103.1 131.2 103.1 162.5 35.1M102.4 38.6C125.9 64.1 125.9 64.1 139.1 32M80.8 50.2C127.9 90 127.9 90 151 32.9M107.4 36.8C130.9 65.8 130.9 65.8 147.5 32.5M105.1 37.6Q139.8 127.4 232.3 101M82.4 49.1C122.9 81.3 122.9 81.3 138.4 32M97.9 40.5Q139.8 126.4 228.3 90.5M118.1 34C138.9 67.2 138.9 67.2 160.7 34.6M87.5 45.9C127.2 82.5 127.2 82.5 147.7 32.5M106.8 37C136 76.8 136 76.8 162.1 35M99.4 39.9C134.6 83.3 134.6 83.3 163.5 35.3M126.6 32.7C137.6 50.5 137.6 50.5 148.3 32.5M83.6 48.3C124.6 82.5 124.6 82.5 142.2 32.1M97.7 40.6Q138.9 128.9 232.1 100.2M128.2 32.5C140 53 140 53 152.9 33.1M123.3 33.1C140.2 61.8 140.2 61.8 158.9 34.2M120.9 33.5C139.9 65 139.9 65 160.6 34.6M93.8 42.4C130.8 82 130.8 82 155 33.5M81.2 49.9C129 91.5 129 91.5 154.1 33.3M84.6 47.7C124.6 81.6 124.6 81.6 142.1 32.1M86 46.8C123.9 79.2 123.9 79.2 140.1 32M93.8 42.4Q136.7 133 236.9 135.5M122.5 33.2Q141.4 126.1 235 111.4M84.3 47.8C130.4 91 130.4 91 157.5 33.9M73 56.3C128.1 97.1 128.1 97.1 152.3 33M118.2 34C132.9 54.7 132.9 54.7 144.7 32.2M102 38.8C128.4 68.4 128.4 68.4 144.7 32.2M76 53.8C131.3 100.2 131.3 100.2 162.5 35.1M119.4 33.8Q145.5 88.1 188.6 45.9M77.7 52.5C126 90 126 90 146.4 32.4M71.4 57.7C126.9 96.8 126.9 96.8 149.1 32.6M122.1 33.3C137 56.8 137 56.8 151.4 32.9M106.3 37.2Q137 132.3 236.9 135.1M128.4 32.5C135.1 43 135.1 43 141.1 32M116.7 34.3C135.1 61 135.1 61 151.3 32.9M113 35.2C132.3 60.9 132.3 60.9 147.2 32.4M81.6 49.7C131.6 95.8 131.6 95.8 162.2 35M93.6 42.5Q136.9 132.9 237 128.7M120.8 33.5Q140.7 127.1 235.5 114M128 32.5Q138.2 130.8 236.4 141.7M134 32.1C142.8 48.7 142.8 48.7 153.4 33.2M92.5 43.1Q136.7 132.9 236.3 142.6M93.5 42.6Q137.9 131.2 234.5 109M83.1 48.6C128.3 88.5 128.3 88.5 151.6 32.9M99.5 39.8Q140 126 228.3 90.4M127.1 32.6C142.2 60.1 142.2 60.1 160.4 34.6M90.2 44.3C126.1 77.9 126.1 77.9 144 32.2M101.3 39Q136.6 132.8 236.6 140.4M108.6 36.5C135 72.2 135 72.2 157.7 34M109.9 36.1C131.9 64.3 131.9 64.3 148.3 32.5M94.8 41.9Q137.6 131.8 235.7 115.2M114.9 34.7C134.4 62.2 134.4 62.2 151 32.9M115.5 34.6C133.6 59.7 133.6 59.7 148.3 32.5M107.4 36.8C130.4 65 130.4 65 146.3 32.4M98.7 40.1C129.5 74.2 129.5 74.2 149.1 32.6M126.1 32.7C142.8 63.3 142.8 63.3 163.5 35.3M80.7 50.2C130.9 95.2 130.9 95.2 160 34.5M91.5 43.6Q138 131.1 233.8 106.1M130 32.3Q139.8 129.1 237 131.9M80 50.8C124.1 85.2 124.1 85.2 141.4 32.1M115.6 34.6C133.5 59.4 133.5 59.4 148 32.5M86.9 46.2C126 81.2 126 81.2 144.7 32.2M106.3 37.2Q137.5 131.8 237 127.9M113.7 35Q143.6 117.3 222.6 79.6M113.4 35.1Q140.1 127.6 234.6 109.4M127.4 32.6C138.1 50.4 138.1 50.4 148.9 32.6M124.2 33Q148.1 99.6 206.4 59.4M120.7 33.5Q142.1 124.5 233.3 104.2M106.6 37.1C130.9 66.8 130.9 66.8 148 32.5M105.9 37.4C126.4 60.6 126.4 60.6 138.5 32M104.3 37.9C134.3 76.5 134.3 76.5 159 34.3M115.3 34.6Q141.2 125.5 232.9 102.9M127.6 32.5C139 51.7 139 51.7 150.8 32.8M82.3 49.1C132.3 96.6 132.3 96.6 164.5 35.6M125.1 32.8Q144.5 70.7 171.6 37.9M133.7 32.1Q144.3 122.6 234.4 108.6M113.5 35.1C138.5 73.4 138.5 73.4 164.3 35.5M99.9 39.6Q136.7 132.8 236.8 137.2M87.8 45.6C125.3 79.3 125.3 79.3 142.9 32.1M124.4 32.9C133.2 45.9 133.2 45.9 140.4 32M123.3 33.1C137.4 55.7 137.4 55.7 151.3 32.9M83.8 48.1C129.6 90 129.6 90 155.2 33.5M105.3 37.6Q138.3 130.5 236 116.9M124.3 33C136.1 51.5 136.1 51.5 147.1 32.4M78.2 52.1C128.6 93.5 128.6 93.5 153.4 33.2M133 32.1C136.3 37.6 136.3 37.6 139.4 32M92.1 43.3C129.5 81.5 129.5 81.5 152.1 33M106.8 37.1C128.6 62.8 128.6 62.8 142.6 32.1M86.8 46.3C127.1 83 127.1 83 147.5 32.5M113.8 35Q144.9 106.7 208.9 61.9M83.1 48.6C122.9 80.7 122.9 80.7 138.4 32M90.3 44.3C125.5 77.1 125.5 77.1 142.7 32.1M124.1 33Q138.8 130 237 132.3M82.7 48.9C128.1 88.7 128.1 88.7 151.3 32.9M112.1 35.4Q143.4 93.4 189.8 46.7M103.6 38.2C131.8 72.2 131.8 72.2 152.2 33M119.7 33.7C139.9 67 139.9 67 162 35M102.3 38.6C132.1 74.5 132.1 74.5 153.9 33.3M98.6 40.2Q138.1 130.8 235.1 111.9M81.5 49.7C131 94.7 131 94.7 160.1 34.5M102.5 38.6C132.5 74.9 132.5 74.9 154.7 33.4M99.6 39.8C134.5 82.6 134.5 82.6 162.7 35.1M114.4 34.9Q137 132.1 236.5 141.4M114.9 34.7C135.7 64.8 135.7 64.8 154.3 33.4M114.3 34.9C130.6 56.1 130.6 56.1 142.3 32.1M87.4 45.9C131.7 90.4 131.7 90.4 160.5 34.6M93 42.8C131.5 84.2 131.5 84.2 157.4 33.9M125.4 32.8C136.3 50.1 136.3 50.1 146.5 32.4M113.1 35.2C132.5 61 132.5 61 147.5 32.5M103.3 38.3Q137 132.4 237 132.3M86 46.8C125.6 81.5 125.6 81.5 144 32.2M112.7 35.3Q137.8 131.2 237 129.6M119.2 33.8C137.9 63.1 137.9 63.1 156.5 33.7M109.2 36.3C131.9 65.3 131.9 65.3 148.9 32.6M90.3 44.2C129.8 83.9 129.8 83.9 153.6 33.2M100 39.6Q137.8 131.4 236.1 117.8M112 35.5Q137.3 131.9 236.9 135.4M86.5 46.5C124 78.9 124 78.9 140.3 32M72 57.2C129.1 99.6 129.1 99.6 155.6 33.6M134.3 32.1C139.7 41.7 139.7 41.7 145.5 32.3M91.1 43.8Q138.8 106.2 190.6 47.2M103 38.4Q136.7 132.7 236.7 139.2M104.1 38C134.4 76.8 134.4 76.8 159.2 34.3M100.4 39.4Q139.5 127.5 231 96.9M101.4 39Q137.8 88.7 173.6 38.6M105.6 37.4Q141.4 122.3 225.6 84.9M126.2 32.7C137.1 50.2 137.1 50.2 147.5 32.5M113.9 35C130.4 56.4 130.4 56.4 142.2 32.1M126.1 32.7C132.8 42.7 132.8 42.7 138.3 32M114.4 34.9Q137.1 132 236.6 140.3M79.9 50.9C124.7 86.2 124.7 86.2 142.9 32.1M109.8 36.1C133.5 67.6 133.5 67.6 152.6 33.1M134.4 32.1Q138.9 130.1 236.3 142.5M109.5 36.2C134.5 69.9 134.5 69.9 155.5 33.6M101.1 39.1C129.7 71.5 129.7 71.5 148.2 32.5M84.7 47.5C127.5 85.7 127.5 85.7 149.1 32.6M93.9 42.4Q138.9 128.7 230.5 95.7M102.9 38.4Q142 116.5 215.8 69.8M114.3 34.9Q143.8 90.4 187.6 45.3M75.7 54C131.3 100.4 131.3 100.4 162.6 35.1M78.7 51.7C125.6 88.6 125.6 88.6 145.4 32.3M133 32.1C144.3 54.4 144.3 54.4 159.1 34.3M98.4 40.2C128.9 73.3 128.9 73.3 147.6 32.5M128.1 32.5C143.6 62 143.6 62 163.6 35.4M124.4 32.9C139.9 59.3 139.9 59.3 156.8 33.8M104.8 37.7Q136.6 132.7 236.5 141.3M120.6 33.5Q144.7 117.4 225.8 85.2M86.3 46.6C129.6 87.6 129.6 87.6 154.5 33.4M80 50.7C123.6 84.6 123.6 84.6 140.4 32M100.8 39.3C132.4 76.9 132.4 76.9 155.6 33.6M86.3 46.6C132.8 93.7 132.8 93.7 164.6 35.6M89.6 44.6C125.3 77.4 125.3 77.4 142.4 32.1M128.5 32.5Q140.8 127.7 236.7 123.1M83.2 48.5C130.7 92.6 130.7 92.6 158.8 34.2M92 43.3C130.2 82.9 130.2 82.9 154.1 33.3M120.5 33.6Q142.2 124.2 232.9 102.8M86.7 46.3C129.7 87.4 129.7 87.4 154.6 33.4M77.7 52.5C125.7 89.5 125.7 89.5 145.6 32.3M99.8 39.7Q139.4 96.5 183.6 43.1M97.4 40.7C133.2 82.5 133.2 82.5 160.1 34.5M125 32.9C142 63.2 142 63.2 162.3 35M103.1 38.3C134.5 78.2 134.5 78.2 160.2 34.5M118.5 33.9C133 54.4 133 54.4 144.7 32.2M133 32.1C142.1 49 142.1 49 152.8 33.1M100.5 39.4C133 78.4 133 78.4 157.5 33.9M72.4 56.9C123.2 91 123.2 91 139.5 32M112.4 35.4Q143.5 93.2 189.8 46.7M71.1 58C127.9 98.5 127.9 98.5 151.9 33M104.6 37.8Q137.3 132 237 128.1M94.6 42Q139.5 104.8 191.6 47.8M124.7 32.9C132.3 43.9 132.3 43.9 138.3 32M128.7 32.4C139.8 51.5 139.8 51.5 151.7 32.9M124.2 33C136.9 53.1 136.9 53.1 149.1 32.6M103.7 38.1C135.7 80.2 135.7 80.2 163.7 35.4M126.5 32.7C141.6 59.5 141.6 59.5 159.2 34.3M84.8 47.5C128.4 87.1 128.4 87.1 151.6 32.9M85.7 46.9C131.9 92.5 131.9 92.5 161.8 34.9M115.8 34.5C130.9 54.7 130.9 54.7 142.1 32.1M105.3 37.5Q138.8 129.7 235.1 111.6M102.3 38.7C131.3 73 131.3 73 151.8 33M96.5 41.1C132.2 81.5 132.2 81.5 157.5 33.9M125.6 32.8Q147.8 84.3 188.7 45.9M98.3 40.3Q140.9 121.3 220.6 76.4M82.6 48.9C125.9 85.4 125.9 85.4 145.6 32.3M96.1 41.3Q140.9 116.7 211.8 65M111 35.7Q141 84.5 176.9 39.9M115.2 34.7C131.9 57.2 131.9 57.2 144.7 32.2M109.9 36.1C133.5 67.2 133.5 67.2 152.3 33M73.7 55.7C128.2 96.8 128.2 96.8 152.8 33.1M79.9 50.8C127 89.4 127 89.4 148.6 32.6M131.7 32.2C139.3 45.4 139.3 45.4 147.3 32.4M115.5 34.6Q140.4 127.2 234.6 109.4M121.8 33.3C141.1 66.6 141.1 66.6 163.6 35.4M101.3 39C132.8 77 132.8 77 156.4 33.7M123.9 33Q137.9 131.1 236.6 140.1M121.9 33.3C138 59 138 59 154.2 33.3M97.8 40.5C125.2 68.4 125.2 68.4 139.4 32M82.3 49.2C125.9 85.7 125.9 85.7 145.6 32.3M123.4 33.1Q138 131 236.7 138.7M91.9 43.4Q136.9 132.9 236.9 126.7M83.2 48.5C128.1 88.2 128.1 88.2 151.2 32.9M89.4 44.7C132.3 89.5 132.3 89.5 161.6 34.8M100.9 39.2C129.8 72.1 129.8 72.1 148.7 32.6M81.2 49.9C129.4 92.1 129.4 92.1 155.3 33.5M114.1 34.9C133.1 60.9 133.1 60.9 148.4 32.5M84.7 47.6C126.9 84.7 126.9 84.7 147.5 32.5M93 42.8C125.7 74.5 125.7 74.5 142.3 32.1M104.6 37.8Q141.4 97.6 189.5 46.5M124.4 32.9Q142.3 124.8 234.3 108.2M83.6 48.3C126.6 85.4 126.6 85.4 147.1 32.4M97.7 40.6C128.9 74.2 128.9 74.2 148 32.5M124 33C136.9 53.3 136.9 53.3 149.2 32.6M76.7 53.3C131.3 99.5 131.3 99.5 162.2 35M98.4 40.3C130.5 76.1 130.5 76.1 151.7 32.9M100.7 39.3C127.3 68.2 127.3 68.2 142.9 32.1M76.9 53.1C128.9 95.1 128.9 95.1 154.5 33.4M93.1 42.8C129.9 81.1 129.9 81.1 152.7 33.1M119.8 33.7C136.1 58.4 136.1 58.4 151.2 32.9M83.2 48.5C124.7 83 124.7 83 142.5 32.1M95.6 41.6C125 70.7 125 70.7 139.9 32M124.4 32.9C142.3 65.3 142.3 65.3 164.4 35.6M113.2 35.2C134.5 64.9 134.5 64.9 152.6 33.1M75.9 53.9C126.2 91.9 126.2 91.9 147.1 32.4M126.7 32.6C140.2 55.9 140.2 55.9 155.1 33.5M110.3 36Q141.8 122.6 227.9 89.6M105 37.7C130 67.4 130 67.4 147 32.4M131.9 32.2Q145.5 119.8 231.8 99.4M76.3 53.6C130.7 98.8 130.7 98.8 160.3 34.5M71 58.1C130.6 103 130.6 103 160.6 34.6M74.7 54.8C124.4 90.4 124.4 90.4 142.4 32.1M76.4 53.5C127.8 93.8 127.8 93.8 151.4 32.9M102 38.8C131.5 73.8 131.5 73.8 152.5 33.1M74 55.5C131 101.2 131 101.2 161.6 34.9M103.3 38.3C127.8 65.9 127.8 65.9 142.8 32.1M79 51.5C128.3 92.3 128.3 92.3 152.4 33.1M83.5 48.4C127 86.2 127 86.2 148.1 32.5M133.4 32.1C146.1 58.7 146.1 58.7 164.4 35.6M104.2 38C132.5 72.9 132.5 72.9 153.7 33.3M113.5 35.1C138 72.1 138 72.1 162.6 35.1M74.7 54.9C130.8 100.2 130.8 100.2 160.9 34.7M128.7 32.4Q139.9 128.9 237 129.8M121.7 33.4C134.5 52.4 134.5 52.4 145.6 32.3M113.7 35C130.2 56.4 130.2 56.4 142 32.1M89.8 44.5C124 75.5 124 75.5 139.6 32M105.6 37.4C134.4 74.9 134.4 74.9 158.1 34.1M111.8 35.5Q137.3 131.9 236.9 135.9M114.2 34.9C131.5 57.9 131.5 57.9 144.5 32.2M115.6 34.6C134.8 62 134.8 62 151.4 32.9M133.9 32.1C145.2 55.1 145.2 55.1 160.7 34.6M99.9 39.6Q141.2 120.3 219.9 75.4M118.6 33.9C131.8 52.1 131.8 52.1 141.9 32.1M125.6 32.8C138.6 54.3 138.6 54.3 152 33M112.7 35.3C137.1 71 137.1 71 160.4 34.6M111.4 35.6C131.6 61.8 131.6 61.8 146.6 32.4M129 32.4Q143.9 122.4 233.3 104.3M91 43.9C130.8 85 130.8 85 156.2 33.7M108.5 36.5C134.5 71.2 134.5 71.2 156.2 33.7M105.4 37.5Q137.2 132.1 237 130.6M96.5 41.1Q139.7 126.3 227.5 88.8M112.3 35.4C133.9 64.9 133.9 64.9 151.7 33M98.2 40.3C131.6 78.3 131.6 78.3 154.8 33.4M135 32C144.6 51.2 144.6 51.2 157.2 33.9M119.3 33.8C134.2 55.4 134.2 55.4 146.9 32.4M84.4 47.8C129.7 89.6 129.7 89.6 155.3 33.5M104.2 38C135.5 79.1 135.5 79.1 162.5 35.1M112.2 35.4C135.2 67.6 135.2 67.6 155.2 33.5M97.1 40.8Q139.9 102.8 190.7 47.2M133.3 32.1C139.7 43.3 139.7 43.3 146.5 32.4M84.4 47.7C132 93.9 132 93.9 162.6 35.1M120.1 33.6Q139.3 129.3 236.7 123.7M125.9 32.7C140.4 57.8 140.4 57.8 156.4 33.7M99.8 39.7Q141.6 111.1 205.7 58.8M77 53C129.6 96.2 129.6 96.2 156.5 33.7M102.6 38.6C135.6 81.6 135.6 81.6 164.4 35.6M90.3 44.3C125.4 76.8 125.4 76.8 142.4 32.1M106.4 37.2Q136.7 132.6 236.5 141M102.1 38.7Q136.7 132.7 236.8 137.3M97.6 40.6C134.6 85.4 134.6 85.4 164.6 35.6M125 32.9C137 52 137 52 148.6 32.6M124.1 33C134.7 49.2 134.7 49.2 144 32.2M82.3 49.1C130.6 93.3 130.6 93.3 158.8 34.2M87.8 45.7C130.7 88 130.7 88 157.1 33.9M98.7 40.1Q138.8 129.2 232.9 102.8M122.9 33.2Q141.1 126.6 235.5 113.8M121.4 33.4C139.6 63.5 139.6 63.5 159.2 34.3M82.5 49C132.4 96.5 132.4 96.5 164.5 35.6M81.8 49.5C126.9 87.6 126.9 87.6 148.3 32.5M110.3 36C134 67.9 134 67.9 153.6 33.2M113.5 35.1Q143 119.8 225.7 85M105.2 37.6C126.2 61.1 126.2 61.1 138.3 32M119.5 33.7Q142 124.4 232.9 102.8M89.5 44.7C129.6 84.3 129.6 84.3 153.3 33.2" stroke="#4B79C1" stroke-width="0.32" stroke-opacity="1.00"/>
</g>
<path d="M138.18 25.80A105.20 105.20 0 0 1 166.29 29.68" fill="none" stroke="#E22ED6" stroke-width="1.70"/>
<path d="M169.46 30.61A105.20 105.20 0 0 1 199.69 45.78" fill="none" stroke="#E22ED6" stroke-width="1.70"/>
<path d="M202.33 47.76A105.20 105.20 0 0 1 222.89 68.87" fill="none" stroke="#E22ED6" stroke-width="1.70"/>
<path d="M224.80 71.57A105.20 105.20 0 0 1 234.55 89.22" fill="none" stroke="#E22ED6" stroke-width="1.70"/>
<path d="M235.81 92.27A105.20 105.20 0 0 1 242.30 117.27" fill="none" stroke="#E22ED6" stroke-width="1.70"/>
<path d="M242.68 120.55A105.20 105.20 0 0 1 242.32 144.55" fill="none" stroke="#E22ED6" stroke-width="1.70"/>
<path d="M241.85 147.82A105.20 105.20 0 0 1 206.74 210.64" fill="none" stroke="#B01C2E" stroke-width="1.70"/>
<path d="M204.20 212.76A105.20 105.20 0 0 1 132.31 236.05" fill="none" stroke="#F4875B" stroke-width="1.70"/>
<path d="M129.01 235.82A105.20 105.20 0 0 1 65.99 207.69" fill="none" stroke="#FDD98C" stroke-width="1.70"/>
<path d="M63.61 205.39A105.20 105.20 0 0 1 32.81 129.90" fill="none" stroke="#CCE1EF" stroke-width="1.70"/>
<path d="M32.89 126.59A105.20 105.20 0 0 1 64.20 56.03" fill="none" stroke="#5EA3D3" stroke-width="1.70"/>
<path d="M66.59 53.75A105.20 105.20 0 0 1 134.88 25.85" fill="none" stroke="#4A78BF" stroke-width="1.70"/>
<text x="152.10" y="22.70" font-size="7.80" font-weight="bold" textLength="4.80" lengthAdjust="spacingAndGlyphs" stroke="#000" stroke-width="0.2">X</text>
<text x="186.50" y="33.60" font-size="7.80" font-weight="bold" textLength="4.80" lengthAdjust="spacingAndGlyphs" stroke="#000" stroke-width="0.2">V</text>
<text x="216.30" y="55.40" font-size="7.80" font-weight="bold" textLength="7.00" lengthAdjust="spacingAndGlyphs" stroke="#000" stroke-width="0.2">IV</text>
<text x="235.20" y="79.20" font-size="7.80" font-weight="bold" textLength="6.00" lengthAdjust="spacingAndGlyphs" stroke="#000" stroke-width="0.2">III</text>
<text x="246.40" y="104.90" font-size="7.80" font-weight="bold" textLength="4.60" lengthAdjust="spacingAndGlyphs" stroke="#000" stroke-width="0.2">II</text>
<text x="249.60" y="135.80" font-size="7.80" font-weight="bold" textLength="2.40" lengthAdjust="spacingAndGlyphs" stroke="#000" stroke-width="0.2">I</text>
<text x="241.30" y="187.20" font-size="8.20" font-weight="bold" text-anchor="middle" stroke="#000" stroke-width="0.2">1</text>
<text x="176.00" y="240.60" font-size="8.20" font-weight="bold" text-anchor="middle" stroke="#000" stroke-width="0.2">2</text>
<text x="89.60" y="236.90" font-size="8.20" font-weight="bold" text-anchor="middle" stroke="#000" stroke-width="0.2">3</text>
<text x="32.50" y="179.90" font-size="8.20" font-weight="bold" text-anchor="middle" stroke="#000" stroke-width="0.2">4</text>
<text x="35.40" y="85.10" font-size="8.20" font-weight="bold" text-anchor="middle" stroke="#000" stroke-width="0.2">5</text>
<text x="96.30" y="28.40" font-size="7.80" font-weight="bold" textLength="4.80" lengthAdjust="spacingAndGlyphs" stroke="#000" stroke-width="0.2">X</text>
<text x="196.80" y="28.80" font-size="8.00" font-weight="bold" font-style="italic" textLength="55.00" lengthAdjust="spacingAndGlyphs" stroke="#000" stroke-width="0.2">Caenorhabditis</text>
<text x="225.80" y="37.00" font-size="8.00" font-weight="bold" font-style="italic" textLength="28.30" lengthAdjust="spacingAndGlyphs" stroke="#000" stroke-width="0.2">elegans</text>
<text x="0.60" y="215.30" font-size="7.80" font-weight="bold" font-style="italic" textLength="47.40" lengthAdjust="spacingAndGlyphs" stroke="#000" stroke-width="0.2">Haemonchus</text>
<text x="13.20" y="224.20" font-size="7.80" font-weight="bold" font-style="italic" textLength="34.20" lengthAdjust="spacingAndGlyphs" stroke="#000" stroke-width="0.2">contortus</text>
<text x="41.40" y="233.60" font-size="8.60" font-weight="bold" font-style="italic" textLength="8.00" lengthAdjust="spacingAndGlyphs" stroke="#000" stroke-width="0.2">V4</text>
<text x="18.30" y="13.60" font-size="18.60" font-weight="bold">a</text>
<text x="284.60" y="13.60" font-size="19.50" font-weight="bold">b</text>
<rect x="313.20" y="24.50" width="50.30" height="84.60" fill="#fff"/>
<path d="M313.20 105.20H363.50M313.20 89.12H363.50M313.20 73.05H363.50M313.20 56.98H363.50M313.20 40.90H363.50M313.20 97.16H363.50M313.20 81.09H363.50M313.20 65.01H363.50M313.20 48.94H363.50M313.20 32.86H363.50M318.07 24.50V109.10M326.18 24.50V109.10M334.29 24.50V109.10M342.40 24.50V109.10M350.51 24.50V109.10M358.62 24.50V109.10" stroke="#EBEBEB" stroke-width="0.5" fill="none"/>
<rect x="314.42" y="29.80" width="7.30" height="75.40" fill="#F07470"/>
<rect x="322.53" y="101.90" width="7.30" height="3.30" fill="#B69E31"/>
<rect x="330.64" y="102.50" width="7.30" height="2.70" fill="#2DB34D"/>
<rect x="338.75" y="102.50" width="7.30" height="2.70" fill="#1ABDC1"/>
<rect x="346.86" y="102.70" width="7.30" height="2.50" fill="#6D8FD0"/>
<rect x="354.97" y="101.60" width="7.30" height="3.60" fill="#CC6FC0"/>
<rect x="313.20" y="24.50" width="50.30" height="84.60" fill="none" stroke="#8C8C8C" stroke-width="0.9"/>
<text x="318.07" y="116.90" font-size="5.30" text-anchor="middle" fill="#3d3d3d">I</text>
<text x="326.18" y="116.90" font-size="5.30" text-anchor="middle" fill="#3d3d3d">II</text>
<text x="334.29" y="116.90" font-size="5.30" text-anchor="middle" fill="#3d3d3d">III</text>
<text x="342.40" y="116.90" font-size="5.30" text-anchor="middle" fill="#3d3d3d">IV</text>
<text x="350.51" y="116.90" font-size="5.30" text-anchor="middle" fill="#3d3d3d">V</text>
<text x="358.62" y="116.90" font-size="5.30" text-anchor="middle" fill="#3d3d3d">X</text>
<path d="M318.07 109.10v1.6M326.18 109.10v1.6M334.29 109.10v1.6M342.40 109.10v1.6M350.51 109.10v1.6M358.62 109.10v1.6" stroke="#333" stroke-width="0.7"/>
<rect x="313.20" y="13.50" width="50.30" height="11.00" fill="#D98C94"/>
<rect x="313.20" y="23.70" width="50.30" height="0.8" fill="#B7747C"/>
<text x="338.35" y="21.40" font-size="6.60" text-anchor="middle" fill="#4A4A4A">1</text>
<rect x="366.70" y="24.50" width="50.30" height="84.60" fill="#fff"/>
<path d="M366.70 105.20H417.00M366.70 89.12H417.00M366.70 73.05H417.00M366.70 56.98H417.00M366.70 40.90H417.00M366.70 97.16H417.00M366.70 81.09H417.00M366.70 65.01H417.00M366.70 48.94H417.00M366.70 32.86H417.00M371.57 24.50V109.10M379.68 24.50V109.10M387.79 24.50V109.10M395.90 24.50V109.10M404.01 24.50V109.10M412.12 24.50V109.10" stroke="#EBEBEB" stroke-width="0.5" fill="none"/>
<rect x="367.92" y="102.50" width="7.30" height="2.70" fill="#F07470"/>
<rect x="376.03" y="37.00" width="7.30" height="68.20" fill="#B69E31"/>
<rect x="384.14" y="102.50" width="7.30" height="2.70" fill="#2DB34D"/>
<rect x="392.25" y="102.50" width="7.30" height="2.70" fill="#1ABDC1"/>
<rect x="400.36" y="101.90" width="7.30" height="3.30" fill="#6D8FD0"/>
<rect x="408.47" y="100.60" width="7.30" height="4.60" fill="#CC6FC0"/>
<rect x="366.70" y="24.50" width="50.30" height="84.60" fill="none" stroke="#8C8C8C" stroke-width="0.9"/>
<text x="371.57" y="116.90" font-size="5.30" text-anchor="middle" fill="#3d3d3d">I</text>
<text x="379.68" y="116.90" font-size="5.30" text-anchor="middle" fill="#3d3d3d">II</text>
<text x="387.79" y="116.90" font-size="5.30" text-anchor="middle" fill="#3d3d3d">III</text>
<text x="395.90" y="116.90" font-size="5.30" text-anchor="middle" fill="#3d3d3d">IV</text>
<text x="404.01" y="116.90" font-size="5.30" text-anchor="middle" fill="#3d3d3d">V</text>
<text x="412.12" y="116.90" font-size="5.30" text-anchor="middle" fill="#3d3d3d">X</text>
<path d="M371.57 109.10v1.6M379.68 109.10v1.6M387.79 109.10v1.6M395.90 109.10v1.6M404.01 109.10v1.6M412.12 109.10v1.6" stroke="#333" stroke-width="0.7"/>
<rect x="366.70" y="13.50" width="50.30" height="11.00" fill="#F9C5AA"/>
<rect x="366.70" y="23.70" width="50.30" height="0.8" fill="#D8A98F"/>
<text x="391.85" y="21.40" font-size="6.60" text-anchor="middle" fill="#4A4A4A">2</text>
<rect x="420.20" y="24.50" width="50.30" height="84.60" fill="#fff"/>
<path d="M420.20 105.20H470.50M420.20 89.12H470.50M420.20 73.05H470.50M420.20 56.98H470.50M420.20 40.90H470.50M420.20 97.16H470.50M420.20 81.09H470.50M420.20 65.01H470.50M420.20 48.94H470.50M420.20 32.86H470.50M425.07 24.50V109.10M433.18 24.50V109.10M441.29 24.50V109.10M449.40 24.50V109.10M457.51 24.50V109.10M465.62 24.50V109.10" stroke="#EBEBEB" stroke-width="0.5" fill="none"/>
<rect x="421.42" y="102.90" width="7.30" height="2.30" fill="#F07470"/>
<rect x="429.53" y="103.30" width="7.30" height="1.90" fill="#B69E31"/>
<rect x="437.64" y="28.60" width="7.30" height="76.60" fill="#2DB34D"/>
<rect x="445.75" y="102.30" width="7.30" height="2.90" fill="#1ABDC1"/>
<rect x="453.86" y="101.40" width="7.30" height="3.80" fill="#6D8FD0"/>
<rect x="461.97" y="101.40" width="7.30" height="3.80" fill="#CC6FC0"/>
<rect x="420.20" y="24.50" width="50.30" height="84.60" fill="none" stroke="#8C8C8C" stroke-width="0.9"/>
<text x="425.07" y="116.90" font-size="5.30" text-anchor="middle" fill="#3d3d3d">I</text>
<text x="433.18" y="116.90" font-size="5.30" text-anchor="middle" fill="#3d3d3d">II</text>
<text x="441.29" y="116.90" font-size="5.30" text-anchor="middle" fill="#3d3d3d">III</text>
<text x="449.40" y="116.90" font-size="5.30" text-anchor="middle" fill="#3d3d3d">IV</text>
<text x="457.51" y="116.90" font-size="5.30" text-anchor="middle" fill="#3d3d3d">V</text>
<text x="465.62" y="116.90" font-size="5.30" text-anchor="middle" fill="#3d3d3d">X</text>
<path d="M425.07 109.10v1.6M433.18 109.10v1.6M441.29 109.10v1.6M449.40 109.10v1.6M457.51 109.10v1.6M465.62 109.10v1.6" stroke="#333" stroke-width="0.7"/>
<rect x="420.20" y="13.50" width="50.30" height="11.00" fill="#FDEBC2"/>
<rect x="420.20" y="23.70" width="50.30" height="0.8" fill="#DDCDA6"/>
<text x="445.35" y="21.40" font-size="6.60" text-anchor="middle" fill="#4A4A4A">3</text>
<rect x="473.70" y="24.50" width="50.30" height="84.60" fill="#fff"/>
<path d="M473.70 105.20H524.00M473.70 89.12H524.00M473.70 73.05H524.00M473.70 56.98H524.00M473.70 40.90H524.00M473.70 97.16H524.00M473.70 81.09H524.00M473.70 65.01H524.00M473.70 48.94H524.00M473.70 32.86H524.00M478.57 24.50V109.10M486.68 24.50V109.10M494.79 24.50V109.10M502.90 24.50V109.10M511.01 24.50V109.10M519.12 24.50V109.10" stroke="#EBEBEB" stroke-width="0.5" fill="none"/>
<rect x="474.92" y="102.10" width="7.30" height="3.10" fill="#F07470"/>
<rect x="483.03" y="101.40" width="7.30" height="3.80" fill="#B69E31"/>
<rect x="491.14" y="101.00" width="7.30" height="4.20" fill="#2DB34D"/>
<rect x="499.25" y="36.30" width="7.30" height="68.90" fill="#1ABDC1"/>
<rect x="507.36" y="102.30" width="7.30" height="2.90" fill="#6D8FD0"/>
<rect x="515.47" y="100.80" width="7.30" height="4.40" fill="#CC6FC0"/>
<rect x="473.70" y="24.50" width="50.30" height="84.60" fill="none" stroke="#8C8C8C" stroke-width="0.9"/>
<text x="478.57" y="116.90" font-size="5.30" text-anchor="middle" fill="#3d3d3d">I</text>
<text x="486.68" y="116.90" font-size="5.30" text-anchor="middle" fill="#3d3d3d">II</text>
<text x="494.79" y="116.90" font-size="5.30" text-anchor="middle" fill="#3d3d3d">III</text>
<text x="502.90" y="116.90" font-size="5.30" text-anchor="middle" fill="#3d3d3d">IV</text>
<text x="511.01" y="116.90" font-size="5.30" text-anchor="middle" fill="#3d3d3d">V</text>
<text x="519.12" y="116.90" font-size="5.30" text-anchor="middle" fill="#3d3d3d">X</text>
<path d="M478.57 109.10v1.6M486.68 109.10v1.6M494.79 109.10v1.6M502.90 109.10v1.6M511.01 109.10v1.6M519.12 109.10v1.6" stroke="#333" stroke-width="0.7"/>
<rect x="473.70" y="13.50" width="50.30" height="11.00" fill="#D0E3EF"/>
<rect x="473.70" y="23.70" width="50.30" height="0.8" fill="#B2C3CF"/>
<text x="492.00" y="21.40" font-size="7.00" fill="#8A9199" textLength="13.70" lengthAdjust="spacingAndGlyphs">chr4</text>
<text x="498.35" y="21.40" font-size="6.60" text-anchor="middle" fill="#3C3C3C">4</text>
<rect x="527.20" y="24.50" width="50.30" height="84.60" fill="#fff"/>
<path d="M527.20 105.20H577.50M527.20 89.12H577.50M527.20 73.05H577.50M527.20 56.98H577.50M527.20 40.90H577.50M527.20 97.16H577.50M527.20 81.09H577.50M527.20 65.01H577.50M527.20 48.94H577.50M527.20 32.86H577.50M532.07 24.50V109.10M540.18 24.50V109.10M548.29 24.50V109.10M556.40 24.50V109.10M564.51 24.50V109.10M572.62 24.50V109.10" stroke="#EBEBEB" stroke-width="0.5" fill="none"/>
<rect x="528.42" y="102.90" width="7.30" height="2.30" fill="#F07470"/>
<rect x="536.53" y="102.10" width="7.30" height="3.10" fill="#B69E31"/>
<rect x="544.64" y="102.70" width="7.30" height="2.50" fill="#2DB34D"/>
<rect x="552.75" y="102.90" width="7.30" height="2.30" fill="#1ABDC1"/>
<rect x="560.86" y="42.60" width="7.30" height="62.60" fill="#6D8FD0"/>
<rect x="568.97" y="101.90" width="7.30" height="3.30" fill="#CC6FC0"/>
<rect x="527.20" y="24.50" width="50.30" height="84.60" fill="none" stroke="#8C8C8C" stroke-width="0.9"/>
<text x="532.07" y="116.90" font-size="5.30" text-anchor="middle" fill="#3d3d3d">I</text>
<text x="540.18" y="116.90" font-size="5.30" text-anchor="middle" fill="#3d3d3d">II</text>
<text x="548.29" y="116.90" font-size="5.30" text-anchor="middle" fill="#3d3d3d">III</text>
<text x="556.40" y="116.90" font-size="5.30" text-anchor="middle" fill="#3d3d3d">IV</text>
<text x="564.51" y="116.90" font-size="5.30" text-anchor="middle" fill="#3d3d3d">V</text>
<text x="572.62" y="116.90" font-size="5.30" text-anchor="middle" fill="#3d3d3d">X</text>
<path d="M532.07 109.10v1.6M540.18 109.10v1.6M548.29 109.10v1.6M556.40 109.10v1.6M564.51 109.10v1.6M572.62 109.10v1.6" stroke="#333" stroke-width="0.7"/>
<rect x="527.20" y="13.50" width="50.30" height="11.00" fill="#5FA4CD"/>
<rect x="527.20" y="23.70" width="50.30" height="0.8" fill="#5189AB"/>
<text x="552.35" y="21.40" font-size="6.60" text-anchor="middle" fill="#4A4A4A">5</text>
<rect x="580.70" y="24.50" width="50.30" height="84.60" fill="#fff"/>
<path d="M580.70 105.20H631.00M580.70 89.12H631.00M580.70 73.05H631.00M580.70 56.98H631.00M580.70 40.90H631.00M580.70 97.16H631.00M580.70 81.09H631.00M580.70 65.01H631.00M580.70 48.94H631.00M580.70 32.86H631.00M585.57 24.50V109.10M593.68 24.50V109.10M601.79 24.50V109.10M609.90 24.50V109.10M618.01 24.50V109.10M626.12 24.50V109.10" stroke="#EBEBEB" stroke-width="0.5" fill="none"/>
<rect x="581.92" y="104.00" width="7.30" height="1.20" fill="#F07470"/>
<rect x="590.03" y="104.00" width="7.30" height="1.20" fill="#B69E31"/>
<rect x="598.14" y="104.00" width="7.30" height="1.20" fill="#2DB34D"/>
<rect x="606.25" y="104.00" width="7.30" height="1.20" fill="#1ABDC1"/>
<rect x="614.36" y="103.80" width="7.30" height="1.40" fill="#6D8FD0"/>
<rect x="622.47" y="66.00" width="7.30" height="39.20" fill="#CC6FC0"/>
<rect x="580.70" y="24.50" width="50.30" height="84.60" fill="none" stroke="#8C8C8C" stroke-width="0.9"/>
<text x="585.57" y="116.90" font-size="5.30" text-anchor="middle" fill="#3d3d3d">I</text>
<text x="593.68" y="116.90" font-size="5.30" text-anchor="middle" fill="#3d3d3d">II</text>
<text x="601.79" y="116.90" font-size="5.30" text-anchor="middle" fill="#3d3d3d">III</text>
<text x="609.90" y="116.90" font-size="5.30" text-anchor="middle" fill="#3d3d3d">IV</text>
<text x="618.01" y="116.90" font-size="5.30" text-anchor="middle" fill="#3d3d3d">V</text>
<text x="626.12" y="116.90" font-size="5.30" text-anchor="middle" fill="#3d3d3d">X</text>
<path d="M585.57 109.10v1.6M593.68 109.10v1.6M601.79 109.10v1.6M609.90 109.10v1.6M618.01 109.10v1.6M626.12 109.10v1.6" stroke="#333" stroke-width="0.7"/>
<rect x="580.70" y="13.50" width="50.30" height="11.00" fill="#A3BCDF"/>
<rect x="580.70" y="23.70" width="50.30" height="0.8" fill="#8BA0BD"/>
<text x="600.05" y="21.40" font-size="7.00" fill="#7896CC" textLength="14.60" lengthAdjust="spacingAndGlyphs">chrX</text>
<text x="604.35" y="21.40" font-size="6.60" text-anchor="middle" fill="#3C3C3C">X</text>
<text x="324.40" y="34.00" font-size="5.80" fill="#262626">83.74</text>
<text x="385.90" y="41.70" font-size="5.80" fill="#262626">80.52</text>
<text x="446.80" y="34.00" font-size="5.80" fill="#262626">83.92</text>
<text x="497.80" y="41.70" font-size="5.80" text-anchor="end" fill="#262626">78.76</text>
<text x="559.10" y="46.50" font-size="5.80" text-anchor="end" fill="#262626">83.69</text>
<text x="620.70" y="71.70" font-size="5.80" text-anchor="end" fill="#262626">87.65</text>
<text x="310.60" y="107.10" font-size="5.30" text-anchor="end" fill="#3d3d3d">0</text>
<text x="310.60" y="91.03" font-size="5.30" text-anchor="end" fill="#3d3d3d">250</text>
<text x="310.60" y="74.95" font-size="5.30" text-anchor="end" fill="#3d3d3d">500</text>
<text x="310.60" y="58.88" font-size="5.30" text-anchor="end" fill="#3d3d3d">750</text>
<text x="310.60" y="42.80" font-size="5.30" text-anchor="end" fill="#3d3d3d">1000</text>
<path d="M311.4 105.20h1.8M311.4 89.12h1.8M311.4 73.05h1.8M311.4 56.98h1.8M311.4 40.90h1.8" stroke="#333" stroke-width="0.7"/>
<text transform="translate(286.8 101.6) rotate(-90)" font-size="8" font-weight="bold" stroke="#000" stroke-width="0.18" textLength="75.6" lengthAdjust="spacingAndGlyphs">1-to-1 ortholog count</text>
<text x="428.8" y="127.6" font-size="7.5" font-weight="bold" stroke="#000" stroke-width="0.18" textLength="110.3" lengthAdjust="spacingAndGlyphs"><tspan font-style="italic">C .elegans</tspan> chromosome name</text>
<text x="641.00" y="27.40" font-size="8.30" font-style="italic" textLength="36.50" lengthAdjust="spacingAndGlyphs" stroke="#000" stroke-width="0.22">C. elegans</text>
<text x="640.90" y="36.40" font-size="8.30" textLength="46.00" lengthAdjust="spacingAndGlyphs" stroke="#000" stroke-width="0.22">chromosome</text>
<rect x="640.8" y="41.80" width="9.7" height="8.6" fill="#F07470"/>
<text x="653.80" y="48.10" font-size="5.60" fill="#1a1a1a" stroke="#1a1a1a" stroke-width="0.12">I</text>
<rect x="640.8" y="51.90" width="9.7" height="8.6" fill="#B69E31"/>
<text x="653.80" y="58.20" font-size="5.60" fill="#1a1a1a" stroke="#1a1a1a" stroke-width="0.12">II</text>
<rect x="640.8" y="62.00" width="9.7" height="8.6" fill="#2DB34D"/>
<text x="653.80" y="68.30" font-size="5.60" fill="#1a1a1a" stroke="#1a1a1a" stroke-width="0.12">III</text>
<rect x="640.8" y="72.10" width="9.7" height="8.6" fill="#1ABDC1"/>
<text x="653.80" y="78.40" font-size="5.60" fill="#1a1a1a" stroke="#1a1a1a" stroke-width="0.12">IV</text>
<rect x="640.8" y="82.20" width="9.7" height="8.6" fill="#6D8FD0"/>
<text x="653.80" y="88.50" font-size="5.60" fill="#1a1a1a" stroke="#1a1a1a" stroke-width="0.12">V</text>
<rect x="640.8" y="92.30" width="9.7" height="8.6" fill="#CC6FC0"/>
<text x="653.80" y="98.60" font-size="5.60" fill="#1a1a1a" stroke="#1a1a1a" stroke-width="0.12">X</text>
<rect x="313.20" y="154.10" width="50.30" height="84.30" fill="#fff"/>
<path d="M313.20 233.60H363.50M313.20 215.52H363.50M313.20 197.45H363.50M313.20 179.38H363.50M313.20 161.30H363.50M313.20 224.56H363.50M313.20 206.49H363.50M313.20 188.41H363.50M313.20 170.34H363.50M315.50 154.10V238.40M324.28 154.10V238.40M333.06 154.10V238.40M341.84 154.10V238.40M350.62 154.10V238.40M359.40 154.10V238.40M319.89 154.10V238.40M328.67 154.10V238.40M337.45 154.10V238.40M346.23 154.10V238.40M355.01 154.10V238.40" stroke="#EBEBEB" stroke-width="0.5" fill="none"/>
<path d="M342.2 193.1h0M334.4 209.7h0M338.5 207.4h0M330.1 180.3h0M354.1 216.1h0M334.4 201.7h0M350.5 207h0M345 183.9h0M336.1 181.8h0M346.2 203.7h0M321.8 198.1h0M347.2 190.2h0M345.1 217.8h0M317.5 183.8h0M340.3 199.5h0M327.1 213.4h0M321.3 215.1h0M355.9 187.4h0M328.9 209.9h0M345.7 217.4h0M334.7 191h0M340.2 197.2h0M332.7 193.6h0M355.6 208.9h0M351.8 201.9h0M347.2 180.8h0M352 191.7h0M335 200.6h0M323.4 196.6h0M330.1 210.9h0M334.9 180.1h0M323.7 227.9h0M346.5 208.9h0M347.9 212.1h0M341.2 207.2h0M343.6 225.9h0M324.9 182h0M317.9 181.4h0M353.8 202.8h0M354.2 225.2h0M327.7 218h0M316.2 210.8h0M347.6 232.5h0M341.8 199.7h0M353.5 204.8h0M351 203.1h0M322.3 204.7h0M339.8 191.3h0M344.8 196.3h0M334.4 229.4h0M333.3 213.2h0M319.7 180.1h0M331.9 212.9h0M322.9 215.9h0M352.5 196.3h0M320.6 227.8h0M326.1 200.1h0M321.2 187.3h0M325.8 220.1h0M353.7 194.5h0M332.8 213h0M347.4 229.5h0M332.1 225.5h0M345.1 221h0M316.9 219.5h0M331.4 200.9h0M350 191.6h0M335.8 217.7h0M340.8 204.4h0M318.5 207.7h0M334.7 195.2h0M330.7 192.1h0M344 209.9h0M331 207.6h0M338.7 217.4h0M341.4 201.3h0M323.9 203.7h0M333.3 189h0M322.6 206h0M336.1 220.3h0M318 199.9h0M324.4 199.2h0M342 230.7h0M337.4 199.9h0M322 207.4h0M341.1 184.9h0M325.2 210.7h0M355.9 194.5h0M336.8 180.4h0M323.5 206.8h0M330.8 196.4h0M333.5 180.3h0M317.4 206h0M348 198.5h0M351.7 228.4h0M345.4 182.8h0M325.6 207.9h0M338.2 229.2h0M325.8 191h0M339 200.8h0M326.6 193.9h0M326.9 194h0M346.9 233.5h0M330.9 211.6h0M322.7 205.8h0M355.4 229.2h0M319.9 213.7h0M350.2 232h0M348 200.2h0M355.4 184.6h0M352.7 205.9h0M343.8 226.9h0M335.1 212.8h0M329.8 197.7h0M332.4 212.7h0M344.4 218.3h0M327.2 196.8h0M327.8 193.2h0M330.2 219.7h0M348.4 192.7h0M338.9 182.5h0M345.9 215.8h0M342.7 222.1h0M322.5 205.4h0M350.9 211.7h0M348.6 222.5h0M340.9 220.3h0M321.3 232h0M323.3 215.6h0M329.7 191.3h0M355.9 225.1h0M328.5 219.6h0M347.2 191.9h0M345.1 196.4h0M327.3 189.5h0M349.3 181.7h0M336.3 223.8h0M315.5 203.3h0M353.5 191.1h0M335.1 209.5h0M353.3 216.2h0M316.9 199.1h0M324.2 185.4h0M350.2 215.5h0M316.1 208.1h0M346.1 197.6h0M334.6 231.8h0M323.5 197.3h0M347.3 188.6h0M317.5 198.9h0M352.5 201.3h0M350 193.8h0M321.3 225.3h0M344.1 205.8h0M315.8 232.3h0M326.2 209.8h0M318.1 221h0M327.8 227.6h0M320.1 207h0M328.4 215.2h0M347.9 227h0M343.5 199.7h0M317.8 228.8h0M322.7 227.6h0M344.6 209.5h0M322.1 183.4h0M346.8 201.4h0M328.9 188.7h0M330 206.4h0M325.8 197.4h0M352.1 211.6h0M333.3 209.8h0M318.3 217.1h0M322.6 180.8h0M355.3 223.8h0M316.6 191.5h0M342.5 194h0M342.6 203.2h0M320.9 224.3h0M327.3 223.6h0M330.8 211.7h0M330.4 200.6h0M322.9 201.4h0M336.4 212.9h0M348.8 220.6h0M345.7 187.5h0M331 187h0M341 200.6h0M346.5 188.7h0M316.6 232.1h0M321.3 202.4h0M347 203.8h0M339.6 200.9h0M346 209.9h0M337.5 206.1h0M349.6 216h0M356 214.7h0M323.7 192.2h0M343.8 183.9h0M321.6 231.5h0M325.4 191h0M328.6 204.4h0M317.7 190.4h0M345.9 181.5h0M351.5 219.8h0M325.3 192.4h0M333.2 232.7h0M320.9 200.6h0M334.9 207.9h0M320.7 230.1h0M319.1 223.3h0M355.7 212.6h0M335.7 209.6h0M340.1 227.6h0M319.1 186.2h0M329.1 230.8h0M321.7 193.3h0M329.3 188.9h0M341.1 183.6h0M353.5 194.3h0M316.7 205.7h0M339.4 213.1h0M336.4 231.1h0M333.1 187.7h0M347.8 220.1h0M342.4 194.6h0M353.6 221.6h0M335 187h0M354.1 190h0M326.5 217.7h0M327 183.6h0M354.3 231.3h0M316.2 231.8h0M349.3 197.2h0M327.9 216.7h0M352 215.9h0M316.9 218h0M329.2 201.5h0M328.2 229.7h0M326.6 214.4h0M342.9 217.2h0M335 193.3h0M334.2 227.3h0M329.7 214.4h0M322.4 200.2h0M342.1 230.7h0M334.6 200h0M319.4 197.5h0M354.5 211.2h0M322.3 222.4h0M318.9 198.2h0M342.2 209.2h0M323.2 206.8h0M334.3 198.7h0M324.9 217.3h0M352.3 209.3h0M328.4 206.1h0M334.9 229.2h0M334.1 214.4h0M343.1 231h0M340.5 214.4h0M352.4 183.2h0M334.4 223.3h0M343.6 195.3h0M351.1 226.9h0M328.9 209.8h0M326 206.5h0M327.2 208.7h0M333.2 224.3h0M341.6 228.2h0M328.3 219.1h0M321 219.7h0M352 210.4h0M316.5 222.8h0M333.7 230h0M349.6 213.2h0M355.9 203.3h0M343.1 201.9h0M319.4 219.1h0M334.4 192.8h0M336.9 200.7h0M337.9 196.4h0M341 202.7h0M353.9 192.3h0M355.5 197.5h0M320.1 221.8h0M317.3 231.1h0M316.2 229.1h0M327.3 198h0M344.2 232h0M344.6 186.3h0M355.5 188.8h0M328.6 209.6h0M351.2 210.8h0M315.7 184.4h0M340 220.5h0M354.9 191.3h0M336.5 229h0M345.2 213.5h0M325 211.6h0M321.5 192.8h0M355.5 185.1h0M344.7 229.5h0M322.2 212.8h0M325 226.1h0M347.8 200.3h0M330.1 181.7h0M327.7 199h0M316.4 221.3h0M353.2 230.2h0M355.3 183h0M342 221.7h0M346.8 225.6h0M329.7 217.8h0M351.6 191.9h0M355.9 233.4h0M332.1 198.4h0M340 217.8h0M341.2 192.6h0M346.3 180.5h0M318.8 184.7h0M326.5 194.2h0M350.6 230.2h0M321.6 211.2h0M334 221.5h0M356.4 213.1h0M343.2 213.3h0M329 199.8h0M345.6 188.7h0M348.8 198.4h0M317.3 203.7h0M316.9 192.5h0M352.4 193.3h0M355.6 211.1h0M333 198.1h0M316.5 218.7h0M337.8 201.6h0M347.7 206.7h0M340.8 220.4h0M334 217.6h0M342.7 224.5h0M337.8 208.8h0M334.6 206.3h0M344.2 215.7h0M350.3 222h0M352.6 180.4h0M353 191.4h0M338.1 197.9h0M316.9 216.7h0M329.4 230.8h0M348.7 201.5h0M347.3 215.2h0M351.7 233h0M320.5 227.9h0M337.1 223.6h0M329.6 185.2h0M333.6 199.4h0M349.2 212.8h0M344.9 217h0M333.3 189.8h0M333.2 198.7h0M339.7 202.2h0M320.6 230.5h0M322.1 209.7h0M346.1 216.9h0M322.8 206h0M335.1 193.4h0M341.7 202.3h0M353.8 193.6h0M353.8 183.5h0M349.2 222.4h0M349.9 190.7h0M338.5 186.7h0M329.1 204.9h0M333.4 201.8h0M328.8 183h0M349.7 197.6h0M325.1 207.3h0M326.2 220.9h0M317.7 233.2h0M331 185.8h0M355.1 208.7h0M321.1 224.8h0M355.4 225h0M329.1 233.2h0M345.3 230.5h0M342.4 199h0M349.7 221.3h0M341.3 210.8h0M344.5 211.6h0M332.7 225.1h0M335.7 195h0M355.8 208.6h0M325 207.7h0M329.5 210h0M353.5 217.4h0M317.1 212.7h0M325.2 233h0M348.6 230.5h0M326.4 202.8h0M320.9 213h0M330.7 190.5h0M333.1 191.5h0M329.3 200.4h0M323.8 196.7h0M325.1 209.4h0M327.8 222.3h0M317 200.1h0M353 203.8h0M317 229h0M346.8 219.8h0M346.7 224.5h0M355.6 198.9h0M319.9 215.7h0M342.5 215.8h0M329.3 219.9h0M354.7 220.5h0M355.1 190.3h0M326.4 206.6h0M340.6 210.5h0M356 223.2h0M337.5 196h0M316.9 180.7h0M323.1 190.8h0M347.9 231.8h0M352 216h0M346 201h0M352 183.6h0M328.9 209.1h0M336.5 199h0M334.8 210.2h0M349.1 211h0M343.9 190.6h0M341.2 189.4h0M333.7 183h0M350.7 219.9h0M350.4 201.4h0M353.7 207.8h0M321.1 206.4h0M345.3 212.2h0M336.4 195.7h0M345.9 227.8h0M341.9 217.1h0M320 214.8h0M344.3 203h0M336.3 214h0M319.9 181.5h0M338.4 191.1h0M326.9 210.8h0M350.1 221.6h0M352.7 222.8h0M324.3 196.1h0M330.7 217.6h0M333.1 181.8h0M328.7 224.8h0M323.7 226.3h0M329.6 225.1h0M352.6 228.8h0M339.6 222.4h0M332.7 197.7h0M341.5 184.7h0M334.1 215.1h0M335.6 221.5h0M333.5 200.2h0M335.9 216h0M350.5 182.2h0M333.1 194.8h0M340.6 196.3h0M315.6 193.4h0M351.1 196.5h0M331.8 217.3h0M352.9 217.4h0M354.4 184h0M328.7 188h0M316 205.3h0M321.5 203.5h0M316.8 183.7h0M345.3 180.8h0M335 224.3h0M343.3 186.7h0M321.8 212.7h0M338.6 202h0M331.3 209.8h0M329.9 186.8h0M316.1 208.9h0M342.3 197.9h0M330.8 210.6h0M331.5 197.8h0M323.7 226.3h0M351.5 225.4h0M325.9 189.5h0M343 195.2h0M339.3 193.7h0M349.5 216.7h0M334.4 201.7h0M335.4 190.1h0M325.3 183.7h0M340.7 186.2h0M355.5 226h0M322.2 212.2h0M322.3 216.1h0M345.7 199.2h0M333.9 211.5h0M328.7 181.2h0M352.7 205.1h0M327.6 221.2h0M317.4 224.7h0M319.5 182.3h0M331.7 192.9h0M347.2 232.9h0M347.5 217.4h0M343.9 213.2h0M333.5 193.5h0M330.9 218.9h0M350.3 203.6h0M330.6 226.9h0M348.8 206.3h0M321.4 207.4h0M346.1 193.6h0M346.8 200.7h0M342.9 195.1h0M327.8 217.4h0M333 216h0M348.1 223.4h0M346.1 198.7h0M333 195.1h0M345.8 210.9h0M315.4 202.1h0M339.5 193.7h0M317.9 201.2h0M325.8 196.4h0M324.3 181.1h0M327.4 215h0M332.1 203h0M319.4 227.3h0M330.1 199.7h0M355.9 192.4h0M326.8 233.2h0M322 199.2h0M323.6 224.3h0M355.4 215.3h0M332.1 194.7h0M318.5 212.4h0M348 186.8h0M319.2 180.7h0M326.9 214.3h0M344.8 192.3h0M334.5 195.2h0M324.1 194h0M341.7 209.7h0M349.4 229.7h0M318 194.9h0M339.4 200.3h0M322.3 207.2h0M316 230.4h0M337 195h0M326 225.4h0M338.8 210.3h0M320.7 198.5h0M347.1 183.6h0M353.7 233.1h0M342.2 198.6h0M326.5 183.9h0M344.7 223.3h0M338.8 230.6h0M326.2 217.8h0M335 211.4h0M341.3 221.7h0M317 230.1h0M352.2 191.6h0M342.4 193.8h0M335.8 215.2h0M325.4 179.3h0M321.3 182.9h0M346.3 195.6h0M322.8 200.4h0M349.1 230.1h0M344.8 216.8h0M327.1 230.3h0M353 226.5h0M324 186.3h0M355.1 215.9h0M345.4 194.5h0M323.3 179.5h0M342.8 197.5h0M350.3 216.3h0M345.3 183.9h0M321.4 192.1h0M341.9 200.6h0M319.3 227.9h0M325.3 188.9h0M335.9 181.4h0M348.3 209.4h0M337.2 221.9h0M337.6 215.2h0M328.8 221.1h0M326.8 190.9h0M338 219.9h0M354.6 230.4h0M324.2 197.2h0M352.8 215.3h0M347.7 208.3h0M347.5 213.3h0M320.2 233h0M355.8 200h0M318.3 190.9h0M325.6 199.5h0M354.5 196.4h0M333 231.9h0M328.5 201.1h0M330.6 219.8h0M316.6 197h0M350.4 185.3h0M354.6 196.7h0M324.3 229.6h0M317.4 208.4h0M322.1 200.8h0M326 233.3h0M333.2 209.5h0M354.3 190.7h0M351 220.6h0M317.6 195.5h0M352.4 192.6h0M346 208.3h0M326.3 206.2h0M323.3 192.8h0M319.5 222.4h0M315.7 223.6h0M317.7 227.3h0M330.7 183.7h0M355.3 198.9h0M335.5 217.6h0M329.9 187h0M356 213.5h0M336.4 229.5h0M328.7 201h0M336.2 228.9h0M349.8 199.8h0M324.1 231.8h0M343.3 205h0M318.6 181.2h0M340.9 185.5h0M323.5 196.3h0M327.1 213.6h0M344.1 201.5h0M326.2 205.1h0M348.3 204.3h0M338.1 221.1h0M321.9 221h0M342.6 205.9h0M331.1 208.1h0M349.3 206.6h0M336.6 216.1h0M343.6 219h0M326.4 187.4h0M332.8 218.5h0M337.6 197.4h0M336.7 231.7h0M325.3 200.1h0M349 207.9h0M338.3 180.3h0M343.1 213h0M326.9 201.6h0M345.3 200.6h0M341.3 218.5h0M319.5 208.1h0M320.5 185.8h0M316.1 210.4h0M326.6 218.8h0M336.7 206.5h0M355.2 188h0M320.4 179.5h0M318.5 197.6h0M334.1 191.1h0M342.7 192.3h0M320.9 190.8h0M338.5 204.6h0M350.8 227.3h0M327.4 191.5h0M332.8 193.4h0M332.7 202.1h0M344 207h0M344 220.7h0M329.1 206.2h0M355.6 196.3h0M349.5 188.9h0M353.4 223h0M317.8 209.7h0M328.5 218.9h0M355.9 208.5h0M328.1 208.6h0M354 210.8h0M319.9 205.4h0M338.9 215.5h0M338.5 212.3h0M322.2 227.4h0M323 184.9h0M337.2 197.7h0M337.7 211.7h0M323.1 197.5h0M338.8 185.9h0M325.1 222h0M323 232.9h0M339.1 194.2h0M347.3 210.9h0M344.6 199.6h0M321.9 217h0M326.2 196.1h0M353.5 188.1h0M346.2 217.5h0M344.6 179.9h0M336.2 212.5h0M324.1 197.8h0M319.9 199.9h0M318.5 208.9h0M353.5 212.2h0M345.6 204.6h0M355.8 219.8h0M354.7 201.2h0M334.6 192h0M354.6 220.7h0M356.3 223.3h0M350.4 221.7h0M333.8 181.8h0M349.5 181.3h0M323.6 192.2h0M327.1 192.1h0M346.9 197.2h0M316.1 199.8h0M333.9 207.9h0M346.5 191.6h0M317.3 221.4h0M322.6 204.5h0M329.9 210.1h0M339.9 215.4h0M336.1 231.9h0M317 224.7h0M344.2 193.6h0M327.8 226.6h0M324.8 199.5h0M351.3 192.4h0M355 217.3h0M326.4 179.8h0M351.2 199h0M348.1 182h0M331.4 182.3h0M319.3 229.3h0M351.8 224.3h0M349 192.3h0M333.3 213.1h0M355 200.2h0M325.4 226.3h0M322.4 201.6h0M329.8 216.3h0M353.7 190.7h0M345 200.9h0M324.5 217.9h0M318 210.2h0M339.6 196.3h0M336.9 212.4h0M316 226.1h0M324.5 228.2h0M319.3 229.2h0M345.2 224.6h0M334.3 212.3h0M353 215.6h0M331.3 214.3h0M345.2 211.1h0M355.2 226h0M324.5 208.7h0M324.9 208.6h0M334.4 228.1h0M336.6 226.8h0M352.4 189.1h0M343 218.2h0M347.2 189.2h0M322.3 200h0M354.5 187.3h0M347.3 223.6h0M355.9 229.9h0M341.7 213.8h0M342 222.3h0M346.3 200.4h0M316.4 212.7h0M355.2 215.7h0M355.4 206.3h0M331 221.6h0M332.3 224.8h0M329 189h0M351.1 205.3h0M331.9 211.3h0M346.2 190.1h0M326.5 182.5h0M318.9 199.4h0M330.9 225h0M334.9 223.3h0M329.3 196h0M354.7 209.7h0M350.5 196.4h0M333.9 182.8h0M335.4 190.2h0M347.8 223.1h0M346.6 204.9h0M331.8 211.5h0M335.3 184.3h0M347.1 226.5h0M352.1 219.1h0M325.4 198.1h0M320.8 195.4h0M352.9 192.6h0M328.2 213h0M336.9 184.9h0M331.6 221.2h0M332.7 213.7h0M338.8 186.1h0M342.3 223.8h0M338.9 194.2h0M350.9 220.2h0M339 204.2h0M318.3 233.1h0M324.8 212.3h0M354.1 188.8h0M334.3 216.6h0M342.3 231.9h0M345.8 208.1h0M327.1 196.4h0M345.4 193.4h0M317.5 218.8h0M318.5 221.2h0M323.2 203.8h0M332.5 198.1h0M349.7 220.9h0M335.6 224.4h0M332.6 227.1h0M325.5 214.2h0M337.3 213.8h0M355.4 224.5h0M344.3 210.2h0M316.9 221.4h0M325.2 198.5h0M351.2 221.1h0M324.7 199.8h0M340 221.3h0M341.1 189.3h0M334.1 207.3h0M353.3 221.7h0M332.2 213.2h0M325.6 225.6h0M352.6 200.6h0M351.2 191.8h0M340.2 183.2h0M328.5 213.4h0M332 215.9h0M333.8 201.3h0M355.7 180.3h0M334 192.7h0M328.2 220.1h0M338.2 203.8h0M337 182.8h0M353.6 218.1h0M323.3 200.5h0M347.5 220.1h0M343.7 209.3h0M337.5 210.8h0M356 223.7h0M341.2 226.8h0M352.6 230.8h0M344.7 193h0M349.5 198.2h0M333.6 212.8h0M345.8 211h0M329.2 191.8h0M346.4 212.2h0M319.7 198.6h0M352.7 208.4h0M355.4 181h0M340.6 228.9h0M344.7 195.4h0M349.5 199.6h0M332.5 219.2h0M335 218.4h0M335.6 196.7h0M346.2 211.6h0M343.7 200h0M321.2 220.4h0M338.7 213.7h0M333.4 201.1h0M355 202.3h0M338.1 182.4h0M352 217.4h0M323.6 198.2h0M356.1 193.2h0M332.8 195.8h0M326.3 223.7h0M332.5 194.4h0M334.3 214.8h0M319.5 215.7h0M348 198.2h0M317.1 220h0M331.4 229.9h0M326.7 225h0M337.2 204.9h0M318.4 225h0M315.9 208.9h0M336.4 197.5h0M319.5 228.9h0M323.9 184.5h0M318.6 222.1h0M332.4 189.3h0M353 218.1h0M343.8 217.2h0M352.4 219.5h0M332.4 203.5h0M336.2 214.7h0M347.7 206.5h0M333.8 179.5h0M353.8 198.3h0M336.6 183.7h0M349.3 219.3h0M316.6 218.2h0M338.5 217.3h0M337.3 233.5h0M322 214.9h0M352.7 198.7h0M335.8 219.6h0M328 212.9h0M341.6 183.2h0M324.6 197.6h0M316.1 210.4h0M326.9 203.4h0M354.1 224.9h0M345 215h0M344.7 179.9h0M339.4 206.6h0M350.5 181h0M348.7 198.6h0M352.1 180.1h0M319.3 187.8h0M330.4 188.6h0M317.8 221.6h0M320.4 206.8h0M335.4 209h0M319.5 197h0M317.1 190.2h0M319.5 231h0M330.8 220.4h0M332.6 184.4h0M324.2 215.3h0M355.4 187.9h0M344 232.6h0M323 194.9h0M323.4 219.5h0M322.3 220.2h0M320.7 213.4h0M338.5 208.3h0M350.8 216.5h0M341.5 203.3h0M353.1 187.3h0M316.7 208.4h0M355.5 180.7h0M343.8 192.9h0M334.6 186.3h0M332.6 202.2h0M330.2 191.2h0M355.8 196.9h0M353.5 220.2h0M317.1 206.2h0M348.8 189.5h0M341.9 228.7h0M328.1 212h0M337.9 214.3h0M339.3 202.7h0M336.2 208.8h0M349.9 208.8h0M343.6 231.8h0M350.1 211.2h0M325.4 191.2h0M331.5 195.1h0M321.1 210.2h0M343.1 222.4h0M317.8 183.9h0M317.4 187.1h0M320 189.4h0M326.3 209.1h0M318 187.3h0M322.7 197.6h0M348.9 205.1h0M340.8 220.9h0M341.2 196.9h0M317.1 225.3h0M343 212.9h0M337.4 220.3h0M354.6 203.4h0M350.3 209.2h0M349.3 203.6h0M340.8 224.2h0M318 225.1h0M333.3 189h0M335.6 195.5h0M339.3 217.3h0M355 202.8h0M347 228.9h0" stroke="#F07470" stroke-width="1.55" stroke-linecap="round" stroke-opacity="0.78" fill="none"/>
<path d="M338.3 195.2h0M324.6 206.1h0M347.5 198h0M349.9 190.9h0M334.1 230.3h0M319.5 213h0M344.3 206.1h0M322.3 225.2h0M352.2 203.4h0M346.9 218.2h0M315.9 202.6h0M317.1 198.2h0M349.1 180.7h0M353.9 206.1h0M342.7 220.5h0M324.2 211h0M334.9 194.9h0M321 209.7h0M342.2 203.1h0M348 205.4h0M345.5 181.6h0M332.2 204.5h0M330.7 215.6h0M356 225.7h0M341.8 182.9h0M348.6 205.6h0M341.3 200.7h0M348.2 210.8h0M329 222.4h0M327.9 200.1h0M334.1 188.4h0M325.1 230.6h0M337.7 210.7h0M326.5 213.9h0M332.4 194.6h0M325.6 217.7h0M343.6 223.9h0M320.6 187.3h0M346.9 206.8h0" stroke="#B69E31" stroke-width="1.55" stroke-linecap="round" stroke-opacity="0.78" fill="none"/>
<path d="M340.1 224.7h0M346.2 203.9h0M349.6 198.2h0M327.3 224h0M320.9 199.2h0M337.8 224h0M324.8 222.2h0M336.6 214.8h0M355.3 194.6h0M326.1 226.4h0M344.4 221.8h0M329.6 209.1h0M350 211.8h0M335.7 207.6h0M333.4 185.9h0M341.7 218.2h0M333.3 227.8h0M319.9 214.5h0M328 227.2h0M352.4 230.8h0M326.3 219.9h0M322.3 213.1h0M316.3 192.2h0M344.2 207.9h0M329.1 183.8h0M344.2 233.4h0M349 186.4h0M325.3 227.3h0M316 223.4h0M353.5 224h0M354 229.5h0" stroke="#2DB34D" stroke-width="1.55" stroke-linecap="round" stroke-opacity="0.78" fill="none"/>
<path d="M352.4 209.7h0M353.5 185.1h0M354.5 190.3h0M335.4 220.8h0M322.5 212.3h0M327.6 209h0M341.2 206.4h0M319.5 176.4h0M354.7 219.5h0M340.2 229.7h0M319.5 200.2h0M322.4 219.6h0M315.9 191.4h0M345 192.4h0M324.9 193.4h0M337 186.2h0M328.5 199.3h0M332.2 190.9h0M351.4 201.4h0M333.5 191.8h0M341.4 210.9h0M323.4 217.4h0M317 207h0M337.6 205.9h0M336.9 205.3h0M321.8 193h0M329.7 221.4h0M336.8 218.7h0M342.2 212.2h0M345.4 197.3h0M343.6 211.6h0M342.8 196.5h0M341.4 218.4h0M334.4 183.7h0" stroke="#1ABDC1" stroke-width="1.55" stroke-linecap="round" stroke-opacity="0.78" fill="none"/>
<path d="M354 206.3h0M353.4 196h0M345.8 184.2h0M356 219.5h0M356 162.6h0M316.2 173.2h0M340.3 200.4h0M316.2 198.3h0M343.5 193.4h0M330.3 181.5h0M346.9 215.6h0M339.2 215.1h0M322.3 185.7h0M317.4 197.7h0M338 226.7h0M326.5 162.3h0M338.9 185.4h0M331.5 179.9h0M337.1 194.8h0M334.9 178.6h0M326.1 185.1h0M352.7 217.1h0M336.4 198.5h0M333.8 218.8h0M316.3 197h0M316.8 190.3h0M329.1 160.7h0M334 223.1h0M340.7 201h0M335.1 202.7h0M346.9 201.6h0M324.9 196.6h0M320.2 226.4h0" stroke="#6D8FD0" stroke-width="1.55" stroke-linecap="round" stroke-opacity="0.78" fill="none"/>
<path d="M320.8 228.4h0M334 208.7h0M342.3 206.1h0M336.9 187.2h0M321.8 220.3h0M338.1 205.4h0M334.3 228.8h0M336.2 214.3h0M337.4 175.6h0M335.7 209.2h0M352.5 204.2h0M324.6 208.8h0M348.9 179.6h0M329.9 174.7h0M345.9 211.2h0M335.3 189.4h0M338.4 207.6h0M317.2 202.6h0M316.6 209h0M334.7 200.2h0M329.5 203h0M353.3 195.8h0M349.2 211.8h0M333.1 219.7h0M332.5 197.9h0M334.3 223.2h0M318.3 176.8h0M353.9 197.1h0M354 205.3h0M323.1 193.9h0M342 222.4h0M330.3 180.6h0M332.5 185.7h0M327.1 211.3h0M330.5 174.1h0M319.2 231.1h0M340.4 183.5h0M342.9 182.9h0M332.7 211.9h0M354.4 207h0M322.9 215.2h0M328.9 195.2h0M344.6 198.9h0M330.5 204.4h0M329 233.4h0M322.8 174.1h0M351.2 193.8h0M352.1 216.8h0M350.1 213.9h0M315.7 193.5h0M324.1 208.8h0M333.5 184h0M352.7 173.1h0" stroke="#CC6FC0" stroke-width="1.55" stroke-linecap="round" stroke-opacity="0.78" fill="none"/>
<rect x="313.20" y="154.10" width="50.30" height="84.30" fill="none" stroke="#8C8C8C" stroke-width="0.9"/>
<text transform="translate(317.50 243.2) rotate(-90)" font-size="5.6" fill="#3a3a3a" text-anchor="end">0</text>
<text transform="translate(326.28 243.2) rotate(-90)" font-size="5.6" fill="#3a3a3a" text-anchor="end">10</text>
<text transform="translate(335.06 243.2) rotate(-90)" font-size="5.6" fill="#3a3a3a" text-anchor="end">20</text>
<text transform="translate(343.84 243.2) rotate(-90)" font-size="5.6" fill="#3a3a3a" text-anchor="end">30</text>
<text transform="translate(352.62 243.2) rotate(-90)" font-size="5.6" fill="#3a3a3a" text-anchor="end">40</text>
<text transform="translate(361.40 243.2) rotate(-90)" font-size="5.6" fill="#3a3a3a" text-anchor="end">50</text>
<path d="M315.50 238.40v1.6M324.28 238.40v1.6M333.06 238.40v1.6M341.84 238.40v1.6M350.62 238.40v1.6M359.40 238.40v1.6" stroke="#333" stroke-width="0.7"/>
<rect x="313.20" y="142.60" width="50.30" height="11.50" fill="#D98C94"/>
<rect x="313.20" y="153.30" width="50.30" height="0.8" fill="#B7747C"/>
<text x="338.35" y="150.75" font-size="6.60" text-anchor="middle" fill="#4A4A4A">1</text>
<rect x="366.70" y="154.10" width="50.30" height="84.30" fill="#fff"/>
<path d="M366.70 233.60H417.00M366.70 215.52H417.00M366.70 197.45H417.00M366.70 179.38H417.00M366.70 161.30H417.00M366.70 224.56H417.00M366.70 206.49H417.00M366.70 188.41H417.00M366.70 170.34H417.00M369.00 154.10V238.40M377.78 154.10V238.40M386.56 154.10V238.40M395.34 154.10V238.40M404.12 154.10V238.40M412.90 154.10V238.40M373.39 154.10V238.40M382.17 154.10V238.40M390.95 154.10V238.40M399.73 154.10V238.40M408.51 154.10V238.40" stroke="#EBEBEB" stroke-width="0.5" fill="none"/>
<path d="M379.9 217.9h0M406.2 182.7h0M368.9 190.4h0M397.3 206.8h0M376 203.1h0M387.2 192.8h0M377.6 186.5h0M392.7 203.6h0M409.6 191h0M374 231.3h0M373.9 202.4h0M382.4 217.2h0M399.9 183.2h0M372.5 201.4h0M387.3 182.7h0M404.4 213.5h0M388.7 191h0" stroke="#F07470" stroke-width="1.55" stroke-linecap="round" stroke-opacity="0.78" fill="none"/>
<path d="M394.4 217.5h0M378.7 188.9h0M377.6 185.4h0M409.1 197.8h0M381.5 180.4h0M399.7 200.5h0M410 228.1h0M398.9 204.7h0M374.2 227.4h0M372.4 213.5h0M381.9 207.9h0M397 214.9h0M408.1 223.5h0M401.6 224.7h0M385.1 209.7h0M390.6 215.8h0M384 208.5h0M389.8 194.3h0M409 197.6h0M392.1 191.8h0M372.9 216.3h0M369.1 190.2h0M377.4 185.2h0M374.6 212.4h0M394.3 225.3h0M406.4 220.3h0M373.1 217.1h0M373.2 202.8h0M382.7 197.4h0M389.6 223.4h0M408.1 197h0M402.4 213.3h0M399.5 195.7h0M398.3 187.5h0M398.9 228.7h0M410 196.5h0M391.9 224.6h0M389.7 199.6h0M372.1 222h0M402 200.6h0M393.8 224.5h0M382.7 183.2h0M390.7 224.2h0M399.5 187.3h0M388.4 218.1h0M388.7 190.9h0M386.6 192.2h0M378 216.7h0M396.1 184.4h0M408.6 219.2h0M374 214.4h0M373.3 227.3h0M402.5 197.5h0M403.1 220.3h0M395.4 215h0M409.8 201.9h0M392.7 233.1h0M408.6 184.7h0M387.9 215.8h0M376 183h0M403 208.9h0M385.3 217h0M393.9 213.7h0M380.6 193.6h0M372.9 204.4h0M375.3 230.7h0M379 216.4h0M399.8 196.3h0M396.6 214.2h0M385.3 218.5h0M391.5 195.2h0M405.2 217h0M372.1 200h0M396.3 203h0M375 189.6h0M399.9 229.6h0M371.4 203.2h0M398.7 228h0M403.2 201h0M408.6 225h0M390.4 188h0M371.1 194.7h0M390.7 198.5h0M383.9 230.6h0M399.7 184.8h0M402 216.3h0M377.6 207.1h0M371.4 197.2h0M380.9 228.5h0M398.7 192.1h0M373.6 214.2h0M393.4 226.3h0M384.4 182.3h0M375.1 228.2h0M408.8 219.6h0M391.3 220.6h0M369.9 201.7h0M373.5 207.9h0M409.3 222.5h0M401.2 219.4h0M383 215h0M406.5 232.8h0M375.9 206.7h0M395.8 195.2h0M404.3 205.1h0M409.5 183.7h0M408.5 205.1h0M384.4 217.5h0M386.9 230.2h0M406.1 220h0M370.7 216.2h0M407.6 198.3h0M407.8 218.6h0M387.6 215.7h0M379.7 206.8h0M394.7 212.8h0M373 219.2h0M400.1 183h0M406.7 201.8h0M410.3 230.4h0M393.6 220.2h0M405.9 215.2h0M407.8 185h0M388.2 212.7h0M398.6 185.1h0M375.1 190.3h0M370.6 189.7h0M408.1 209.5h0M393.6 196.4h0M398.3 195.6h0M409.3 182.2h0M399 189.1h0M405.3 208.7h0M377.8 224.3h0M396.5 205.8h0M406.1 223.9h0M393.7 204.6h0M406.3 212.8h0M391.1 222.4h0M398.5 184.6h0M404.4 178.5h0M376.4 218.2h0M390.9 208.5h0M384.4 202.9h0M377 216.7h0M396.1 201.3h0M410.3 221.8h0M403.8 216.1h0M376.4 230.7h0M378.9 223.2h0M407.6 220.5h0M408.4 181.1h0M374.2 204h0M407.3 211.1h0M374.8 187.6h0M383.2 193.9h0M392.2 212.2h0M379.9 193.1h0M369.3 216.9h0M370.5 196.9h0M379.7 201h0M404.4 225.6h0M391.8 221.8h0M378.2 205.4h0M390 206.3h0M407.6 218.9h0M399.1 187.1h0M387.1 211.1h0M399.9 197.8h0M375.2 216.2h0M410 213.2h0M377.7 182.4h0M382.8 217.5h0M369.7 209.7h0M403.1 188.6h0M371.6 195.8h0M392 179.1h0M387.5 206.2h0M382.6 217.9h0M386 196.9h0M391.1 192.2h0M406.8 232h0M409.7 189.9h0M382.3 183h0M383.5 199.1h0M391.6 205.7h0M394.8 212.6h0M389.9 207.8h0M381.3 223.2h0M376.2 192.9h0M405.7 232.3h0M400.2 182.7h0M389.1 216.2h0M396.1 228.2h0M398.5 197h0M390.5 222.3h0M396.6 215.8h0M376.4 197.7h0M371.7 199.5h0M397.4 228.5h0M401.1 219.6h0M405.2 187.8h0M396.4 215.8h0M393.6 182.4h0M375.9 216.1h0M402.2 188.4h0M397.6 189.7h0M397 211.5h0M384.7 233.4h0M400.2 203.2h0M374.3 220.6h0M395.5 220.2h0M376.7 180h0M371.6 223.2h0M402.7 191.7h0M381.4 217h0M401.2 209.9h0M398.5 198.7h0M407.2 230.3h0M399.6 204.8h0M369.5 223.5h0M395.5 215.1h0M398.3 230.6h0M404.7 198.6h0M403.8 218.7h0M391.4 224.1h0M386.4 215.3h0M369.8 215.9h0M371.1 183.4h0M404.7 189.1h0M386.4 219.7h0M372.3 206.6h0M385.3 191h0M376.5 191.3h0M394.1 205h0M407.2 204.1h0M389.2 183.9h0M394.2 224h0M401.7 190.7h0M395.2 197.6h0M372.9 203.3h0M388.4 212.5h0M397.1 217.6h0M386.3 210.9h0M403.9 188.3h0M399.3 194.7h0M380.1 201.2h0M391.9 189.2h0M383.4 178.6h0M385.5 226.2h0M385.4 190.1h0M402.1 182h0M382.2 193.2h0M385.9 179.3h0M376.4 209.2h0M393.6 186.2h0M408.9 194.5h0M405.4 222.4h0M398.9 226.8h0M372.8 197.3h0M400.6 190.9h0M410.1 186.5h0M408.9 194.9h0M404.4 190.1h0M403.6 199.1h0M403 223.2h0M376.9 190.6h0M378.9 180.1h0M402.3 207.3h0M409 212.6h0M384.7 213.1h0M383.9 201.5h0M382.6 190.4h0M395.8 213.1h0M405.5 200h0M371.7 192.6h0M408.2 209.2h0M381.7 208.9h0M388.2 218.1h0M382.3 208.6h0M370.6 205.2h0M373 224.8h0M370.9 193.9h0M388.8 190.4h0M380.9 202.6h0M377.4 191.6h0M387.1 198.6h0M404.2 223.5h0M389.1 199.6h0M393.2 191h0M405.4 181.8h0M375.5 227.2h0M369.9 222h0M402 200.3h0M394 185.2h0M404.7 180.5h0M380.1 211.4h0M369.4 189.6h0M399.3 206h0M372.7 231.2h0M386.4 200.5h0M397.1 222.9h0M397.2 186.9h0M404.1 214h0M391.3 207.5h0M402.9 201.3h0M391.5 193.1h0M394.1 210.4h0M380.8 196.3h0M388.6 189.4h0M396.6 210.2h0M382.4 191.7h0M378 209.3h0M397.9 228.4h0M388.7 207.7h0M406.9 227.8h0M373.2 217.3h0M376 188.9h0M395.6 229.6h0M403.4 203.1h0M387.5 232.6h0M380.9 222.4h0M374.4 225.9h0M384.7 229.6h0M372.9 205.8h0M378 218.3h0M372 222.9h0M406.2 196.8h0M395.4 207.7h0M388.2 223.5h0M378.7 226h0M410.2 209.5h0M392.1 218.1h0M408.5 211.8h0M384.3 192.5h0M391.4 187.1h0M377.2 203.7h0M385.7 230.5h0M375.8 204.7h0M394.1 216.5h0M401.4 232.1h0M380.7 214.7h0M407.4 182.5h0M395.8 212h0M386.3 232.9h0M382.6 188.1h0M371.4 233.1h0M383.2 192.2h0M395.2 225.2h0M385.2 220h0M400.9 203.2h0M375.9 182.6h0M380.7 183.9h0M401.2 188.4h0M386 181.2h0M407.8 196.8h0M376.1 193.6h0M391.8 184.7h0M388.9 201.1h0M394.4 220.5h0M408.2 218.1h0M382.9 197.8h0M405 219.4h0M385.9 198.2h0M373.7 207.3h0M386.3 208.3h0M401 194h0M397.1 192.6h0M400.3 194.3h0M374.6 193.1h0M406.1 195.6h0M394.5 180.9h0M373.6 209.2h0M397.1 204.9h0M387.9 219.2h0M387.7 201.5h0M383.1 228h0M400.7 203.1h0M381.1 220.8h0M408.6 218.9h0M395.6 187h0M370.2 180.3h0M397.5 200.2h0M396 194.7h0M381.7 199.3h0M392.2 224.9h0M404 229h0M371.8 183.5h0M387.9 199.8h0M373.4 228.1h0M406.1 200.1h0M376.3 195.3h0M401.2 195h0M376.4 219.8h0M398.6 213.6h0M370.6 201.1h0M399.3 197.8h0M386.2 189.9h0M376.2 206.8h0M372 220.5h0M392.5 221.3h0M378.2 215.7h0M395.4 203.6h0M391.4 200.9h0M395.9 202h0M395.2 208.7h0M382.3 198.3h0M374.5 233.4h0M400.4 219.4h0M410.2 184.5h0M398.3 190h0M369.3 182.3h0M391.5 232.9h0M396.5 189.8h0M381.2 232.9h0M403.1 197.9h0M407.2 200.1h0M369.1 199.9h0M383.1 231.8h0M395.3 193.4h0M383.4 217.1h0M374.8 192.8h0M376.3 195.2h0M401.7 202.5h0M394.5 218.4h0M370.5 216h0M384.7 216.9h0M379.9 202.8h0M391.6 187.4h0M376.3 196.4h0M387.6 182.4h0M376.5 216.9h0M377.1 206h0M380.8 211.3h0M404.1 201.6h0M372.5 197.7h0M386.7 218.3h0M383.2 187.9h0M387.8 195.5h0M386 215.2h0M404.1 197.7h0M379.4 202.3h0M409.7 212.6h0M387 185.4h0M395.2 182.9h0M396.9 215.4h0M391.1 182.8h0M374.8 181.5h0M407.1 191.2h0M391.3 225.1h0M399.1 198.6h0M394.8 205.9h0M381.3 179.1h0M391.7 191.5h0M392.3 186.7h0M394.4 204.3h0M405.1 187.4h0M405.2 201.3h0M397.8 208.2h0M404.2 190.5h0M373.4 232.5h0M371 209.6h0M394 181.9h0M392.2 216.3h0M378.3 194.3h0M407.4 199.5h0M371.3 200.2h0M401.9 190.9h0M401.1 224.1h0M390.8 219.6h0M377.5 220.9h0M386.5 180.8h0M375.2 204.7h0M383.4 224.6h0M370.9 230h0M408.6 197.3h0M405.8 198.1h0M406.2 180.9h0M392.3 195.7h0M390.3 178.9h0M393.2 200.4h0M388.3 221.4h0M376.9 225.2h0M401.2 193h0M371.9 214.1h0M407.3 203.1h0M409.3 190.4h0M402.7 212.4h0M387.2 199.5h0M383.8 188.7h0M387.1 201.3h0M397 204.3h0M370.6 213.1h0M396.4 189.6h0M407.5 191.7h0M403.5 214.5h0M395.8 221.1h0M391.1 228.1h0M404.7 194.1h0M393.7 213.1h0M376.7 194.7h0M381.5 199h0M383.5 228h0M373.2 217.6h0M405.9 230.7h0M385.2 203.2h0M376.6 183.4h0M389.4 192.4h0M379.4 182.3h0M377.8 229.9h0M398.7 188.2h0M389.2 190.8h0M400.7 180.1h0M371.7 225.6h0M399.6 223h0M379.8 188.5h0M387.8 196.2h0M389.6 217.8h0M382.6 217.1h0M390.4 205.7h0M380 228.1h0M376 222.1h0M409.8 194.6h0M397.2 221.7h0M392.9 222.1h0M379.6 211.2h0M385 207.7h0M383.1 196.6h0M392.9 198.4h0M380.9 225.8h0M388.4 222.1h0M383 190.3h0M404.9 226.5h0M392.8 224.6h0M389.3 192.5h0M401.3 196.9h0M383 205.9h0M388.7 207.7h0M388.1 189.6h0M404.3 205.8h0M377.6 214h0M399.5 191.6h0M394.8 198.5h0M379.7 197.6h0M400.1 213.2h0M374.2 215h0M400.7 201.3h0M407.4 227.7h0M371.5 180.2h0M399.7 223.3h0M390 195.3h0M406.5 179.9h0M407.5 220.5h0M404.6 181.8h0M392.4 205.3h0M401.1 190h0M394.5 229.7h0M398.5 194h0M379.5 228h0M380.4 199.2h0M407.9 227h0M390.1 183.5h0M390.2 231.9h0M406.9 203h0M388.8 209.3h0M379 201.1h0M382.1 204.7h0M394 184.3h0M402.5 211h0M373.1 201.3h0M377.4 217.4h0M386.8 201.8h0M393.1 207.7h0M406.9 209.8h0M392.3 197.3h0M375 197.7h0M389 207h0M402.1 218.5h0M376.2 201.9h0M409.3 190.9h0M370.3 227h0M385.7 207.4h0M398.2 209h0M400.8 188.3h0M379.7 193.7h0M375 196.2h0M409.1 201h0M403 185.2h0M376.8 204.3h0M376.5 193.4h0M375.8 199.8h0M409.7 202.2h0M390.5 222.7h0M380.2 198.2h0M385.5 221.3h0M399.5 222.7h0M384.4 217.1h0M379 206.8h0M382.1 217h0M407 215.8h0M376.6 207h0M407.6 190.2h0M382.8 198.9h0M395.1 189.3h0M401.9 215.9h0M369.5 198.1h0M377.8 189.5h0M394.3 186.3h0M409 208.2h0M390.8 232.7h0M393.4 199.4h0M396.5 212h0M381.8 217.3h0M399.9 225.3h0M388 215.6h0M406.6 224h0M409.8 222.1h0M373.1 212.8h0M400.1 179.9h0M387.8 187.4h0M400.4 215.7h0M399.8 191.6h0M400.5 215.9h0M379.3 222.6h0M377.9 220.5h0M396.3 214.1h0M407.4 232.9h0M391.4 223.7h0" stroke="#B69E31" stroke-width="1.55" stroke-linecap="round" stroke-opacity="0.78" fill="none"/>
<path d="M391.8 189.8h0M377.5 195.6h0M408 228.8h0M374.7 203.7h0M400.5 229.3h0M378.7 210.8h0M395.9 201.6h0M393.7 189h0M390.5 193.1h0M394.6 208.1h0M371.2 225.2h0M407.1 226.1h0M404.7 188.4h0M375.2 207h0M383.5 205.4h0M369.6 195.1h0M405.7 213.1h0M405.9 199.6h0M406.2 204.8h0M378.8 199.5h0M404.1 218.4h0M387.5 212.5h0M390.2 217.4h0M387.9 202.5h0M405.9 229.2h0M399.6 220.6h0M388.9 228.6h0M381.2 220.9h0" stroke="#2DB34D" stroke-width="1.55" stroke-linecap="round" stroke-opacity="0.78" fill="none"/>
<path d="M404.8 200.6h0M398 192.9h0M385.4 193h0M409.8 197.6h0M389.2 197.5h0M389 232.8h0M399.1 184.8h0M384.7 200.9h0M388.2 211.5h0M394.1 187.4h0M395.1 198.1h0M397.8 189.3h0M387.6 215.4h0M370.8 178.1h0M372.9 201.9h0M373.8 178.2h0M408.8 220h0M408.7 205.1h0M382.6 200.2h0M384.6 196.1h0M396.4 219h0M407 182.2h0M398.7 203.9h0M392.4 181.3h0M376.6 172.3h0M396.6 220.7h0M371.9 174.2h0M380.9 193.1h0M394 197.1h0" stroke="#1ABDC1" stroke-width="1.55" stroke-linecap="round" stroke-opacity="0.78" fill="none"/>
<path d="M371.8 187.7h0M369.2 186.5h0M409.4 189.9h0M409.3 219.2h0M375.9 186.8h0M381.5 212.3h0M396.6 197.8h0M382.7 192.1h0M378.4 215.6h0M373.8 215h0M382 184.4h0M371 225.5h0M398.1 227.4h0M392.6 188.9h0M381.9 190.2h0M389 191.5h0M393.3 205.1h0M386.9 189.1h0M377.8 189.8h0M383.8 213.2h0M387.8 206h0M373.4 164.9h0M375.2 191.5h0M377.5 201.2h0M405.8 199.3h0M403.8 193.7h0M394.4 199.8h0M383.6 216.4h0M374.3 187.3h0" stroke="#6D8FD0" stroke-width="1.55" stroke-linecap="round" stroke-opacity="0.78" fill="none"/>
<path d="M384.7 225.4h0M395.7 174.9h0M403.5 207.7h0M399.4 184.4h0M369.8 191.4h0M388.6 211.5h0M401.9 230.7h0M400.7 188.7h0M387.9 173.1h0M373.9 217.7h0M373.3 229.6h0M399.8 180.6h0M398.1 211.9h0M381.1 213.4h0M372.9 202.7h0M392.7 227.6h0M392.3 178.3h0M379.2 193.5h0M376.7 219.7h0M376 222.7h0M370.2 178.1h0M398.1 184.3h0M382.7 185.7h0M406.3 169.6h0M382.1 182.7h0M403.1 193h0M400.1 191.3h0M405.2 201.8h0M397.1 232.7h0M388.5 230.6h0M378.6 226.1h0M408.6 228.6h0M384.3 174.6h0M373.8 192.6h0M388.6 224.8h0M400.6 201.4h0M383.9 221.3h0M372.1 197h0M404.8 176.5h0M379.1 205h0M390.8 202.9h0" stroke="#CC6FC0" stroke-width="1.55" stroke-linecap="round" stroke-opacity="0.78" fill="none"/>
<rect x="366.70" y="154.10" width="50.30" height="84.30" fill="none" stroke="#8C8C8C" stroke-width="0.9"/>
<text transform="translate(371.00 243.2) rotate(-90)" font-size="5.6" fill="#3a3a3a" text-anchor="end">0</text>
<text transform="translate(379.78 243.2) rotate(-90)" font-size="5.6" fill="#3a3a3a" text-anchor="end">10</text>
<text transform="translate(388.56 243.2) rotate(-90)" font-size="5.6" fill="#3a3a3a" text-anchor="end">20</text>
<text transform="translate(397.34 243.2) rotate(-90)" font-size="5.6" fill="#3a3a3a" text-anchor="end">30</text>
<text transform="translate(406.12 243.2) rotate(-90)" font-size="5.6" fill="#3a3a3a" text-anchor="end">40</text>
<text transform="translate(414.90 243.2) rotate(-90)" font-size="5.6" fill="#3a3a3a" text-anchor="end">50</text>
<path d="M369.00 238.40v1.6M377.78 238.40v1.6M386.56 238.40v1.6M395.34 238.40v1.6M404.12 238.40v1.6M412.90 238.40v1.6" stroke="#333" stroke-width="0.7"/>
<rect x="366.70" y="142.60" width="50.30" height="11.50" fill="#F9C5AA"/>
<rect x="366.70" y="153.30" width="50.30" height="0.8" fill="#D8A98F"/>
<text x="391.85" y="150.75" font-size="6.60" text-anchor="middle" fill="#4A4A4A">2</text>
<rect x="420.20" y="154.10" width="50.30" height="84.30" fill="#fff"/>
<path d="M420.20 233.60H470.50M420.20 215.52H470.50M420.20 197.45H470.50M420.20 179.38H470.50M420.20 161.30H470.50M420.20 224.56H470.50M420.20 206.49H470.50M420.20 188.41H470.50M420.20 170.34H470.50M422.50 154.10V238.40M431.28 154.10V238.40M440.06 154.10V238.40M448.84 154.10V238.40M457.62 154.10V238.40M466.40 154.10V238.40M426.89 154.10V238.40M435.67 154.10V238.40M444.45 154.10V238.40M453.23 154.10V238.40M462.01 154.10V238.40" stroke="#EBEBEB" stroke-width="0.5" fill="none"/>
<path d="M425.2 203.2h0M457.5 213.6h0M446.7 187.3h0M459.7 227.3h0M437.9 222h0M424.6 206.8h0M445.6 212.3h0M427.6 225h0M446.2 189.9h0M428.4 218.2h0M433.6 194.9h0M438 216.2h0M425.7 205.6h0M453.4 194.7h0M438.5 219.7h0M430.5 196h0M449 228.8h0M429.7 182.8h0M457 217.8h0M456.9 193.3h0M450.2 221.9h0M458.3 204.2h0M427 210.8h0M439.5 231.5h0M453.9 199.4h0M448 212.1h0" stroke="#F07470" stroke-width="1.55" stroke-linecap="round" stroke-opacity="0.78" fill="none"/>
<path d="M447.4 206.7h0M441.5 205.2h0M435.9 181.5h0M446.6 197.3h0M444.3 215h0M457.1 223.8h0M423.2 213.1h0M437.6 207.7h0M442.8 222.6h0M432.5 221.5h0M451.6 191.8h0M457.1 217.1h0M427.2 204.4h0M429.9 194.8h0M451.7 224.2h0M450.7 204.6h0M438.8 205.1h0M441.6 190.9h0M446.3 183.3h0M443.3 211.1h0" stroke="#B69E31" stroke-width="1.55" stroke-linecap="round" stroke-opacity="0.78" fill="none"/>
<path d="M435.6 231.3h0M460 222.3h0M432.3 219.9h0M442.9 204.2h0M435.5 215.4h0M441 222.5h0M445 230.1h0M426.1 218.6h0M430 217.4h0M431.3 211.7h0M455.2 213.6h0M453.8 226.5h0M429.6 224.8h0M429.5 219.7h0M452.2 203.9h0M457.2 197.7h0M447 223.8h0M447.8 203.1h0M447.4 192.6h0M427.2 221.8h0M440 231.6h0M452.9 201.6h0M432.8 214.6h0M448.5 198.8h0M428.7 194.3h0M452.8 229.7h0M426.7 222.2h0M457.5 192.3h0M456.5 194.4h0M428.8 215.5h0M455.9 223.4h0M450 225.4h0M441.9 196.9h0M458.7 198.8h0M440.9 201.2h0M422.4 188.6h0M460.2 209.4h0M460.3 194h0M455.6 186.7h0M448.7 214.8h0M439 232.7h0M429.4 196.6h0M449.2 197.8h0M445 232.2h0M431.1 207h0M438.7 191.6h0M429.1 195.7h0M424 209.5h0M427.6 209.4h0M455.7 209h0M435.9 193.1h0M432.8 214.6h0M454.4 229.3h0M445.2 209.3h0M460.2 222.5h0M423 215.5h0M442.2 199h0M426.4 202.2h0M431.3 217.6h0M449.2 211.5h0M440.9 218.2h0M438.7 217.2h0M427.4 198.4h0M439.8 211.7h0M449.4 221.5h0M455.7 216.3h0M439.3 216.3h0M450.7 200.5h0M450.7 185.2h0M432.1 189h0M428.2 209.9h0M446.7 199.7h0M451.2 210.5h0M443.4 215.6h0M445 209.5h0M443.1 200.8h0M433.6 199.2h0M445.1 201.6h0M449 208.7h0M443.3 203.5h0M425.3 228.4h0M442.3 207.4h0M442.8 193.7h0M438.5 220.2h0M424.4 198.1h0M457.6 199.6h0M425.7 222.6h0M435.9 230h0M424.2 216.3h0M431.5 206.6h0M449 213.8h0M443.4 217.2h0M457.3 223.5h0M446.7 224.9h0M425 208.6h0M458.9 192h0M439.7 219h0M455.2 196.2h0M451.5 196.6h0M428 229.4h0M444.7 221.6h0M456 229.3h0M433.2 194.1h0M450.8 187.9h0M438.8 204.2h0M422.9 208.2h0M455.9 198.2h0M451.1 212.1h0M446 222.3h0M437.7 222.2h0M455 211.1h0M457 223.2h0M427.8 193.6h0M434.7 200.1h0M435.5 218.5h0M455.6 224.1h0M440.3 191.9h0M434 218.5h0M425.3 217.5h0M423.2 196.8h0M440 224.3h0M450.6 221.3h0M436.5 218h0M449.4 218.3h0M456.1 195.7h0M453.7 223.7h0M425.9 201.2h0M430.2 192.9h0M451.3 188.3h0M430.8 204.1h0M450.5 221.7h0M427 208.5h0M444.1 224.6h0M438.4 209.7h0M459.9 221.5h0M453.4 202h0M425.7 214.2h0M435.7 209.8h0M447.4 229.1h0M451.5 222.6h0M429.7 191.7h0M437.3 217.8h0M442.9 213.2h0M432.6 194.4h0M453.2 202.5h0M454.7 194.4h0M440.1 215.9h0M449 209.2h0M442.1 224.1h0M431.3 223.2h0M434.7 207.8h0M441.2 219.8h0M428.4 224.1h0M460 216.1h0M456 225.8h0M455.2 222.7h0M456 206.8h0M423.4 227.6h0M452.2 210.9h0M451 219.6h0M457.2 214.7h0M458.6 195.5h0M458 223.5h0M449.7 213.4h0M427.3 218.2h0M458.6 212.8h0M446.1 217.7h0M429.9 198.6h0M444.8 231.4h0M429.4 225.6h0M456.3 206.4h0M452.2 205.2h0M432.1 216.9h0M427.5 209h0M443.7 213.4h0M443.8 191.7h0M450.5 198.9h0M430.6 198.3h0M438.2 229.4h0M422.6 200h0M449.7 212.2h0M424.2 185.5h0M443.3 197.8h0M449 187.6h0M438.3 219.2h0M453.9 203h0M434.2 204h0M423.3 192.4h0M458.3 186.5h0M436.6 198.6h0M434.8 215.6h0M427 218.9h0M453.9 223h0M429.9 192.3h0M429 190.8h0M429.9 232.1h0M446.5 188.9h0M431.3 220.2h0M440.3 198.9h0M456.8 186.8h0M427.3 198.6h0M439.5 214h0M453.7 222.9h0M447.3 217h0M453.6 210.7h0M428.7 205.2h0M441.2 200.4h0M452.4 193.9h0M438.9 206.7h0M426.9 225.2h0M438.9 197.8h0M439.4 199.6h0M434 208h0M458.7 219.2h0M446.2 209.8h0M433.8 215.8h0M441.3 215.9h0M446.6 216.8h0M454.8 212.4h0M445.4 223.7h0M449.4 224.9h0M434.3 224.3h0M458 215h0M436.4 221.5h0M454.2 211.4h0M452.1 202.3h0M425.2 231.7h0M455.2 220.2h0M456.9 215.7h0M450.4 217.6h0M441.1 191.3h0M438.2 184h0M424.8 187.1h0M426.1 189.9h0M439.5 230.3h0M434.5 220.3h0M456.3 201.9h0M452.3 217.1h0M448.5 198.9h0M453.7 205.3h0M457 200.6h0M457.6 213.6h0M424.6 224.4h0M435.8 214.2h0M442.8 202.7h0M442.2 185.2h0M453.8 220.5h0M447.7 226.8h0M450.1 203h0M428.2 222.6h0M455.4 218.9h0M444 228.6h0M449.5 213.4h0M431.2 221.5h0M451.4 229.9h0M445.1 190.8h0M449.6 211.4h0M445.1 216.9h0M455.4 188.9h0M453.6 205.9h0M439.8 216.4h0M442.1 203.6h0M454.6 226.5h0M436.1 198.5h0M429 206.3h0M447.4 219.3h0M429.3 200.6h0M451 198.8h0M449.9 218.7h0M428.9 216.1h0M453.8 213.4h0M441.3 201.9h0M439.5 229.7h0M441.2 213.1h0M437.1 190h0M436.4 228.1h0M453.3 204.6h0M423.3 190.7h0M427.8 226.5h0M433.8 224.1h0M434.6 217.3h0M422.9 216.5h0M433.4 189.2h0M454.9 215.9h0M440.1 224.9h0M435.4 208.1h0M426.2 222.2h0M439.5 221.7h0M425.9 208.3h0M451.3 198.7h0M426.9 184.3h0M451.8 208.2h0M444.4 198.7h0M423 199.5h0M450.4 219.5h0M446 233.5h0M456.4 209.3h0M442.2 231.9h0M455.5 223.2h0M434.7 216.8h0M457.7 208.2h0M445.4 223.8h0M455.1 231.6h0M443.3 215.3h0M428.9 198.1h0M443.6 212.7h0M446.7 215.5h0M458.4 192.3h0M423.7 201h0M453.9 218.8h0M451.9 198.5h0M428.9 223.9h0M426.7 212.7h0M446.1 225h0M445.9 222.7h0M434.3 188.7h0M457 205.6h0M451.2 232h0M445.6 190h0M457.7 202.7h0M429.6 203.6h0M446.7 215.9h0M436.5 196h0M444.7 222.3h0M423.8 214.9h0M439.1 187.9h0M442.6 221.7h0M453.6 186.7h0M432.8 189.3h0M429.4 198.9h0M452.9 207.7h0M437.1 219.4h0M445.9 191.4h0M451 197.3h0M456.5 196.5h0M457.5 187.7h0M438.6 224.5h0M434.1 219.8h0M441.8 197.3h0M436.7 197.1h0M422.7 213h0M436.4 197.1h0M459.4 221.5h0M434.4 203.1h0M426.9 207.2h0M438.2 214.6h0M447.1 186.9h0M429.7 191.4h0M431.1 195.3h0M439 219h0M436.8 224.9h0M447.6 189.7h0M450.7 227.6h0M447 196.1h0M440.3 224.4h0M453.7 224.6h0M450.3 191.9h0M429.1 226.1h0M448.1 191.5h0M436.2 231.4h0M457.9 202.6h0M426.5 194.7h0M432 219.3h0M452.7 220.8h0M432.7 207.9h0M438.9 226.3h0M432.2 230.5h0M433.5 225.3h0M452.5 228.5h0M441.4 185.5h0M427.4 221.4h0M424.8 201.4h0M454 217.7h0M430.1 222.7h0M449.9 211.2h0M449 201.9h0M441.7 191.7h0M443.6 223.7h0M454.4 219.6h0M433.3 185h0M457.9 213.3h0M452.3 214.2h0M454.6 226.4h0M446.4 200.3h0M457.4 225.4h0M443 213.4h0M440.2 190.2h0M427.4 200.3h0M437.4 191.8h0M430.8 208.3h0M428.4 223.5h0M448.2 203.3h0M438.5 229.5h0M435.2 229.7h0M431.9 194h0M436 222.1h0M435.6 224.8h0M439 213.6h0M423.2 191.6h0M430.3 186.7h0M453 218.2h0M433.2 193.8h0M428 209.9h0M434.4 217.7h0M434.9 231h0M446.9 193.2h0M432.8 204.4h0M448 213h0M459.6 207.5h0M439.3 222.3h0M429.6 215.1h0M434.6 196.4h0M453.1 193.2h0M447.6 232.7h0M458.4 202.5h0M427.7 220.5h0M453.6 208.2h0M433.2 186.3h0M458.3 225.5h0M437.3 204h0M444.9 218.4h0M448.7 190.9h0M458.8 186.7h0M430 219.1h0M456.1 223.4h0M449.2 192.4h0M455.7 196.4h0M433.9 200.9h0M438.4 229.7h0M440.6 207.1h0M453.1 190.7h0M422.9 206.2h0M441.2 192.5h0M422.6 218.6h0M431.9 197.9h0M427.4 223.7h0M454.9 225.5h0M445.3 201.4h0M453.1 223.1h0M422.8 197.3h0M455.7 228.7h0M459.6 194.2h0M428.4 224.2h0M427.3 188.7h0M451.6 216.4h0M436.3 218.2h0M429.3 214.6h0M434.1 200.2h0M430.2 217.1h0M426.7 211.2h0M452 232.2h0M431 198.8h0M425.8 233.4h0M455 198.6h0M435.2 207.7h0M435.1 207.9h0M443.1 199.3h0M451.2 202.5h0M453.4 200.2h0M437.6 201.1h0M439.1 206.3h0M423.8 219.3h0M448.6 202.2h0M453.5 205.3h0M445.8 207.9h0M445.8 225.4h0M449.8 210h0M440.2 218.2h0M427.4 227.1h0M422.6 221.6h0M441 217.5h0M458 213.8h0M432 216.3h0M440.5 194.2h0M429.3 200.5h0M434.6 211.6h0M455.8 216.7h0M451.8 209.8h0M437.9 189.7h0M455.4 232.4h0M424 210.3h0M451 231.8h0M452.6 223.2h0M450.4 220h0M455.1 202.6h0M448 204.8h0M425.1 210.6h0M454.8 211.9h0M429 195.1h0M458.2 217.9h0M445.6 206.9h0M444.6 209.8h0M444 207.4h0M424.8 230.7h0M450.5 212.9h0M447.2 220.5h0M430.2 184.2h0M426.2 184.9h0M447 184.1h0M441.8 198.9h0M435.5 211.9h0M424 216h0M456.4 218.2h0M440.4 224.3h0M444.4 198.3h0M446.3 219h0M449.6 202.7h0M453.8 225.3h0M429.1 214.4h0M422.8 200.6h0M458.3 188.5h0M448.6 190.7h0M428 204h0M451.2 206.6h0M434.8 231.3h0M438.8 214.5h0M455.9 221.8h0M443.3 228.2h0M434.5 220.5h0M458.8 199.6h0M441.1 198.1h0M456.4 197.4h0M446.8 200.8h0M445.6 192h0M432.3 208.7h0M434.3 214.4h0M451.9 206.8h0M441.2 200.9h0M448 196.4h0M450.2 207.3h0M452.8 189.1h0M455.2 195.7h0M442.4 224.6h0M443.2 227.7h0M459.9 196.8h0M429.1 183.9h0M422.4 206.9h0M455.9 219.1h0M444.8 229.5h0M455.9 194.1h0M429 216h0M428.2 192.3h0M457.5 195h0M443.3 197.5h0M429.2 198.9h0M440.6 186h0M451.3 206.1h0M441.2 215.5h0M429.2 193.2h0M449.6 204.3h0M434.9 186.6h0M434 212.4h0M452.3 205.4h0M447.3 204.2h0M443.6 210.8h0M431.8 197.2h0M423.2 207.8h0M423 204.4h0M424.9 201.7h0M451.4 206.7h0M434.6 197.4h0M431 215.8h0M429 223.5h0M444.9 199.6h0M459.9 230.6h0M457.3 195.3h0M438.4 198.7h0M449.9 192.8h0M433.2 193.7h0M433.1 199.2h0M429.8 206h0M423.7 195.4h0M453.5 229h0M447.1 203.7h0M448.7 210.8h0M425.5 225h0M440.8 233h0M446.3 196.8h0M432.1 224.8h0M436 225.2h0M459.3 205.2h0M455 202.5h0M451.3 202h0M458.5 188.7h0M448.6 199.3h0M435.8 220.5h0M460 211.8h0M441.3 225.1h0M430.4 221.3h0M429.8 215.7h0M448.7 203.9h0M425.3 185.1h0M435.9 203.9h0M444.2 223h0M454.1 193.5h0M436.5 221.7h0M453.6 188h0M454.6 219.4h0M447.1 218.9h0M438.7 187.9h0M424.2 215.5h0M441.6 207.5h0M428.6 230.9h0M453.5 203.3h0M445.7 227.9h0M432.2 220.4h0M456.7 216h0M435.4 194.2h0M424.2 227.7h0M448.5 213.6h0M458.9 208.8h0M457 187.9h0M445 192.7h0M430.8 231.1h0M447.7 229.9h0M426.7 193.1h0M423.2 205.9h0M449 228.1h0M424 209.2h0M451.1 223.4h0M449.4 225.1h0M453.9 211.8h0M428.4 210.4h0M458.1 201.9h0M453.7 202.5h0M454.3 204.6h0M440.3 188.7h0M457 218.5h0M437.9 206.5h0M427.9 225.7h0M454 208.4h0M455 211.7h0M434.9 196.3h0M460.4 210.2h0M447.1 209.1h0M439.2 195h0M425.6 219.6h0M444.6 205.3h0M454.6 197.1h0M454.1 191h0M457.5 215.2h0M454.8 184.2h0M438.3 185.2h0M449 184h0M457.2 211.6h0M429.2 194.1h0M459.1 210h0M441 220.8h0M435 228.8h0M445 213.8h0M428 225.3h0M460 216.4h0M433.6 202.2h0M447.3 209.3h0M436.5 222.8h0M439.2 190.7h0M423 218.1h0M437.8 205.7h0M442.4 205h0M447.6 206.1h0M459.7 218.8h0M442.4 231h0M451.7 221.9h0M454.2 218.7h0M422.9 218.3h0M447.3 201.4h0M455.6 187h0M435.4 206.3h0M439 218.3h0M451.9 208.5h0M436.1 198.3h0M436.2 228.3h0M447.3 203.8h0M448.1 193.8h0M458.1 206.8h0M431.7 190.6h0M437.5 220.3h0M434.5 199.6h0M457.1 225.2h0M447.4 214.4h0M456.3 206.8h0M452.8 228.4h0M452.4 187.1h0M456.8 192h0M456.5 191.2h0M459.9 215.8h0M433.1 212.4h0M456 196.8h0M435.4 193.5h0M459.1 205.1h0M434.1 232.4h0M427.8 231.4h0M422.9 212.1h0M429.4 190.6h0M443.3 230.7h0M433.7 223.7h0M443.9 203.4h0M442.1 204.4h0M438.8 202.3h0M428.8 230h0M438.3 199.9h0M431.9 219.6h0M443.1 211h0M426.2 207.3h0M441.7 230.6h0M452.3 202.2h0M448.1 220.9h0M443.4 204.9h0M457.6 188.1h0M459.8 190.8h0M444.1 209.5h0M430.7 204.4h0M452.9 204.2h0M458.4 220.7h0M437.9 229.3h0M441.1 223h0M427.5 229.4h0M429.3 229.2h0M424.7 199.7h0M452.5 211.1h0M447.3 208.2h0M459.7 204.7h0M443.8 207.1h0M457.4 205.5h0M452.8 202.1h0M423.9 204.2h0M428.5 211.5h0M447.8 209.2h0M447.3 210h0M457.2 231.6h0M449.8 218.5h0M423.6 208.5h0M434 206.4h0M435.5 201.7h0M459.1 223.6h0M451 207.5h0M436 194h0M429.3 223h0M447.9 220.4h0M455.1 214.6h0M456 215.5h0M422.8 186.6h0M427.8 186.3h0M458.9 217.1h0M456.5 207.1h0M444 192.7h0M431.7 191.1h0M456.8 211.1h0M425 204.4h0M459.7 213.2h0M433.2 199.9h0M423.1 187.3h0M442.7 214.2h0M459.2 197.5h0M445.5 223.6h0M436 228.6h0M451.6 197.4h0M430.9 233.5h0M445.9 223.5h0M429.1 205h0M460.5 221.8h0M436.5 233.2h0M437.8 200.5h0M444.7 209.3h0M442.7 225.7h0M442.4 197.5h0M449.8 194.5h0M430.1 185.2h0M449.2 223.7h0M432.5 207.3h0M457.1 204.1h0M439.8 196.3h0M440.2 220.2h0M430.3 212.4h0M439.2 189.8h0M456 224h0M427.3 216.1h0M425.6 220.9h0M438.6 195.2h0M435.3 225.6h0M437.3 198.1h0M457.8 212.3h0M455 196.9h0M448.5 223.5h0M447.1 213h0M453.1 217.7h0M431.2 195.4h0M424.1 195.6h0M453.2 223.7h0M429.7 226.7h0M424.4 231.5h0M443.9 206.7h0M446.8 220.5h0M443.8 199.8h0M450.4 219.1h0M436.7 199.4h0M425.8 196.3h0M436.1 228.6h0M432.1 220.8h0M451.3 218.8h0M436.8 184.6h0M427 220.7h0M441.1 207.7h0M460.3 202.5h0M424 220.8h0M434.5 186.3h0M447.9 222.3h0M427.3 205.9h0M431.2 184.3h0M431.8 225.4h0M430 205.5h0M429.8 205h0M454.7 205.1h0M427.1 228.8h0M441.3 189.6h0M453 201.6h0M425.1 216.1h0M444.8 209h0M458.8 213.5h0" stroke="#2DB34D" stroke-width="1.55" stroke-linecap="round" stroke-opacity="0.78" fill="none"/>
<path d="M435.2 185.5h0M455.4 215h0M458.1 192.4h0M427.4 220.7h0M444.4 183.5h0M441 203.8h0M440.8 231.8h0M459.1 188.8h0M443.4 195.3h0M457 197.4h0M432.4 226h0M456 204.5h0M436.9 177.7h0M436.5 200h0M446.8 198.2h0M437.4 176.7h0M432.5 229.4h0M433.6 198.2h0M437.1 209.9h0M446.4 195.2h0M455.6 227.1h0M460.3 222.3h0M425.6 215.7h0M433.6 220.1h0M452.9 185.9h0M449.9 224.1h0M451.9 196.6h0M426.2 225.5h0M437.2 232h0M458.6 231.9h0M441.6 217.7h0M459.5 230.1h0" stroke="#1ABDC1" stroke-width="1.55" stroke-linecap="round" stroke-opacity="0.78" fill="none"/>
<path d="M424.6 172.9h0M434.2 189.4h0M460.1 205.4h0M429.2 202.9h0M435.3 182.5h0M435.3 200.2h0M434.7 186.4h0M443.8 164.7h0M432.8 185.6h0M427.9 167.6h0M453.8 198.9h0M442.4 194.7h0M449.3 188h0M458.3 188.6h0M425 200.3h0M431 202.9h0M452.6 191.4h0M429.9 181.5h0M455.2 205.4h0M436 178.8h0M446.1 199.6h0M446.5 187.8h0M454 193.5h0M432.4 210.3h0M441 226.7h0M428.1 197h0M450.6 194.1h0M436.9 196.8h0M424.4 179h0M435.7 196.3h0M435.2 200h0M436.3 205.8h0M442.6 181.2h0M453.2 210h0M429.1 194.2h0M427.4 215.7h0M429.7 195.6h0M452.7 202.4h0" stroke="#6D8FD0" stroke-width="1.55" stroke-linecap="round" stroke-opacity="0.78" fill="none"/>
<path d="M423.3 231.1h0M433.4 209.9h0M452.3 188.4h0M457.1 193.3h0M435.2 195h0M429.7 227.6h0M457.3 173.8h0M438.4 203.4h0M432.3 204.7h0M437.3 174h0M456.3 207.6h0M438.4 192h0M433.1 204.7h0M423.7 219.2h0M423.3 185.7h0M439.3 180.2h0M430.9 192.7h0M448.3 198.7h0M428.4 221.1h0M426.2 217.9h0M453.4 206.6h0M427.8 222.5h0M429.8 222.4h0M426.8 209h0M433.9 203.3h0M434.5 204.2h0M455.8 211.2h0M432.8 189.6h0M422.6 184.3h0M439 222.8h0M458.9 219.2h0" stroke="#CC6FC0" stroke-width="1.55" stroke-linecap="round" stroke-opacity="0.78" fill="none"/>
<rect x="420.20" y="154.10" width="50.30" height="84.30" fill="none" stroke="#8C8C8C" stroke-width="0.9"/>
<text transform="translate(424.50 243.2) rotate(-90)" font-size="5.6" fill="#3a3a3a" text-anchor="end">0</text>
<text transform="translate(433.28 243.2) rotate(-90)" font-size="5.6" fill="#3a3a3a" text-anchor="end">10</text>
<text transform="translate(442.06 243.2) rotate(-90)" font-size="5.6" fill="#3a3a3a" text-anchor="end">20</text>
<text transform="translate(450.84 243.2) rotate(-90)" font-size="5.6" fill="#3a3a3a" text-anchor="end">30</text>
<text transform="translate(459.62 243.2) rotate(-90)" font-size="5.6" fill="#3a3a3a" text-anchor="end">40</text>
<text transform="translate(468.40 243.2) rotate(-90)" font-size="5.6" fill="#3a3a3a" text-anchor="end">50</text>
<path d="M422.50 238.40v1.6M431.28 238.40v1.6M440.06 238.40v1.6M448.84 238.40v1.6M457.62 238.40v1.6M466.40 238.40v1.6" stroke="#333" stroke-width="0.7"/>
<rect x="420.20" y="142.60" width="50.30" height="11.50" fill="#FDEBC2"/>
<rect x="420.20" y="153.30" width="50.30" height="0.8" fill="#DDCDA6"/>
<text x="445.35" y="150.75" font-size="6.60" text-anchor="middle" fill="#4A4A4A">3</text>
<rect x="473.70" y="154.10" width="50.30" height="84.30" fill="#fff"/>
<path d="M473.70 233.60H524.00M473.70 215.52H524.00M473.70 197.45H524.00M473.70 179.38H524.00M473.70 161.30H524.00M473.70 224.56H524.00M473.70 206.49H524.00M473.70 188.41H524.00M473.70 170.34H524.00M476.00 154.10V238.40M484.78 154.10V238.40M493.56 154.10V238.40M502.34 154.10V238.40M511.12 154.10V238.40M519.90 154.10V238.40M480.39 154.10V238.40M489.17 154.10V238.40M497.95 154.10V238.40M506.73 154.10V238.40M515.51 154.10V238.40" stroke="#EBEBEB" stroke-width="0.5" fill="none"/>
<path d="M492.6 183h0M496.1 202.4h0M518.5 191.6h0M519 199.8h0M513.1 220.6h0M505.8 209.5h0M482.3 202.8h0M511.7 220.2h0M478 211.3h0M478.6 221.9h0M501.1 200.7h0M493.9 204.1h0M514.7 199.6h0M509 223.8h0M509.6 231.3h0M490.3 208.8h0M506.1 188.9h0M507.4 212.3h0M484 213.9h0M483.4 220.9h0M501.5 222.6h0M499 202h0M481.7 199.4h0M503.3 211.1h0M508 220.1h0M509.2 224.3h0M486.6 184.6h0M486.4 193.4h0M500.3 229.5h0M512.8 202.5h0M483.1 183h0M519.5 227.8h0" stroke="#F07470" stroke-width="1.55" stroke-linecap="round" stroke-opacity="0.78" fill="none"/>
<path d="M500.1 204.1h0M477.9 187.2h0M484.2 219.1h0M491.8 195.9h0M488.1 192.2h0M485.8 183.9h0M492.6 184.1h0M492.6 197.9h0M511.9 181.1h0M511.8 205.4h0M507.3 231.8h0M513.6 224.6h0M485.7 223.9h0M502.7 214.1h0M515.4 225.3h0M519.9 210.1h0M506.7 227.9h0M482.5 210.2h0M508 196.7h0M487.6 206.1h0M481.1 201.6h0M485.2 226.1h0M492.4 181.7h0M477.6 185.5h0M496.9 197.8h0M520.7 225.5h0M491.3 220.5h0M484.6 182.2h0M479 196.2h0M512.8 224.2h0" stroke="#B69E31" stroke-width="1.55" stroke-linecap="round" stroke-opacity="0.78" fill="none"/>
<path d="M484.8 206.2h0M506.9 185.4h0M478.2 206.7h0M499.9 193.9h0M518.6 216.9h0M495.6 183.8h0M493.8 200.9h0M513.1 195h0M519.6 185.4h0M479.1 189.5h0M510.8 199h0M511.9 185h0M505.4 191.9h0M489 200.2h0M495.2 201.1h0M479.5 191.6h0M515.9 208.8h0M478.6 225.3h0M501.6 201h0M492.6 199.6h0M492.1 212h0M500.4 202.3h0M514.8 184h0M480.2 205.4h0M503.9 218.8h0M502.1 219.2h0M512.6 208.7h0M512 207.3h0M491 222.9h0M510.7 195.5h0M477.3 232.2h0M498.5 222h0M516.5 196.6h0M495.1 186h0M502.4 196.5h0M496.8 233.4h0M520.7 215.8h0M495.5 194.2h0M486.3 211.5h0M493.6 207.2h0M503 229.1h0M477.6 190h0M508.5 205.6h0M517.2 191.5h0M513.4 231.4h0M515.1 211.4h0M494 227.5h0M512 212.2h0" stroke="#2DB34D" stroke-width="1.55" stroke-linecap="round" stroke-opacity="0.78" fill="none"/>
<path d="M478.5 223h0M495.4 221.4h0M495.3 201.1h0M485 194.5h0M489.4 212.6h0M502.7 211.6h0M516.4 196.5h0M494.3 225.3h0M501.9 219.9h0M496.5 189h0M491.9 211.2h0M493 218h0M491.7 212.3h0M484.1 227h0M499.4 221h0M491 193.8h0M512.5 205.2h0M496.4 185.6h0M476.8 204.5h0M488 198.7h0M487.1 187.5h0M507.4 171.6h0M480.8 218.5h0M521.3 197.8h0M487.6 190.4h0M506.5 198.1h0M499.2 219.3h0M510.9 173.7h0M484.2 189.7h0M494.1 210.1h0M520.9 208.2h0M515.9 185.2h0M505.4 225.1h0M518.9 212.2h0M510.5 207.2h0M492.7 186.3h0M513.1 211.2h0M510.7 195.9h0M517.9 227.2h0M479.8 228.9h0M505.3 185.4h0M513.2 219.2h0M509.9 174.9h0M487 189.5h0M485.2 186.8h0M500.9 177.8h0M485 205.1h0M487.1 189.3h0M484.7 184.2h0M517.4 181h0M509.7 216.8h0M477 194.6h0M488.4 184.2h0M491.4 220.2h0M497.2 196.6h0M505.8 196.7h0M477 211.4h0M485.3 187.5h0M480.7 174.8h0M514 206.1h0M508.7 201h0M477.2 198.8h0M516.5 202.8h0M476.6 176.6h0M493.9 232.8h0M478.9 202.9h0M509.1 190.1h0M489.4 222.4h0M490.9 204.8h0M520 187.7h0M491 188.3h0M495.5 194.6h0M503.7 209.1h0M503.6 217.2h0M496.9 171.4h0M488.4 172.5h0M520.9 223.2h0M499.7 185.8h0M493.2 177.3h0M497.6 220.4h0M517.5 193.3h0M478.4 198.3h0M492.7 207.8h0M476.8 232.3h0M500.5 205.7h0M492.4 216.4h0M506.8 206h0M491 202h0M509.6 212.8h0M486.2 220h0M480.7 213.9h0M495.3 218.6h0M481.2 220.6h0M505.8 204.4h0M497.5 170.9h0M511 174.8h0M492.5 190.6h0M488.6 218.6h0M476.2 214h0M517.5 195.8h0M478.1 208.2h0M482.2 213.6h0M518.4 187h0M476.9 190.3h0M485.2 180.4h0M512.9 186.9h0M500.1 216.5h0M496 177.1h0M511.9 217.1h0M488.5 192.2h0M513 196.3h0M513.9 202h0M478.7 212.6h0M493.4 205.1h0M512.2 213.2h0M518.4 227h0M479.9 175.5h0M494 228.2h0M502 213.9h0M513.2 183.4h0M500.2 214.9h0M500.7 212.3h0M520.4 198.3h0M482.9 201.6h0M485.7 204.7h0M481.8 197.3h0M508.6 208.8h0M505.7 182.1h0M479.1 208.7h0M480.1 209.9h0M481.4 217.4h0M509.9 206.4h0M480.4 218.7h0M477 206.3h0M492.9 230.6h0M477.7 205.3h0M512.1 171.1h0M477.4 228.8h0M487.2 212.2h0M504.4 200h0M518.5 224.6h0M488.1 173.3h0M476.3 176.1h0M476.8 205.5h0M482.3 197.6h0M477.5 226.9h0M498.4 199.9h0M495.5 187.8h0M497 215.6h0M516.2 196.6h0M518.2 173.6h0M501.8 183.3h0M501 180.7h0M502.7 207.4h0M520.7 221.8h0M489.7 203.8h0M483.6 215.7h0M488.2 213.3h0M491.9 228.3h0M504.7 221.4h0M491.3 195.2h0M477 222.8h0M517.7 202.9h0M477.2 214.8h0M488.1 214.6h0M487.8 182.3h0M491.9 204.2h0M502.5 207.1h0M515.7 182.2h0M496 203.8h0M487.9 221.2h0M496.4 206.3h0M495.9 219.9h0M487.5 229.3h0M502.8 191.7h0M513.4 189h0M478.9 182.2h0M480.6 214.8h0M485.2 179.6h0M504.6 197.2h0M479.9 200h0M483.1 217.5h0M520.8 195.4h0M489.5 201.5h0M519.4 191.8h0M483 173.9h0M508.2 196.4h0M506.3 188.8h0M487.5 211.7h0M481.2 173.6h0M508.5 174.4h0M485.4 210.4h0M499.8 222.4h0M501.4 205.8h0M476.3 178.4h0M489.2 185.5h0M508.4 216.6h0M506.4 194.5h0M498.1 210.9h0M514.3 206.6h0M494.5 232.6h0M511.7 206.2h0M499.1 208.2h0M493.9 217.5h0M511.1 215.1h0M488.6 192.6h0M515.2 194.1h0M487.4 213h0M492.1 198.1h0M516.4 197.8h0M493 204.3h0M494.8 226.6h0M505.7 228.5h0M512.4 213.1h0M477 226.4h0M478.2 207.6h0M508.3 205.2h0M478.6 198.9h0M489.5 185.3h0M499.1 228.4h0M506.1 192.1h0M518.5 188.5h0M476.7 215.8h0M477.6 207h0M511.7 223h0M512.8 218.6h0M519.9 170.4h0M512.8 207.2h0M503.2 205.2h0M484.1 207.8h0M518.3 210.8h0M494.2 174.1h0M505.1 192.1h0M490 213.2h0M476.3 212.7h0M485.9 176.4h0M517.5 230.3h0M519.6 222.1h0M497.6 211.5h0M504.8 174.1h0M476.6 206.9h0M514.8 180.1h0M485.8 200.9h0M478.5 183.2h0M505.8 189.4h0M513.4 226.2h0M510.3 203h0M510.3 184.9h0M511.6 212.2h0M493.5 202.7h0M514 230.6h0M505.6 181.9h0M483.3 230.4h0M502.3 200.6h0M506.6 213.4h0M495.5 190h0M495.6 216.1h0M486.8 216.4h0M497.6 214.6h0M509 211.8h0M476 202.1h0M502.8 196.9h0M486.8 189.8h0M491 199.2h0M477.7 207.9h0M500.2 198.7h0M511.8 221.6h0M507.8 200.5h0M501.5 198.2h0M477.9 196.1h0M489.6 193.7h0M489.3 185.7h0M498.5 213.6h0M480 177.4h0M485.8 173.9h0M487 221.4h0M487.5 197.1h0M508.6 211.6h0M501.7 214.5h0M503.3 225.8h0M499.9 214.1h0M513.1 197.3h0M495.1 175.9h0M508.7 214.7h0M489.2 187.8h0M478.9 182h0M477.6 217.6h0M492.9 211.3h0M505.8 226.2h0M481.5 211.6h0M477.7 196.1h0M515.4 195.9h0M494.2 227.4h0M517.7 170.6h0M484.4 185.7h0M488.4 227.5h0M476.9 217.1h0M503.4 182.3h0M505.7 175.2h0M481 198.6h0M504.7 233.2h0M514.2 209.8h0M500.2 190.3h0M515.7 222.5h0M513.8 219.3h0M485.7 191.1h0M479.9 208.9h0M511.5 192.1h0M487.8 175.2h0M503 195.2h0M483.1 180.5h0M516.9 212.3h0M480 224.1h0M484.7 213.2h0M494.4 201.4h0M495.7 202.9h0M517.7 204.5h0M480 209h0M491 194.9h0M487.9 202.4h0M515.7 202.5h0M487.6 215.2h0M511.4 183.3h0M490.6 212.7h0M483.1 206.1h0M493 189.1h0M511.9 171.3h0M486.7 229.7h0M502.8 193.9h0M519.4 183.2h0M510.9 199.5h0M480.4 185h0M520.1 181.6h0M506.1 191h0M509.7 172.8h0M513.2 199.5h0M516.7 192.8h0M499.3 219.8h0M515 224.1h0M520.9 215.5h0M509.9 233h0M500.6 170.7h0M518.2 194.2h0M511.7 216.1h0M515.3 184.9h0M517.5 228.1h0M513.5 201.6h0M497.1 182.9h0M501.2 180.7h0M502.4 203.7h0M490.6 199.7h0M517.6 187.4h0M480 173.4h0M509.4 172.3h0M478.7 205.2h0M499.9 213.3h0M503.2 201.4h0M491.8 216.7h0M520.3 209.3h0M490.5 192.7h0M493.9 200.1h0M505.6 202.3h0M490.4 188.6h0M480.1 197.2h0M484 186.2h0M494.3 199.4h0M501.6 197.6h0M516.7 215h0M521.2 209.3h0M495.8 213h0M498.4 201.5h0M508.4 221.2h0M510 188.3h0M485.3 198.6h0M508.4 203.8h0M507.4 187.4h0M504.1 198.3h0M482.8 176.5h0M492.2 200.8h0M483.1 215.5h0M497.7 227.7h0M486.8 186.8h0M515.6 194.9h0M477.7 181.4h0M510.2 207.1h0M489.6 187.6h0M485.4 212.4h0M517.8 184h0M497.2 174.1h0M520.3 186.1h0M505.7 188.6h0M489.2 229.4h0M512.4 176.3h0M503.2 208h0M496.3 228.8h0M486 183.1h0M502.8 193h0M510 179h0M476.2 206.8h0M487.2 192.4h0M489.2 219.6h0M497 218.8h0M519.2 200.9h0M506.2 184.7h0M488 207.8h0M485.8 193.5h0M479.2 214.9h0M514.2 211.9h0M508.8 192.1h0M483.7 215.7h0M488.2 223.9h0M477.9 215.1h0M493 213.3h0M509.4 231.7h0M511.5 219.4h0M484.7 176.2h0M494.1 220.8h0M501.6 192.9h0M511.5 201.5h0M477.5 202.2h0M507.6 203.8h0M486.4 211.2h0M494.8 214.7h0M485.4 200.5h0M486.5 215h0M508 198.9h0M505 196.8h0M517.6 226.9h0M503.5 212.2h0M493.9 183.8h0M520 189.4h0M488.6 215.5h0M501.7 203.7h0M495.4 205.7h0M517.4 213.3h0M514.1 212.8h0M477.4 210.8h0M482 175.9h0M507.1 175.5h0M509.3 186.5h0M517.1 211h0M512.5 221.6h0M518.5 176.8h0M493.3 171.1h0M477.4 196.1h0M520.5 208.3h0M498.5 212.2h0M520.2 225.8h0M481.3 194.5h0M510 195h0M482.3 184.8h0M495.2 186.8h0M497.1 213.2h0M507.7 211.1h0M487.8 223.5h0M488.5 187.4h0M512.2 190.8h0M481.3 202.4h0M519 186.9h0M515.3 227.1h0M486.9 226.1h0M487.5 219.5h0M480.8 182.6h0M487.9 185.6h0M498.1 174.1h0M488.7 170.9h0M520.8 224.5h0M505.2 180.7h0M500.1 208.8h0M494.6 220.2h0M491.7 219.7h0M509.2 179.5h0M481.6 219.3h0M511.8 175.9h0M480 205.5h0M511 180.4h0M500.4 202.3h0M477.2 194h0M490.2 229.2h0M491.9 231.6h0M514.2 194.3h0M494.5 207.2h0M519.8 174.9h0M486 190.1h0M476.8 206.5h0M501 220.3h0M515.1 211.4h0M521 229.3h0M483.8 201.7h0M477.9 196.3h0M485.7 194.5h0M486.5 218h0M497 206.2h0M505.5 227.5h0M506 225h0M493.1 232.6h0M517.8 218.4h0M499.7 194h0M497.4 189.3h0M479.6 191.2h0M484.2 219.4h0M501.5 213.1h0M506.6 220.3h0M494.5 187.7h0M482.3 177.9h0M479.6 222.7h0M508.2 182.5h0M514.5 207.2h0M501.8 177.8h0M499.8 186.8h0M487.1 210h0M509.1 219.1h0M495.1 190.7h0M503.2 193.2h0M501.9 195.7h0M520 216.6h0M512.1 173.1h0M519.7 197.4h0M510 215.4h0M504.8 187.2h0M485 212.2h0M475.8 211.2h0M486.8 192.1h0M482 214.4h0M490.5 183.9h0M513.5 183.6h0M491.7 222.8h0M505.1 179h0M483.9 193.8h0M512.6 206.7h0M519.1 203.6h0M513.9 217.8h0M498 179.7h0M503.7 190.1h0M488.8 219.6h0M516.8 205.5h0M479 176.8h0M520.7 202.4h0M498.8 213.4h0M506 185.4h0M500.5 207.3h0M517.9 219.5h0M503.6 195.5h0M480.3 222.7h0M490.3 206.4h0M503.6 185.1h0M487.1 174h0M494.3 196h0M512.8 196.1h0M487.7 176.7h0M510.6 230.5h0M486 221.2h0M478.4 189.6h0M492.3 194.8h0M478.2 215.9h0M504.3 193.9h0M497.4 220.7h0M520.2 179.4h0M483.3 223.6h0M495.2 224.5h0M482.2 184.1h0M515.2 208.4h0M501.4 171h0M489 190h0M488.6 180.1h0M496.9 186.3h0M505.5 184.8h0M485.6 201.4h0M490.9 226.6h0M515 212h0M508.7 214.9h0M478.5 218.1h0M499.1 210.9h0M484.7 187.4h0M512.4 218.1h0M514.8 170.4h0M518.9 202.8h0M513.7 179.3h0M484.8 206.9h0M501.9 213.6h0M479.3 192h0M481 222.2h0M512.1 192.3h0M476.5 181.2h0M480.8 179.8h0M484 170.4h0M489.2 184.6h0M504.7 201.1h0M506.9 230.4h0M491.2 220.9h0M477.7 217.7h0M506.4 195.1h0M496.5 220.7h0M479.1 214.5h0M510.1 183.5h0M480.4 189.8h0M499.2 205.2h0M513.8 185.2h0M507.8 209.6h0M515.9 211.9h0M479.1 173.9h0M498.3 176.2h0M493 223h0M491.6 226.4h0M505.9 230.8h0M498.3 176.6h0M509.9 173.5h0M504.6 219.1h0M505.1 205.6h0M514.8 215.6h0M489 215.2h0M508.8 186.6h0M507.7 213h0M514.4 182.5h0M512.3 208.5h0M502 209.5h0M486.7 220.8h0M480.3 228.6h0M511.8 183.5h0M501 176.9h0M489.5 220.2h0M520.6 214.4h0M495 205.1h0M493.7 197.2h0M487.9 208.5h0M508.3 206.9h0M502 171.8h0M511.9 209.5h0M487 220.1h0M487.3 176h0M486.4 206.8h0M517.5 205.5h0M495.9 190h0M499.4 175.8h0M502.4 209.6h0M484.9 185.9h0M482.1 199h0M501.1 194.3h0M510.9 225.1h0M484.9 232.6h0M509.7 225.7h0M500.8 193.5h0M510.3 191.5h0M495.5 186.5h0M512.9 206.4h0M509.3 210.2h0M486.3 202.8h0M480.2 193h0M507.1 221h0M518 226.2h0M491.4 198.3h0M500.1 188.1h0M513.2 232.5h0M499.8 192.6h0M520.7 194.2h0M505.6 171.6h0M507.1 206.3h0M501.4 171.8h0M517.5 200.3h0M497.2 216h0M486.6 174.3h0M504.7 179.4h0M518.8 194.5h0M505.5 189.7h0M487 190.2h0M512 195.2h0M489.1 188.4h0M511.9 222.1h0M497.7 212.4h0M484 197.8h0M511.3 207.2h0M506.8 174.8h0M492.7 194.9h0M483.9 217.5h0M510 227.5h0M516.8 231.7h0M484.3 183.7h0M504.9 179.2h0M481.3 218.7h0M504.1 186.3h0M480.2 173.1h0M506.4 214.2h0" stroke="#1ABDC1" stroke-width="1.55" stroke-linecap="round" stroke-opacity="0.78" fill="none"/>
<path d="M488.3 192.5h0M494.1 198.7h0M494.5 201.2h0M506.2 169.4h0M514.6 179.7h0M514.3 201.1h0M504.7 188h0M516.6 199.6h0M479.5 202.2h0M513.9 187.1h0M509.5 182h0M518.4 210.5h0M502.7 187.9h0M503.4 173.9h0M499.9 201.8h0M502.5 199.5h0M516.4 196.7h0M480.9 205.4h0M498.1 196.3h0M502.8 195.1h0M498.8 216.9h0M486 203.2h0M487.9 202.2h0M492.9 180.8h0M519.8 183.1h0M493.4 191.2h0M508.9 214.2h0" stroke="#6D8FD0" stroke-width="1.55" stroke-linecap="round" stroke-opacity="0.78" fill="none"/>
<path d="M499.8 226.5h0M489.8 212.4h0M499.9 205.4h0M485.6 200.7h0M519.2 224.3h0M498 186.6h0M513.7 229h0M519.5 223h0M503 205.6h0M502.2 212.3h0M502 197.6h0M486.8 217h0M485.4 184.7h0M479.9 196.8h0M508.8 223h0M504.2 195.8h0M500 215.7h0M491.1 190.3h0M513 169.9h0M479.8 227.5h0M517.3 174.1h0M479.2 180.8h0M493.9 169.8h0M483.7 172.2h0M477.5 171.3h0M516.6 225.3h0M498.2 172h0M505.8 187.7h0M503.2 195.4h0M492.4 193.9h0M518.7 172.4h0M506.2 221.4h0M506.1 172.6h0M482.4 205.6h0M494.2 217h0M478.9 205.6h0M505.2 191.7h0M482 183.8h0M512.7 185.8h0M514 191.5h0" stroke="#CC6FC0" stroke-width="1.55" stroke-linecap="round" stroke-opacity="0.78" fill="none"/>
<rect x="473.70" y="154.10" width="50.30" height="84.30" fill="none" stroke="#8C8C8C" stroke-width="0.9"/>
<text transform="translate(478.00 243.2) rotate(-90)" font-size="5.6" fill="#3a3a3a" text-anchor="end">0</text>
<text transform="translate(486.78 243.2) rotate(-90)" font-size="5.6" fill="#3a3a3a" text-anchor="end">10</text>
<text transform="translate(495.56 243.2) rotate(-90)" font-size="5.6" fill="#3a3a3a" text-anchor="end">20</text>
<text transform="translate(504.34 243.2) rotate(-90)" font-size="5.6" fill="#3a3a3a" text-anchor="end">30</text>
<text transform="translate(513.12 243.2) rotate(-90)" font-size="5.6" fill="#3a3a3a" text-anchor="end">40</text>
<text transform="translate(521.90 243.2) rotate(-90)" font-size="5.6" fill="#3a3a3a" text-anchor="end">50</text>
<path d="M476.00 238.40v1.6M484.78 238.40v1.6M493.56 238.40v1.6M502.34 238.40v1.6M511.12 238.40v1.6M519.90 238.40v1.6" stroke="#333" stroke-width="0.7"/>
<rect x="473.70" y="142.60" width="50.30" height="11.50" fill="#D0E3EF"/>
<rect x="473.70" y="153.30" width="50.30" height="0.8" fill="#B2C3CF"/>
<text x="492.00" y="150.75" font-size="7.00" fill="#8A9199" textLength="13.70" lengthAdjust="spacingAndGlyphs">chr4</text>
<text x="498.35" y="150.75" font-size="6.60" text-anchor="middle" fill="#3C3C3C">4</text>
<rect x="527.20" y="154.10" width="50.30" height="84.30" fill="#fff"/>
<path d="M527.20 233.60H577.50M527.20 215.52H577.50M527.20 197.45H577.50M527.20 179.38H577.50M527.20 161.30H577.50M527.20 224.56H577.50M527.20 206.49H577.50M527.20 188.41H577.50M527.20 170.34H577.50M529.50 154.10V238.40M538.28 154.10V238.40M547.06 154.10V238.40M555.84 154.10V238.40M564.62 154.10V238.40M573.40 154.10V238.40M533.89 154.10V238.40M542.67 154.10V238.40M551.45 154.10V238.40M560.23 154.10V238.40M569.01 154.10V238.40" stroke="#EBEBEB" stroke-width="0.5" fill="none"/>
<path d="M531 214.4h0M567.2 214.7h0M545 227.5h0M537.7 205.8h0M543.4 179.5h0M569 205.1h0M554.2 191.8h0M552.5 191.9h0M569.9 205.5h0M548.7 215.3h0M564.2 199.1h0M545 219.8h0M534.3 222.1h0M532.9 192.8h0M541.4 205.2h0M567.2 223.7h0M543.5 214.1h0M533.5 196h0M570.8 199.6h0" stroke="#F07470" stroke-width="1.55" stroke-linecap="round" stroke-opacity="0.78" fill="none"/>
<path d="M546.7 195.1h0M562.1 216.2h0M532.4 215.6h0M539.1 185.9h0M542.7 225.7h0M558.5 203.2h0M537.3 179.9h0M535.1 204.4h0M553.1 219h0M538.2 214.7h0M561.1 199.4h0M548.5 215.9h0M533.1 202.1h0M532.8 180.4h0M560.7 200.5h0M562.7 198.4h0M563.4 184.5h0M567.9 183.3h0M533.9 215.4h0M545.1 209.8h0M534.9 224.4h0M533.8 210.6h0M564.2 198.9h0M558.3 191.9h0M554.3 181.5h0M561.9 198.5h0M569.7 189.7h0M533.7 199.3h0M558.3 190.5h0M552.4 219.9h0M530.1 232.1h0M530.8 200.7h0M564.1 227.8h0M535.7 225.6h0M552.7 205.2h0M534.5 221.7h0M568.7 189.2h0" stroke="#B69E31" stroke-width="1.55" stroke-linecap="round" stroke-opacity="0.78" fill="none"/>
<path d="M554 208.1h0M548.7 190.7h0M550 226.2h0M559.9 199h0M534.6 220.2h0M551.1 218.7h0M558.4 202.9h0M561.1 206h0M562.2 223.7h0M546.6 223.7h0M555.7 199.4h0M532.6 204.1h0M531.4 197.4h0M543.4 207.3h0M532.7 195.5h0M552.1 225.9h0M565.3 195.4h0M556.2 193h0M533.2 217.4h0M539.8 199.7h0M535.9 224.7h0M541.4 233.4h0M532.8 217.1h0M549.7 194.4h0M552.1 210.9h0" stroke="#2DB34D" stroke-width="1.55" stroke-linecap="round" stroke-opacity="0.78" fill="none"/>
<path d="M536.3 194.5h0M529.7 192.5h0M559 216h0M550.7 212.3h0M560.3 200.7h0M531.9 205.2h0M549.1 208.8h0M560.7 176h0M567.7 178.9h0M552.4 202h0M544.8 171.3h0M552.6 189.8h0M565.4 182h0M545.8 201.7h0M533.8 188.7h0M560.9 190.2h0M549.5 214.1h0M558.6 216.7h0M560.1 215.3h0M559.6 209.4h0M555.8 211.4h0M555.5 187.3h0M569.1 222.8h0" stroke="#1ABDC1" stroke-width="1.55" stroke-linecap="round" stroke-opacity="0.78" fill="none"/>
<path d="M540.8 173.9h0M534.5 232.4h0M544.6 186.1h0M538.5 168.2h0M567.8 204.5h0M558.1 189.8h0M538.8 225.2h0M547 187h0M558 165.6h0M535.4 175.1h0M539.5 192.2h0M543.5 193.6h0M541.3 182.3h0M559.7 233.5h0M553.4 198.3h0M555.6 222.9h0M541.9 189.9h0M560.9 211.3h0M561.2 228.3h0M542.6 180.9h0M544.2 213.2h0M572.2 203.2h0M567.1 204h0M553.8 190.7h0M545.6 199.1h0M545.9 193.6h0M547.3 205.9h0M545.7 205.9h0M552.3 197.1h0M550.6 185.1h0M543.7 192.7h0M532.1 187.8h0M550.1 194h0M566.9 197.4h0M560.7 200.3h0M562.7 184.5h0M556.6 203.6h0M551.2 196.8h0M556.4 180.8h0M547.7 183.3h0M556.1 194.7h0M557.3 214.2h0M531.7 210h0M554.7 196.9h0M550 204.3h0M572.1 186.4h0M530 218.4h0M555.8 199.3h0M553.1 208.4h0M545.9 182.5h0M559.3 185.9h0M572 197.8h0M567.6 200.1h0M559.9 200.9h0M564.5 213.8h0M567.6 185.5h0M569.8 168.4h0M536.8 191.7h0M536.6 162.9h0M546 188.3h0M546.5 183.5h0M567.5 206.5h0M546.3 203.3h0M536.6 191.6h0M536.8 183.5h0M554.9 222.2h0M551 211.8h0M569.9 174.9h0M565.7 193.6h0M554.3 194.6h0M553.8 202.2h0M548 203.4h0M531.7 169.7h0M541.2 185.8h0M549.2 194.4h0M550.5 201.6h0M546 194.6h0M562.1 199.7h0M561.4 204.4h0M554 180.4h0M560.7 186h0M539.1 194.6h0M552.7 188.9h0M539.5 184.4h0M545.4 169.1h0M571.6 224.5h0M542.5 188.3h0M569 182h0M566.6 191.7h0M565.9 194.7h0M556.9 222.3h0M569.5 191.5h0M563.4 207.1h0M557.7 190.8h0M571 184.5h0M558.8 196.7h0M565 195.4h0M561.1 181.6h0M566.6 202.5h0M540 195.6h0M544.4 204.8h0M544.6 190.4h0M550.8 181.1h0M568.5 216.6h0M535.1 162.9h0M530.5 184.6h0M567.2 191.7h0M542 198.1h0M540.4 193h0M558 213.3h0M549.6 201.5h0M568.5 191h0M540 175.5h0M570.1 188.5h0M548.4 199.1h0M556.5 206.2h0M545.7 213.3h0M555.8 203.4h0M557.8 199h0M568.9 202.8h0M531.7 197.9h0M563.4 198.5h0M569.5 176.8h0M547.4 168.3h0M558.5 196.3h0M531.8 181.8h0M557.4 188.1h0M542.1 197.8h0M540 196.2h0M559.5 191.8h0M560.8 182.2h0M570.1 220.5h0M535.3 194h0M552.2 169.5h0M532.4 198.9h0M554.6 182.3h0M539.2 202.3h0M547.9 183.8h0M538.7 204.8h0M538 184.2h0M546.1 197.6h0M553.3 185.2h0M550.1 199h0M559.8 183h0M533.3 189.1h0M537.9 232.6h0M543.1 197.4h0M531.1 199.4h0M529.8 193.8h0M557.6 196.7h0M560.6 192.7h0M537.7 201.9h0M533.9 188.1h0M532.7 188h0M551.8 204.6h0M553.4 183.8h0M544.4 212h0M555.4 195.2h0M569.8 184.1h0M534.6 220h0M561 204.1h0M537.7 184h0M563.6 197.5h0M532.7 186.1h0M549.7 197.5h0M541.6 192.8h0M532.8 211.3h0M546.8 215.7h0M540.2 195h0M562.3 200.3h0M539.7 198.6h0M535.8 180.7h0M555 183.3h0M541.7 203.9h0M552.8 181.1h0M547 205.3h0M548.6 187.4h0M563.4 221.2h0M529.6 188.5h0M568 177.2h0M561.5 205.6h0M533.8 198.9h0M545.6 188.4h0M532.8 203.4h0M541 180.8h0M535.3 190.3h0M538.1 215.2h0M560.4 233.1h0M568.4 190.4h0M571.3 173.7h0M530.7 196h0M561.2 197.1h0M548.6 174.9h0M572.5 222.3h0M565.9 187.6h0M546.1 214.4h0M531.1 200.3h0M534.9 171.8h0M538.5 199.1h0M533.6 191.3h0M553.3 221.5h0M552.3 196.5h0M555.9 196.8h0M545.7 202h0M534.6 178.3h0M559.5 199.7h0M541.5 229.2h0M566.2 195.2h0M559.9 196.9h0M539.5 205.2h0M533.1 199h0M542.3 199.7h0M553.2 185.7h0M537.8 227.3h0M549.9 171.8h0M556 196.3h0M560.8 175.7h0M534 162.4h0M537.9 199.1h0M531.8 208.1h0M567.6 190.3h0M540.9 201.7h0M545.2 193.8h0M572.4 199.1h0M547.2 176.7h0M554 211.2h0M552.3 185.4h0M569.6 184.3h0M534.5 204.6h0M555.1 200.8h0M560.5 187.2h0M568.3 158.2h0M535.5 188.2h0M543.2 220.7h0M543.2 175.4h0M563.4 185.5h0M571.4 229.2h0M541.2 173.3h0M537.4 204.5h0M541 185.1h0M549.9 194.3h0M550.8 202.5h0M567.6 184.9h0M556.3 221.1h0M537.7 187.7h0M559.7 175.6h0M552.6 227.3h0M567.8 185.2h0M569.8 206h0M552.3 181.4h0M567.7 183.1h0M543.9 194.1h0M554.8 209.1h0M550.2 184.8h0M560.8 198.8h0M555.3 171.7h0M570.6 204.2h0M568.2 198.4h0M559.6 199.6h0M554.4 185.2h0M539.5 158.7h0M570.2 208.9h0M559.2 158.4h0M547.2 206h0M546.1 173.5h0M529.6 177.1h0M543.7 211.5h0M540.4 204.2h0M534 192.5h0M557 196.2h0M550.9 188.3h0M564.1 209.8h0M561.3 168.4h0M530.7 216.6h0M562.3 191.4h0M561.3 183.7h0M533.8 224.3h0M569.4 185.4h0M561.9 181.1h0M532.5 184h0M569.5 183.3h0M535 189.1h0M538 194.3h0M564.5 192h0M551.5 201.5h0M555.2 228h0M549.7 177.6h0M545.3 176.4h0M536.9 186h0M571.9 181.7h0M560.6 169.2h0M539.3 194.5h0M535.8 178.3h0M561.2 199.8h0M564.1 161.4h0M564.8 215.6h0M557.5 173.6h0M564.6 190.8h0M570.1 228.1h0M554.7 200.8h0M560.3 187.3h0M542.2 224.3h0M546.8 183.8h0M534.1 216.9h0M569.3 185.8h0M545.1 169.3h0M562.3 206h0M548.6 189.3h0M549.2 190.1h0M561.2 182.7h0M572.3 191.9h0M538.7 190.9h0M531.1 189.8h0M552.3 181.3h0M537.3 189.8h0M550.6 209.8h0M552 203.8h0M565.3 202.8h0M560.4 188.9h0M559.8 203h0M545.3 185.9h0M568.7 191.6h0M567 206.2h0M530 219.6h0M564.8 200.1h0M562.4 160.6h0M542.6 193.3h0M561.2 198.8h0M542.2 183.6h0M541.8 169.8h0M533.3 202.7h0M539.7 186.7h0M563 175.8h0M560.6 202h0M568.3 191.5h0M565.8 166h0M553.3 188.4h0M530.3 216.2h0M537 189.8h0M569.6 194.7h0M544.7 222.4h0M540.1 179.6h0M563.9 212.4h0M530.7 201.4h0M557.2 195.4h0M554.9 190.9h0M559.2 223.2h0M547.1 206.1h0M557.4 181h0M557.5 187.2h0M557.4 185.6h0M561.8 197.2h0M571.7 219.3h0M548.1 218.7h0M549.4 183.1h0M531 182.8h0M556.2 206.4h0M546.6 177.4h0M536.4 199.1h0M567.1 218.3h0M540.9 185.9h0M541.5 196.8h0M535.9 221.3h0M543.4 183.3h0M570.5 201.2h0M534.5 209.5h0M531 190.1h0M555.5 187.7h0M564.1 186.3h0M554.5 198.5h0M544.6 186.7h0M568.4 203.5h0M542.9 197.6h0M570.5 184.6h0M555.8 212.8h0M554 206.2h0M546.5 206.1h0M567.1 190.1h0M543.9 226.2h0M557.1 184.1h0M534.9 202.6h0M542.6 188.7h0M533.7 199.3h0M538.6 201.7h0M555.3 219.1h0M560.4 211.2h0M557.6 201.4h0M550.4 196.7h0M570.5 233h0M536.7 225.7h0M529.6 180.8h0M549.5 212.5h0M533.1 164.2h0M549.9 199.7h0M536.9 197h0M558.6 220.1h0M542.6 205.5h0M547.9 185.1h0M570.9 205h0M542.6 203.5h0M567.2 203.5h0M545.3 190.2h0M571.3 167.3h0M572.2 207.8h0M565.4 188.1h0M562.6 172h0M553.4 199.1h0M542.6 178.8h0M562.8 198.6h0M561.3 183.1h0M544.6 187.7h0M562.4 186.8h0M536.7 224.2h0M536.1 182.9h0M560 210.3h0M550.9 202.3h0M530 198.3h0M563.3 199.2h0M565.3 191.3h0M566.9 202.4h0M548 185.9h0M570.3 187.4h0M563.4 181.4h0M558.2 198.5h0M571.8 216.6h0M549.3 183.9h0M559.1 192.7h0M541 205h0M539.4 182.5h0M571.8 215.3h0M541.9 182.1h0M571.7 227h0M556.2 203.4h0M529.4 202.3h0M534 205.8h0M534.4 193.2h0M566.2 161.1h0M552.6 188.2h0M550.7 202.7h0M540.4 194.8h0M567.7 188h0M562 195h0M543.5 182.9h0M542.2 189.8h0M534.4 201.4h0M545.5 178.6h0M537.1 176h0M551.9 204.8h0M532.4 186.1h0M555.2 178.8h0M548.5 195.6h0M553.9 212.9h0M568.3 206.2h0M538.5 202.3h0M570.8 229.6h0M531.8 200h0M564.7 206.5h0M536.2 180.8h0M551.1 191.3h0M533.2 182.3h0M559.7 177.3h0M544 197.9h0M549.8 210.2h0M562.8 178h0M568.6 232.9h0M554.4 191.7h0M544.5 188.8h0M566.1 198.8h0M554 205.1h0M560.2 183h0M555.5 185.8h0M566.8 188.9h0M559.3 203.9h0M564.6 196h0M542.2 202.7h0M568.8 213.7h0M550.3 194.7h0M531.7 199.2h0M530.8 194.7h0M556.6 183.7h0M537.7 224.8h0M560.3 194.6h0M538.2 201.7h0M550.1 171.7h0M557.8 186.3h0M548.9 216.5h0M559.5 199.9h0M544.9 200.5h0M572.2 197.6h0M559.8 186.2h0M570.2 183.2h0M548.1 174.1h0M561.8 222.6h0M561.6 182.3h0M542.7 202.6h0M570.4 188h0M567 193.9h0M536.3 219.6h0M544.1 162.4h0M546.3 193.6h0M551.3 184.7h0M541 196.6h0M560.3 187.3h0M541.1 166.6h0M546.6 189.5h0M548.4 164h0M554.9 199h0M572.5 219.5h0M538.4 208.8h0M561.6 203.3h0M542.3 195.1h0M532 200.9h0M557.8 219.1h0M552.1 187.7h0M547.8 210.4h0M562.2 185.4h0M556.2 210h0M542.7 203h0M557.8 213.7h0M564.3 205.4h0M531.9 192.3h0M535 195.6h0M547.7 183.1h0M562.5 195.5h0M546.7 197.9h0M552.8 216.6h0M567.2 186.7h0M567.3 181.9h0M560.8 176.2h0M549.1 205.5h0M549.3 202.7h0M541.4 165.8h0M556.1 197.3h0M553 180.7h0M557 224.2h0M559.9 184.7h0M551.2 201.9h0M540.6 219.4h0M566.7 228.2h0M572.1 191.5h0M564.9 190.4h0M563.7 205.4h0M564.9 164.4h0M554.3 195.4h0M533 202.4h0M570.5 189.3h0M564.9 191h0M571.9 195h0M557.5 190.2h0M532.6 177.8h0M570.6 205.9h0M551.5 231.8h0M562.3 205.3h0M537.8 183.9h0M538.9 201.7h0M540.9 204h0M570 201.3h0M569 202.4h0M561.4 198.3h0M563 203.1h0M530.2 217h0M558.2 197.1h0M541.9 221.6h0M550.5 203.5h0M543.7 217.9h0M544.8 197.1h0M554 177.4h0M558.1 189.9h0M535.6 170.4h0M541 176.9h0M533.9 194h0M549.1 206.7h0M546.3 197.3h0M539.7 183.9h0M563.2 199.6h0M557.8 199.8h0M549.6 183.2h0M533.5 202.8h0" stroke="#6D8FD0" stroke-width="1.55" stroke-linecap="round" stroke-opacity="0.78" fill="none"/>
<path d="M570.4 224.1h0M553 215.6h0M563.4 225.3h0M568.4 172h0M539.2 191.5h0M534.9 194h0M557.7 176.6h0M556.6 186.1h0M534.9 188.4h0M530 188.1h0M537.2 191.7h0M540.7 192.1h0M530.4 190.3h0M538.5 194.5h0M539.8 219.9h0M571.5 218.6h0M558.3 220.2h0M534.4 209.9h0M567.7 221.5h0M567.8 188.4h0M572.4 211.5h0M563.5 207.4h0M532.3 201.1h0M565.3 221.1h0M542.8 216.4h0M537.3 188.5h0M564.6 204.4h0M567.2 222.7h0M556.3 196.4h0" stroke="#CC6FC0" stroke-width="1.55" stroke-linecap="round" stroke-opacity="0.78" fill="none"/>
<rect x="527.20" y="154.10" width="50.30" height="84.30" fill="none" stroke="#8C8C8C" stroke-width="0.9"/>
<text transform="translate(531.50 243.2) rotate(-90)" font-size="5.6" fill="#3a3a3a" text-anchor="end">0</text>
<text transform="translate(540.28 243.2) rotate(-90)" font-size="5.6" fill="#3a3a3a" text-anchor="end">10</text>
<text transform="translate(549.06 243.2) rotate(-90)" font-size="5.6" fill="#3a3a3a" text-anchor="end">20</text>
<text transform="translate(557.84 243.2) rotate(-90)" font-size="5.6" fill="#3a3a3a" text-anchor="end">30</text>
<text transform="translate(566.62 243.2) rotate(-90)" font-size="5.6" fill="#3a3a3a" text-anchor="end">40</text>
<text transform="translate(575.40 243.2) rotate(-90)" font-size="5.6" fill="#3a3a3a" text-anchor="end">50</text>
<path d="M529.50 238.40v1.6M538.28 238.40v1.6M547.06 238.40v1.6M555.84 238.40v1.6M564.62 238.40v1.6M573.40 238.40v1.6" stroke="#333" stroke-width="0.7"/>
<rect x="527.20" y="142.60" width="50.30" height="11.50" fill="#5FA4CD"/>
<rect x="527.20" y="153.30" width="50.30" height="0.8" fill="#5189AB"/>
<text x="552.35" y="150.75" font-size="6.60" text-anchor="middle" fill="#4A4A4A">5</text>
<rect x="580.70" y="154.10" width="50.30" height="84.30" fill="#fff"/>
<path d="M580.70 233.60H631.00M580.70 215.52H631.00M580.70 197.45H631.00M580.70 179.38H631.00M580.70 161.30H631.00M580.70 224.56H631.00M580.70 206.49H631.00M580.70 188.41H631.00M580.70 170.34H631.00M583.00 154.10V238.40M591.78 154.10V238.40M600.56 154.10V238.40M609.34 154.10V238.40M618.12 154.10V238.40M626.90 154.10V238.40M587.39 154.10V238.40M596.17 154.10V238.40M604.95 154.10V238.40M613.73 154.10V238.40M622.51 154.10V238.40" stroke="#EBEBEB" stroke-width="0.5" fill="none"/>
<path d="M590.7 208h0M591.4 217h0M613.3 190.1h0M583.2 228.8h0M588 220.1h0M588.7 199.3h0M589.9 219.7h0" stroke="#F07470" stroke-width="1.55" stroke-linecap="round" stroke-opacity="0.78" fill="none"/>
<path d="M586.8 199.8h0M616.5 186.5h0M586.2 204.7h0M617.3 190.4h0M597.9 218h0M600.3 186.7h0M614.8 183h0M615.3 222.9h0M585.8 220.4h0" stroke="#B69E31" stroke-width="1.55" stroke-linecap="round" stroke-opacity="0.78" fill="none"/>
<path d="M583.1 195.9h0M584.9 186.6h0M589.3 187.7h0M616.2 196.3h0M588.5 233.1h0M585.7 231.6h0M601.6 224.6h0M585.3 202.4h0M588.5 210.6h0" stroke="#2DB34D" stroke-width="1.55" stroke-linecap="round" stroke-opacity="0.78" fill="none"/>
<path d="M621.4 208h0M592.5 230.2h0M615 192.6h0M618.9 217.3h0M606.6 200.6h0M614.3 211.9h0M618.3 222.5h0M606.4 191.9h0M621.4 201.1h0M620.2 197.4h0M587.6 185.3h0" stroke="#1ABDC1" stroke-width="1.55" stroke-linecap="round" stroke-opacity="0.78" fill="none"/>
<path d="M610.2 199.3h0M616.6 199.2h0M586.8 178.4h0M620 177.6h0M584.7 181.1h0M586.7 189.1h0M586.9 231.1h0M598.3 188.1h0M596.4 202.8h0M618.5 178.6h0M621.6 215.6h0M589.8 193.7h0" stroke="#6D8FD0" stroke-width="1.55" stroke-linecap="round" stroke-opacity="0.78" fill="none"/>
<path d="M588 213.6h0M591.1 192.8h0M587.6 169.6h0M615.8 193h0M608.1 203.7h0M620.8 233.4h0M590.2 207.4h0M586.4 215.1h0M616.1 197.3h0M616.1 189.5h0M590.1 210.8h0M586 229.4h0M586 220.6h0M607.7 172.2h0M583.5 196.5h0M614.7 209.3h0M617.8 225.7h0M588.9 227.8h0M598.8 227.2h0M587.9 217.2h0M621.2 198.3h0M618.3 182.6h0M617.8 213.7h0M587.7 199.1h0M604.4 226.9h0M590.3 233.3h0M617.4 194h0M614.3 219.6h0M591.9 200.8h0M598.8 217.6h0M618.5 172.3h0M613.8 194.8h0M588 208.1h0M619.6 193.1h0M621.5 191.9h0M584.6 186.6h0M618.7 212.8h0M585.3 227.4h0M613.9 229.1h0M617.9 177.2h0M594.5 211.6h0M601.7 186.6h0M616.7 185.3h0M589.3 184.9h0M619.6 199.9h0M618.4 202.3h0M590.3 177h0M584.7 216.9h0M615 192.7h0M583.8 215.1h0M586.9 177.6h0M594.1 188.1h0M586.3 193.6h0M600.8 219.3h0M622 193.1h0M614.4 176.6h0M583 220.9h0M588.6 202.2h0M613.7 176.8h0M593.3 197.8h0M619.2 185h0M600.6 229.3h0M615.7 172.1h0M616.1 172.4h0M584.1 190h0M590.2 203.1h0M588.6 174h0M584.6 185.3h0M621.5 195.4h0M618.9 188.9h0M619.3 227.4h0M616 180.4h0M614.4 190.3h0M608.3 175.5h0M615 193.1h0M588.3 192h0M586.3 197.6h0M584.9 185h0M620.1 195.5h0M589.2 171.2h0M617.2 222.4h0M615 207.5h0M614.6 189h0M606.3 199.7h0M584.4 231.7h0M619 217h0M617.6 213.9h0M585.7 200.6h0M585.2 214.3h0M590 176.3h0M589.8 193.1h0M591.9 211.4h0M593.5 188.2h0M604.3 211.7h0M584.6 213.6h0M588.7 228.6h0M585 221h0M615.7 196.7h0M586.1 196.7h0M618.8 221.5h0M596.1 173h0M583.8 203.7h0M615 184.9h0M606.9 215.9h0M614.5 188.1h0M590.5 192.5h0M591.6 214h0M590.6 200.6h0M617.7 174.2h0M607.4 171.3h0M603.2 200.2h0M619.5 218h0M618.1 186.3h0M620.9 206.7h0M620.1 183.8h0M582.8 198.4h0M587.6 213.4h0M617.6 193.2h0M616.9 233.3h0M598.2 212.9h0M615.5 190.2h0M596.4 189.3h0M589.9 170.6h0M617.8 222.4h0M610.2 173.2h0M588.5 194.9h0M617.6 188.2h0M588.1 232.8h0M617.4 185.7h0M620 198.2h0M585.6 217.9h0M616.3 188.5h0M598.7 224.5h0M585.9 230.9h0M605.1 201.6h0M614.8 219.9h0M586.8 194.3h0M619.6 181.8h0M620.1 204.5h0M618.5 176.7h0M586.4 227.4h0M589.1 229.4h0M620 231.6h0M615.7 171.4h0M586.8 223.8h0M614.6 189h0M585 209.8h0M617.5 232.8h0M608.6 232.5h0M620.2 195.8h0M583.6 194.3h0M614.5 226.1h0M603.3 184.7h0M613.6 171.9h0M591.2 212.1h0M590.1 216.3h0M615.4 212.2h0M584.6 213.8h0M593.2 176.3h0M621.5 191.9h0M617.4 194.9h0M620.4 190.8h0M586.7 215.4h0M612.6 188h0M618.3 228.2h0M585.9 193.1h0M590 195.6h0M617.2 183.6h0M584.3 219.2h0M619.8 209.7h0M583.5 184.6h0M618.7 228.5h0M616.4 212.5h0M614.8 192.8h0M620.7 197h0M619.4 170.8h0M586.8 212.5h0M594 193h0M619.8 183.7h0M620.3 215.8h0M619.7 175h0M587.7 184.1h0M621.2 210.7h0M594 216.7h0M614.3 213.8h0M584.1 199.1h0M585.3 211.6h0M616.8 190.5h0M615 198h0M582.9 219.1h0M588.3 214.7h0M585.2 209.7h0M602 188.7h0M589.8 197.8h0M617.1 172.8h0M616.2 175.6h0M616.4 196.1h0M619.6 218.3h0M618.4 210.7h0M589.3 227h0M589.6 217.4h0M613.4 176h0M617.5 218.6h0M620.8 201.2h0M616.2 197.1h0M614.3 182h0M621.9 178.8h0M589.3 188.4h0M616.2 202.5h0M621.4 218.5h0M591.2 215.9h0M587.9 176.7h0M616.1 196h0M615.4 194.9h0M584.9 206.6h0M588.8 221.7h0M587.4 194.4h0M619.3 227h0M620.9 194.4h0M590.1 193.5h0M588.6 203.2h0M619.1 214h0M585.8 222.1h0M598.1 177.9h0M603.5 217.8h0M615.6 177.6h0M616.7 178.2h0M619.1 191.4h0M600.4 185.1h0M592.4 182.9h0M585.9 204.8h0M591.7 215.4h0M589 211.1h0M616.6 203.1h0M620 205.1h0M585.9 206.2h0M585.2 180.8h0M614.4 208h0M620.2 187.1h0M617.6 176.5h0M614.1 217.9h0M621.1 207.6h0M585.4 219.4h0M586.2 221.9h0M585.2 199.9h0M614.8 214.2h0M591.3 223.3h0M598.5 200h0M616.3 202.7h0M589.5 175.9h0M585.9 192.2h0M620.2 222.9h0M589.3 201.2h0M615.6 203.1h0M590.8 212.3h0M587.7 186.9h0M583.4 230.3h0M618.4 208.1h0M587.8 204.9h0M618 228.2h0M590 212.3h0M601.8 200.9h0M590.7 202.9h0M585 203.2h0M618 217.5h0M616.7 177.2h0M582.8 222h0M617.6 189.8h0M586.1 201.3h0M611.5 199.1h0M608 185.1h0M583.9 189.6h0M592.4 211.8h0M585.3 185.9h0M603.7 203.4h0M616.7 189.6h0M597 202.3h0M620.4 197h0M588.8 196h0M600 188.2h0M590.3 205.5h0M583.7 174.1h0M593.5 180.6h0M620.2 190.6h0M590.1 214.6h0M609.8 180.9h0M590.6 183.7h0M588.8 231.2h0M618.8 221.9h0M585.2 185.1h0M586.5 175.8h0M617.4 173.4h0M589.8 202.9h0M586.3 210.6h0M614.1 198.4h0M618.6 198.2h0M590.2 177.8h0M588.1 197.5h0M588.4 213.1h0M618.5 214.3h0M618.3 202.1h0M618.3 206.5h0M618.9 173.3h0M606.2 212.7h0" stroke="#CC6FC0" stroke-width="1.55" stroke-linecap="round" stroke-opacity="0.78" fill="none"/>
<rect x="580.70" y="154.10" width="50.30" height="84.30" fill="none" stroke="#8C8C8C" stroke-width="0.9"/>
<text transform="translate(585.00 243.2) rotate(-90)" font-size="5.6" fill="#3a3a3a" text-anchor="end">0</text>
<text transform="translate(593.78 243.2) rotate(-90)" font-size="5.6" fill="#3a3a3a" text-anchor="end">10</text>
<text transform="translate(602.56 243.2) rotate(-90)" font-size="5.6" fill="#3a3a3a" text-anchor="end">20</text>
<text transform="translate(611.34 243.2) rotate(-90)" font-size="5.6" fill="#3a3a3a" text-anchor="end">30</text>
<text transform="translate(620.12 243.2) rotate(-90)" font-size="5.6" fill="#3a3a3a" text-anchor="end">40</text>
<text transform="translate(628.90 243.2) rotate(-90)" font-size="5.6" fill="#3a3a3a" text-anchor="end">50</text>
<path d="M583.00 238.40v1.6M591.78 238.40v1.6M600.56 238.40v1.6M609.34 238.40v1.6M618.12 238.40v1.6M626.90 238.40v1.6" stroke="#333" stroke-width="0.7"/>
<rect x="580.70" y="142.60" width="50.30" height="11.50" fill="#A3BCDF"/>
<rect x="580.70" y="153.30" width="50.30" height="0.8" fill="#8BA0BD"/>
<text x="600.05" y="150.75" font-size="7.00" fill="#7896CC" textLength="14.60" lengthAdjust="spacingAndGlyphs">chrX</text>
<text x="604.35" y="150.75" font-size="6.60" text-anchor="middle" fill="#3C3C3C">X</text>
<text x="310.60" y="235.50" font-size="5.30" text-anchor="end" fill="#3d3d3d">0</text>
<text x="310.60" y="217.42" font-size="5.30" text-anchor="end" fill="#3d3d3d">5</text>
<text x="310.60" y="199.35" font-size="5.30" text-anchor="end" fill="#3d3d3d">10</text>
<text x="310.60" y="181.28" font-size="5.30" text-anchor="end" fill="#3d3d3d">15</text>
<text x="310.60" y="163.20" font-size="5.30" text-anchor="end" fill="#3d3d3d">20</text>
<path d="M311.4 233.60h1.8M311.4 215.52h1.8M311.4 197.45h1.8M311.4 179.38h1.8M311.4 161.30h1.8" stroke="#333" stroke-width="0.7"/>
<text transform="translate(287.3 244.3) rotate(-90)" font-size="8.2" font-weight="bold" stroke="#000" stroke-width="0.18" textLength="87.3" lengthAdjust="spacingAndGlyphs"><tspan font-style="italic">C. elegans</tspan> chromosome</text>
<text transform="translate(295.4 223.0) rotate(-90)" font-size="8.2" font-weight="bold" stroke="#000" stroke-width="0.18" textLength="49.8" lengthAdjust="spacingAndGlyphs">position (Mbp)</text>
<text x="417.0" y="263.9" font-size="7.7" font-weight="bold" stroke="#000" stroke-width="0.18" textLength="150.3" lengthAdjust="spacingAndGlyphs"><tspan font-style="italic">H. contortus</tspan> chromosome position (Mbp)</text>
<text x="641.00" y="159.20" font-size="8.30" font-style="italic" textLength="36.50" lengthAdjust="spacingAndGlyphs" stroke="#000" stroke-width="0.22">C. elegans</text>
<text x="640.90" y="168.30" font-size="8.30" textLength="46.00" lengthAdjust="spacingAndGlyphs" stroke="#000" stroke-width="0.22">chromosome</text>
<circle cx="645.3" cy="175.70" r="1.15" fill="#F07470" fill-opacity="0.6"/>
<text x="653.80" y="177.70" font-size="5.60" fill="#1a1a1a" stroke="#1a1a1a" stroke-width="0.12">I</text>
<circle cx="645.3" cy="185.70" r="1.15" fill="#B69E31" fill-opacity="0.6"/>
<text x="653.80" y="187.70" font-size="5.60" fill="#1a1a1a" stroke="#1a1a1a" stroke-width="0.12">II</text>
<circle cx="645.3" cy="195.70" r="1.15" fill="#2DB34D" fill-opacity="0.6"/>
<text x="653.80" y="197.70" font-size="5.60" fill="#1a1a1a" stroke="#1a1a1a" stroke-width="0.12">III</text>
<circle cx="645.3" cy="205.70" r="1.15" fill="#1ABDC1" fill-opacity="0.6"/>
<text x="653.80" y="207.70" font-size="5.60" fill="#1a1a1a" stroke="#1a1a1a" stroke-width="0.12">IV</text>
<circle cx="645.3" cy="215.70" r="1.15" fill="#6D8FD0" fill-opacity="0.6"/>
<text x="653.80" y="217.70" font-size="5.60" fill="#1a1a1a" stroke="#1a1a1a" stroke-width="0.12">V</text>
<circle cx="645.3" cy="225.70" r="1.15" fill="#CC6FC0" fill-opacity="0.6"/>
<text x="653.80" y="227.70" font-size="5.60" fill="#1a1a1a" stroke="#1a1a1a" stroke-width="0.12">X</text></svg>
</body></html>
